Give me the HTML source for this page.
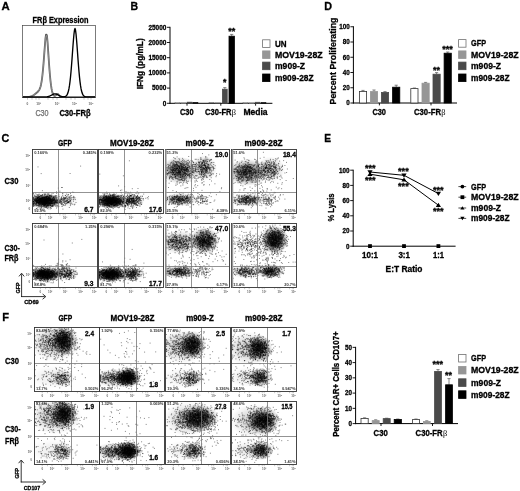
<!DOCTYPE html>
<html><head><meta charset="utf-8"><title>Figure</title>
<style>
html,body{margin:0;padding:0;background:#fff;}
svg{display:block;font-family:'Liberation Sans', sans-serif;}
</style></head>
<body>
<svg width="520" height="491" viewBox="0 0 520 491">
<defs><filter id="bl" x="-5%" y="-5%" width="110%" height="110%"><feGaussianBlur stdDeviation="0.35"/></filter><radialGradient id="bg"><stop offset="0" stop-color="#000" stop-opacity="1"/><stop offset="0.45" stop-color="#000" stop-opacity="0.8"/><stop offset="0.75" stop-color="#000" stop-opacity="0.3"/><stop offset="1" stop-color="#000" stop-opacity="0"/></radialGradient><clipPath id="c0"><rect x="32.6" y="149.4" width="65.0" height="64.2"/></clipPath><clipPath id="c1"><rect x="98.6" y="149.4" width="64.8" height="64.2"/></clipPath><clipPath id="c2"><rect x="165.0" y="149.4" width="64.0" height="64.2"/></clipPath><clipPath id="c3"><rect x="231.6" y="149.4" width="65.2" height="64.2"/></clipPath><clipPath id="c4"><rect x="32.6" y="223.2" width="65.0" height="64.2"/></clipPath><clipPath id="c5"><rect x="98.6" y="223.2" width="64.8" height="64.2"/></clipPath><clipPath id="c6"><rect x="165.0" y="223.2" width="64.0" height="64.2"/></clipPath><clipPath id="c7"><rect x="231.6" y="223.2" width="65.2" height="64.2"/></clipPath><clipPath id="c8"><rect x="34.4" y="327.6" width="65.2" height="63.8"/></clipPath><clipPath id="c9"><rect x="99.6" y="327.6" width="65.0" height="63.8"/></clipPath><clipPath id="c10"><rect x="165.6" y="327.6" width="65.0" height="63.8"/></clipPath><clipPath id="c11"><rect x="231.6" y="327.6" width="65.2" height="63.8"/></clipPath><clipPath id="c12"><rect x="34.4" y="401.0" width="65.2" height="63.4"/></clipPath><clipPath id="c13"><rect x="99.6" y="401.0" width="65.0" height="63.4"/></clipPath><clipPath id="c14"><rect x="165.6" y="401.0" width="65.0" height="63.4"/></clipPath><clipPath id="c15"><rect x="231.6" y="401.0" width="65.2" height="63.4"/></clipPath></defs>
<rect width="520" height="491" fill="#fff"/>
<text x="1.40" y="9.70" font-size="11.44" font-weight="bold" fill="#000" textLength="8.20" lengthAdjust="spacingAndGlyphs" stroke="#000" stroke-width="0.3">A</text>
<text x="130.40" y="9.70" font-size="11.44" font-weight="bold" fill="#000" textLength="7.60" lengthAdjust="spacingAndGlyphs" stroke="#000" stroke-width="0.3">B</text>
<text x="324.20" y="9.70" font-size="11.44" font-weight="bold" fill="#000" textLength="7.80" lengthAdjust="spacingAndGlyphs" stroke="#000" stroke-width="0.3">D</text>
<text x="1.40" y="142.20" font-size="11.44" font-weight="bold" fill="#000" textLength="7.80" lengthAdjust="spacingAndGlyphs" stroke="#000" stroke-width="0.3">C</text>
<text x="324.20" y="142.20" font-size="11.44" font-weight="bold" fill="#000" textLength="6.80" lengthAdjust="spacingAndGlyphs" stroke="#000" stroke-width="0.3">E</text>
<text x="2.20" y="320.70" font-size="11.44" font-weight="bold" fill="#000" textLength="6.80" lengthAdjust="spacingAndGlyphs" stroke="#000" stroke-width="0.3">F</text>
<text x="32.60" y="22.70" font-size="8.14" font-weight="bold" fill="#000" textLength="56.00" lengthAdjust="spacingAndGlyphs" stroke="#000" stroke-width="0.3">FRβ Expression</text>
<rect x="22.50" y="25.50" width="73.00" height="72.00" fill="none" stroke="#444" stroke-width="0.7"/>
<path d="M23.0 97.2 L23.5 97.2 L24.0 97.2 L24.5 97.2 L25.0 97.2 L25.5 97.2 L26.0 97.2 L26.5 97.1 L27.0 97.1 L27.5 97.1 L28.0 97.0 L28.5 97.0 L29.0 96.9 L29.5 96.8 L30.0 96.7 L30.5 96.6 L31.0 96.4 L31.5 96.3 L32.0 96.0 L32.5 95.8 L33.0 95.5 L33.5 95.2 L34.0 94.9 L34.5 94.5 L35.0 94.1 L35.5 93.7 L36.0 93.3 L36.5 92.9 L37.0 92.5 L37.5 92.0 L38.0 91.5 L38.5 90.9 L39.0 90.2 L39.5 89.4 L40.0 88.2 L40.5 86.7 L41.0 84.7 L41.5 82.1 L42.0 78.8 L42.5 74.7 L43.0 69.7 L43.5 63.9 L44.0 57.4 L44.5 50.6 L45.0 44.0 L45.5 38.1 L46.0 34.6 L46.5 34.6 L47.0 36.1 L47.5 41.7 L48.0 48.6 L48.5 56.0 L49.0 63.2 L49.5 70.0 L50.0 75.9 L50.5 81.0 L51.0 85.2 L51.5 88.4 L52.0 91.0 L52.5 92.9 L53.0 94.2 L53.5 95.2 L54.0 95.7 L54.5 96.0 L55.0 95.9 L55.5 95.6 L56.0 95.1 L56.5 94.6 L57.0 94.2 L57.5 94.0 L58.0 94.2 L58.5 94.7 L59.0 95.3 L59.5 95.9 L60.0 96.4 L60.5 96.8 L61.0 97.0 L61.5 97.1 L62.0 97.2 L62.5 97.2 L63.0 97.2 L63.5 97.2 L64.0 97.2 L64.5 97.2 L65.0 97.2 L65.5 97.2 L66.0 97.2 L66.5 97.2 L67.0 97.2 L67.5 97.2 L68.0 97.2 L68.5 97.2 L69.0 97.2 L69.5 97.2 L70.0 97.2 L70.5 97.2 L71.0 97.2 L71.5 97.2 L72.0 97.2 L72.5 97.2 L73.0 97.2 L73.5 97.2 L74.0 97.2 L74.5 97.2 L75.0 97.2 L75.5 97.2 L76.0 97.2 L76.5 97.2 L77.0 97.2 L77.5 97.2 L78.0 97.2 L78.5 97.2 L79.0 97.2 L79.5 97.2 L80.0 97.2 L80.5 97.2 L81.0 97.2 L81.5 97.2 L82.0 97.2 L82.5 97.2 L83.0 97.2 L83.5 97.2 L84.0 97.2 L84.5 97.2 L85.0 97.2 L85.5 97.2 L86.0 97.2 L86.5 97.2 L87.0 97.2 L87.5 97.2 L88.0 97.2 L88.5 97.2 L89.0 97.2 L89.5 97.2 L90.0 97.2 L90.5 97.2 L91.0 97.2 L91.5 97.2 L92.0 97.2 L92.5 97.2 L93.0 97.2 L93.5 97.2 L94.0 97.2 L94.5 97.2 L95.0 97.2" fill="none" stroke="#555" stroke-width="1.8" stroke-linejoin="round"/>
<path d="M23.0 97.2 L23.5 97.2 L24.0 97.2 L24.5 97.2 L25.0 97.2 L25.5 97.2 L26.0 97.2 L26.5 97.1 L27.0 97.1 L27.5 97.1 L28.0 97.0 L28.5 97.0 L29.0 96.9 L29.5 96.8 L30.0 96.7 L30.5 96.6 L31.0 96.4 L31.5 96.3 L32.0 96.1 L32.5 95.8 L33.0 95.5 L33.5 95.2 L34.0 94.9 L34.5 94.6 L35.0 94.2 L35.5 93.8 L36.0 93.4 L36.5 93.0 L37.0 92.5 L37.5 92.1 L38.0 91.6 L38.5 91.0 L39.0 90.3 L39.5 89.5 L40.0 88.4 L40.5 86.9 L41.0 84.9 L41.5 82.4 L42.0 79.1 L42.5 75.0 L43.0 70.1 L43.5 64.4 L44.0 58.0 L44.5 51.4 L45.0 44.8 L45.5 39.1 L46.0 35.6 L46.5 35.6 L47.0 37.1 L47.5 42.6 L48.0 49.4 L48.5 56.6 L49.0 63.8 L49.5 70.4 L50.0 76.3 L50.5 81.3 L51.0 85.3 L51.5 88.6 L52.0 91.1 L52.5 92.9 L53.0 94.3 L53.5 95.2 L54.0 95.7 L54.5 96.0 L55.0 95.9 L55.5 95.6 L56.0 95.1 L56.5 94.6 L57.0 94.2 L57.5 94.1 L58.0 94.3 L58.5 94.7 L59.0 95.3 L59.5 95.9 L60.0 96.4 L60.5 96.8 L61.0 97.0 L61.5 97.1 L62.0 97.2 L62.5 97.2 L63.0 97.2 L63.5 97.2 L64.0 97.2 L64.5 97.2 L65.0 97.2 L65.5 97.2 L66.0 97.2 L66.5 97.2 L67.0 97.2 L67.5 97.2 L68.0 97.2 L68.5 97.2 L69.0 97.2 L69.5 97.2 L70.0 97.2 L70.5 97.2 L71.0 97.2 L71.5 97.2 L72.0 97.2 L72.5 97.2 L73.0 97.2 L73.5 97.2 L74.0 97.2 L74.5 97.2 L75.0 97.2 L75.5 97.2 L76.0 97.2 L76.5 97.2 L77.0 97.2 L77.5 97.2 L78.0 97.2 L78.5 97.2 L79.0 97.2 L79.5 97.2 L80.0 97.2 L80.5 97.2 L81.0 97.2 L81.5 97.2 L82.0 97.2 L82.5 97.2 L83.0 97.2 L83.5 97.2 L84.0 97.2 L84.5 97.2 L85.0 97.2 L85.5 97.2 L86.0 97.2 L86.5 97.2 L87.0 97.2 L87.5 97.2 L88.0 97.2 L88.5 97.2 L89.0 97.2 L89.5 97.2 L90.0 97.2 L90.5 97.2 L91.0 97.2 L91.5 97.2 L92.0 97.2 L92.5 97.2 L93.0 97.2 L93.5 97.2 L94.0 97.2 L94.5 97.2 L95.0 97.2" fill="none" stroke="#d0d0d0" stroke-width="0.45"/>
<path d="M23.0 97.0 L23.5 97.0 L24.0 97.0 L24.5 97.0 L25.0 97.0 L25.5 97.0 L26.0 97.0 L26.5 97.0 L27.0 97.0 L27.5 97.0 L28.0 97.0 L28.5 97.0 L29.0 97.0 L29.5 97.0 L30.0 97.0 L30.5 97.0 L31.0 97.0 L31.5 97.0 L32.0 97.0 L32.5 97.0 L33.0 97.0 L33.5 97.0 L34.0 97.0 L34.5 97.0 L35.0 97.0 L35.5 97.0 L36.0 97.0 L36.5 97.0 L37.0 97.0 L37.5 97.0 L38.0 97.0 L38.5 97.0 L39.0 97.0 L39.5 97.0 L40.0 97.0 L40.5 97.0 L41.0 97.0 L41.5 97.0 L42.0 97.0 L42.5 97.0 L43.0 97.0 L43.5 97.0 L44.0 97.0 L44.5 97.0 L45.0 96.9 L45.5 96.9 L46.0 96.9 L46.5 96.8 L47.0 96.8 L47.5 96.7 L48.0 96.6 L48.5 96.4 L49.0 96.3 L49.5 96.1 L50.0 95.9 L50.5 95.6 L51.0 95.4 L51.5 95.1 L52.0 94.9 L52.5 94.6 L53.0 94.4 L53.5 94.2 L54.0 94.0 L54.5 93.9 L55.0 93.9 L55.5 93.9 L56.0 94.0 L56.5 94.2 L57.0 94.4 L57.5 94.6 L58.0 94.9 L58.5 95.1 L59.0 95.4 L59.5 95.6 L60.0 95.9 L60.5 96.1 L61.0 96.3 L61.5 96.4 L62.0 96.6 L62.5 96.7 L63.0 96.7 L63.5 96.8 L64.0 96.7 L64.5 96.7 L65.0 96.6 L65.5 96.4 L66.0 96.1 L66.5 95.6 L67.0 94.9 L67.5 93.9 L68.0 92.6 L68.5 90.8 L69.0 88.4 L69.5 85.4 L70.0 81.6 L70.5 77.1 L71.0 71.8 L71.5 65.8 L72.0 59.2 L72.5 52.3 L73.0 45.5 L73.5 39.2 L74.0 33.8 L74.5 30.0 L75.0 28.4 L75.5 30.0 L76.0 33.8 L76.5 39.2 L77.0 45.5 L77.5 52.3 L78.0 59.2 L78.5 65.8 L79.0 71.8 L79.5 77.1 L80.0 81.6 L80.5 85.4 L81.0 88.4 L81.5 90.8 L82.0 92.6 L82.5 93.9 L83.0 94.9 L83.5 95.6 L84.0 96.1 L84.5 96.4 L85.0 96.6 L85.5 96.8 L86.0 96.9 L86.5 96.9 L87.0 97.0 L87.5 97.0 L88.0 97.0 L88.5 97.0 L89.0 97.0 L89.5 97.0 L90.0 97.0 L90.5 97.0 L91.0 97.0 L91.5 97.0 L92.0 97.0 L92.5 97.0 L93.0 97.0 L93.5 97.0 L94.0 97.0 L94.5 97.0 L95.0 97.0" fill="none" stroke="#000" stroke-width="1.35" stroke-linejoin="round"/>
<line x1="22.50" y1="97.50" x2="95.50" y2="97.50" stroke="#222" stroke-width="1.0"/>
<text x="27.50" y="105.20" font-size="3.2" font-weight="bold" fill="#666" text-anchor="middle">0</text>
<text x="38.50" y="105.20" font-size="3.2" font-weight="bold" fill="#666" text-anchor="middle">10²</text>
<text x="57.00" y="105.20" font-size="3.2" font-weight="bold" fill="#666" text-anchor="middle">10³</text>
<text x="74.50" y="105.20" font-size="3.2" font-weight="bold" fill="#666" text-anchor="middle">10⁴</text>
<text x="91.00" y="105.20" font-size="3.2" font-weight="bold" fill="#666" text-anchor="middle">10⁵</text>
<line x1="27.50" y1="98.20" x2="27.50" y2="99.60" stroke="#555" stroke-width="0.4"/>
<line x1="32.00" y1="98.20" x2="32.00" y2="99.60" stroke="#555" stroke-width="0.4"/>
<line x1="36.00" y1="98.20" x2="36.00" y2="99.60" stroke="#555" stroke-width="0.4"/>
<line x1="39.00" y1="98.20" x2="39.00" y2="99.60" stroke="#555" stroke-width="0.4"/>
<line x1="48.00" y1="98.20" x2="48.00" y2="99.60" stroke="#555" stroke-width="0.4"/>
<line x1="53.00" y1="98.20" x2="53.00" y2="99.60" stroke="#555" stroke-width="0.4"/>
<line x1="57.00" y1="98.20" x2="57.00" y2="99.60" stroke="#555" stroke-width="0.4"/>
<line x1="66.00" y1="98.20" x2="66.00" y2="99.60" stroke="#555" stroke-width="0.4"/>
<line x1="71.00" y1="98.20" x2="71.00" y2="99.60" stroke="#555" stroke-width="0.4"/>
<line x1="75.00" y1="98.20" x2="75.00" y2="99.60" stroke="#555" stroke-width="0.4"/>
<line x1="84.00" y1="98.20" x2="84.00" y2="99.60" stroke="#555" stroke-width="0.4"/>
<line x1="88.00" y1="98.20" x2="88.00" y2="99.60" stroke="#555" stroke-width="0.4"/>
<line x1="91.00" y1="98.20" x2="91.00" y2="99.60" stroke="#555" stroke-width="0.4"/>
<text x="35.40" y="115.50" font-size="8.36" font-weight="normal" fill="#707070" textLength="13.20" lengthAdjust="spacingAndGlyphs" stroke="#707070" stroke-width="0.25">C30</text>
<text x="59.40" y="115.50" font-size="8.36" font-weight="bold" fill="#000" textLength="31.20" lengthAdjust="spacingAndGlyphs" stroke="#000" stroke-width="0.3">C30-FRβ</text>
<line x1="170.00" y1="26.80" x2="170.00" y2="103.80" stroke="#000" stroke-width="1.0"/>
<line x1="167.00" y1="103.30" x2="170.00" y2="103.30" stroke="#000" stroke-width="0.9"/>
<text x="166.40" y="105.60" font-size="7.04" font-weight="bold" fill="#000" text-anchor="end" textLength="3.60" lengthAdjust="spacingAndGlyphs" stroke="#000" stroke-width="0.3">0</text>
<line x1="167.00" y1="88.10" x2="170.00" y2="88.10" stroke="#000" stroke-width="0.9"/>
<text x="166.40" y="90.40" font-size="7.04" font-weight="bold" fill="#000" text-anchor="end" textLength="14.40" lengthAdjust="spacingAndGlyphs" stroke="#000" stroke-width="0.3">5000</text>
<line x1="167.00" y1="72.90" x2="170.00" y2="72.90" stroke="#000" stroke-width="0.9"/>
<text x="166.40" y="75.20" font-size="7.04" font-weight="bold" fill="#000" text-anchor="end" textLength="18.00" lengthAdjust="spacingAndGlyphs" stroke="#000" stroke-width="0.3">10000</text>
<line x1="167.00" y1="57.70" x2="170.00" y2="57.70" stroke="#000" stroke-width="0.9"/>
<text x="166.40" y="60.00" font-size="7.04" font-weight="bold" fill="#000" text-anchor="end" textLength="18.00" lengthAdjust="spacingAndGlyphs" stroke="#000" stroke-width="0.3">15000</text>
<line x1="167.00" y1="42.50" x2="170.00" y2="42.50" stroke="#000" stroke-width="0.9"/>
<text x="166.40" y="44.80" font-size="7.04" font-weight="bold" fill="#000" text-anchor="end" textLength="18.00" lengthAdjust="spacingAndGlyphs" stroke="#000" stroke-width="0.3">20000</text>
<line x1="167.00" y1="27.30" x2="170.00" y2="27.30" stroke="#000" stroke-width="0.9"/>
<text x="166.40" y="29.60" font-size="7.04" font-weight="bold" fill="#000" text-anchor="end" textLength="18.00" lengthAdjust="spacingAndGlyphs" stroke="#000" stroke-width="0.3">25000</text>
<line x1="169.50" y1="103.30" x2="272.40" y2="103.30" stroke="#000" stroke-width="1.0"/>
<line x1="187.00" y1="103.30" x2="187.00" y2="105.70" stroke="#000" stroke-width="0.9"/>
<line x1="220.80" y1="103.30" x2="220.80" y2="105.70" stroke="#000" stroke-width="0.9"/>
<line x1="255.60" y1="103.30" x2="255.60" y2="105.70" stroke="#000" stroke-width="0.9"/>
<text x="143.40" y="89.30" font-size="8.36" font-weight="bold" fill="#000" textLength="51.00" lengthAdjust="spacingAndGlyphs" stroke="#000" stroke-width="0.3" transform="rotate(-90 143.40 89.30)">IFNg (pg/mL)</text>
<rect x="175.00" y="102.60" width="5.00" height="0.70" fill="#fff" stroke="#555" stroke-width="0.4"/>
<rect x="181.00" y="102.50" width="5.00" height="0.80" fill="#969696" stroke="#969696" stroke-width="0.4"/>
<rect x="187.00" y="102.00" width="5.50" height="1.30" fill="#4a4a4a" stroke="#4a4a4a" stroke-width="0.4"/>
<rect x="193.00" y="102.30" width="5.00" height="1.00" fill="#000" stroke="#000" stroke-width="0.4"/>
<rect x="243.00" y="102.70" width="5.00" height="0.60" fill="#fff" stroke="#555" stroke-width="0.4"/>
<rect x="249.00" y="102.60" width="5.00" height="0.70" fill="#969696" stroke="#969696" stroke-width="0.4"/>
<rect x="255.00" y="102.10" width="5.00" height="1.20" fill="#4a4a4a" stroke="#4a4a4a" stroke-width="0.4"/>
<rect x="261.00" y="102.40" width="5.00" height="0.90" fill="#000" stroke="#000" stroke-width="0.4"/>
<rect x="209.00" y="102.70" width="5.00" height="0.30" fill="#fff" stroke="#555" stroke-width="0.4"/>
<rect x="215.50" y="102.60" width="5.00" height="0.40" fill="#969696" stroke="#969696" stroke-width="0.4"/>
<line x1="224.80" y1="87.60" x2="224.80" y2="89.20" stroke="#555" stroke-width="0.7"/>
<line x1="223.20" y1="87.60" x2="226.40" y2="87.60" stroke="#555" stroke-width="0.7"/>
<rect x="222.40" y="89.20" width="4.80" height="14.10" fill="#4a4a4a" stroke="#4a4a4a" stroke-width="0.8"/>
<line x1="231.70" y1="34.40" x2="231.70" y2="36.20" stroke="#555" stroke-width="0.7"/>
<line x1="230.10" y1="34.40" x2="233.30" y2="34.40" stroke="#555" stroke-width="0.7"/>
<rect x="229.00" y="36.20" width="5.40" height="67.10" fill="#000" stroke="#000" stroke-width="0.8"/>
<text x="224.80" y="85.20" font-size="8.8" font-weight="bold" fill="#000" text-anchor="middle" stroke="#000" stroke-width="0.3">*</text>
<text x="231.70" y="33.80" font-size="8.8" font-weight="bold" fill="#000" text-anchor="middle" textLength="7.00" lengthAdjust="spacingAndGlyphs" stroke="#000" stroke-width="0.3">**</text>
<text x="180.00" y="115.20" font-size="8.36" font-weight="bold" fill="#000" textLength="13.60" lengthAdjust="spacingAndGlyphs" stroke="#000" stroke-width="0.3">C30</text>
<text x="205.00" y="115.20" font-size="8.36" font-weight="bold" fill="#000" textLength="26.50" lengthAdjust="spacingAndGlyphs" stroke="#000" stroke-width="0.3">C30-FR</text>
<text x="231.70" y="115.20" font-size="8.36" font-weight="normal" fill="#000" font-family="Liberation Serif, serif">β</text>
<text x="243.40" y="115.20" font-size="8.36" font-weight="bold" fill="#000" textLength="24.20" lengthAdjust="spacingAndGlyphs" stroke="#000" stroke-width="0.3">Media</text>
<rect x="262.60" y="39.80" width="7.40" height="7.60" fill="#fff" stroke="#707070" stroke-width="0.8"/>
<text x="275.00" y="46.50" font-size="8.69" font-weight="bold" fill="#000" textLength="11.60" lengthAdjust="spacingAndGlyphs" stroke="#000" stroke-width="0.3">UN</text>
<rect x="262.60" y="50.90" width="7.40" height="7.60" fill="#969696" stroke="#969696" stroke-width="0.8"/>
<text x="275.00" y="57.60" font-size="8.69" font-weight="bold" fill="#000" textLength="47.60" lengthAdjust="spacingAndGlyphs" stroke="#000" stroke-width="0.3">MOV19-28Z</text>
<rect x="262.60" y="62.10" width="7.40" height="7.60" fill="#4a4a4a" stroke="#4a4a4a" stroke-width="0.8"/>
<text x="275.00" y="68.80" font-size="8.69" font-weight="bold" fill="#000" textLength="30.00" lengthAdjust="spacingAndGlyphs" stroke="#000" stroke-width="0.3">m909-Z</text>
<rect x="262.60" y="74.00" width="7.40" height="7.60" fill="#000" stroke="#000" stroke-width="0.8"/>
<text x="275.00" y="80.70" font-size="8.69" font-weight="bold" fill="#000" textLength="38.60" lengthAdjust="spacingAndGlyphs" stroke="#000" stroke-width="0.3">m909-28Z</text>
<line x1="353.40" y1="26.25" x2="353.40" y2="103.50" stroke="#000" stroke-width="1.0"/>
<line x1="350.40" y1="103.00" x2="353.40" y2="103.00" stroke="#000" stroke-width="0.9"/>
<text x="349.80" y="105.30" font-size="7.04" font-weight="bold" fill="#000" text-anchor="end" textLength="3.50" lengthAdjust="spacingAndGlyphs" stroke="#000" stroke-width="0.3">0</text>
<line x1="350.40" y1="87.75" x2="353.40" y2="87.75" stroke="#000" stroke-width="0.9"/>
<text x="349.80" y="90.05" font-size="7.04" font-weight="bold" fill="#000" text-anchor="end" textLength="7.00" lengthAdjust="spacingAndGlyphs" stroke="#000" stroke-width="0.3">20</text>
<line x1="350.40" y1="72.50" x2="353.40" y2="72.50" stroke="#000" stroke-width="0.9"/>
<text x="349.80" y="74.80" font-size="7.04" font-weight="bold" fill="#000" text-anchor="end" textLength="7.00" lengthAdjust="spacingAndGlyphs" stroke="#000" stroke-width="0.3">40</text>
<line x1="350.40" y1="57.25" x2="353.40" y2="57.25" stroke="#000" stroke-width="0.9"/>
<text x="349.80" y="59.55" font-size="7.04" font-weight="bold" fill="#000" text-anchor="end" textLength="7.00" lengthAdjust="spacingAndGlyphs" stroke="#000" stroke-width="0.3">60</text>
<line x1="350.40" y1="42.00" x2="353.40" y2="42.00" stroke="#000" stroke-width="0.9"/>
<text x="349.80" y="44.30" font-size="7.04" font-weight="bold" fill="#000" text-anchor="end" textLength="7.00" lengthAdjust="spacingAndGlyphs" stroke="#000" stroke-width="0.3">80</text>
<line x1="350.40" y1="26.75" x2="353.40" y2="26.75" stroke="#000" stroke-width="0.9"/>
<text x="349.80" y="29.05" font-size="7.04" font-weight="bold" fill="#000" text-anchor="end" textLength="10.50" lengthAdjust="spacingAndGlyphs" stroke="#000" stroke-width="0.3">100</text>
<line x1="352.90" y1="103.00" x2="457.00" y2="103.00" stroke="#000" stroke-width="1.0"/>
<line x1="379.40" y1="103.00" x2="379.40" y2="105.40" stroke="#000" stroke-width="0.9"/>
<line x1="431.00" y1="103.00" x2="431.00" y2="105.40" stroke="#000" stroke-width="0.9"/>
<text x="336.00" y="104.50" font-size="8.69" font-weight="bold" fill="#000" textLength="87.00" lengthAdjust="spacingAndGlyphs" stroke="#000" stroke-width="0.3" transform="rotate(-90 336.00 104.50)">Percent Proliferating</text>
<line x1="363.00" y1="90.40" x2="363.00" y2="91.40" stroke="#555" stroke-width="0.7"/>
<line x1="361.40" y1="90.40" x2="364.60" y2="90.40" stroke="#555" stroke-width="0.7"/>
<rect x="359.40" y="91.40" width="7.20" height="11.60" fill="#fff" stroke="#333" stroke-width="0.8"/>
<line x1="374.00" y1="90.00" x2="374.00" y2="91.60" stroke="#555" stroke-width="0.7"/>
<line x1="372.40" y1="90.00" x2="375.60" y2="90.00" stroke="#555" stroke-width="0.7"/>
<rect x="370.40" y="91.60" width="7.20" height="11.40" fill="#969696" stroke="#969696" stroke-width="0.8"/>
<line x1="385.00" y1="91.60" x2="385.00" y2="92.40" stroke="#555" stroke-width="0.7"/>
<line x1="383.40" y1="91.60" x2="386.60" y2="91.60" stroke="#555" stroke-width="0.7"/>
<rect x="381.40" y="92.40" width="7.20" height="10.60" fill="#4a4a4a" stroke="#4a4a4a" stroke-width="0.8"/>
<line x1="396.20" y1="85.20" x2="396.20" y2="87.20" stroke="#555" stroke-width="0.7"/>
<line x1="394.60" y1="85.20" x2="397.80" y2="85.20" stroke="#555" stroke-width="0.7"/>
<rect x="392.60" y="87.20" width="7.20" height="15.80" fill="#000" stroke="#000" stroke-width="0.8"/>
<line x1="414.40" y1="88.00" x2="414.40" y2="88.60" stroke="#555" stroke-width="0.7"/>
<line x1="412.80" y1="88.00" x2="416.00" y2="88.00" stroke="#555" stroke-width="0.7"/>
<rect x="410.80" y="88.60" width="7.20" height="14.40" fill="#fff" stroke="#333" stroke-width="0.8"/>
<line x1="425.60" y1="82.40" x2="425.60" y2="83.20" stroke="#555" stroke-width="0.7"/>
<line x1="424.00" y1="82.40" x2="427.20" y2="82.40" stroke="#555" stroke-width="0.7"/>
<rect x="422.00" y="83.20" width="7.20" height="19.80" fill="#969696" stroke="#969696" stroke-width="0.8"/>
<line x1="436.60" y1="72.60" x2="436.60" y2="74.20" stroke="#555" stroke-width="0.7"/>
<line x1="435.00" y1="72.60" x2="438.20" y2="72.60" stroke="#555" stroke-width="0.7"/>
<rect x="433.00" y="74.20" width="7.20" height="28.80" fill="#4a4a4a" stroke="#4a4a4a" stroke-width="0.8"/>
<line x1="447.70" y1="52.00" x2="447.70" y2="53.20" stroke="#555" stroke-width="0.7"/>
<line x1="446.10" y1="52.00" x2="449.30" y2="52.00" stroke="#555" stroke-width="0.7"/>
<rect x="444.10" y="53.20" width="7.20" height="49.80" fill="#000" stroke="#000" stroke-width="0.8"/>
<text x="436.60" y="72.60" font-size="8.8" font-weight="bold" fill="#000" text-anchor="middle" textLength="7.00" lengthAdjust="spacingAndGlyphs" stroke="#000" stroke-width="0.3">**</text>
<text x="447.50" y="51.80" font-size="8.8" font-weight="bold" fill="#000" text-anchor="middle" textLength="10.60" lengthAdjust="spacingAndGlyphs" stroke="#000" stroke-width="0.3">***</text>
<text x="372.40" y="115.20" font-size="8.36" font-weight="bold" fill="#000" textLength="13.60" lengthAdjust="spacingAndGlyphs" stroke="#000" stroke-width="0.3">C30</text>
<text x="414.00" y="115.20" font-size="8.36" font-weight="bold" fill="#000" textLength="27.00" lengthAdjust="spacingAndGlyphs" stroke="#000" stroke-width="0.3">C30-FR</text>
<text x="441.20" y="115.20" font-size="8.36" font-weight="normal" fill="#000" font-family="Liberation Serif, serif">β</text>
<rect x="458.60" y="39.60" width="7.40" height="7.60" fill="#fff" stroke="#707070" stroke-width="0.8"/>
<text x="471.00" y="46.30" font-size="8.69" font-weight="bold" fill="#000" textLength="15.00" lengthAdjust="spacingAndGlyphs" stroke="#000" stroke-width="0.3">GFP</text>
<rect x="458.60" y="50.90" width="7.40" height="7.60" fill="#969696" stroke="#969696" stroke-width="0.8"/>
<text x="471.00" y="57.60" font-size="8.69" font-weight="bold" fill="#000" textLength="47.60" lengthAdjust="spacingAndGlyphs" stroke="#000" stroke-width="0.3">MOV19-28Z</text>
<rect x="458.60" y="62.10" width="7.40" height="7.60" fill="#4a4a4a" stroke="#4a4a4a" stroke-width="0.8"/>
<text x="471.00" y="68.80" font-size="8.69" font-weight="bold" fill="#000" textLength="30.00" lengthAdjust="spacingAndGlyphs" stroke="#000" stroke-width="0.3">m909-Z</text>
<rect x="458.60" y="74.00" width="7.40" height="7.60" fill="#000" stroke="#000" stroke-width="0.8"/>
<text x="471.00" y="80.70" font-size="8.69" font-weight="bold" fill="#000" textLength="38.60" lengthAdjust="spacingAndGlyphs" stroke="#000" stroke-width="0.3">m909-28Z</text>
<line x1="353.20" y1="169.70" x2="353.20" y2="246.70" stroke="#000" stroke-width="1.0"/>
<line x1="350.20" y1="246.20" x2="353.20" y2="246.20" stroke="#000" stroke-width="0.9"/>
<text x="349.60" y="248.50" font-size="7.04" font-weight="bold" fill="#000" text-anchor="end" textLength="3.50" lengthAdjust="spacingAndGlyphs" stroke="#000" stroke-width="0.3">0</text>
<line x1="350.20" y1="231.00" x2="353.20" y2="231.00" stroke="#000" stroke-width="0.9"/>
<text x="349.60" y="233.30" font-size="7.04" font-weight="bold" fill="#000" text-anchor="end" textLength="7.00" lengthAdjust="spacingAndGlyphs" stroke="#000" stroke-width="0.3">20</text>
<line x1="350.20" y1="215.80" x2="353.20" y2="215.80" stroke="#000" stroke-width="0.9"/>
<text x="349.60" y="218.10" font-size="7.04" font-weight="bold" fill="#000" text-anchor="end" textLength="7.00" lengthAdjust="spacingAndGlyphs" stroke="#000" stroke-width="0.3">40</text>
<line x1="350.20" y1="200.60" x2="353.20" y2="200.60" stroke="#000" stroke-width="0.9"/>
<text x="349.60" y="202.90" font-size="7.04" font-weight="bold" fill="#000" text-anchor="end" textLength="7.00" lengthAdjust="spacingAndGlyphs" stroke="#000" stroke-width="0.3">60</text>
<line x1="350.20" y1="185.40" x2="353.20" y2="185.40" stroke="#000" stroke-width="0.9"/>
<text x="349.60" y="187.70" font-size="7.04" font-weight="bold" fill="#000" text-anchor="end" textLength="7.00" lengthAdjust="spacingAndGlyphs" stroke="#000" stroke-width="0.3">80</text>
<line x1="350.20" y1="170.20" x2="353.20" y2="170.20" stroke="#000" stroke-width="0.9"/>
<text x="349.60" y="172.50" font-size="7.04" font-weight="bold" fill="#000" text-anchor="end" textLength="10.50" lengthAdjust="spacingAndGlyphs" stroke="#000" stroke-width="0.3">100</text>
<line x1="352.70" y1="246.20" x2="455.60" y2="246.20" stroke="#000" stroke-width="1.0"/>
<text x="333.60" y="221.50" font-size="9.02" font-weight="bold" fill="#000" textLength="28.00" lengthAdjust="spacingAndGlyphs" stroke="#000" stroke-width="0.3" transform="rotate(-90 333.60 221.50)">% Lysis</text>
<polyline points="370,172.0 404,175.3 438.4,193.6" fill="none" stroke="#000" stroke-width="1.0"/>
<polyline points="370,174.2 404,179.8 438.4,205.2" fill="none" stroke="#000" stroke-width="1.0"/>
<path d="M367.4 170.2h5.2l-2.6 4.2z" fill="#000"/>
<path d="M401.4 173.5h5.2l-2.6 4.2z" fill="#000"/>
<path d="M435.8 191.8h5.2l-2.6 4.2z" fill="#000"/>
<path d="M367.4 176.0h5.2l-2.6 -4.2z" fill="#000"/>
<path d="M401.4 181.6h5.2l-2.6 -4.2z" fill="#000"/>
<path d="M435.8 207.0h5.2l-2.6 -4.2z" fill="#000"/>
<rect x="368.10" y="244.20" width="3.80" height="3.80" fill="#000" stroke="none" stroke-width="0"/>
<rect x="402.10" y="244.20" width="3.80" height="3.80" fill="#000" stroke="none" stroke-width="0"/>
<rect x="436.50" y="244.20" width="3.80" height="3.80" fill="#000" stroke="none" stroke-width="0"/>
<text x="370.30" y="170.60" font-size="8.8" font-weight="bold" fill="#000" text-anchor="middle" textLength="10.60" lengthAdjust="spacingAndGlyphs" stroke="#000" stroke-width="0.3">***</text>
<text x="370.30" y="183.00" font-size="8.8" font-weight="bold" fill="#000" text-anchor="middle" textLength="10.60" lengthAdjust="spacingAndGlyphs" stroke="#000" stroke-width="0.3">***</text>
<text x="403.40" y="174.00" font-size="8.8" font-weight="bold" fill="#000" text-anchor="middle" textLength="10.60" lengthAdjust="spacingAndGlyphs" stroke="#000" stroke-width="0.3">***</text>
<text x="403.40" y="188.60" font-size="8.8" font-weight="bold" fill="#000" text-anchor="middle" textLength="10.60" lengthAdjust="spacingAndGlyphs" stroke="#000" stroke-width="0.3">***</text>
<text x="438.30" y="192.60" font-size="8.8" font-weight="bold" fill="#000" text-anchor="middle" textLength="10.60" lengthAdjust="spacingAndGlyphs" stroke="#000" stroke-width="0.3">***</text>
<text x="438.30" y="213.60" font-size="8.8" font-weight="bold" fill="#000" text-anchor="middle" textLength="10.60" lengthAdjust="spacingAndGlyphs" stroke="#000" stroke-width="0.3">***</text>
<text x="362.00" y="258.40" font-size="8.36" font-weight="bold" fill="#000" textLength="16.00" lengthAdjust="spacingAndGlyphs" stroke="#000" stroke-width="0.3">10:1</text>
<text x="398.40" y="258.40" font-size="8.36" font-weight="bold" fill="#000" textLength="11.60" lengthAdjust="spacingAndGlyphs" stroke="#000" stroke-width="0.3">3:1</text>
<text x="433.00" y="258.40" font-size="8.36" font-weight="bold" fill="#000" textLength="11.00" lengthAdjust="spacingAndGlyphs" stroke="#000" stroke-width="0.3">1:1</text>
<text x="385.60" y="272.00" font-size="8.36" font-weight="bold" fill="#000" textLength="36.80" lengthAdjust="spacingAndGlyphs" stroke="#000" stroke-width="0.3">E:T  Ratio</text>
<line x1="458.40" y1="186.60" x2="466.20" y2="186.60" stroke="#000" stroke-width="0.7"/>
<line x1="458.40" y1="197.20" x2="466.20" y2="197.20" stroke="#000" stroke-width="0.7"/>
<line x1="458.40" y1="208.00" x2="466.20" y2="208.00" stroke="#000" stroke-width="0.7"/>
<line x1="458.40" y1="218.40" x2="466.20" y2="218.40" stroke="#000" stroke-width="0.7"/>
<circle cx="462.4" cy="186.6" r="1.9" fill="#000"/>
<rect x="460.50" y="195.30" width="3.80" height="3.80" fill="#000" stroke="none" stroke-width="0"/>
<path d="M460.3 209.6h4.2l-2.1 -3.4z" fill="#000"/>
<path d="M460.3 216.8h4.2l-2.1 3.4z" fill="#000"/>
<text x="471.00" y="189.50" font-size="8.69" font-weight="bold" fill="#000" textLength="15.00" lengthAdjust="spacingAndGlyphs" stroke="#000" stroke-width="0.3">GFP</text>
<text x="471.00" y="200.10" font-size="8.69" font-weight="bold" fill="#000" textLength="47.60" lengthAdjust="spacingAndGlyphs" stroke="#000" stroke-width="0.3">MOV19-28Z</text>
<text x="471.00" y="210.90" font-size="8.69" font-weight="bold" fill="#000" textLength="30.00" lengthAdjust="spacingAndGlyphs" stroke="#000" stroke-width="0.3">m909-Z</text>
<text x="471.00" y="221.30" font-size="8.69" font-weight="bold" fill="#000" textLength="38.60" lengthAdjust="spacingAndGlyphs" stroke="#000" stroke-width="0.3">m909-28Z</text>
<line x1="355.60" y1="346.85" x2="355.60" y2="424.10" stroke="#000" stroke-width="1.0"/>
<line x1="352.60" y1="423.60" x2="355.60" y2="423.60" stroke="#000" stroke-width="0.9"/>
<text x="352.00" y="425.90" font-size="7.04" font-weight="bold" fill="#000" text-anchor="end" textLength="3.50" lengthAdjust="spacingAndGlyphs" stroke="#000" stroke-width="0.3">0</text>
<line x1="352.60" y1="408.35" x2="355.60" y2="408.35" stroke="#000" stroke-width="0.9"/>
<text x="352.00" y="410.65" font-size="7.04" font-weight="bold" fill="#000" text-anchor="end" textLength="7.00" lengthAdjust="spacingAndGlyphs" stroke="#000" stroke-width="0.3">10</text>
<line x1="352.60" y1="393.10" x2="355.60" y2="393.10" stroke="#000" stroke-width="0.9"/>
<text x="352.00" y="395.40" font-size="7.04" font-weight="bold" fill="#000" text-anchor="end" textLength="7.00" lengthAdjust="spacingAndGlyphs" stroke="#000" stroke-width="0.3">20</text>
<line x1="352.60" y1="377.85" x2="355.60" y2="377.85" stroke="#000" stroke-width="0.9"/>
<text x="352.00" y="380.15" font-size="7.04" font-weight="bold" fill="#000" text-anchor="end" textLength="7.00" lengthAdjust="spacingAndGlyphs" stroke="#000" stroke-width="0.3">30</text>
<line x1="352.60" y1="362.60" x2="355.60" y2="362.60" stroke="#000" stroke-width="0.9"/>
<text x="352.00" y="364.90" font-size="7.04" font-weight="bold" fill="#000" text-anchor="end" textLength="7.00" lengthAdjust="spacingAndGlyphs" stroke="#000" stroke-width="0.3">40</text>
<line x1="352.60" y1="347.35" x2="355.60" y2="347.35" stroke="#000" stroke-width="0.9"/>
<text x="352.00" y="349.65" font-size="7.04" font-weight="bold" fill="#000" text-anchor="end" textLength="7.00" lengthAdjust="spacingAndGlyphs" stroke="#000" stroke-width="0.3">50</text>
<line x1="355.10" y1="423.60" x2="458.00" y2="423.60" stroke="#000" stroke-width="1.0"/>
<line x1="381.00" y1="423.60" x2="381.00" y2="426.00" stroke="#000" stroke-width="0.9"/>
<line x1="432.50" y1="423.60" x2="432.50" y2="426.00" stroke="#000" stroke-width="0.9"/>
<text x="338.60" y="436.80" font-size="8.69" font-weight="bold" fill="#000" textLength="105.50" lengthAdjust="spacingAndGlyphs" stroke="#000" stroke-width="0.3" transform="rotate(-90 338.60 436.80)">Percent CAR+ Cells CD107+</text>
<line x1="364.60" y1="417.80" x2="364.60" y2="418.40" stroke="#555" stroke-width="0.7"/>
<line x1="363.00" y1="417.80" x2="366.20" y2="417.80" stroke="#555" stroke-width="0.7"/>
<rect x="361.00" y="418.40" width="7.20" height="5.20" fill="#fff" stroke="#333" stroke-width="0.8"/>
<line x1="375.70" y1="419.80" x2="375.70" y2="420.60" stroke="#555" stroke-width="0.7"/>
<line x1="374.10" y1="419.80" x2="377.30" y2="419.80" stroke="#555" stroke-width="0.7"/>
<rect x="372.20" y="420.60" width="7.00" height="3.00" fill="#969696" stroke="#969696" stroke-width="0.8"/>
<line x1="386.70" y1="418.20" x2="386.70" y2="418.60" stroke="#555" stroke-width="0.7"/>
<line x1="385.10" y1="418.20" x2="388.30" y2="418.20" stroke="#555" stroke-width="0.7"/>
<rect x="383.20" y="418.60" width="7.00" height="5.00" fill="#4a4a4a" stroke="#4a4a4a" stroke-width="0.8"/>
<line x1="397.80" y1="419.00" x2="397.80" y2="419.40" stroke="#555" stroke-width="0.7"/>
<line x1="396.20" y1="419.00" x2="399.40" y2="419.00" stroke="#555" stroke-width="0.7"/>
<rect x="394.20" y="419.40" width="7.20" height="4.20" fill="#000" stroke="#000" stroke-width="0.8"/>
<line x1="416.00" y1="419.00" x2="416.00" y2="419.60" stroke="#555" stroke-width="0.7"/>
<line x1="414.40" y1="419.00" x2="417.60" y2="419.00" stroke="#555" stroke-width="0.7"/>
<rect x="412.40" y="419.60" width="7.20" height="4.00" fill="#fff" stroke="#333" stroke-width="0.8"/>
<line x1="426.80" y1="420.80" x2="426.80" y2="421.40" stroke="#555" stroke-width="0.7"/>
<line x1="425.20" y1="420.80" x2="428.40" y2="420.80" stroke="#555" stroke-width="0.7"/>
<rect x="423.40" y="421.40" width="6.80" height="2.20" fill="#969696" stroke="#969696" stroke-width="0.8"/>
<line x1="438.00" y1="369.60" x2="438.00" y2="371.40" stroke="#555" stroke-width="0.7"/>
<line x1="436.40" y1="369.60" x2="439.60" y2="369.60" stroke="#555" stroke-width="0.7"/>
<rect x="434.60" y="371.40" width="6.80" height="52.20" fill="#4a4a4a" stroke="#4a4a4a" stroke-width="0.8"/>
<line x1="449.00" y1="378.60" x2="449.00" y2="384.80" stroke="#555" stroke-width="0.7"/>
<line x1="447.40" y1="378.60" x2="450.60" y2="378.60" stroke="#555" stroke-width="0.7"/>
<rect x="445.60" y="384.80" width="6.80" height="38.80" fill="#000" stroke="#000" stroke-width="0.8"/>
<text x="437.80" y="367.20" font-size="8.8" font-weight="bold" fill="#000" text-anchor="middle" textLength="10.60" lengthAdjust="spacingAndGlyphs" stroke="#000" stroke-width="0.3">***</text>
<text x="448.40" y="378.20" font-size="8.8" font-weight="bold" fill="#000" text-anchor="middle" textLength="7.00" lengthAdjust="spacingAndGlyphs" stroke="#000" stroke-width="0.3">**</text>
<text x="373.60" y="435.60" font-size="8.36" font-weight="bold" fill="#000" textLength="14.20" lengthAdjust="spacingAndGlyphs" stroke="#000" stroke-width="0.3">C30</text>
<text x="415.60" y="435.60" font-size="8.36" font-weight="bold" fill="#000" textLength="27.00" lengthAdjust="spacingAndGlyphs" stroke="#000" stroke-width="0.3">C30-FR</text>
<text x="443.00" y="435.60" font-size="8.36" font-weight="normal" fill="#000" font-family="Liberation Serif, serif">β</text>
<rect x="458.60" y="354.40" width="7.40" height="7.60" fill="#fff" stroke="#707070" stroke-width="0.8"/>
<text x="471.00" y="361.10" font-size="8.69" font-weight="bold" fill="#000" textLength="15.00" lengthAdjust="spacingAndGlyphs" stroke="#000" stroke-width="0.3">GFP</text>
<rect x="458.60" y="366.40" width="7.40" height="7.60" fill="#969696" stroke="#969696" stroke-width="0.8"/>
<text x="471.00" y="373.10" font-size="8.69" font-weight="bold" fill="#000" textLength="47.60" lengthAdjust="spacingAndGlyphs" stroke="#000" stroke-width="0.3">MOV19-28Z</text>
<rect x="458.60" y="378.80" width="7.40" height="7.60" fill="#4a4a4a" stroke="#4a4a4a" stroke-width="0.8"/>
<text x="471.00" y="385.50" font-size="8.69" font-weight="bold" fill="#000" textLength="30.00" lengthAdjust="spacingAndGlyphs" stroke="#000" stroke-width="0.3">m909-Z</text>
<rect x="458.60" y="390.80" width="7.40" height="7.60" fill="#000" stroke="#000" stroke-width="0.8"/>
<text x="471.00" y="397.50" font-size="8.69" font-weight="bold" fill="#000" textLength="38.60" lengthAdjust="spacingAndGlyphs" stroke="#000" stroke-width="0.3">m909-28Z</text>
<text x="58.00" y="146.00" font-size="8.36" font-weight="bold" fill="#000" textLength="14.00" lengthAdjust="spacingAndGlyphs" stroke="#000" stroke-width="0.3">GFP</text>
<text x="110.00" y="146.00" font-size="8.36" font-weight="bold" fill="#000" textLength="44.00" lengthAdjust="spacingAndGlyphs" stroke="#000" stroke-width="0.3">MOV19-28Z</text>
<text x="185.50" y="146.00" font-size="8.36" font-weight="bold" fill="#000" textLength="28.20" lengthAdjust="spacingAndGlyphs" stroke="#000" stroke-width="0.3">m909-Z</text>
<text x="244.50" y="146.00" font-size="8.36" font-weight="bold" fill="#000" textLength="38.00" lengthAdjust="spacingAndGlyphs" stroke="#000" stroke-width="0.3">m909-28Z</text>
<text x="4.40" y="184.00" font-size="9.02" font-weight="bold" fill="#000" textLength="14.00" lengthAdjust="spacingAndGlyphs" stroke="#000" stroke-width="0.3">C30</text>
<text x="4.40" y="251.00" font-size="9.02" font-weight="bold" fill="#000" textLength="15.60" lengthAdjust="spacingAndGlyphs" stroke="#000" stroke-width="0.3">C30-</text>
<text x="4.40" y="261.00" font-size="9.02" font-weight="bold" fill="#000" textLength="14.00" lengthAdjust="spacingAndGlyphs" stroke="#000" stroke-width="0.3">FRβ</text>
<text x="30.20" y="157.02" font-size="3.0" font-weight="bold" fill="#666" text-anchor="end">10⁵</text>
<text x="30.20" y="171.14" font-size="3.0" font-weight="bold" fill="#666" text-anchor="end">10⁴</text>
<text x="30.20" y="186.55" font-size="3.0" font-weight="bold" fill="#666" text-anchor="end">10³</text>
<text x="30.20" y="201.96" font-size="3.0" font-weight="bold" fill="#666" text-anchor="end">10²</text>
<text x="30.20" y="209.66" font-size="3.0" font-weight="bold" fill="#666" text-anchor="end">0</text>
<ellipse cx="44.8" cy="201.0" rx="16.6" ry="7.8" fill="url(#bg)" opacity="0.95" clip-path="url(#c0)"/>
<ellipse cx="66.1" cy="200.4" rx="13.0" ry="7.8" fill="url(#bg)" opacity="0.08" clip-path="url(#c0)"/>
<path d="M80.6 166.1zm-42.6 .8zm32.1 6.6zm-28.9 .1zm21.2 13.9zm-.9 0zm-3.1 .6zm1.5 3.1zm-3.4 .6zm-14.1-1.1zm-8.8 2.7zm12.6-.7zm2.7 .5zm7.7 .1zm6 0zm10-1.1zm1.1 .2zm-3.2 1.2zm-2.2 1.1zm-.1-.3zm-1.8-.3zm-3.6-.3zm-9.7-.3zm-1.4 .5zm-3.4 0zm-.1 .6zm-.7-.7zm-1.8 .5zm-.4-.5zm-.7 .7zm-.4-.8zm-1.7 1.1zm0-.1zm-3.4-.8zm0 .9zm-1-.1zm-1.2-.1zm-1.1-.9zm-2.3 .3zm.5 1.7zm.6-.6zm.6 .9zm1.2 .3zm1.2-1.3zm.6 .4zm1.2 .9zm1-.1zm.2-.8zm.5 .5zm.1-.5zm.5 .2zm.5-.1zm2.4-.4zm1.5 1.1zm.2 .1zm0-.1zm.5 .1zm.1-.1zm.2 .1zm.6-1zm.2 .9zm.3 .1zm.7-.6zm.7-.6zm.1 1.2zm0-.5zm0 .1zm0-.6zm.3 .4zm.2-.5zm.4 .5zm.1 .5zm.9 .1zm.1-.8zm.1 .3zm2 .4zm.6-.2zm1.3-.1zm.2-.3zm.1 .1zm.8 .2zm2.1-1zm3.8 .4zm2.6 .3zm.2-.2zm1.3 .9zm1-.6zm2.7 .1zm.9-.3zm2.1 .8zm1.5 1.5zm-.7-.8zm-.6 .8zm-.3-.3zm-1.3 0zm-1.8-.5zm-.6 0zm-.1 0zm-.9 0zm-2 .7zm-.3-.8zm-1 .9zm-.3-.2zm-1 0zm-.7-.6zm-1.5-.4zm-.5 1.1zm0-.4zm-2.2-.5zm-.4-.4zm-1.9 1.1zm-.7-.3zm-.8 0zm-.3-.7zm-1.1 .5zm-.2 .8zm-.2-.6zm-.1 .1zm-.4-.4zm-.2 .2zm-1.2-.6zm-.5 .6zm-.6 .2zm-.8-.5zm-.1 .6zm-.2 0zm-.5 .2zm-.1-.5zm-.2 .3zm0 .3zm-.2 0zm-.3-.7zm-.1-.1zm-.1 .9zm-.5-1.4zm-.8 1zm0-.3zm-.1 0zm0 .6zm-.5-.1zm0-.2zm-.1-.4zm-.1 .2zm-.5 .5zm-.4-1.1zm0 0zm-.2 .9zm-.1-.1zm-.1 .1zm-.2 .1zm-.3 .1zm-.1-.1zm-.5-.5zm-.4 .6zm-.1 0zm0-.5zm-.2-.6zm-.3 1zm-.2 .2zm-.1-.2zm-.5 .1zm-.3-1zm-2-.2zm-.1 .2zm0 .9zm-.1-.7zm-.9-.1zm0 .6zm-.1-.9zm0 .9zm-.1 .1zm-.2 .1zm0-1.2zm-.1 1.4zm-.3-.4zm-.3-.4zm-1.1 .1zm0 .5zm-.1-1zm-1-.2zm-1.1 .7zm-.2 .3zm-.5 .4zm.3 1.2zm.1-.8zm.2 .6zm.2 .3zm.8-.1zm.5-.3zm0 0zm.5-.5zm.3 1zm.3-.2zm.4-.7zm.2 .4zm.3-.3zm0-.4zm0 .1zm.1 .8zm.1-.8zm.3 .6zm.2-.7zm0 .2zm0 .4zm.6-.7zm.3 1.4zm.4-.9zm0 .3zm.1-.2zm.1 .7zm.3-1.3zm.2 .5zm.1 .4zm.1-.9zm.1 1.3zm.1-.3zm0-.6zm.1 .3zm.1 .3zm.1 .1zm0-.2zm.1-.1zm.2-.5zm.5 .4zm0 .3zm0 .3zm0-.7zm.1-.1zm0 .7zm.1-.8zm.1 .5zm.1-.8zm0 .7zm.2 .3zm.2-.2zm.1-.2zm.2-.6zm0 1.1zm0-.4zm.4-.5zm.1 .5zm0 .4zm.1-.2zm.1-.9zm.2 .1zm.1 .5zm.3 .4zm.4 .1zm.2-.3zm0-.2zm0 .3zm.2-.7zm.3 1zm.2 .1zm.2-.4zm0-.2zm.4-.4zm.1-.3zm.1 1.1zm.1 .2zm0-1.4zm.2 1.3zm0-.9zm.2 .8zm0 .1zm.1 .1zm0-1.1zm0 .4zm.2 .3zm.7-.4zm.1-.4zm.1 .7zm.1-.8zm0 .5zm0 .5zm0-.6zm.1 .2zm0 .6zm.1-.9zm.1 .7zm0-.6zm.1 .7zm.3-.2zm.2-.9zm0 .1zm0 .6zm.3 .4zm.1-.7zm.2-.1zm.1 .1zm0 .4zm.1-.6zm.2 .1zm.4 .4zm.1-.1zm.1 .5zm0 0zm.2-.3zm0 .4zm.4-.4zm.5 .4zm.7-.2zm.3-.9zm.3 .7zm.1-.2zm.4 .7zm0 0zm.5-.2zm.2-.3zm.2 .4zm0-1.2zm0-.1zm.1 .2zm.2 1.1zm.4-1.2zm.3 1zm1-.7zm.2 .6zm.8 .4zm1.4-.2zm1.6-.2zm.6 0zm.7 0zm.1 .1zm0-.1zm.6 0zm.1 .3zm.1-.7zm1.1 .5zm.3-1.1zm.1 0zm.1 1zm.2 0zm.1 0zm.3-.3zm.4-.5zm.2 0zm.2 0zm.1 .1zm.8 .7zm.9-.3zm.3 .3zm.4-.9zm.1 1.2zm.9-1.2zm1 0zm.2 1zm.1-.7zm1.4-.4zm2.5 1.2zm1.4 .4zm-2 0zm-1.7 0zm-1 .7zm-.3 .2zm-.2-.5zm-.8-.1zm-1.1-.3zm-.6 .9zm-.2 .1zm-.7 0zm-.4-.4zm-.4 .3zm-.9-.8zm-.9 .1zm-.4 0zm-.1 .5zm-.1 .6zm-1.1-.6zm-.6-.3zm-.6-.2zm-.6 .6zm-.5-.3zm-.1-.1zm-.2 .1zm-.1 .4zm-2.2 .1zm-.3-.2zm0 .5zm-.4-1.3zm-.6 .8zm-.2 .1zm-.4-.5zm-.5 .9zm-.2-.7zm-.3-.3zm-.1 .3zm-.1-.3zm-.5 .4zm-.1 .3zm-.1 .2zm-.1-.9zm-.3 0zm-.1 .7zm0-.1zm-.9 .1zm-.1-1zm-.1 .9zm0 .1zm-.1-.1zm0-.9zm-.1 .1zm-.3 .6zm-.6 .2zm-.1-.8zm0 .4zm-.1 .8zm-.2-.7zm0-.3zm-.1 .8zm-.4-.3zm0 .1zm-.1-.3zm0-.4zm-.1 .1zm0 0zm-.2-.4zm-.1 1.2zm-.1-.1zm-.3-.7zm0 .2zm-.1 .5zm0-.5zm0 .4zm-.1-.9zm0 .9zm0-.6zm-.1 .7zm0-.5zm-.1 .2zm-.3-.3zm-.1 .2zm-.2-.7zm-.2 .9zm-.1 .2zm-.1-.7zm-.1 .1zm0 .3zm0-.2zm-.1 .4zm-.2-.1zm0-.4zm0 .7zm-.1-.3zm-.3-.1zm0-.5zm0-.1zm-.1 .4zm-.1 .4zm0-.3zm-.1 .7zm0-.3zm0-.2zm-.2-.3zm0 .2zm0-.3zm-.1-.3zm-.1 .9zm-.1-.5zm0 .4zm-.2-1zm0 1.1zm0 .2zm0-.3zm-.1-.3zm-.1 .6zm0-.2zm-.1-.4zm-.1-.4zm0 .7zm-.1 .1zm-.1-1zm-.1 0zm0 .7zm-.1-.5zm0 .9zm-.1-.5zm-.2-.1zm-.2 .1zm0-.3zm-.2 .5zm0-.5zm-.2 .2zm0 .5zm0-.5zm-.1 .7zm-.2-.4zm0 .3zm0-.1zm-.1-.8zm-.2 .3zm0 .4zm-.2-.2zm-.1-.7zm-.1 .5zm0 .7zm-.2-1.3zm-.1 .2zm0 1zm-.1-.5zm-.1-.4zm-.1 .9zm-.2 0zm0 0zm-.2 .1zm-.1-1zm-.2 .1zm-.4 .3zm-.1 .3zm0 0zm0 .4zm-.1-1.3zm-.2 1.1zm0-.7zm0 .6zm-.1 .2zm-.1-.8zm-.1 .8zm-.1-.4zm-.1 .3zm-.1 .2zm-.1-1.1zm-.1 1.1zm0-.4zm-.1-1zm-.1 .7zm-.1 .1zm0-.3zm-.4-.3zm-.1-.2zm-.2 .6zm0-.4zm-.2 .2zm-.1-.1zm-.1-.2zm-.1 1.1zm-.2-.3zm0 .3zm0-.8zm0-.1zm-.1-.3zm-.1 1.1zm-.1-.1zm-.2-.6zm0 0zm-.4 .7zm-.1-.8zm-.1 .5zm-.1 .2zm-.3 0zm-.1-.2zm-.1 .6zm-.1-.6zm-.1-.6zm-.2 .9zm-.1 .2zm-.2-.4zm-.1-.7zm-.2 0zm0-.1zm-.1 1zm-.1-.4zm-.2 .5zm-.1-.7zm0 .8zm-.4-.4zm-.2 .4zm0-1zm-.1 .5zm-.4-.2zm-.2 0zm0-.1zm-.6-.1zm-.4 2.5zm0-1.1zm0 .6zm.1-.6zm.1 .2zm.1 .1zm.1 .5zm.6 .2zm.4-.5zm.5-.8zm.3 .7zm.8-.3zm.2 1zm0-1.1zm.1 .7zm.1-.3zm.1-.7zm.2 1zm0-.1zm.1 .3zm0-.6zm0-.5zm.5 .6zm.1 .6zm.1-.6zm.2 .7zm.3-.9zm.3 .7zm.4-.7zm.2 .3zm.2 .6zm.2-.7zm0 .7zm0-.6zm0-.3zm0-.2zm0-.3zm.1 .1zm.2 1.1zm.2-.4zm0-.1zm.2-.7zm.2 0zm0 1.1zm0-.7zm.2-.3zm0 .9zm.2 .2zm0-1zm.1 .2zm.1 .5zm.1-.5zm0-.4zm0 .6zm.1 .8zm.1-1.1zm0 1zm.1-.8zm.3 .3zm.4 .5zm.1-.7zm.1 .6zm0-.2zm.1-.6zm.1 .8zm0-.7zm.1 .9zm0-.4zm.2 .1zm0 0zm0 .3zm.1-1.3zm.3 .4zm0 .6zm0-.1zm.1-.9zm.1 .1zm0 .3zm0 .3zm.1 0zm0 .1zm0-.6zm.1 .5zm.4-.1zm0 .6zm.1-1.3zm0 1zm.1-.1zm0-.3zm.2 .3zm0 .4zm.1-1.2zm0 1.2zm0-1zm.1-.3zm0 .5zm.1-.2zm0 .9zm0-.1zm0-.3zm.1 .4zm.1-1zm0 1.2zm0-.6zm0-.6zm0 .1zm0 .5zm.1-.4zm0 .4zm.1 .2zm0-.5zm.1-.5zm0 1.4zm.1-1zm0-.4zm.2 .9zm.1 .5zm0-.2zm.1 0zm0-.6zm.1 .2zm0-.8zm.2 .8zm.1 .3zm.1-1zm.1 1.3zm.1-.7zm0 .1zm0-.8zm0 1.1zm0-1zm.1 .4zm.1 .2zm.1 .5zm.1 0zm0 .2zm.1-1zm0-.2zm.1-.1zm.1 1zm.1-.5zm0 .1zm.1 .3zm0 .4zm.3-.3zm0-.1zm.1-.8zm.2 .6zm0 .2zm.1 .1zm.1-.8zm0 1zm0-.7zm.1-.4zm.2-.2zm.2 1.4zm.1-.7zm0 .7zm.3-1.4zm.5 .3zm0 .9zm.2-1.2zm.4 .4zm.3-.1zm0 .8zm.2 0zm.1-.9zm.5 .4zm.1 .1zm0-.4zm.1 .9zm.1-.8zm.1 .6zm.2 .3zm0-.1zm.3-1.1zm0 0zm.2 .9zm.3-.2zm.2-.5zm.4-.3zm.3 1.1zm.7 .1zm.4-.3zm.2-.4zm.1-.4zm.2 .4zm.3-.4zm0 0zm0 1.1zm.1 .1zm0 0zm.6-1.2zm.2 .4zm.3 .9zm.2-.2zm0-1.1zm.2 .1zm.1 1.2zm.5-.4zm.8 .2zm.3-.6zm.3 .6zm.5-.3zm0 0zm.8 .2zm.1-.6zm.3-.1zm.6 .6zm0-.7zm.4 .4zm1 .5zm.8-.1zm.3 .1zm.2-.3zm.4-.7zm.1-.2zm.2 1.4zm.8-.9zm.2-.2zm.3 0zm.1 1zm0-1.1zm.9 .1zm.2 .9zm.5-.1zm.4-.5zm.4-.1zm.2 .7zm.1-.4zm.5-.1zm.3-.6zm.3 1zm.3-1.1zm.4 .5zm2.8-.3zm2.5 1.3zm-4.3 1.3zm-.6-1zm-1 .7zm-1.4-.9zm-.3-.1zm-.2 .2zm-.2-.2zm-.2 .2zm-.2 0zm-.6 .9zm-.7-.2zm-.4 .4zm-.8-.4zm-.6-.2zm-2.2-.1zm-.4 .4zm-.7-.7zm-.3-.2zm-.3 .7zm-.8-.6zm-.7-.2zm-.5 .8zm0-.1zm-1-.3zm-.1 .3zm-1-.7zm-.2 .8zm-.2-.6zm-.1 .3zm-.2-.1zm-.6 0zm-.5 .9zm-.1-.2zm-.2-.6zm0-.3zm-.1 .3zm-.3-.3zm-.1-.1zm-.1 .8zm-.2 .5zm-.6-.3zm-.1-.4zm-.3-.1zm-.3 0zm-.1 .5zm-.2 0zm-.2 .1zm-.1-.7zm-.1 .5zm-.1-.2zm-.3 .4zm-.2-.7zm-.4 0zm-.3-.2zm-.1 .9zm-.1-.2zm0-.1zm-.1-.6zm-.1 0zm-.1 .6zm-.1-.3zm0-.4zm-.1 1zm-.1 .1zm0-.7zm-.1 .6zm-.1-1.1zm0 .9zm-.6-.1zm-.2-.3zm-.1 .6zm-.2-1.1zm-.1 1.2zm-.1-1.3zm0 1zm-.4-.5zm-.2 .5zm-.3-1zm-.1 .9zm-.1 .3zm-.2-.2zm0-1zm0 .9zm-.1-.5zm-.1 .6zm-.1-.9zm0 .9zm-.2-.6zm0 .3zm0 .1zm0-.5zm-.2 .4zm0-.4zm-.1 .5zm-.1-.6zm-.1 0zm-.1 .4zm-.1-.2zm-.2 .3zm0 0zm-.2 .3zm0-.2zm0-.6zm-.2 .6zm0 .4zm-.1-.3zm-.1 .4zm0-1.3zm-.1 .2zm0 .7zm0 .4zm0-.8zm-.1 .2zm0 .3zm-.1-.9zm0 .6zm-.1-.2zm-.4 .3zm0-.8zm0 .5zm0 .2zm-.2 .5zm0-.2zm0-.3zm-.2-.1zm-.1 .8zm-.2-1.4zm0 .4zm-.2 .2zm-.2 .3zm0-.7zm-.1 .5zm-.1 .1zm-.1 .6zm-.2-1zm-.1 .7zm-.1-.6zm-.1 0zm0-.3zm-.2 .2zm-.3 .3zm-.2 .5zm0-1.1zm0 1.2zm-.2-1.3zm-.3 .4zm-.3 .5zm-.1-.2zm-.6-.3zm-.2-.2zm-.1 .6zm-.1 0zm-.1-.8zm-.1 .1zm-.6 .5zm0-.1zm-.1-.5zm0 1.2zm-.2-.1zm-.3-1.1zm-.1 0zm-.1 0zm-.5 .4zm-.7 0zm-.1-.1zm-.3 .8zm-.1 .2zm0-.6zm-1.2 .7zm-.3-.9zm-.5 .6zm0 .2zm-.5-.1zm-.1-.1zm-.1 1.7zm0-1.3zm.2 .9zm0-.2zm.1-.7zm.5 1.2zm1 .1zm.5-1.2zm.1 .2zm.5-.1zm.4 .9zm.7 .3zm1-.3zm.7-.3zm.2 .5zm0-.9zm.1 .1zm.9 .5zm.1-1zm.1 .2zm.8 .7zm.2-.2zm.5 0zm.5-.5zm0 0zm.3 .3zm.1-.1zm.1-.4zm.2 .6zm.5 .8zm.1-1.4zm0 .5zm.1 .8zm.1-1zm.1-.2zm.1 .5zm.1 .2zm.1 .1zm.2 .4zm.2-1.2zm0 .5zm.1-.6zm0 0zm.2 .9zm.4-.5zm0-.3zm0 .2zm.2 .7zm.2-.9zm0-.1zm.2 1.3zm.1-.8zm.8 .8zm.2-.3zm.1 0zm.2-.1zm.3-.7zm0 .8zm.1-.9zm.1 1.3zm.4-.8zm.1-.6zm.1 1zm.9 .4zm.1-1zm.4-.1zm.3-.1zm.1-.2zm.3 1.4zm.2-.5zm1.5-.1zm.1 .6zm.9-.7zm1.1-.3zm.3 .9zm.3-.7zm1.8 .3zm4.4-.7zm.3-.2zm.3 .4zm1 0zm.5 .3zm.3 .7zm1.7-.7zm5.1-.4zm2.3 0zm1.6 .5zm.5-.6zm-4.5 1.4zm-5.4-.1zm-2.6 .6zm-.5 .2zm-3 0zm-.7 .2zm-.2-.9zm-.9 .1zm-.5 .5zm-1.1-.1zm-2.4-.2zm0-.4zm-.2 .8zm-.1-.5zm-.4 .3zm-.2 .3zm-.5-.6zm-.3 .7zm-.5-.7zm-.1-.3zm-.3 .1zm-.8 .2zm-1.4-.1zm-.1-.1zm-.1 .5zm0-.3zm-.3-.3zm-.1 .2zm-.7 .6zm-.2 .1zm-.1-.4zm-.2-.1zm-.3 .5zm-.3-.2zm-.1-.1zm-.5-.2zm-.3-.1zm-.5 .1zm0 .1zm-.5-.2zm0 .4zm-.2-.4zm-.8 .6zm-.1-.3zm-1.2-.4zm-.1 .7zm-.5-.6zm-.5 .4zm-.7 .1zm-.8-.6zm0 1.2zm-.6-.9zm-.6-.4zm-1.4 .1zm-1.7 .1zm-1.2 .6zm-.1-.3zm4.2 1.9zm2.7 .1zm1.1-.2zm0-.7zm2.3 1zm1.1-.7zm.8 0zm.7-.1zm0 .3zm1.1 .2zm.9-.6zm1.7 0zm.6 .2zm5.8 .5zm1.6-1zm11.2 .5zm-6.4 1.6zm-11.7-.6zm-.9 .4zm-1.5 0zm-1.5-.3zm-5.4 .1zm-1.3 .5zm-.6-.2zm-3.4-.5zm-.3 .2zm6.7 1.4z" stroke="#000" stroke-opacity="0.6" stroke-width="0.8" stroke-linecap="square" fill="none" filter="url(#bl)"/>
<line x1="58.50" y1="149.40" x2="58.50" y2="213.60" stroke="#777" stroke-width="0.8"/>
<line x1="32.60" y1="192.50" x2="97.60" y2="192.50" stroke="#777" stroke-width="0.8"/>
<rect x="32.50" y="149.50" width="65.00" height="64.00" fill="none" stroke="#333" stroke-width="0.9"/>
<text x="34.20" y="153.80" font-size="4.0" font-weight="bold" fill="#333">0.160%</text>
<text x="96.40" y="153.80" font-size="4.0" font-weight="bold" fill="#333" text-anchor="end">0.245%</text>
<text x="34.20" y="212.00" font-size="4.0" font-weight="bold" fill="#333">92.9%</text>
<text x="93.40" y="211.80" font-size="7.37" font-weight="bold" fill="#000" text-anchor="end" textLength="9.20" lengthAdjust="spacingAndGlyphs" stroke="#000" stroke-width="0.3">6.7</text>
<text x="40.40" y="219.20" font-size="3.0" font-weight="bold" fill="#666" text-anchor="middle">0</text>
<text x="50.15" y="219.20" font-size="3.0" font-weight="bold" fill="#666" text-anchor="middle">10²</text>
<text x="65.10" y="219.20" font-size="3.0" font-weight="bold" fill="#666" text-anchor="middle">10³</text>
<text x="80.70" y="219.20" font-size="3.0" font-weight="bold" fill="#666" text-anchor="middle">10⁴</text>
<text x="94.35" y="219.20" font-size="3.0" font-weight="bold" fill="#666" text-anchor="middle">10⁵</text>
<line x1="40.40" y1="214.10" x2="40.40" y2="215.40" stroke="#666" stroke-width="0.35"/>
<line x1="45.60" y1="214.10" x2="45.60" y2="215.40" stroke="#666" stroke-width="0.35"/>
<line x1="50.15" y1="214.10" x2="50.15" y2="215.40" stroke="#666" stroke-width="0.35"/>
<line x1="59.90" y1="214.10" x2="59.90" y2="215.40" stroke="#666" stroke-width="0.35"/>
<line x1="63.15" y1="214.10" x2="63.15" y2="215.40" stroke="#666" stroke-width="0.35"/>
<line x1="65.10" y1="214.10" x2="65.10" y2="215.40" stroke="#666" stroke-width="0.35"/>
<line x1="75.50" y1="214.10" x2="75.50" y2="215.40" stroke="#666" stroke-width="0.35"/>
<line x1="78.75" y1="214.10" x2="78.75" y2="215.40" stroke="#666" stroke-width="0.35"/>
<line x1="80.70" y1="214.10" x2="80.70" y2="215.40" stroke="#666" stroke-width="0.35"/>
<line x1="90.45" y1="214.10" x2="90.45" y2="215.40" stroke="#666" stroke-width="0.35"/>
<line x1="93.05" y1="214.10" x2="93.05" y2="215.40" stroke="#666" stroke-width="0.35"/>
<line x1="94.35" y1="214.10" x2="94.35" y2="215.40" stroke="#666" stroke-width="0.35"/>
<ellipse cx="110.8" cy="201.0" rx="16.6" ry="7.8" fill="url(#bg)" opacity="0.95" clip-path="url(#c1)"/>
<ellipse cx="132.1" cy="200.4" rx="13.0" ry="7.8" fill="url(#bg)" opacity="0.16" clip-path="url(#c1)"/>
<path d="M129.4 160.8zm-29.6 13.3zm23.6 1.7zm-4.8 10.1zm6 .8zm13.4 1.8zm-5.7 .2zm-11.8 1.7zm1.3-.4zm15.4 1.8zm-11.2-.2zm-19.3 .5zm6.6 .7zm3 .2zm4.6-.6zm.6 .4zm4.4 .6zm2.1-1.1zm.2 .6zm2.3-.6zm.5 .8zm5.1 .3zm2.8-.4zm4.8 1.1zm-5.6-.3zm-4 .7zm-1.4-.1zm-.7 .1zm-2.8-.8zm-1.7 .4zm-5.2 .8zm-7.2 0zm-.2-.2zm-.7-.9zm-.3 1.1zm-.1-.3zm-.9 .2zm-3.2-.5zm-.1-.6zm-2.2-.1zm-1.3-.1zm-1.5 1zm0-.8zm-.8 1.2zm-.8-1.2zm-3.4 2.3zm.8 0zm1.2-.1zm1.4 .1zm1.1-.6zm0 .5zm.4 .2zm.3 .1zm.6 .1zm.3-.4zm.8 0zm.1 0zm.3 .3zm1.3-.1zm0-.1zm.2 .1zm.6 .2zm.9-.3zm.4-.6zm.1-.1zm.1-.2zm0 .9zm1.2 .1zm.3-.7zm.1-.1zm.3 .1zm.1-.4zm.4 1.4zm.3-1.3zm0 .7zm.4-.7zm.4 1.1zm.2-.4zm.4 .2zm1.4 .3zm.6-.1zm1-.2zm.3-.1zm.2 .4zm.4-.3zm.6-.7zm.1 1.1zm1.7-.7zm0-.4zm.4 .6zm.7-.5zm1.7 1zm.3-1.1zm2 1.1zm1.3-.6zm.2-.4zm.7 1zm.9-.3zm.6 .3zm0-1.4zm.5 .8zm.1 .5zm.1-.8zm.1 .1zm.1-.1zm.3-.1zm.3 .7zm.1-.5zm.4 0zm1.4 .2zm1.2 .3zm0-1.1zm.4 1.1zm.4-.4zm2.3 .4zm.1-.2zm0-.3zm3 .7zm1.7-.3zm6.3 .7zm-1.1 .9zm-5.1-1.1zm-2.8 1zm-.1-.1zm-.1-.2zm-.6 .3zm0 .4zm-.2-.8zm-.6-.3zm-.8 .8zm-.2-.6zm-.1-.5zm0 .7zm-.3 .2zm-.1 0zm-.1-.5zm-.3-.3zm-.6 1.2zm-1.3 .1zm-.7-1zm-.1-.1zm-.1 .9zm-2-1.1zm-.9 1zm-.8 0zm-.2-.3zm-.4-.8zm-1 1.2zm0-.1zm-.2 0zm-1.1-1zm-2.1 1zm-.3 .3zm0-.5zm-.1 .1zm-.5-.6zm-.1-.4zm-1.2 1zm-.6-.9zm-.8 .7zm-.4 .1zm-.5-.9zm-1.2 1.4zm-.3-.9zm-.6-.3zm-.3-.1zm-.5 0zm-.2 1.1zm-.8-.8zm-.2-.2zm-.1 .8zm-.1 .4zm-.5-.3zm-.2-.8zm-.1 .4zm-.1-.3zm-.2 .4zm-.5-.5zm0 1zm-.4-.3zm-.1-.3zm0 0zm-.1 .7zm-.1-1.3zm-.2 1.1zm0 .2zm-.2-.1zm0-.4zm-.1-.2zm-.1-.1zm0 .6zm-.1 0zm-.3 0zm-.1 .2zm-.1-1.1zm-.4 1.1zm-.1-.1zm-.9-.3zm-.3-.4zm-.2 .2zm-.1 .2zm-.3 .3zm-.1-1.3zm-.4 .9zm-.2-.6zm-.1 .6zm-.1 .4zm0 .1zm-.7-1.2zm0 .3zm-.8 .5zm-.2-.2zm-.3-.5zm-.1 .5zm-.3-.6zm-.1 1zm-.1-.7zm0-.2zm-.2 1.1zm0-.3zm0 .1zm-.2 .1zm-.1-1.2zm-.2 0zm0 0zm-.6 1.1zm-.1-.4zm-.5 .2zm-.7-.9zm0 .9zm0 .2zm-.2-.3zm-.4-.7zm-.1 1.1zm-1-.9zm-.8 .7zm-.6 .2zm-.3-1.1zm-.6 1.1zm-.2-.4zm.1 1.9zm.1 .1zm0-.6zm.1 .4zm.6 .1zm.1-.3zm.9 .2zm.1 .1zm1 0zm.1-1zm.2 .3zm.1 .2zm.5-.7zm0 .2zm.2-.1zm.8 0zm0 .7zm.3 .4zm.2-.2zm.7-.5zm.3 .5zm.2 .3zm0-.4zm0-.6zm.2-.4zm0 0zm.2 .9zm.2 0zm0 .1zm0 .3zm.1-.8zm0 .4zm.5 .1zm.1 .1zm.1-.1zm0 .3zm.2-1.2zm.1 .6zm0-.5zm.1 .9zm0 .3zm.2-1.4zm0 1zm.1-.5zm0 .4zm.1-.8zm.1 .6zm.1 .2zm0-.7zm0 .9zm.1 .3zm.2-.7zm.2 .3zm0-.2zm0 .6zm.1-1.3zm.1 1.2zm0-1.1zm0 1.2zm.1 0zm.1-1.4zm0 .8zm.1-.5zm.1 .5zm.1 .3zm0-.2zm.2-.3zm0-.3zm.2 .3zm.2-.6zm.1 .7zm.1 .4zm.2 .2zm.1-.7zm.3-.1zm0 .4zm0 .5zm0 0zm.4-.6zm.1-.3zm0-.3zm.1 .2zm.1 .4zm.2-.3zm0 .8zm.1-.2zm.1-.6zm.3 .8zm0 .1zm.1-1.1zm.1 .1zm.2 .7zm0 .2zm.1-.5zm.2 .3zm.1-.4zm0-.6zm.1 1.3zm.2-.5zm0 .5zm.1-1.1zm0 .4zm0 0zm.1-.3zm0-.4zm0 1.2zm.4-.8zm.3 .4zm.2-.4zm.1 .7zm.4 0zm.3-.5zm.2 .5zm0-.8zm.2-.3zm0 .4zm.3 .3zm.1-.3zm.1-.2zm.4 1zm.1-.6zm.1 .5zm.4-.6zm.1-.1zm0 .8zm.3-.1zm.2 .1zm0-.4zm.1 .5zm0-1.1zm0 1.1zm.7-.4zm.1-.4zm.3-.1zm.4 .3zm0-.4zm.1 .3zm.9 .3zm0 .4zm.7-1zm.6-.3zm.7 .4zm.9 .1zm.1 .7zm.4-.5zm.3 .1zm.4-.5zm.4 .6zm0-.9zm.6 0zm.6 .7zm.4 .7zm.4-.5zm.1 .5zm.3-.6zm.1-.6zm1.1 .7zm0-.2zm.1-.5zm.1 .5zm.1 .6zm.3-1.3zm.2 1.4zm.2-1zm.2 .1zm.4 .1zm0 .3zm0-.4zm.1 .3zm.4 .5zm.4-.7zm.2-.5zm0 .2zm0 1zm.1-.4zm.2-.1zm.1-.4zm0 .4zm.1-.6zm.1 .5zm.2-.5zm.1 .1zm.1 .7zm.1 .4zm.3-1.2zm0 .8zm.1-.4zm0-.5zm.1 .2zm0 .7zm.1-.6zm.3 .6zm.1-.2zm0-.5zm0-.2zm.2 .3zm.3 .9zm.7-1zm.3 1zm.6-.8zm.1-.4zm.7 .2zm0 .6zm.7 .4zm0-.3zm.2-.6zm.2 0zm.2-.3zm.3 .4zm.1 .7zm.3-.6zm.8 .3zm.3 .3zm.1-.7zm0-.2zm.8-.1zm.9 .1zm1.7 .5zm.1-.3zm2.6-.2zm2.3 .6zm-4.8 1.1zm-2.2 .6zm-.1 0zm-.4 .1zm-.1-1.2zm-.8 .6zm-.1 .1zm-.4-.6zm-.1 .6zm-.6 .2zm-.2-.3zm-1.2-.3zm-.2 0zm-.2 .7zm-.2 .3zm0-.5zm-.1-.4zm-.1-.3zm-.8 1zm-.1 .2zm-.1-.1zm-.4-.4zm-.3-.2zm0 .7zm-.5-.9zm-.2-.1zm-.1 1.1zm0-.4zm-.1 .1zm-.1-.6zm0 .4zm-.5-.5zm-.3 .9zm-.1-.2zm-.3-.3zm-.4-.1zm-.3 .3zm-.1-.2zm-.1-.6zm0 .5zm-.1-.7zm-1.4 .3zm-.1 .9zm-.1-1.2zm-.2 1.2zm0-.4zm-.1-.5zm0 .8zm-.1 .1zm-.3-.4zm-.1-.1zm-.1-.5zm-.1 1.1zm0-.3zm-.6-.7zm0 .1zm-.1 .7zm-.1-1zm-.3 .1zm0 1.1zm0-.7zm-.1 .6zm-.2-1.1zm-.1-.1zm0 .7zm-.4 .1zm-.5-.3zm-.1 .8zm-1.6-.6zm0 .2zm-.1-.6zm-.6 1.1zm-.2-1.2zm-.1 .6zm-.2-.6zm-.6-.1zm-.5 1.3zm-.7-.6zm0-.7zm-.2 1.2zm-.1-.5zm-.1-.1zm-.6 .7zm-.2-1zm-.1 .2zm0-.2zm-.3 .3zm-.1 .2zm-.2-.4zm-.1 .1zm-.1-.6zm-.2 .5zm-.2 .1zm-.2 .4zm-.7 .1zm0-1.1zm-.2 1.3zm0-1.2zm0 .1zm0 1zm-.3-.7zm-.1-.2zm-.4 .1zm-.2 .8zm0-1.2zm-.1 1zm-.1-.6zm-.1 .9zm-.2-.4zm-.1-.5zm-.1 .9zm0-.4zm-.1-.5zm0 1zm-.1 0zm0-.9zm-.1-.1zm-.4 .6zm0-.1zm-.1-.8zm-.1 1.3zm0-.8zm-.1 .8zm0-.1zm-.1 .1zm-.1-.9zm-.2 .5zm-.1 .4zm0-.8zm0 .4zm-.1-.2zm-.1-.3zm-.1 0zm-.1 .6zm-.1 .1zm-.3-1.1zm0 .3zm-.1 .1zm-.1 .1zm0-.1zm-.2-.1zm0-.2zm-.3 .7zm-.1-.6zm0 1.1zm-.2-1zm-.1 1zm0-.6zm-.2-.7zm-.1 1.3zm0-1.3zm0-.1zm0 .1zm0 .3zm-.2 .4zm-.1-.1zm0-.1zm-.1-.4zm0-.1zm-.1 .7zm-.2-.6zm-.1-.1zm0 0zm-.1 1.2zm-.1 .1zm0-.2zm-.1-.7zm0-.1zm0 .4zm-.2-.6zm0 .5zm-.1-.6zm-.1-.1zm0 1.4zm-.1-1.2zm-.1 1zm-.1-1zm-.1 .5zm-.1 .6zm0-.6zm-.2-.1zm0-.5zm0 .2zm-.1-.1zm-.1-.1zm-.3 1.3zm0-.7zm0-.3zm-.5 .4zm-.1-.6zm-.4 .9zm-.2-.4zm0 .4zm0 0zm-.1-.9zm-.1 .7zm0-.4zm-.1 .4zm0-.2zm0 .2zm-.1 .4zm0-1.3zm-.3 1.2zm0-.4zm-.1-.8zm0 .7zm-.1 .7zm-.1 0zm-.1-.2zm0 .1zm-.1-1.3zm0 .1zm-.1 .3zm-.1 .4zm0 .1zm-.2-.5zm-.1-.1zm0 .4zm0 .7zm-.1-.5zm0-.9zm-.2 .2zm-.4 .7zm0 .5zm-.2-1zm-.2 .7zm-.1-.9zm-.2 0zm-.1 .2zm-.1 .3zm0-.6zm0 .1zm-.1-.2zm-.1 .4zm0 0zm-.1-.3zm0-.1zm-.1 .5zm0-.4zm0 .6zm-.2-.4zm-.1 .5zm0 .3zm-.4-.2zm0-.3zm-.1 .7zm-.2-.1zm0 .1zm-.1-.1zm-.1 0zm-.1-.1zm-.1-1.1zm-.3 .7zm-.2 .1zm-.1 0zm-.6-.3zm-.1 .4zm-.1 .3zm-.1 0zm-.2-1.2zm-.3 1.3zm0-.6zm-.2-.6zm-.2 .8zm0-.1zm-.6-.3zm-.1-.5zm-.1 0zm-.7 .1zm0 .9zm-.2-.1zm-.4-.4zm0 .1zm.1 1.1zm.1 .4zm.1 .4zm.2-.9zm1.3 1.1zm.5 .1zm.1-.6zm.4 .5zm.7-.9zm0 .8zm.1-.4zm.2 .6zm.3-1.2zm.3 .7zm.3 .3zm0-.3zm.6 0zm.7-.1zm.2 .1zm.4-.8zm.1 .7zm0-.4zm0-.1zm.3 .5zm.1-.4zm.2 1.1zm.1-.5zm.1-.8zm0 .4zm.2 .2zm0-.5zm.1 .6zm0-.4zm.1 .3zm.1 .1zm0-.6zm0 1zm.1-.9zm.1-.2zm0 .1zm.1 .4zm.3-.1zm.1 .1zm.3 .5zm.1 .3zm.2-.1zm0-.7zm.1 .3zm.1-.3zm0-.5zm0 .4zm0 .7zm.1 .2zm0-.1zm.1-.7zm.3-.4zm.2 1zm.1-.7zm0 .7zm.1-1.2zm0 .1zm.2 0zm.2 .3zm0 .6zm.1 .2zm.3-.9zm0 .8zm.1-.3zm.1-.8zm0 .8zm.1 .5zm0-.6zm.1 .7zm0-.8zm.1 .3zm0 .2zm0-.4zm.2-.7zm0 1.3zm.1-.2zm0-.7zm0 .4zm.1-.5zm0 .9zm0 .1zm.1-.4zm0-.8zm.2 .1zm0 .4zm.1 .6zm.1-.8zm0 0zm0-.2zm0 .1zm.3 .9zm0-1.2zm.2 1.1zm.2-.7zm0 .1zm.1 .6zm0-.3zm.2 .6zm.1-.1zm.2-.5zm.1 .1zm.1-.8zm0 .3zm.1 .8zm.1-.4zm.3 .4zm.1-1zm.3 .1zm.1 1.1zm0-.9zm.2 .6zm.1-.6zm0-.2zm0 .2zm.2-.1zm0 .4zm.1-.5zm0 .9zm0-1.1zm0 .8zm.2-.7zm.1 .6zm0 .1zm0-.7zm0 .7zm0 .3zm.1-.5zm.1-.2zm0-.2zm0-.2zm.2 .8zm.2 .1zm0-.8zm0 .6zm.1 0zm.1 0zm.1 0zm.2 0zm.2 .5zm.3-.5zm0 .4zm.1-.8zm.1 .7zm.2 0zm.1 .1zm.2-.3zm.1 .2zm.2-.7zm0 .9zm.1-.8zm0-.5zm.2 .2zm.1 .6zm.1-.2zm.1 .7zm.1 .1zm.2-1.1zm.1 .5zm.2 .6zm.3-.8zm0 .2zm.1 .4zm.2-1.1zm0-.1zm.2 .1zm0 .6zm.3 .4zm0-1.1zm.1 1.4zm.1-.5zm.2-.6zm0 .5zm.4 .1zm.5-.7zm.1 .4zm.2 .3zm0 .1zm.7 .4zm0 0zm.1-.4zm.2-.1zm.1-.6zm.2 .4zm.3-.2zm.2 0zm.4 .9zm.5-1zm.5 1zm1.2-.1zm.2-.7zm0 .5zm.1-1.1zm0 .4zm.2-.3zm.2 1zm0 .3zm.4-1.3zm.3 .5zm.1 0zm.3 .1zm.1-.1zm.3 .4zm0-.6zm0 .2zm.4 .6zm.1 .2zm.1-1zm.2-.2zm.2 .9zm.1-.9zm0 1.2zm.1-1.3zm.4 .2zm.1 .7zm.1 .3zm0-1.3zm0 1.4zm.2-.4zm.1-.6zm0-.1zm.2 .6zm.3-.3zm.5-.3zm.2-.3zm.1 .9zm0 .2zm.3 0zm.1-.3zm.1 .6zm0-.3zm.2-1.1zm.4 .6zm.1-.2zm.1 0zm.1 .4zm.1 .1zm.1 .1zm.1-.2zm.2-.7zm.1-.1zm0 .8zm.2 .4zm.1-.3zm.3 .2zm.1-.5zm.4 .4zm.1-.6zm.1 .7zm.8-.9zm.2 .5zm.9 .7zm0-.1zm.2-.9zm.6-.3zm0 .6zm.1 0zm0 .3zm.8-.7zm1.1 .4zm.8 .7zm1.2-.2zm-1.3 1.2zm-1.1 .4zm-.4-.8zm-.4 .6zm-.3-.9zm-1.3-.2zm-.6 1zm-.3 .4zm-.4-.9zm-.3 .6zm0-.2zm-.3-.7zm-.2 .3zm-.3 .9zm-.1-.4zm0 .2zm-.3 .1zm-.7-1zm0 .8zm-.3-.5zm-.1 .3zm-.6-.7zm-.4-.1zm-.1 1.2zm0-1zm-.3 .4zm0 .1zm-.5 .6zm-.3-.6zm-.2-.4zm-.9 .8zm-.2-.7zm-.5-.4zm-.3 0zm-.2 .8zm-.6-.4zm-.1 .8zm-.1-.3zm-.4 .2zm-.4-.6zm-.1 .8zm-.2-.4zm-.2 0zm-.3-.8zm-.2 .4zm-.2-.4zm-1.4 .4zm-.3 0zm-.3-.4zm-.5 .8zm-.3 .4zm-.1-.2zm-.2-1.2zm-.4 .5zm-1.2 .6zm-.5-.4zm0-.1zm-.3-.1zm0 .2zm-.1-.6zm-.2 1zm-.3-.2zm0 0zm-.2 .3zm-.2-1zm-.3 .5zm-.1-.3zm-.1 .4zm-.3 0zm-.2-.7zm-.1 .4zm-.2 .2zm-.4-.1zm-.2 .2zm-.1 .1zm-.4-.5zm-.2 .4zm-.1-.1zm0 .1zm-.1 .1zm0 0zm-.1-.8zm0-.1zm-.6 0zm0 .2zm0 .7zm-.4-.6zm-.1 .2zm-.1 .3zm-.3-.7zm-.1-.1zm0 .5zm-.3-.5zm-.2 .7zm-.1-.4zm0-.2zm0 .2zm-.2 1.1zm0-1.2zm-.1 .4zm-.3-.6zm0 0zm0 0zm-.1 .8zm-.1-.5zm-.1-.3zm-.2 .6zm-.1 .3zm-.1-.8zm-.3 .6zm-.1-.2zm0 .5zm-.2 .2zm-.1-.5zm-.2 .4zm-.1-.2zm-.2-.3zm-.2 .7zm-.1 .1zm0 0zm-.1-.7zm0-.4zm-.1 0zm0 0zm-.1 .2zm-.1-.4zm-.1 1.2zm0-.5zm-.1 0zm0 .6zm-.2-1.2zm-.2 1.1zm-.1-.7zm-.1 .3zm-.1-.1zm-.1 .3zm-.1 .2zm-.2-.8zm-.1-.5zm0 .2zm0 .4zm0 .3zm-.1 .5zm-.1-.2zm0-.5zm-.1-.7zm0 1.4zm-.2 0zm0-.3zm-.1-.9zm0 .4zm-.2-.3zm-.1 1.1zm-.1-1.3zm-.5 0zm0 1.2zm0-1.3zm0 1.3zm-.1-.5zm0 .5zm-.1-1.2zm0 1.3zm-.2-1.2zm-.2 .8zm-.1 0zm-.1 .2zm-.2-.3zm-.8 .2zm0-.7zm0 .7zm-.2-.2zm-.1-.4zm-.1-.2zm-.2 .9zm-.1 .1zm-.2 0zm-.1-1.2zm-.1 .5zm0 .4zm-.2 .3zm-.2-.5zm0 0zm-.6 .6zm-.1-1.1zm-.1 0zm-.7 .2zm-.1 .6zm-.4-.4zm-.7-.6zm-.8 .3zm-.4 .6zm-.1-.9zm-.9 0zm0 .6zm-.1-.2zm-.1-.5zm0 1.1zm-.4 .2zm.3 .6zm.9 .1zm.2 .3zm1.4-.5zm.1 .3zm.4-.5zm.1 1zm.9-.8zm.1 .9zm.4-.7zm.1-.4zm0 .5zm.5 .1zm.2-.3zm.1 .9zm.6-.6zm.4 .7zm.1-1.3zm.6 .8zm.1 .5zm.1-1zm0 .4zm0-.7zm.1 .7zm0-.7zm.1-.1zm.2 0zm.1 .9zm.3-.9zm0 0zm0 1zm.2-.9zm.6 .6zm0 .7zm.2-.3zm.2 .2zm0-1.2zm1.6 0zm.1 .2zm.3-.2zm.6 .4zm.1-.3zm.1 0zm0 0zm0 .3zm0-.1zm.1 .6zm.3-.1zm.1-.9zm0 .7zm0 .3zm.5-.9zm.4 0zm.1 0zm.1 0zm.2 1.2zm.1-.4zm.5 .5zm0-.9zm0 .9zm.4-.5zm0 .5zm.1-.8zm.7 .7zm0-1zm.2 .6zm0 .2zm.1-.1zm0-.4zm.5-.6zm0 1.3zm0-1.2zm0 .2zm.5 .4zm.1-.2zm.4 .6zm.1 .2zm.4-1.3zm.1 .4zm.3 .9zm.1-.4zm.1 .1zm.1-1zm.6 1.2zm.1-1.1zm.7 .3zm.2 .1zm.2 .3zm.3-.4zm.2 .5zm.9-.4zm.3-.1zm.4 .3zm2.3 .6zm.1 0zm.4 .1zm.3-.2zm.1 .2zm.6-.1zm1.4-1zm.1 .5zm.1 .4zm.1-1zm.1 .6zm.5-.1zm.4 .3zm.9-.7zm2.1 1zm0-.8zm1.9 .8zm.6-1.1zm.9-.1zm1 .8zm0-.1zm.1-.5zm.1 0zm.9 .2zm.4 .9zm.3 0zm.1-.1zm2-.2zm1.2-.9zm.3 .3zm.3-.5zm-1.8 2.3zm-3.7-.8zm-2.5 1.4zm-1.5-1zm-1.2 .6zm-.2-.4zm-2.5 0zm-2.6 .1zm-.1 .3zm-.3-.9zm-.5 0zm-.3 .3zm-.2 .4zm-.1-.3zm-1 .8zm-.6-.6zm-.5-.6zm-.1 1zm-.1-1.1zm-1.9 .9zm-2.5-.5zm-.4-.1zm-.8-.2zm-.2 .9zm-.2 .1zm-1.3-.9zm-.2-.1zm0 .2zm-.2-.2zm-.3 .2zm0 .7zm-.8-.3zm-1.2-.3zm-.5 .8zm-.5-.4zm-.8-.2zm-.2 .2zm-.1-.6zm-.1 0zm-.1 .3zm-.1-.4zm-.3 .5zm-.1 .2zm-.5-.1zm-.4-.6zm-.5-.1zm-.4 .3zm-.2-.3zm-.4 1.4zm-1.1-1.4zm-.7 .3zm-.3 1zm-.2-1.2zm-1 .6zm-1-.1zm-2.1-.3zm-.7 .8zm-.3 .6zm6.6 1.1zm1.4-1.2zm.3 .3zm2.5 .1zm1.3 0zm1.3-.5zm.2 .8zm1.9-.5zm3 .1zm.7 .3zm1-.1zm6-.6zm2.5 .9zm4.2-.7zm.3-.1zm4 .4zm-3.9 1zm-2.8 .1zm-4.7 .8zm-11.9-.8zm-4.6-.1z" stroke="#000" stroke-opacity="0.6" stroke-width="0.8" stroke-linecap="square" fill="none" filter="url(#bl)"/>
<line x1="124.50" y1="149.40" x2="124.50" y2="213.60" stroke="#777" stroke-width="0.8"/>
<line x1="98.60" y1="192.50" x2="163.40" y2="192.50" stroke="#777" stroke-width="0.8"/>
<rect x="98.50" y="149.50" width="65.00" height="64.00" fill="none" stroke="#333" stroke-width="0.9"/>
<text x="100.20" y="153.80" font-size="4.0" font-weight="bold" fill="#333">0.198%</text>
<text x="162.20" y="153.80" font-size="4.0" font-weight="bold" fill="#333" text-anchor="end">0.232%</text>
<text x="100.20" y="212.00" font-size="4.0" font-weight="bold" fill="#333">82.0%</text>
<text x="161.80" y="211.80" font-size="7.37" font-weight="bold" fill="#000" text-anchor="end" textLength="12.80" lengthAdjust="spacingAndGlyphs" stroke="#000" stroke-width="0.3">17.6</text>
<text x="106.38" y="219.20" font-size="3.0" font-weight="bold" fill="#666" text-anchor="middle">0</text>
<text x="116.10" y="219.20" font-size="3.0" font-weight="bold" fill="#666" text-anchor="middle">10²</text>
<text x="131.00" y="219.20" font-size="3.0" font-weight="bold" fill="#666" text-anchor="middle">10³</text>
<text x="146.55" y="219.20" font-size="3.0" font-weight="bold" fill="#666" text-anchor="middle">10⁴</text>
<text x="160.16" y="219.20" font-size="3.0" font-weight="bold" fill="#666" text-anchor="middle">10⁵</text>
<line x1="106.38" y1="214.10" x2="106.38" y2="215.40" stroke="#666" stroke-width="0.35"/>
<line x1="111.56" y1="214.10" x2="111.56" y2="215.40" stroke="#666" stroke-width="0.35"/>
<line x1="116.10" y1="214.10" x2="116.10" y2="215.40" stroke="#666" stroke-width="0.35"/>
<line x1="125.82" y1="214.10" x2="125.82" y2="215.40" stroke="#666" stroke-width="0.35"/>
<line x1="129.06" y1="214.10" x2="129.06" y2="215.40" stroke="#666" stroke-width="0.35"/>
<line x1="131.00" y1="214.10" x2="131.00" y2="215.40" stroke="#666" stroke-width="0.35"/>
<line x1="141.37" y1="214.10" x2="141.37" y2="215.40" stroke="#666" stroke-width="0.35"/>
<line x1="144.61" y1="214.10" x2="144.61" y2="215.40" stroke="#666" stroke-width="0.35"/>
<line x1="146.55" y1="214.10" x2="146.55" y2="215.40" stroke="#666" stroke-width="0.35"/>
<line x1="156.27" y1="214.10" x2="156.27" y2="215.40" stroke="#666" stroke-width="0.35"/>
<line x1="158.86" y1="214.10" x2="158.86" y2="215.40" stroke="#666" stroke-width="0.35"/>
<line x1="160.16" y1="214.10" x2="160.16" y2="215.40" stroke="#666" stroke-width="0.35"/>
<ellipse cx="180.0" cy="170.4" rx="19.5" ry="13.5" fill="url(#bg)" opacity="0.5" clip-path="url(#c2)"/>
<ellipse cx="204.0" cy="167.9" rx="13.0" ry="13.0" fill="url(#bg)" opacity="0.25" clip-path="url(#c2)"/>
<ellipse cx="180.0" cy="199.5" rx="18.2" ry="6.8" fill="url(#bg)" opacity="0.3" clip-path="url(#c2)"/>
<path d="M202.5 153.6zm6.3 1.3zm-31.7 2zm11.6-.4zm16.9 .7zm.2-.6zm1.1 1.4zm-6-.1zm-.2 .2zm-18.1 .3zm-3.6 .2zm-3.7 .2zm-.4-.5zm-1.2-.7zm-.1 2.8zm5.9-.6zm3.7-.1zm5.3 .6zm6.7-1zm1 0zm2 .4zm2.3 0zm1.1-.4zm1.7 1zm0-.1zm1.3 0zm.6-1.2zm1 .4zm1 .3zm.8-.4zm1.2 .7zm1.4 0zm.1 0zm.5-.2zm.2-.4zm-1.8 1.2zm-.2 .8zm-1.8 0zm-.4 .3zm-.3 .2zm-.2-1.2zm-1.2 .9zm0-1.1zm-.9 1.2zm-.4-.6zm-.4-.3zm-.3 .6zm-.3-.4zm-.1-.5zm-2.4 1.1zm-2.3 .3zm-6-.3zm-.4-1.1zm-.9 .2zm-1.7 .9zm-2.1-1zm-1.3 1.1zm-1.6-.8zm-.5 .4zm-1.4-.7zm-1.2 .9zm-2.9 .2zm-.4 .2zm-.9-.4zm-1.4 .3zm0-.2zm-1.5-.5zm-.2 .7zm-1.9-.5zm-1.6 1.8zm.9-.5zm.6 .3zm.2 .2zm1.4-.3zm2.3-.5zm.4 .7zm.3-.6zm.6-.2zm1.6 .5zm.3 .4zm.4-.9zm.5 1.2zm.7-.2zm1.7-.9zm1.8 .6zm1.9-.9zm.5 1.3zm.9-.2zm.5-.6zm1.7 .1zm3.5-.4zm.3 .6zm.2-.4zm2.4 .5zm.4 .5zm2-.6zm.5-.2zm.2 .3zm.1-.9zm.2 .4zm1.5-.2zm.8 .7zm.4 .2zm0-1zm.5 .6zm0-.5zm0 .2zm.9-.3zm.7 .7zm0-.5zm.2 1.1zm.4-.4zm1.4-.8zm4.4 .9zm.8-.5zm.5 .1zm1.8-.2zm-.1 2zm-3 .2zm-1.8-.3zm-.4 .3zm-.1-.3zm-.9 .4zm-.3-1zm-.4-.2zm-.7 0zm-.8 .2zm-.4 1zm0 0zm-.8 .1zm0-.4zm-.1-.2zm-1.4-.6zm-.1-.2zm-.2 1.2zm-.6-1zm-.1 .5zm-.3-.2zm-.3 .7zm-1.1-.1zm-.5-1zm-1 1.2zm-.7-.2zm-2-.2zm-.1 .2zm-.7-.2zm-1 .1zm0 .1zm-1.3-.1zm-1.5-.3zm-2.5-.7zm-.2 1.4zm-1.3-.6zm-.1 .5zm-.7-.8zm-1.1 .5zm-.9 .3zm-.8-.6zm-.3-.5zm-.4 1.2zm-.8-.2zm0-.7zm-.1 .8zm0-1.2zm-.8 .1zm0 .9zm-.4-1zm-.4 .8zm-2.9 .5zm-.1-.5zm-.3-.5zm-.2 .2zm-.3 .4zm0-.6zm-.6 .6zm-.2 .2zm-.8 .1zm-.5-.2zm-.2-.8zm-.3 .3zm-.6 .2zm-.1-.3zm-2.9 .3zm-2.5 .1zm-2.1 1.4zm.3-.5zm2.3 1.1zm.3-1.4zm.7 .3zm.8 .3zm.9 .5zm1.6-1zm.2 .9zm.2-.7zm.8 .3zm.1 .7zm.4-.4zm.3-.4zm.1 .6zm.8 0zm.2-.8zm.1 .7zm.2-1zm.9 .5zm.4 .2zm.1-.2zm.8 .7zm.6-.6zm.1 .7zm0-.6zm0 .2zm.3 .4zm1.2-.4zm.3 .1zm.3-.6zm.1 .7zm.1-.1zm.4 .1zm.1 .3zm.7-.1zm1-.8zm.7-.3zm.6 .3zm3 .2zm.3-.6zm.9 .7zm1.1 .5zm1.5-.7zm.1 .3zm.2-.7zm.3 .7zm0-.2zm.2 .5zm2 .2zm.5-.2zm.8 0zm.8-1zm1.7 .6zm.8 .1zm.3 .4zm.3 0zm.1-.2zm0-1.1zm.9 .5zm1.1 .3zm.1-.4zm.9 .5zm.1 .2zm.4-.4zm.1 0zm.2-.4zm1.1 0zm0-.2zm.2 .8zm0-.5zm.2 .7zm0-.4zm.5 .2zm.2 0zm.1 .3zm0-.6zm.3 .7zm1.2-1.1zm1.5 .2zm.3 .5zm2.7-.2zm3.5 0zm-1.8 1.4zm-.4 .7zm-.2-1zm-.5 .1zm-1.1 .7zm-.8 .1zm-.5 .1zm-.8-.5zm-.1 .6zm-.4-1.2zm-.2 .8zm-.6 0zm-.1-.9zm-.1 0zm-.2 .4zm-1 .7zm-.2-.7zm0 .9zm-.2-.5zm-.1 .5zm-.1-.2zm0 .1zm-.1-.8zm-.2 .2zm-.1 .4zm-1.7 .2zm-.3 .1zm-.4-.2zm-.4 .2zm-.3-.1zm-.5-.4zm-.3-.8zm-.1 .2zm-.2 0zm-.2 .4zm-.1 .5zm-.1-.6zm-.4 .4zm-.3-.4zm-.3-.6zm0 .7zm-1-.1zm-.5 .3zm-.7 .5zm-1.1-1.2zm-.7 .5zm-2.6-.5zm-.7 1.1zm-.5-.9zm-2 1zm-.5-1.1zm-.1 .1zm-.7 .6zm-.4-.6zm-.6 .9zm-.1-.3zm-.2 0zm-.2 .3zm-1.2-.8zm-.3 .2zm-.1-.6zm-.1 1zm-.1-1.1zm-.7 1.3zm-.4-.2zm0 .3zm-.6-.5zm-.2 .5zm-.2-.2zm0-1.1zm-.3 .5zm-.2-.1zm-.1 .7zm-.6-1zm-.1 .2zm-.2 .7zm-.4-.5zm-.1 .7zm-1.3-.3zm-.4-.7zm0 1zm-.1 0zm-.1-1.1zm0 1.2zm-.2-1.2zm-.8 .9zm-.1-.9zm-.3-.1zm-.5 .9zm-.5-.9zm-.4 0zm-1 .2zm-.4 .8zm-.7-1.1zm-.5 1.2zm-.7-.2zm-.4 .1zm-.1-.9zm-.5 .7zm-.2-.5zm-.3 .9zm-.2-.9zm-1.3 .2zm-.6 .8zm-1.2-1zm-.1 .9zm-1.5-.1zm0-.2zm-.8 .7zm1.1 .7zm1.4-.1zm1.3 .3zm.3-1zm.2 0zm1.7 .1zm.1 .9zm.7-.2zm.1 .2zm.9-.6zm.1-.1zm.5 .3zm.1-.5zm.6 0zm0 .6zm.1 .1zm.6 0zm.2-.8zm.2 0zm.2 .2zm0 .9zm.1-1.2zm0 1zm.3-1zm.2 .8zm.2-.3zm0 0zm.1 .3zm.1-.6zm.3 .4zm.2-.2zm0 .7zm1.3-.5zm.2 .3zm.1-.7zm.2-.2zm.2 .9zm.1-.1zm.4 .3zm.6-1zm.1 .9zm.4-.7zm.1 .9zm.2-.1zm.1-.3zm.5-.5zm.2-.1zm.5 1.1zm0-1zm1.4 .1zm0 1zm.7-.9zm.1 .7zm1-.2zm.1-.8zm.1 .9zm.2 0zm0-.8zm.1 .7zm0 0zm.3 .4zm0-.8zm0 .5zm2.7-.7zm1.1 .1zm1.7-.1zm.4 .8zm.6-.6zm1.4 0zm.3-.5zm.3 1zm.8 .1zm1.6 .2zm.9-.7zm1 .1zm.7 .6zm.2-1.3zm.7 .8zm.3 .5zm.2-.8zm.5 .6zm.6 0zm.2-.6zm.5-.4zm0-.2zm.1 1zm.1-.8zm.1 .8zm0-.6zm.5 .2zm.1 .3zm1.2 0zm.2-.8zm.3 .3zm0 .2zm.4 .1zm.7-.7zm.1 .1zm.1-.1zm.5 .4zm.4-.3zm.5 .4zm0 .6zm0-1.1zm.2 1.3zm.6-.4zm.1 0zm3.4 .1zm0-.1zm.1-.9zm1.1 .4zm-1.6 2zm-1.5-.1zm-1-.5zm-.8 1.1zm0-.6zm-2.3-.8zm-.3 1.3zm-.4-.3zm0-.9zm-.1 .3zm-.1 1zm-.3-.4zm-.1-1zm-.2 .6zm-.3 .6zm0-1.1zm0 1.1zm-.5-1.2zm-.4 1.4zm-.3-1.1zm-.5 1.1zm-.3-1.3zm-.7 .7zm-.2 .2zm-.5-1zm-.2 1zm-.5-1zm-.5 1.1zm-.2-.3zm-.3-.8zm-2.7 .1zm-2.3 .1zm-.2 .5zm-.3 .3zm0-.4zm-1.7 .4zm-1.1-.4zm-.5-.5zm-1 .7zm-2.2-.3zm-.2 .1zm-.3-.1zm-.4-.2zm-.6-.3zm-.4 .5zm0 .9zm-.1-.1zm-.1-1.3zm-.6 1.4zm-.1-.5zm-.5-.5zm-.1-.4zm0 .6zm-.1 .2zm-.1 0zm-.2-.3zm-.2-.2zm-.1 .2zm-.2 .7zm-.3-.9zm-.3 .2zm-.2-.5zm-.3 .5zm-.2-.2zm-.5-.2zm-.7 .7zm-.1 0zm-.2-.8zm-.2 .2zm-.1 .6zm0-.1zm-.5-.5zm-.6 1zm-.3-.2zm-.6 .4zm-.1 0zm-.1-.9zm-.1-.2zm-.4-.3zm-.1 .6zm-.4 .4zm-.2-.4zm-.8 .4zm-.8-1zm-.2 .6zm-.2 .2zm-.1-.4zm0 .3zm-.5 .3zm-.3-1zm-.3 1zm-.3 .2zm-.2-.7zm-.3 .2zm0-.2zm-.1-.2zm-.2-.3zm0 .6zm-.3 .5zm-.6-.7zm-.1 .8zm-.1 0zm-.2-1zm-.3 .3zm-.6 0zm0 .7zm-.1-.7zm-.2 0zm-.6-.3zm-2.4 .5zm-.6 .5zm-.2-.4zm-.4-.3zm-.7 .9zm-.4-.7zm.1 2.2zm2.7-.1zm1 0zm.2-1.1zm.8 .8zm.3 0zm1.3 .3zm0 0zm.3-.8zm.3-.5zm0 .4zm.1 .8zm.2 .1zm.3 .1zm.7-.5zm.4 .1zm.5 .2zm.1-.3zm.1-.9zm.5 .9zm.3-.8zm.5 1.1zm.3-.4zm.1 .5zm.8 0zm.5 0zm.2-1.2zm0 0zm.2 .3zm.3 .6zm.3-.3zm0 .5zm.3-1.1zm.3 .6zm.3-.1zm.1-.3zm.1-.2zm.2 .8zm.3-.1zm0 .3zm1.4-.7zm.1 .1zm.5 .2zm0-.5zm.1 1.2zm1.1-1.3zm.3 1.1zm.5-.9zm.2 1.1zm.3-1.3zm1.5 .1zm0 .1zm.5-.3zm.2 .1zm.5 .8zm.1-.7zm.5-.1zm.8 .5zm1.8-.2zm.6 .1zm.2 .2zm0-.4zm.4 1.1zm.1-.6zm.1 .6zm.8-1.2zm.1 1.2zm.5-.4zm1-.8zm.8 .3zm.3-.2zm.9 .9zm.3-.5zm1.4-.4zm0 .1zm.2 0zm.4 .7zm.2-.8zm1.4-.1zm.4 .1zm.3 1zm0-.5zm.1-.2zm.3 .4zm.1-.4zm.3-.2zm0-.4zm.8 1.4zm.1-.6zm.6-.2zm.2 .4zm1.3 .3zm.4-1.1zm.1 .2zm.4-.3zm0 .9zm.5 .2zm.6-1.1zm.4 .5zm1.9 .5zm2-.3zm5 1.8zm-3.1 .3zm-1.2-.1zm-1.8-.8zm-.4 .1zm-1.3-.2zm-.6 .3zm-.8-.2zm-1.2 0zm-.2-.4zm-.2 .3zm-.9 .3zm-.4 .3zm-.8-.7zm-1.7 .4zm0 .6zm-.2-1.3zm-.1 .6zm0-.6zm-1.6 .9zm-.5-.6zm-.5 1.1zm-5.2-.9zm-2.6 .5zm-.1-1zm-1 1zm-.3-.1zm0 .3zm-1.7-.7zm-.9 0zm-.9 .9zm-.2-.3zm-.7-.2zm-.1-.2zm-.1 .5zm-.3-1zm0 .1zm-.3-.1zm-.4 1zm0-.1zm0 .1zm-.6-.8zm-.2-.3zm-1.4 .5zm-1 .1zm-.2-.4zm-.4-.3zm0 1.2zm-.5-1.1zm-.1 0zm-.1 .2zm-.4 .1zm0 .1zm-.1-.5zm0 .9zm-.8-.5zm-.2-.3zm-.1-.1zm-.1 .3zm-.1-.1zm0 1zm-.1-.6zm-.6 .5zm-.5-.4zm0-.4zm-.3 0zm-.8 .3zm-.3 .3zm-1.9-.7zm0-.1zm0 1.3zm-.4-.4zm-.1-.7zm-1.7-.1zm-.1 .5zm-.4-.7zm-1.1 .9zm-1.1-.6zm-.4 1zm0-.2zm-.7-.1zm-.3 .4zm-.4 0zm-.5-.9zm-.5-.4zm0 1.4zm0 .4zm.2 0zm.9-.4zm.5 1zm3.7-.7zm1.4 0zm0 .3zm.4 .6zm.1-1zm1.1 .5zm.4-.5zm.1 .3zm0 .2zm0-.5zm.2 1.1zm.4-.9zm.2 .4zm.4-.7zm.1 .9zm.9-.6zm.3 1zm.1-.4zm0-.8zm.9 .1zm.2-.3zm.1 .5zm.9-.5zm.1 .2zm.5 .1zm.2 .4zm.2-.3zm.2 .4zm.4-.8zm0 1.1zm1-.7zm.2 .2zm.5-.6zm.7 1.2zm.1-1.2zm0 .6zm.3-.2zm.7 .6zm.8-.9zm.3 1.2zm.4-.7zm.8-.1zm.1-.5zm.8 1.1zm0-.1zm.4 0zm.3 .4zm.3-.9zm.5 .2zm.3-.1zm.2 .6zm.1 .2zm1.5-1.1zm.4 .9zm.8-.8zm.7 1zm6.8-.8zm.2-.2zm1.5 0zm0-.2zm.3 .2zm1.7 0zm.1-.4zm.1 .5zm1.1-.2zm.4 .8zm5 0zm1-1zm.1 .3zm5 1zm3.2-1.2zm-3.6 2.5zm-5.1-1zm-.9 .2zm-.6-.2zm-2.8 1.1zm-.4 .1zm0-1.3zm-1.5 .1zm-.2 1.1zm-.4-1.2zm-.8 1zm-.4-.6zm-.3 .5zm-1.3-1zm-.8 1.4zm-3.3-1.2zm-.8 .3zm-.4-.5zm-.6 .3zm-1.1 1zm-2.8-.5zm-1-.4zm-.8 1zm-.3-.2zm-.3-.7zm-1.5-.4zm-1.4 1.2zm-.7-1.3zm-.2 .2zm-.9 .6zm-.4 .3zm-.9-.7zm-.2 .7zm-.3 .2zm-.1-.2zm0-1zm-.8 .6zm-.1-.3zm-1.1-.4zm-.6 1.4zm-.7-1.3zm-.7 .4zm-.4 .1zm-.7-.2zm-.9 .1zm-1 .8zm-.1-.2zm0-.5zm0 .4zm-4-.1zm-.2 .3zm-1-.5zm-.1-.4zm-4.2 .6zm0 .5zm-.1-.2zm.1 1zm.2-.5zm3.3-.1zm.1 1.2zm.2-.4zm.4-.6zm.8-.3zm.8 1zm.5 .1zm.1 0zm.7-.8zm0 0zm1.4-.1zm.7-.1zm.5 .6zm.5 .7zm.1-.2zm2.1-.4zm1.7-.6zm.2 0zm.1-.2zm.1 .3zm.3-.2zm.8 .5zm.2 .8zm1.2-.5zm.1-.3zm.9 .7zm.3-.3zm.8-1zm0 .9zm1.7-.7zm3.1 .9zm.5-.6zm1.6 .6zm2-.8zm.8 1zm.6-.2zm3-.9zm.1 .9zm1.2-.9zm1.7 .1zm1.2 .9zm1.1-1zm.1-.2zm3.3 .3zm.1 0zm4.1 .4zm-1.4 1.8zm-6.3-.4zm-.7 0zm-1.3 .2zm-4.4-.7zm-.9 .5zm-10.1-.5zm-.3 .5zm-.9 0zm-.5 .1zm-1.6-.3zm-.2 .2zm-1.2 .4zm0 .2zm-.3-.3zm-.4 .2zm-1.3 .3zm-.2-.8zm-.8 .2zm-.8-.5zm-.2 .1zm-1.5-.2zm-2.8 .5zm-.1 .1zm-3.6-.4zm-3.3-.4zm0 2.4zm5.1 .4zm7-.6zm1.5-.5zm1.2 .4zm1.5-.2zm.3 .3zm1.2 0zm0-.3zm.1 .8zm.5-1.1zm1.8 .4zm2.1 .7zm2.8-.2zm3.8-.1zm1.4-.3zm.8 .8zm4.6-1zm9.7 .6zm-7.6 .7zm-1.7 .9zm-7.1-.5zm-8.1 0zm0-.6zm-.8 1.2zm-2.5-.2zm-2.6 0zm-1.1-.2zm-2.8-.4zm-.2 0zm-7.9 1.3zm7 .8zm1.4 .1zm1.9-1zm3.5 .7zm4.5-.3zm14.6-.3zm12.9 .6zm-5.4 1zm-5.4-.2zm-.4 .5zm-6 .5zm-2.3-1zm-.6 1.2zm-11.9-.7zm-2.1 .8zm-4.9-.5zm-10.2 1.3zm30.3 .6zm25.6 .4zm-.2 1zm-27.9-.3zm-5.7-.8zm-1.6 .2zm-1.2 .6zm-16.5-.9zm33.5 2.9zm17.9 1.3zm-26.3-1zm-17.2 .8zm-3.5-.9zm8.2 2.1zm2 .5zm8-.2zm19.4-.1zm5.9 1.8zm-14.7 0zm-2.3-.1zm-1.5-1.1zm-5.5 1.1zm-1.2 0zm-.1 0zm-2.8-.4zm-7.3 .5zm-.4-.2zm-1.2-.6zm-9.2 2zm2-.1zm2-.8zm.2 1.4zm1.7 0zm.1 0zm.8-.9zm.1-.5zm0 1.2zm.1-.2zm.7-.1zm1.6 .5zm1.3-.4zm.3 .3zm0 .1zm1.4 0zm.6-1.2zm.3 .9zm2.3-.7zm.8 1zm.8-.6zm.4-.5zm0 .7zm2.3-1zm1.8 .1zm1.7 .9zm4.4 0zm2.9-.2zm1-.2zm.4-.3zm.2 .7zm.3-.1zm6.6-.2zm1.9 .9zm-3.4 .8zm-1.3 .4zm0-.9zm-1.1-.1zm-1.4-.3zm-1.8 1.3zm-1-1.3zm-.2 .6zm-.3-.2zm-.4-.1zm-1.4-.1zm-.2 1.2zm-.7-.1zm-.2-.9zm-3.9 .5zm-1.4-.3zm-2 .2zm-.2-.8zm-.4 1zm0-.5zm-1.4 .4zm-.8-.4zm-.1-.3zm-.3 1zm-.1-.2zm-.4-.6zm0 .3zm-.1 .6zm-.3-.7zm-1.5-.6zm-.5 .2zm0 .9zm-.3-.6zm-.4 .4zm-1.2-.6zm-.1 .5zm-.7 .3zm-.7 .3zm-.7-.2zm0-1zm-.5 .3zm-.1 .5zm-.8 .2zm-.8-1zm-.1-.1zm-.1 0zm-.8 .5zm-.2 .3zm-.2-.4zm-.1 .6zm-.2 .2zm-.4-1zm-.2 .6zm-.1-.2zm-.4-.2zm-.2-.2zm-.6 .8zm0-1zm-.1 0zm-.2 .3zm-.2 .4zm-.1-.8zm-1 1zm-.1 .3zm-.4-.5zm-.4-.2zm-.2-.4zm-2.3 0zm-.4 .1zm-1.7 .7zm-.2-.4zm-1.4-.1zm-.2 .9zm.5 .7zm1.1 .2zm.3-.7zm0 1.2zm2.1-1.3zm.7 .7zm.1 .6zm.4-.1zm.5-1.1zm.1 1.2zm.6-.5zm.1 .2zm.3-.8zm.8 .1zm0 .7zm0-.5zm.1-.4zm.4 1zm.2 .3zm.2-.4zm.1-.3zm.1 .6zm.1-.1zm.2-.3zm.9-.3zm.1 .7zm.5-.6zm.6 .7zm.2-.2zm.8-.2zm0-.7zm.2-.2zm.2 .9zm.2-.9zm.1 .5zm.2 .1zm.1-.4zm.1-.3zm0 .2zm0 1.1zm.1-.2zm0 .3zm.5-.1zm.2-1.3zm.1 1zm0-1zm.1 1.2zm.6-.5zm.4-.2zm0 .5zm.5-.1zm.3 .1zm.3-.2zm.2 .3zm.3-.6zm0 .1zm.2-.2zm.3 0zm.6 .5zm.9 .1zm.5-.9zm.5 1.1zm0-1.2zm0 .9zm.1 .2zm.1-.3zm.2-.5zm.5 .4zm.2-.1zm.1 0zm.3-.5zm.2 .4zm.3 .4zm.4-.2zm.1-.7zm.4 .7zm.4 .5zm.6-.7zm1 .8zm.2-1.1zm3.9 .2zm.3 .3zm1.1 .6zm.6-1.2zm.4 .2zm1.1 .5zm.2-.6zm1.4-.2zm1 1.4zm.2-.9zm.4-.3zm.9 1zm0-.2zm0-.6zm.9 .6zm.1-.6zm.7-.3zm.3 0zm1.3 .9zm.5-.1zm9 1.1zm-7.2-.2zm-.8 .8zm-1.7-.4zm-2.7 0zm-1.8 .3zm-3.6-.3zm-.6-.2zm-4.3-.3zm-1.9 .8zm-.6-.7zm-.5 0zm-.8 1zm-.1-.6zm0 .6zm-.7-.7zm-.4 .8zm-.6-1.1zm-.2 .8zm-.5 0zm-1.5 .2zm-.1-.3zm0 .2zm0-1zm-.2 .3zm-.1 .6zm-.2-1.1zm0 1.2zm-.1 0zm-.1-.8zm-.4-.2zm-.2 .5zm-.1-.5zm-.1 1.1zm-.2-.8zm0 .6zm-.1-.6zm-.1-.2zm-.5 .2zm-.2 .8zm-.1-1zm-.5-.3zm-.1 .4zm-.3 .2zm-.3 .2zm-.1 .6zm-.2-.4zm-.1-.3zm-.2 .1zm-.7-.3zm0 .1zm0 .4zm-.2 .1zm-.1-.2zm-.4-.1zm-.1 0zm-.2 .5zm-.1-1.1zm0-.2zm-.1 .4zm-.5-.3zm-.1 1.3zm-.1-1zm-.2 0zm-.4 .3zm-1.6-.1zm-1.1 .7zm-.4-1.3zm-.6 1.1zm-.2-.9zm-.2 .5zm-.2-.3zm-.3 .5zm-.4-.3zm-.3-.4zm-.9 .5zm-.6-.3zm-2.2-.2zm-1.3 .7zm-.2 .3zm-.1-.7zm-.1 .5zm-.1-.4zm-.1 .8zm.3 1.3zm3.6-.4zm.6 .5zm.6-.6zm.8-.6zm.8-.1zm.7 1.1zm.4-.4zm.8 0zm.2-.7zm.5 .5zm.3 .5zm.9-.1zm.2-.8zm.1 1.3zm.2-.2zm.1-.7zm0-.3zm1 .9zm.3 .2zm.7-.9zm.1 .8zm.7 0zm.2-.9zm.1 .9zm.1-.9zm.3-.3zm.3 .4zm.5 .1zm.3-.4zm.2 1zm.3-.2zm1.8 .1zm.8 0zm.4 0zm.6-.1zm.5 0zm.1-.5zm.6 .7zm.1-1.1zm.7 1.4zm.2-.7zm.6-.6zm.7 .1zm.7 .7zm.7 0zm.2-.2zm2.1 .2zm3 .3zm.7-.7zm1.6-.2zm.1 .4zm.6 .4zm.3 .3zm3.5-.8zm0-.6zm.2 .3zm.7-.2zm.7 .5zm.1 .1zm.2-.1zm.4-.3zm.6 0zm1.3 .4zm.3-.6zm.3 .3zm6.9-.3zm-3.3 1.4zm-.9 .1zm-4.5 1.2zm-2.5-1.1zm-.2 .6zm-1.5-.5zm-.4-.2zm0 .7zm-.3-.4zm-3.1 .4zm-6.5-.1zm-.7-.1zm-.7-.6zm-.8 1.1zm-1.2 .2zm-.4-1.1zm-1.5 .3zm-.7 0zm-.7 0zm-.3-.4zm-1.3 .5zm-.5 .4zm-.1 0zm0 .4zm-.9-.7zm-.5-.2zm-1.4 .2zm-.5 .7zm-.7-.6zm-.5-.5zm-1.8 1.1zm-.5-1zm-.1 .5zm-1.3 .4zm-.5-1.2zm0 .2zm-.1 0zm0 .8zm-1.2-.4zm-.1-.3zm-2.4-.1zm-3.8 1.2zm3.1 .7zm.1-.5zm.6-.2zm2.2 .3zm3.3-.1zm2.4-.1zm.2 .8zm.2-.6zm.9 .4zm.2 .5zm.8-.8zm.2-.2zm1.5-.2zm1 .8zm3.9 .3zm1.8 .1zm5-.5zm.6-.1zm5.1 .2zm7.9-.6zm.9-.2zm-30.1 2.4zm-1.2 .5zm-2 .6zm15.8-.5zm22.6 2.3z" stroke="#000" stroke-opacity="0.6" stroke-width="0.8" stroke-linecap="square" fill="none" filter="url(#bl)"/>
<line x1="191.50" y1="149.40" x2="191.50" y2="213.60" stroke="#777" stroke-width="0.8"/>
<line x1="165.00" y1="192.50" x2="229.00" y2="192.50" stroke="#777" stroke-width="0.8"/>
<rect x="165.50" y="149.50" width="64.00" height="64.00" fill="none" stroke="#333" stroke-width="0.9"/>
<line x1="165.90" y1="149.40" x2="165.90" y2="213.60" stroke="#999" stroke-width="1.4"/>
<text x="166.60" y="153.80" font-size="4.0" font-weight="bold" fill="#333">51.2%</text>
<text x="166.60" y="212.00" font-size="4.0" font-weight="bold" fill="#333">25.5%</text>
<text x="227.80" y="212.00" font-size="4.0" font-weight="bold" fill="#333" text-anchor="end">4.38%</text>
<text x="228.10" y="157.20" font-size="7.37" font-weight="bold" fill="#000" text-anchor="end" textLength="13.00" lengthAdjust="spacingAndGlyphs" stroke="#000" stroke-width="0.3">19.0</text>
<text x="172.68" y="219.20" font-size="3.0" font-weight="bold" fill="#666" text-anchor="middle">0</text>
<text x="182.28" y="219.20" font-size="3.0" font-weight="bold" fill="#666" text-anchor="middle">10²</text>
<text x="197.00" y="219.20" font-size="3.0" font-weight="bold" fill="#666" text-anchor="middle">10³</text>
<text x="212.36" y="219.20" font-size="3.0" font-weight="bold" fill="#666" text-anchor="middle">10⁴</text>
<text x="225.80" y="219.20" font-size="3.0" font-weight="bold" fill="#666" text-anchor="middle">10⁵</text>
<line x1="172.68" y1="214.10" x2="172.68" y2="215.40" stroke="#666" stroke-width="0.35"/>
<line x1="177.80" y1="214.10" x2="177.80" y2="215.40" stroke="#666" stroke-width="0.35"/>
<line x1="182.28" y1="214.10" x2="182.28" y2="215.40" stroke="#666" stroke-width="0.35"/>
<line x1="191.88" y1="214.10" x2="191.88" y2="215.40" stroke="#666" stroke-width="0.35"/>
<line x1="195.08" y1="214.10" x2="195.08" y2="215.40" stroke="#666" stroke-width="0.35"/>
<line x1="197.00" y1="214.10" x2="197.00" y2="215.40" stroke="#666" stroke-width="0.35"/>
<line x1="207.24" y1="214.10" x2="207.24" y2="215.40" stroke="#666" stroke-width="0.35"/>
<line x1="210.44" y1="214.10" x2="210.44" y2="215.40" stroke="#666" stroke-width="0.35"/>
<line x1="212.36" y1="214.10" x2="212.36" y2="215.40" stroke="#666" stroke-width="0.35"/>
<line x1="221.96" y1="214.10" x2="221.96" y2="215.40" stroke="#666" stroke-width="0.35"/>
<line x1="224.52" y1="214.10" x2="224.52" y2="215.40" stroke="#666" stroke-width="0.35"/>
<line x1="225.80" y1="214.10" x2="225.80" y2="215.40" stroke="#666" stroke-width="0.35"/>
<ellipse cx="247.6" cy="172.4" rx="20.8" ry="13.5" fill="url(#bg)" opacity="0.5" clip-path="url(#c3)"/>
<ellipse cx="270.6" cy="169.4" rx="14.6" ry="13.0" fill="url(#bg)" opacity="0.2" clip-path="url(#c3)"/>
<ellipse cx="247.6" cy="200.0" rx="18.2" ry="6.8" fill="url(#bg)" opacity="0.3" clip-path="url(#c3)"/>
<path d="M263.4 152.3zm.6 5zm14.5 .7zm-1.2 .3zm-1.6 .4zm-15.5-.4zm-16.2-.5zm-8.9 2.3zm9.5-1.1zm2.5 .7zm1.6 .5zm5.8-.9zm1.1 .4zm14.7 .5zm.2-.9zm2.6 .2zm2.2 .8zm1.6-.6zm6.7 .9zm-4 .5zm-4.3 .1zm-1.8 .2zm-2.4 .5zm-2-.6zm-.8-.6zm-1.3 0zm-.5 .8zm-.5-.7zm-9.2-.1zm-.7 .7zm-7.1-.7zm-2.9 1.1zm-.8-.3zm-3.3-.3zm-4.7 .4zm-.3 1.2zm2.7 .5zm1.7-.8zm5.9 .4zm.6 0zm.6-.3zm7.3 .2zm.2-.7zm.6 .9zm1.2-1zm3.5 .8zm.7-.7zm2 1.1zm1.3-.4zm.2 .5zm1.5-.7zm.2 .7zm.8-1.2zm.2 .2zm1.3 .6zm.2-.4zm1.7 .8zm.1-1zm1.4-.2zm1.1 .7zm.2-.2zm.5 .5zm4 .3zm7.8-1zm-7.9 1.5zm-2.2 1zm-1.5-.7zm-.6 .1zm-.2-.5zm-.4 .3zm-.2 .7zm-.2-1zm-2.2 .3zm-.3-.2zm-1 .8zm-1 .1zm0-.3zm0 .2zm0 .2zm-1-.2zm-1.3-.4zm-1 .1zm-.1-.6zm-1 1zm-2-.1zm-.5-.9zm-.1 .5zm-.6 0zm-1.8 .1zm-.6 .4zm-.3-.8zm-.9 0zm-1.7 .6zm-4.3-.1zm-1.5 .3zm0-.2zm-.4-.2zm-.9-.2zm-.8 .1zm-2 .6zm-.2-.1zm-.3-.5zm-.5-.4zm-1.8 .2zm-4.3 .8zm-3-.2zm-1.1 .8zm4.1 .8zm.4-1.1zm.4 .1zm1.7 .3zm.6 .5zm.5 .2zm1.1 .1zm.2-.3zm.7-.1zm.2-.4zm.6 .1zm.6 .7zm.7-.8zm.3-.4zm.7 .7zm.2 .3zm.2-.5zm.7 .7zm.2-1.4zm.2 1.1zm1.5 .1zm1.3-.5zm.9-.7zm.5 1.2zm.5-.1zm.1-.3zm.2-.6zm.6-.2zm.1 .1zm1.6 1.3zm.6-.7zm.6 .1zm.4 .1zm0-.6zm.2 .7zm.1 0zm0-.2zm.2 .3zm3.3 .2zm1.1-1.2zm1.2 .4zm1.3 .8zm.7-1.3zm.1 1.1zm.2-.4zm.2-.1zm1 .2zm1.1 .6zm.8-.7zm.4-.3zm.1 .8zm.6-1.2zm.6 1.2zm0-.3zm.2 .5zm.8-.8zm.4 .6zm.4-.5zm.3 .6zm1.1-.2zm.7-1.1zm.8 .7zm1.1-.7zm1.4 .9zm3.8 .5zm.1 0zm.2-1.1zm2.4 .2zm-3.5 1.9zm-1.8-.6zm-3.3 .9zm-.1-.4zm-.5 .5zm-.1-1.3zm-.1 1zm-.4-.4zm0-.1zm-.8 .4zm-.2 .2zm-.1-1.1zm0 1.2zm-.1 .1zm-.2-1.2zm-2.7 .3zm-.1-.1zm-1.5 .1zm-.2 .7zm-.9-.5zm-.4 .8zm-.7-.3zm-.1-.2zm-.6-.9zm-.1 1.1zm0 .1zm0-.9zm-.1 .8zm-.4-.1zm0 .1zm-.3 0zm-.3 .2zm-.4-.1zm-.8-.9zm-.6-.2zm-.7 .5zm-.9-.5zm-.6 .6zm-2.4 .5zm-.8-1.2zm0 0zm-.5 .7zm-.2-.7zm-.7 1zm-4.1 .4zm-.7-.3zm-.8-.3zm-.2-.1zm-.4 .1zm0-.5zm-.1 .5zm-.2-.7zm-.3 0zm-.2 .6zm-.6 .2zm0 .1zm-.1-.1zm-.1 0zm-.1 .4zm-.6-1.3zm-.4 0zm-.2 .9zm-.1-.8zm-.1 .3zm-.5 .4zm0 .4zm-.1-.3zm-.2-.3zm-.5 .6zm-.3-.6zm-.3-.2zm-.6 .6zm-.5-.5zm-.3-.4zm0 .4zm-.1 .7zm0 .2zm-.7-.8zm-.8 .3zm-.6-.1zm-.1-.3zm-1.1 .2zm-.1 .7zm-.8-1zm-.6-.3zm-.4 .2zm-.2 .8zm-.8-1zm-.5 .4zm0 .1zm-.6 .2zm-4-.6zm-.3 2.6zm.3-.3zm1.5-.2zm.4 .6zm.7 0zm.1-1.2zm.1 .9zm.8-.7zm.1 .9zm2.1-.3zm1.1-.1zm.5 .5zm1.7-.6zm.3-.8zm.8 0zm.1 .6zm0 .2zm.3 .2zm1.8 .1zm.2-.8zm.2 .9zm.2 .2zm.6-.4zm0-.1zm.3-.1zm.2 0zm.6-.5zm.2 .8zm.3-.1zm.1 0zm.9 .1zm.7-1.1zm.2 .6zm.4 .2zm.5-.5zm.3 .6zm.1-.3zm.2-.5zm.1 .7zm.1-.1zm.9 .7zm0-1.4zm.7 .8zm1.1-.2zm.9 .6zm1-1.1zm2.4 .7zm.9-.8zm.6 0zm0 0zm1.4 .7zm.3-.5zm.4 .9zm1.5-.7zm.1-.3zm1.2 .1zm.1-.2zm.4 1zm.1-.5zm0-.1zm.2 .3zm0-.3zm.7-.4zm.4 .5zm.8 .2zm.3 .7zm.2-1.1zm.1 .3zm.7 .8zm.1-.4zm.1-.1zm.2 .1zm.1 0zm.2-.7zm.7-.3zm.2 .4zm.3-.3zm0 .1zm.2 .2zm0-.1zm.4 1.1zm.8-.7zm.1 .7zm.1-.5zm1 .5zm1.6-.9zm.4 .2zm.5-.1zm1.9 .3zm1.3-.1zm.3-.8zm.5 .9zm.3 .1zm2.3 .4zm4.9-.4zm-5.7 1.4zm-.5-.2zm-1.9 0zm-2.8-.2zm-.2-.3zm-.1 1zm-.9 0zm-.3-1.2zm-1.6 .8zm-.1 .2zm-.1-.7zm-1.9 .6zm-.4 .2zm-.2-.1zm-.1-.1zm-.3-.6zm-.1 .4zm-1.9 .5zm0-.4zm-.3 .4zm-.1 .1zm-.3-.3zm-.5 .1zm-.3-.7zm-1.9 .8zm-.2-.2zm-.4-1zm-.2 .2zm-.1 .9zm0-.1zm-.2-.6zm-.4 .6zm0 .3zm-.2-1.2zm-.2 1.1zm-1.1-.3zm-.9-.2zm-.3 .4zm-1.5-.1zm-.3-1zm-.1 .3zm-.7 .3zm-.3 .6zm0-.2zm-.8-.7zm0 .9zm0-.1zm-1.3 .2zm-.2-.1zm-.6-1.2zm-.2 .1zm-.8 0zm0 1.2zm-.3 0zm-.3-1zm-.7-.3zm-.5 .7zm-.2 .6zm-.3 0zm-.7-.3zm-.2-.2zm-.7-.3zm0 .8zm-.1-.6zm-.2-.2zm-.3 0zm-.2 .9zm-.5-1zm-.2 .9zm0-.8zm-.3 .6zm-.5-1zm-1.2 .7zm-.2-.8zm-.1 1.2zm0-.3zm-.3-.4zm-.2-.5zm-.4 .8zm-.1 .6zm-.2-.7zm-.1-.3zm-.2-.1zm-.4 0zm-.4-.2zm-.5 .9zm-.2-.9zm-.1 .5zm-.1 .8zm-.1-.6zm-.7-.3zm-.2 .4zm-.2 .5zm-1-.9zm-.3 .6zm-.3-.5zm-.5 .8zm-1.3-.6zm-.8-.1zm-.1 .6zm0-.8zm-.4 .2zm-.2-.5zm-3.1 .2zm-1.3 .7zm-.1-.4zm-.1 .7zm0 1.5zm.1-.7zm1.3-.2zm.3 .5zm.4-.4zm0-.2zm1.5 .5zm.3-.7zm.6 .2zm.2 .3zm.6 .5zm.1-.1zm.3-.7zm0-.1zm0 1.1zm.5-1zm1.4 .2zm.3 0zm.2 .1zm.3-.5zm.6 .3zm.4 .8zm.3 .1zm.1-.4zm.6-.9zm.1 .9zm.4 0zm.4-.4zm.4 .1zm.4-.2zm.1 .2zm0-.3zm.4 .9zm.1-.3zm.1-.9zm.3 .7zm0-.4zm.2-.3zm.1 .1zm.2 .4zm.5 .3zm.1-.1zm.7-.1zm.1-.7zm.2 1.3zm.3-.7zm.7 0zm0 .4zm.3 0zm.5-.7zm.1 1.1zm.1-1.2zm.1 .3zm.2 .9zm.1-1.3zm0 .4zm.1 .4zm.2-.4zm.3-.3zm.4 .5zm0 .2zm.1-.8zm0 .1zm.1 .2zm.9 .9zm1.9-.6zm.2 .6zm.7-1zm.1 .9zm.2-1.1zm.7 1.2zm.1-.7zm.1 .7zm1-.7zm.8 .1zm.3 .5zm.1-.7zm.3-.5zm.2 1.3zm1-1.2zm.6 1zm.3 .1zm1.1-.4zm.2-.8zm0 .3zm.1 1.1zm1.7-1.2zm1.2 .3zm.1 .1zm.3 .8zm0-.3zm.2-.7zm.1 .8zm.2-.9zm.5 .6zm.9-.3zm.7 .4zm.3 .3zm.2-1zm.2 .8zm.1-.8zm1.3 .4zm.1-.6zm.2 1.3zm1.2-1.3zm0 .9zm.9-.6zm.4 1zm.1 0zm.2-.1zm.6-.3zm.3-.7zm0-.1zm.2 .5zm.1 .2zm.2-.2zm0-.1zm1.2-.2zm1.6-.2zm.4 .1zm0 .5zm8.9 .7zm-1.7 .5zm-6.6 .3zm-1.9-.2zm-.2-.3zm-.5 .9zm-.5-.9zm-.2 0zm-.1 .1zm-.6 .6zm-.5-.3zm-.7 .7zm-.3-1zm0 .1zm-.4 0zm-.3-.4zm-.4 .8zm-.1-.2zm-.8 .5zm-1.3-1.2zm-.4 .1zm-1.6-.1zm-.2 .9zm-.8 .5zm-1.6-.8zm-.3-.4zm-.8 1.1zm-1.3-1.1zm-.7 .2zm-.5 .7zm-.2 0zm-.5-1zm-.1 1zm-.8-.8zm0 .8zm-.9-.8zm-.3-.3zm-1 1.2zm-.1-.8zm-.1-.3zm-.4 .3zm-.9-.1zm-.2 .8zm-.1 .2zm-.3-.5zm-.3-.4zm0-.4zm-.1 .2zm-.8 0zm-.4 1.1zm-.3-.9zm-.3 .2zm-.2 .3zm-.1-.8zm0 .5zm-1-.2zm0 .5zm-.5-.5zm0-.1zm-.6 .4zm-.7 .3zm0-.5zm-.8 .6zm-.3 .1zm-.3-.6zm-1 .8zm-.1-.1zm-.5-1.2zm-.2 .2zm-.1 .6zm0 0zm0-.1zm-.4 .4zm-.3-.8zm-.4-.2zm-.6 .2zm-.1 .2zm0-.6zm-.2 .4zm-.2-.3zm-.5 1zm0-.2zm-.1-.6zm-.3 .4zm-.1-.3zm-.2-.1zm0 .4zm-.2-.6zm-.2 1.2zm-.1-.7zm-.9-.3zm-.4 .4zm-.3-.4zm-.1 .8zm-.1-.6zm-1.2-.5zm-.4 0zm-.2 .3zm-.3 0zm-.5-.2zm-.1 1.3zm-.2-1zm-.1 .4zm-2-.6zm-1.5 .5zm-.4-.4zm-1.6 .8zm-.1-.5zm0 1.3zm3.3 .9zm1.5-1.1zm.9 .3zm.8-.5zm.3 .3zm.2-.2zm.4 .3zm.3 .2zm.5-.1zm.2 .3zm.2-.8zm0 1.2zm.2-1.1zm.1 .7zm.8 .5zm.7-.8zm.2 .2zm.3-.2zm.3-.3zm.2 1zm.5-.5zm.1-.4zm.1 1.1zm.3-.3zm.3 0zm.2-.6zm.1-.5zm.1 .5zm.1 .5zm.3 0zm.2-.8zm.1 .1zm.1-.2zm.4 .1zm.7 .5zm1.9 .7zm.1 0zm.1-1.3zm.4 .7zm.3-.8zm.7 1.3zm.5-.2zm.1-.9zm.3 .9zm.2-.4zm.5 .2zm.1 .4zm.7-1zm1.6 .5zm1.1 .5zm.5 .1zm.9-1zm.2 1zm.9-1zm0 0zm.5 .6zm1.8-.2zm.3-.4zm1.5 0zm.1-.1zm.3 .8zm0-.3zm.8-.1zm.4 .1zm.1-.1zm.2 .5zm.3-.2zm.6-.1zm1 .4zm.5 .1zm.4-1.2zm.8 1zm.8-1.2zm1.2 .5zm.6 .7zm.7-.4zm1.9 .3zm.3-.1zm.3-.8zm.4 1.1zm.2-.6zm.2-.3zm.3-.4zm0 .8zm2.5-.6zm3.2 1.1zm-1 1.2zm-2.5 .2zm-3.1 0zm-.4-.4zm-.6-.8zm-1.2 1zm0-.4zm-.5 .3zm-.2 .4zm-2.2-.8zm-.4 .9zm-.4-.9zm-.3-.2zm-2.5 .3zm-1.5-.4zm-.4 1.2zm-.5 0zm-1.1-.8zm-.1-.1zm-.5-.3zm-.5 .5zm-.7 .4zm-1-.1zm-1-.9zm-.1 1.2zm-.6-.6zm-1 .2zm-.5-.3zm-.8-.5zm0 1zm-.7-.2zm-1.6-.8zm-.8-.1zm-.1 1.4zm-.9 0zm-.3-.7zm-.8 0zm-.4 .2zm-.4-.2zm-.8 .6zm-1.2 .1zm-.8-1.4zm-.2 1.1zm-.5-.5zm-.8 .8zm-1.7-1.3zm-.1 1.3zm-.3-1zm-.3 1zm-.2 0zm-.8 0zm-.5-.6zm-.4-.3zm-.5 .4zm-.3-.6zm-1.1 .2zm-.9-.4zm-.2 1.2zm-.9-.4zm0 .1zm-1.1-.4zm-2.9-.4zm1.5 2.4zm2.9-1.1zm1.1 .5zm.5 .2zm.2 .3zm0 .2zm.1-.4zm.6-.1zm.1-.5zm1.5 1zm.2-1zm.1 .7zm.4-.7zm.4-.1zm.9-.1zm.1 1.2zm.3-.1zm2.2-.6zm.2-.3zm.1 .1zm.3 .1zm0-.4zm.8 1zm.1 .4zm0-.7zm.5-.6zm.1 0zm.6 .4zm1-.4zm.5 1.3zm.3-.5zm.5 0zm.4-.1zm.2-.2zm.3-.2zm0 .6zm.5 .2zm2.5-.5zm.8 .5zm.8-.7zm.5 .6zm.4-1zm.8 .2zm.2 .4zm.9 0zm1.2 0zm.4-.5zm1.6 .3zm2-.3zm3 .3zm.1-.1zm1.1 .3zm.6 .2zm.6-.2zm.6-.4zm.5 .1zm.3 .6zm3 .4zm.2-.2zm2.8-.5zm.4 .4zm3.8-1.1zm.8 1.1zm11.2 .4zm-13.1 1.1zm-7.6-.5zm-.7-.6zm-1.1 .2zm-1.1 .8zm-1.7 .4zm-1.6-1zm0 .3zm-1.6-.7zm-.8 .8zm-.5-.5zm-2.1-.2zm-.1 .2zm-1.6-.2zm-2.3 .8zm-1.9 .2zm-1.8-1zm-1.7 .7zm-.3-.1zm-.6 .1zm-1.2 .3zm-.8 .3zm-.1-1.2zm-.2 .3zm-.8 .1zm-.5 .3zm-3.7 .4zm-.9-.3zm-1.9 .2zm-.2-.7zm-.4-.4zm-.6 .6zm-.6-.2zm-.3 .4zm-.2-.8zm-.3 1.3zm-.3-.9zm-1.1-.2zm-.7-.1zm-3.3-.1zm-.4 .6zm-.1 .5zm4.5 .8zm.8 .4zm.5-.4zm.7 .5zm2.8-.7zm.1 1.1zm.2-1zm.5 0zm.8 .4zm1.7-.8zm1.4 .4zm.1 .5zm.5-.2zm.7-.4zm.2 0zm0-.1zm1.1 .1zm1.9 .6zm1-.3zm.7 .7zm1-.9zm2.3 .5zm.1 .1zm3.2-.5zm3.4-.5zm2.8 1.1zm3.6-.7zm17 .1zm-3.8 2.2zm-8.8-.6zm-1.6-.6zm-1.3 1.2zm-5.2-.4zm-6.1-.6zm-3 .4zm-.8 .2zm-1.2-.2zm-1.6 .4zm-1.4-.3zm-3.8 .4zm-1.4-1zm-4.2 .2zm-1.8 .6zm-.1-.5zm-.4 .2zm-1.5 .6zm-3-.1zm-2.5-.1zm1.2 1zm7.2 .2zm4.2 .6zm1.1-1.3zm.6 .5zm10.7 .4zm2.6-.7zm1.4-.2zm16.2 .3zm4 .9zm-20.3 1.5zm-2.5-1.2zm-1.9 1.1zm-1.2-1.1zm-1 .5zm-12 .9zm-2.1-.4zm-8.5 1.6zm17.7 0zm5.2-.8zm7.3 .8zm13.8 .1zm5.3 1.5zm-2.6-.9zm-1 1zm-10.8-.3zm-7.3-.1zm-7.6 0zm-7 .2zm-1.1 .2zm-4.3 1.1zm3.9 .3zm18.8-.3zm4.7-.7zm3.9 .8zm-4.4 1.1zm-3.2 .2zm-.2-.5zm-2.9 .7zm-2.7-.4zm-3-.2zm-4.1-.4zm-18.3 .1zm2.6 2.1zm4-.5zm8.9 1.2zm10.5-.3zm2.7-1.1zm13 .9zm.2-.5zm1.2 .2zm7.7 2.1zm-2.8-.2zm-7.4-.1zm-1.9 .4zm-1.3-.9zm-3.8 .9zm-.4-.6zm-1.1 .7zm-2-1.3zm-1.1 1.1zm-2.2-1.2zm-1.5 .3zm-2.6 .1zm-2.2-.4zm-2.1 .6zm-18.1 .1zm-.4 1.5zm4.3-.5zm1.1-.2zm1 .7zm.7-.5zm2 .9zm.4-.3zm1.2-.2zm1.4 .1zm.4-.6zm.1-.1zm1.8 1.1zm.4 .1zm.2-.2zm.1 .3zm.8-.1zm.4 .2zm.6-1.2zm.4 .6zm.5-.7zm.3 .8zm1.2 .5zm3-.6zm3.7 .1zm3.9-.2zm1 .1zm.1-.8zm.6 1zm3.1 0zm1-.9zm2.7 .5zm2.2-.2zm2.6 .9zm4.7-.7zm-1.5 1.6zm-3.3 .7zm-.3-1.2zm-.4 .9zm-1.4-.2zm-2.2-.6zm-2.3 .2zm-.4 .6zm-2.7-.9zm-.7 .9zm-1.6-.2zm-1.6 .3zm-.2-.1zm-1.8 .3zm-.2-.6zm-.9 .2zm-.7-.1zm-.7 .5zm-.1-1zm-.2 .5zm-.8 .1zm-1.3-.2zm-.2 .5zm-.1-1.1zm-.1 .4zm-1.1-.2zm-.1 .8zm-1.1 .2zm-1.1-.7zm-.4-.6zm-1.7 .7zm-.3 0zm0-.5zm-.2 .9zm-.3-.3zm0-.1zm-.7 .1zm0 .3zm-.5 0zm-.2-1.2zm-.2 0zm-.4 .7zm0-.1zm-.2-.1zm-.4-.4zm-.3 1zm-.5-.1zm-.4-.3zm-.1 .4zm-.2 0zm-.7-.7zm-.7 .1zm-.5 .9zm-.2-.9zm-.4-.4zm-2.1-.1zm-.6 .5zm-.5-.3zm-3 .8zm-.9 .4zm-1.6-.5zm-.2-.6zm-.3 2.1zm4.4 .5zm.7-.3zm1.1-.9zm.1-.2zm.8 .1zm.5 .6zm.5 .2zm.8-.2zm.1 .6zm.5-.8zm.1 .8zm.4-.2zm0-.5zm.6 .5zm.1-.8zm0 .5zm.1 .1zm.7-.6zm.2 .3zm.4 .7zm.3-.9zm.4 .4zm0 .5zm.3-.2zm.1 .1zm.1-.6zm.1 .8zm0 0zm.2-.6zm.5-.7zm0 .9zm0-.4zm.1 .5zm.1-.9zm.1 .7zm.4-.4zm.1-.2zm.1-.3zm.3 .6zm.7-.3zm.1 .7zm.5-.3zm.3-.7zm0 .2zm.7 1.2zm.3-.4zm0-.3zm.4 .5zm0-.1zm.6-.7zm.8 .4zm0 0zm.2-.4zm.6 .9zm.2-1zm.2 .4zm.8 .5zm.3-.8zm0-.2zm.4 .8zm.4-.5zm0-.2zm.2 .3zm.2-.6zm.2 1.4zm1.1-.5zm1.7-.1zm.1 0zm4.7 .1zm.7 0zm1.1 .3zm.2-.1zm.5-1zm.3 .1zm.4 1zm.2 .2zm.2 0zm.7-.4zm.9-.4zm.3-.5zm0 1.1zm.6-1.2zm.2 .4zm2.2 .9zm2.3-.8zm5.4 .5zm5.3 .1zm-7.5 1.7zm-2.1-1.3zm-3.4 .1zm-.1 .4zm-.1 .6zm-.7-.3zm-.2-.6zm-.7 .1zm-.2 .6zm-1.1-.8zm-.1 .4zm-.9-.4zm-.1 1.3zm-.6-.9zm-.6 .9zm-.7-1.2zm-1.1 0zm-.3-.1zm-.7 .4zm-.3 0zm-1.2 .3zm-1.6-.5zm-.5 .3zm-1.8-.5zm-.7 .6zm-.9 0zm-1.4 .5zm-.1-1.2zm-.4 .9zm-.3-.6zm-.9 .2zm0 .3zm-.2-.3zm-.1 .8zm-.5-.7zm-.4-.3zm-.2 .8zm-.3-.9zm-.1 1.2zm-.1-.7zm-.4-.4zm-.5 .2zm-.4 .4zm0 0zm-.3-.2zm-.2-.3zm-.1 .3zm-.2-.4zm-.5 .3zm-.2 .5zm-.7-.3zm-.8 .4zm-.2 .1zm-.7-1.3zm-.1 .9zm0-.4zm-.2 .5zm-.2-.4zm-.2 .4zm-.4 .1zm-.3-.2zm-.4-.9zm0 .5zm-1 .7zm-.4-.5zm0-.5zm-.1 .1zm0 .4zm-.7 .5zm-1.1-.8zm-.2-.3zm-1.7 .7zm0-.8zm-1 1.3zm-.2-.4zm-.9 0zm-1.4-.6zm-.2 .5zm-1.1-.4zm-.3 .5zm-.2-.4zm-1.6 .2zm2.3 1.6zm.2-.7zm0 .7zm.2-.7zm2.8 .6zm.7-.6zm.2 0zm.1 .3zm.2-.1zm0 1zm.1-.5zm.3-.7zm.9 .6zm.3-.5zm.2 1.1zm.4-1.2zm.2 .8zm.1-.9zm0 .9zm.1-.5zm.5 0zm1.2-.3zm.3 .9zm0-.5zm.1 .6zm0-.9zm0 0zm.4 1zm1.3-.5zm.1 .3zm.5-.9zm.1 .4zm.6-.2zm.2 .2zm.9-.5zm.1 1zm.3-.1zm.3-.7zm.2 .5zm.4 .2zm.7-.6zm.3 .4zm.3 .7zm0-1zm.5 0zm.9 1zm.3-1.3zm.3-.1zm0 .5zm.3 .8zm.5-.3zm.4-1zm0 1zm.6-.1zm.1-.3zm.2 .4zm0-1zm.4 1zm0 .3zm2-.1zm.3 0zm1.6-1.1zm1.3 1zm3-.7zm1 .4zm.7-.5zm1.1 .1zm1.6-.2zm.4-.2zm0 .9zm.1-.9zm.8 1.4zm.5-1.1zm1.3-.2zm.5 .7zm.1 .2zm3.8-.3zm.9-.6zm1.9 0zm-4.6 1.8zm-.8 .3zm-2.7 .3zm-.3-.3zm-.8-.3zm-.3 .5zm-1.6-.2zm-.5-.3zm-.1 .5zm-.5 .1zm-.6 .4zm-1.3-.5zm-.5-.4zm-1.8 .7zm-4.3-.7zm-1.1 .8zm-.1 .1zm-.3-1.4zm-.6 .6zm-.9-.3zm-1.9 .8zm0-.2zm-2-.8zm-.3 1.3zm-.1-1.4zm-.2 .7zm-.5 .2zm-.1-.5zm-1.2-.3zm-.7-.1zm-.1 .5zm-.6 .7zm-.2-1.1zm-.4 1zm-.1-1.1zm0 0zm-.3 .3zm0 .3zm-.1-.1zm-.4-.2zm-.4-.2zm-1.8 .4zm-.2-.5zm-2 .6zm-.1-.4zm-.9 .1zm0-.3zm-.8 0zm-3.2 .7zm-.6 .4zm-1.8-1.1zm-1.2 1.5zm.2 0zm4.9 1.2zm.2-1.1zm.8 .4zm.9 .2zm1.9-.5zm.2 .1zm2 .1zm1 .1zm1.3-.3zm.2 .5zm.8-.6zm1.5 .5zm.5 .1zm.1 .6zm.6-1.3zm2.4 1.2zm1.2-.3zm.2 .1zm3.7-.9zm.4 1.3zm2.7 0zm6.1-.5zm1 .1zm.3-.5zm.9 .9zm1.4-.8zm1.5-.3zm.4-.2zm.3 1.3zm-1.2 1.3zm-8.8-1zm-9.4 .7zm-1.1 1.3zm14.7 .4z" stroke="#000" stroke-opacity="0.6" stroke-width="0.8" stroke-linecap="square" fill="none" filter="url(#bl)"/>
<line x1="257.50" y1="149.40" x2="257.50" y2="213.60" stroke="#777" stroke-width="0.8"/>
<line x1="231.60" y1="192.50" x2="296.80" y2="192.50" stroke="#777" stroke-width="0.8"/>
<rect x="231.50" y="149.50" width="65.00" height="64.00" fill="none" stroke="#333" stroke-width="0.9"/>
<line x1="232.50" y1="149.40" x2="232.50" y2="213.60" stroke="#999" stroke-width="1.4"/>
<text x="233.20" y="153.80" font-size="4.0" font-weight="bold" fill="#333">51.6%</text>
<text x="233.20" y="212.00" font-size="4.0" font-weight="bold" fill="#333">23.9%</text>
<text x="295.60" y="212.00" font-size="4.0" font-weight="bold" fill="#333" text-anchor="end">6.11%</text>
<text x="295.90" y="157.20" font-size="7.37" font-weight="bold" fill="#000" text-anchor="end" textLength="13.00" lengthAdjust="spacingAndGlyphs" stroke="#000" stroke-width="0.3">18.4</text>
<text x="239.42" y="219.20" font-size="3.0" font-weight="bold" fill="#666" text-anchor="middle">0</text>
<text x="249.20" y="219.20" font-size="3.0" font-weight="bold" fill="#666" text-anchor="middle">10²</text>
<text x="264.20" y="219.20" font-size="3.0" font-weight="bold" fill="#666" text-anchor="middle">10³</text>
<text x="279.85" y="219.20" font-size="3.0" font-weight="bold" fill="#666" text-anchor="middle">10⁴</text>
<text x="293.54" y="219.20" font-size="3.0" font-weight="bold" fill="#666" text-anchor="middle">10⁵</text>
<line x1="239.42" y1="214.10" x2="239.42" y2="215.40" stroke="#666" stroke-width="0.35"/>
<line x1="244.64" y1="214.10" x2="244.64" y2="215.40" stroke="#666" stroke-width="0.35"/>
<line x1="249.20" y1="214.10" x2="249.20" y2="215.40" stroke="#666" stroke-width="0.35"/>
<line x1="258.98" y1="214.10" x2="258.98" y2="215.40" stroke="#666" stroke-width="0.35"/>
<line x1="262.24" y1="214.10" x2="262.24" y2="215.40" stroke="#666" stroke-width="0.35"/>
<line x1="264.20" y1="214.10" x2="264.20" y2="215.40" stroke="#666" stroke-width="0.35"/>
<line x1="274.63" y1="214.10" x2="274.63" y2="215.40" stroke="#666" stroke-width="0.35"/>
<line x1="277.89" y1="214.10" x2="277.89" y2="215.40" stroke="#666" stroke-width="0.35"/>
<line x1="279.85" y1="214.10" x2="279.85" y2="215.40" stroke="#666" stroke-width="0.35"/>
<line x1="289.63" y1="214.10" x2="289.63" y2="215.40" stroke="#666" stroke-width="0.35"/>
<line x1="292.24" y1="214.10" x2="292.24" y2="215.40" stroke="#666" stroke-width="0.35"/>
<line x1="293.54" y1="214.10" x2="293.54" y2="215.40" stroke="#666" stroke-width="0.35"/>
<text x="30.20" y="230.82" font-size="3.0" font-weight="bold" fill="#666" text-anchor="end">10⁵</text>
<text x="30.20" y="244.94" font-size="3.0" font-weight="bold" fill="#666" text-anchor="end">10⁴</text>
<text x="30.20" y="260.35" font-size="3.0" font-weight="bold" fill="#666" text-anchor="end">10³</text>
<text x="30.20" y="275.76" font-size="3.0" font-weight="bold" fill="#666" text-anchor="end">10²</text>
<text x="30.20" y="283.46" font-size="3.0" font-weight="bold" fill="#666" text-anchor="end">0</text>
<ellipse cx="44.8" cy="274.2" rx="16.6" ry="7.8" fill="url(#bg)" opacity="0.95" clip-path="url(#c4)"/>
<ellipse cx="66.1" cy="273.6" rx="13.0" ry="7.8" fill="url(#bg)" opacity="0.13" clip-path="url(#c4)"/>
<path d="M81.8 239.4zm-37.8 .6zm28.3 3zm-9.4 11zm-4.3 5.1zm11.5 .6zm-7.3 1zm-.1 1.2zm3.2-.8zm1.5 2.4zm-9.1-.6zm-.2 .8zm-.9 0zm-23.6 1.7zm11.9-1zm10.5 1zm2.1-.9zm2.2 .2zm1.4 .1zm.2 .2zm.5 0zm3.8 0zm.2-.6zm.4 .8zm.2-.2zm2.6 1zm-.8-.1zm-5 1zm-.2 0zm-.3-1.1zm-.4 .9zm-.2-.6zm-.9-.5zm-.3 .8zm-.8-.1zm-3.5-.7zm-.2 .3zm-6-.1zm-1.7 .1zm-1.7 .6zm-3.5-.6zm-2.3 .9zm-.1-.9zm-1.4 .6zm-4.6 1.5zm.3-.1zm.5 .4zm1-1.1zm3.7 .1zm.5-.2zm.3 .6zm.1 .2zm.3-.8zm.7 .6zm.6 .6zm1.8-.4zm2.3 .2zm1.7-.9zm.5 .7zm2.8 .4zm1-.1zm1.6-.1zm1.9-.7zm1.3 .8zm3.2-.9zm.7-.2zm.1 .6zm.5 .7zm.6-.4zm.6 .1zm.1 .1zm.5-.6zm.1 .7zm1.5-.6zm.5 .1zm1.1 .3zm1-.6zm6.9 .5zm-4.1 1.6zm-.9 .3zm-1.1-1.1zm-.5-.1zm-.3 .4zm-1.5 .1zm-.3 .2zm-.6-.4zm-.1-.3zm-.2 .3zm-1-.4zm-.7 1.2zm-.9-.6zm-.3-.4zm-.2 1zm-.4 0zm-.2-.8zm-.4-.4zm-.3 .3zm-.1 .9zm-.3-.9zm-.1 1zm-.3-.6zm-1.3-.4zm-.2 .7zm-.3 .3zm-.4-.5zm-.2 .5zm-.3-1.2zm0 .2zm-.6-.1zm-.1-.3zm-.7 .8zm-1.1 .4zm-.6 .1zm-.6 0zm0-.9zm-.5 .5zm-2.3 .1zm-1.9 .3zm-.5-.7zm-.6 .5zm0-.2zm0 0zm-.7 .4zm-.3-.8zm0 .2zm-.3 .6zm0-.2zm-.7-.5zm0-.5zm-1.1 1zm-.1-.3zm-.4 .3zm-.1 .3zm-.5-1.1zm-.1 .6zm-.1 .5zm-.4-.4zm-.1 .1zm-.4-1.1zm-.5 0zm-1.4 1.3zm-.2-.1zm-.1-.6zm-.4 .4zm-.2-.7zm-.6 .1zm-.8 .5zm-.8-.5zm-1.6 .4zm-1.1 .1zm-1.2-.2zm-1 .3zm-.3 .6zm.2 .3zm.9 .4zm.6 .5zm.3 .1zm0-1.3zm1.4 1.2zm.1-.6zm.7-.2zm.4 .4zm.4 .5zm.1-.6zm.3 .4zm.3-.7zm.1 .3zm.2 .1zm.2 0zm0-.4zm0-.1zm.3 0zm.1 .6zm.1 .2zm.3-.6zm.4 .3zm0 .2zm0-1zm.4 1.3zm.1-.8zm.1 .6zm.1 .1zm.1-1.1zm.1 .9zm0-1zm.2 .6zm.3 .5zm0-.6zm.3-.2zm.3 .8zm.1-.7zm.1 .9zm0-.5zm.2 .4zm0-.2zm0-.7zm.2 .8zm.2-.6zm0-.1zm.4 .8zm.1 .1zm.1-1.1zm.4 1zm.1-.4zm0-.2zm1.3 .3zm.1-.6zm.3 1zm0-.2zm.2 0zm.5-.9zm.1 .4zm.1-.3zm1 1zm0-.6zm.2-.3zm.2 .9zm.1-1.3zm.2 .2zm.4-.3zm.4 1.1zm.2 0zm.1-.3zm.1 .6zm.1-.1zm1-.1zm.2-.3zm0 .1zm.5-.3zm.3-.6zm.4 .4zm.3-.3zm.1 .7zm.8 .3zm0-.6zm.1 .8zm1.5-1zm.4-.4zm1 1.3zm.7-.9zm.1 1zm1.5-.7zm1 .6zm.1-1.3zm0 .6zm1.9-.4zm0 1.2zm.6-.1zm.5-1.1zm.8 .4zm.2 .4zm0-.2zm.5-.3zm.1-.4zm1.1 1.3zm.7-.1zm.2-1zm.4 .6zm.1-.3zm.3 .8zm0-1.2zm0 .1zm.5 .1zm.6-.3zm.4 .2zm.3 .1zm.4-.1zm.1 .8zm.3-.2zm0 .4zm.6-.9zm.8-.4zm1.6 1.2zm0-1.2zm.6 .2zm1.9 .7zm.2 1.4zm-.6-.8zm-1 .1zm-.9 .1zm-.9 1.1zm-.5-.4zm-.6 .2zm-.2 0zm-.4-.4zm-.1-.5zm-.2 .5zm-.4-.3zm-.1 .8zm0-.4zm-.1 .4zm-.3-1.2zm-.3 1.4zm-.4-1.1zm-.8 .2zm-.8 0zm-1 .9zm-.1 0zm0-.9zm-.2 .9zm-.2-.3zm-.5-.7zm-.5-.2zm-.2 0zm-.2-.2zm-.3 .1zm-1.3 .7zm-.1-.4zm-1.1 .3zm-.2-.6zm-.4 0zm-.3-.1zm-.1 1.3zm-.1 0zm-.2-1.3zm-1.2 0zm0 .7zm-.2 .2zm-.8 .4zm-.1-.8zm-.5 0zm-.1 .7zm-.5-.1zm-.6 .2zm-.3-.7zm-.3 0zm-.7 .1zm-.4-.3zm-.2 .7zm-.2-1.1zm-.3 1zm-.3-.4zm-.1-.2zm-.4-.4zm-.3 .6zm-.1 .4zm0-.2zm0 .4zm-.3-.6zm-.1 .5zm0 .3zm-.1-.7zm0 .4zm-.4-1.1zm-.4 0zm0 .9zm-.1-.8zm-.1 0zm-.1 .6zm-.2-.1zm-.1 .4zm0 0zm-.3-1zm-.1 1.3zm-.1-.8zm-.3-.1zm-.3-.2zm-.2 .8zm-.6-.1zm-.2-.8zm-.2 .7zm-.2-.4zm0 .3zm-.1 .6zm-.3 0zm0-.1zm-.2-.8zm0 .2zm-.1 .7zm-.1 0zm0-.6zm0 .6zm-.1-1.2zm-.1 1.2zm0-.3zm-.2-.8zm-.1-.2zm-.1 1.2zm-.5-.3zm0-.3zm0 .3zm-.1-.6zm-.3 .3zm-.1 .5zm0-.4zm0 .1zm-.1 .6zm-.1-.4zm-.3 .2zm0 .2zm-.2-1.4zm0 0zm0 .6zm-.2 .4zm-.1-.4zm-.1 .4zm0-.8zm-.1 .7zm-.3-.8zm0 .8zm-.1-.7zm0-.1zm-.3 1.3zm0-1.4zm-.1 0zm-.2 1.2zm0-.3zm-.1 .3zm-.1-.2zm-.3 .2zm-.1 .2zm0-.6zm-.1 .6zm-.2-.2zm0-.7zm-.1 .9zm-.1-.5zm-.1 .3zm0-.9zm0 0zm-.1-.3zm-.1 .7zm-.1 .2zm0 .2zm0-.4zm-.2-.2zm0 .7zm0-.7zm-.2 .8zm0-.1zm-.1-.1zm-.1-1.1zm-.1 .1zm-.1 1.3zm0-1.3zm0 1.3zm-.1-.5zm-.1-.5zm-.3 .7zm0 .2zm0-.3zm0-.5zm-.1-.4zm-.1-.1zm-.3 .2zm-.1 1.1zm-.1 .1zm0-1.2zm-.1 .6zm-.1-.6zm0 .1zm0 .2zm-.2 .9zm-.1 0zm-.1-1.2zm-.2 .8zm0 0zm-.6-.7zm-.1 1zm-.4-.2zm-.1-.8zm0 0zm-.2 .6zm-.5 .5zm-.4-.8zm-.1 0zm0 0zm-.2 .8zm-1-.3zm-.5-.1zm0-.8zm-.5 .8zm-1.5-.1zm-.1 .3zm-.1 .2zm-.1 .6zm.1 .9zm.1-1.4zm.1 .9zm.3-.3zm.3-.6zm.2 1.3zm.6-1zm.1 .6zm.6 0zm.1-.9zm.6 .8zm.1-.5zm.1 .3zm.5-.1zm.2 .7zm.1-.9zm0-.2zm.2 .6zm.1-.4zm.2 1.1zm.1-.6zm.1 0zm.3-.3zm0 .8zm.1 0zm0-1zm.1 .4zm.1-.3zm.6 .3zm.1 0zm.1-.3zm.1 .9zm.1-.1zm.1-.5zm.1-.7zm0 .5zm.1 .1zm0 .3zm.1-.9zm.3 .8zm0 0zm.2-.7zm.1 .1zm.1-.2zm0 1.2zm.2 0zm0-.6zm0 .3zm0-.9zm.2 0zm0 .2zm0-.2zm0 .7zm.1 .4zm.1-.3zm.1 .2zm.1-.1zm.1-.1zm.2-.5zm.1 .7zm.1 .2zm.1-.7zm0 .9zm0-1.1zm.3-.2zm0-.1zm.1 1.2zm.2 .1zm0 0zm0 .1zm.1-.1zm.1-.9zm0-.4zm0 .5zm.3-.1zm.1 1zm0-.7zm.1 .6zm0-.2zm.1-.6zm0-.1zm.1 .6zm0-.1zm.1 .4zm0-.1zm0-.8zm0 .5zm.1-.7zm.1 .7zm.1 .5zm.1-.7zm.1-.4zm0-.3zm.1 1.4zm.1-1.1zm0 0zm.1 0zm.1 .6zm0-.5zm0-.3zm.1 0zm.1 .3zm.1 .3zm0 .1zm.2 .1zm.3-.7zm.1 .6zm0 .2zm.1 .4zm0-.4zm.3 .1zm.1-.1zm0 0zm.1 .3zm.2-.1zm0-.8zm.3 .8zm0-.9zm.3 .8zm.1-.8zm.1 .9zm.2-.9zm.1 .3zm0-.6zm.1 1zm0-.9zm.3 .2zm.1 .5zm0 .3zm.1-.8zm0-.1zm0 1zm0-1.1zm.1-.1zm.3 1.3zm.1-.5zm.1 .2zm.1 0zm.2-.8zm0 1.2zm.1-.6zm0 0zm.1-.5zm.3 1zm0-.3zm.1-.4zm.2-.3zm.1 .1zm0-.1zm0-.1zm0 .2zm.1 .3zm0-.1zm.2-.2zm.1 .2zm.1-.4zm0 .4zm.5-.3zm.1 .4zm.2-.5zm.5-.1zm.1 1.3zm0-.5zm.1-.7zm.1 .2zm0 .3zm.1-.6zm.1 .9zm.4 .2zm.2 0zm.1 .2zm0-.1zm.1-1zm.2 .7zm.1 .4zm0-.9zm.1 .6zm.1-.8zm.3 .7zm.2-.6zm0 .7zm.1-.5zm.4 .7zm.1-.9zm.5 .7zm.3-.4zm.2-.1zm0 .7zm.5-.8zm.4 .2zm.1 .2zm.1-.5zm.3 .6zm.1-.8zm0 .8zm.6-.2zm.5 0zm.5 0zm.2-.8zm0 .1zm.3-.1zm.1 .3zm.1 .8zm.5-.4zm.1 .3zm0-.6zm.4 .5zm.7-.4zm.1-.4zm.1 1.1zm0-1zm.2 1.1zm.1-.1zm0-.5zm.4 0zm.5-.6zm0 1.1zm.1-1zm.3 .7zm.1 .3zm.8-.7zm.5 .7zm.3 .1zm.2-1.1zm.6 .5zm.5 .6zm.4-1.2zm.2 .6zm.2 .6zm.2-.1zm.1-.8zm.2-.4zm.2 .4zm0 0zm.1 .2zm.3-.4zm.1-.2zm.3 .2zm.3 .1zm.2 .3zm.2 .5zm.7-1zm.2 .5zm0 .6zm.4-.7zm.2-.2zm.1 .4zm.1-.1zm.4 0zm0-.4zm.1 .8zm.1-.4zm0 .3zm.1-.5zm2.9-.1zm1 .9zm1.9-.1zm.3-1zm-.3 1.4zm-1.2 .1zm-1.5 .3zm-.6 .9zm-.4 0zm-1.3-.9zm-.3-.3zm-.7 1.1zm-.3-.5zm-.2 .2zm-.3 .4zm-.2-.7zm-.3-.1zm-.1-.2zm-.2 0zm-.1-.1zm-.2-.1zm-.1 1zm0 .1zm-.1-1zm-.3 .8zm-.1-1zm-.2 .2zm-.1 .7zm-.5 .2zm-.6-.8zm-.1 .7zm-.2 .4zm-.1-.6zm-.4-.6zm-.3 .7zm-.6 .4zm-.1-.7zm0 .5zm0-1.1zm-.1 1.2zm-.1 .2zm-.3-.8zm-.1-.3zm-.1 0zm-.1 .9zm-.4 0zm-.6-1.2zm-.2 0zm-.6 .3zm-.1 .4zm-.2-.6zm-.2 .7zm-.8 .2zm0-.3zm-.1-.5zm-.9 1.2zm-.1-.4zm-.8-.3zm-.3-.1zm-.5-.2zm-.2 .6zm-.1-.8zm0-.2zm-.4 .9zm-.2-.2zm-.1-.4zm-.2-.3zm-.3 .9zm-.8-.7zm-.3-.1zm0 1.1zm-.3-.4zm-.4 .2zm-.7-.7zm-.1-.2zm0 .5zm-.1-.2zm-.1 .8zm-.4-.6zm-.1 .6zm-.2-.1zm-.1-1zm-.6 .4zm-.1 .9zm-.2-.1zm-.3-.8zm-.1-.5zm-.1 .8zm0 .4zm-.1 .2zm-.2-1.4zm0 .1zm0 1zm-.1-.4zm-.7 .5zm0-.6zm0 .7zm-.2-.5zm-.1-.3zm-.5 .8zm-.2-.6zm0-.1zm0 .7zm-.5-.4zm0-.8zm-.1 1.3zm-.1-1.3zm0 .4zm-.1 0zm-.1 .7zm0-1.1zm0 .2zm-.2-.2zm-.2 .7zm-.1 .1zm0-.6zm-.1 1zm-.1-.8zm0 .8zm0-1.2zm-.1 .1zm-.1 .1zm-.1-.2zm-.1 .9zm0-.1zm-.1-.3zm0 .8zm0-.8zm-.1 .4zm-.2 .3zm-.2 0zm0-.6zm0-.4zm0 .5zm-.1-.7zm0 .7zm0 .6zm-.1-.1zm0-1zm-.1 .1zm-.1 .7zm-.1-.3zm0 .1zm-.3 .5zm0-1.2zm-.1 0zm0 .7zm-.1 .3zm-.1 .1zm-.2-.6zm0-.2zm-.1 .1zm-.2 .2zm-.2 .4zm-.2-.3zm-.1-.8zm0 0zm-.1 .4zm-.1 .1zm0 .4zm-.1-.4zm0 .5zm0 .2zm-.2-.8zm-.2-.5zm-.1 1.1zm-.3-.6zm-.1-.4zm0 .6zm0-.1zm0 0zm0 .1zm0 .2zm-.1 0zm0-.2zm-.1-.7zm0 .8zm0-.8zm-.1 .8zm0-.2zm-.2-.1zm0 .4zm0-.6zm-.3 .4zm0 .3zm-.1-.1zm-.2-.1zm-.1 .1zm0-.5zm-.1 .1zm-.1 .8zm0 .1zm-.1 0zm-.4-.5zm0-.7zm-.1-.2zm-.1 1.2zm-.1-.3zm0 0zm-.1 .1zm-.5-.6zm0-.2zm0 0zm-.2 .4zm-.1 .8zm-.1-.8zm0 .8zm-.1-.8zm0 0zm-.1-.1zm-.1 .2zm0 .3zm-.1-.8zm-.1 0zm-.1-.1zm-.2 .6zm0-.2zm-.3-.3zm-.2 .7zm0 0zm-.2 .4zm-.1-1.2zm0 0zm-.1 0zm-.1 1.2zm-.1-1.3zm-.1 .8zm0-.8zm0 .3zm0 .1zm-.1 .9zm-.2-.5zm-.2 .2zm-.4-.8zm-.1 .2zm-.1 .8zm-.7 .2zm0-.9zm-.4 .2zm-.3-.2zm-.4-.1zm-.2 .1zm-.3 .8zm-.3-1.1zm-.1 .9zm-.7-1.1zm-.2 1.3zm-.6-1zm-.2 .4zm-.1-.5zm0 1.2zm0-.7zm-.2 0zm0 1.7zm.2-.8zm.1 .1zm1 .8zm1-.8zm.2 0zm.5 .2zm.2 .9zm.3-.3zm.4 0zm.1-1zm.2 0zm.1 .3zm.1 .3zm.2-.5zm0 .3zm.5-.1zm.1-.1zm.2 0zm.2 .5zm.1 .7zm.7-1.4zm.1 1zm.1 .1zm.4 0zm.1-.6zm.1-.4zm.1 .5zm.2-.2zm.5 .7zm.3 .2zm.1-1.3zm.4 .5zm0-.1zm.1-.4zm0 .5zm.3 0zm.1 .2zm0-.5zm.1 .9zm0-.9zm.1 .2zm0 .4zm0 0zm.1 .5zm.1-.2zm.1-1.1zm.1 1.4zm0-.7zm0-.1zm.1 .4zm.1-.5zm0-.3zm.7 0zm.2-.1zm.2 .2zm.5 0zm.1 .1zm.2 .3zm0 .4zm0-1.1zm.3 .6zm0-.3zm0 .2zm.1 .4zm0-.8zm.1 .9zm0-1zm.1 .8zm.2-.5zm.1 1zm0-1.3zm0 1.4zm.5-1.1zm.1 .4zm.1 .7zm0 0zm.4-.4zm.3 .1zm0-1.1zm0 .2zm.2 .3zm.1 .1zm0-.6zm.2 .4zm0 .5zm.1-.5zm.2 .7zm.3-1zm.4 .2zm0 0zm.1-.3zm.1 1.1zm0-.4zm.3 .3zm.1-.2zm.2-.8zm0 1.2zm0-.6zm.7-.1zm.1 .6zm.1-.1zm.3-.9zm0 .7zm.1 .4zm.1-.6zm0 .2zm.5-.8zm.2 1.4zm0-.2zm.1 .2zm.1-.1zm.1-.6zm0 .5zm.2-1.1zm0 1zm.4-.5zm.4-.4zm.1 0zm.5 .9zm.7-.8zm.4 1.1zm.1-.5zm.2-.3zm.1-.3zm0 1.1zm.4-.7zm.3-.2zm.3 .1zm.5 .3zm0-.2zm.1 .2zm2.2-.1zm.1-.2zm1.1 .2zm.2-.3zm.5 .7zm.1-.8zm2-.1zm.2 .5zm.1 .5zm.6-.3zm.2 .4zm0-.5zm.1-.7zm.1 .8zm.7-.5zm.4 0zm.1 .6zm.1-.5zm.4-.4zm.8 .1zm.3 1.1zm.5-1zm0 0zm.2-.3zm0 .6zm.1-.5zm.1 .5zm1-.6zm1 0zm.1 0zm.4 1.3zm.9-1.1zm2 .5zm.2 0zm1.3 .1zm-1.2 1.6zm0-.5zm-.9-.3zm-1.5 .8zm-.1-.8zm-1.1 .1zm-.7 .6zm-.3-.9zm-.4 .2zm-2.1 1zm-1.3-1.1zm-2.1 .2zm-1.7 .4zm-.7-.4zm-.4 .5zm-.2 .3zm-4-.9zm-.2 0zm-1.2 .3zm-.9 .7zm-.1 0zm-1.8-.1zm-.2 .3zm-.8-.3zm-.4-1zm-.5 .5zm0-.6zm-.1 1zm-.3-.7zm-.2 .3zm-.5-.4zm0 .6zm-.2-.8zm-.2 1.4zm-.1-.6zm0-.3zm-.8-.4zm0 .2zm0 .5zm-.1 .2zm-.1-.1zm0-.6zm0-.2zm-.2 .5zm-.1-.6zm0 .8zm-.2 .5zm-.2-1.2zm0 .1zm0 .4zm-.1-.5zm-.1 1zm-.4 .1zm-.2-1zm-.1-.2zm-.1 1.4zm-.2-1.1zm-.2 .8zm-.3-.8zm-.2 .4zm-.4-.1zm0-.4zm-.2-.1zm-.1 1.3zm-.1-.9zm-.1-.5zm-.4 .1zm-.3 .3zm-.1 .2zm-.3-.2zm-.5 .7zm0-.9zm0 .6zm-.3-.2zm-.7 .4zm-.3 .1zm0-.8zm-.3 .6zm0-.2zm-.1 .1zm-.5 .1zm-.3-.7zm-.9 .7zm-.5-.3zm-.3-.6zm-.2 1zm-.1-.3zm-.2 .3zm-.1-.7zm-.1 .9zm-.3-1.2zm-.1 .5zm-.6-.2zm0 .3zm-.3-.1zm-.4-.1zm-.3 .3zm-.6 0zm-.2 .4zm-1.3 .9zm1.1-.1zm1-.1zm.2 .9zm.7-.5zm2.8-.7zm.1 1zm0-.9zm1.6 .1zm.1 .7zm0-.2zm.2 .2zm.5-.9zm.2 1zm1.7-1zm.2 1.4zm.2-.6zm.1-.8zm.2 .6zm0-.6zm.4 .5zm.1 .6zm.6 0zm1.4-.9zm.1 .6zm.4-.5zm.2-.3zm.3 .9zm.4-.3zm.1 .1zm2.1 .2zm.2-.8zm.3 .2zm.2 .3zm1.5 .2zm.2 .2zm.7-.3zm.5-.4zm.2 .2zm1.3-.5zm.8 1.4zm.8-.6zm1.1-.4zm2.7 .2zm5.1-.5zm2.3 .4zm.9 .1zm.1-.3zm-7.1 1.4zm-13.3 1.1zm-1.4-.3zm-.1-.4zm-.3-.6zm-2 .9zm-1.5 .1zm-1.1-1zm-1.7 1.4zm-.4-1.4zm0 0zm-1 .1zm-4.8 2zm3.7 .8zm7.8-1.3zm1.5-.1zm3.4 .7zm1.8 .2zm.6-.9zm11.1 .5zm-22.7 1.5z" stroke="#000" stroke-opacity="0.6" stroke-width="0.8" stroke-linecap="square" fill="none" filter="url(#bl)"/>
<line x1="58.50" y1="223.20" x2="58.50" y2="287.40" stroke="#777" stroke-width="0.8"/>
<line x1="32.60" y1="266.50" x2="97.60" y2="266.50" stroke="#777" stroke-width="0.8"/>
<rect x="32.50" y="223.50" width="65.00" height="64.00" fill="none" stroke="#333" stroke-width="0.9"/>
<text x="34.20" y="227.60" font-size="4.0" font-weight="bold" fill="#333">0.684%</text>
<text x="96.40" y="227.60" font-size="4.0" font-weight="bold" fill="#333" text-anchor="end">1.25%</text>
<text x="34.20" y="285.80" font-size="4.0" font-weight="bold" fill="#333">88.8%</text>
<text x="93.40" y="285.60" font-size="7.37" font-weight="bold" fill="#000" text-anchor="end" textLength="9.20" lengthAdjust="spacingAndGlyphs" stroke="#000" stroke-width="0.3">9.3</text>
<text x="40.40" y="293.00" font-size="3.0" font-weight="bold" fill="#666" text-anchor="middle">0</text>
<text x="50.15" y="293.00" font-size="3.0" font-weight="bold" fill="#666" text-anchor="middle">10²</text>
<text x="65.10" y="293.00" font-size="3.0" font-weight="bold" fill="#666" text-anchor="middle">10³</text>
<text x="80.70" y="293.00" font-size="3.0" font-weight="bold" fill="#666" text-anchor="middle">10⁴</text>
<text x="94.35" y="293.00" font-size="3.0" font-weight="bold" fill="#666" text-anchor="middle">10⁵</text>
<line x1="40.40" y1="287.90" x2="40.40" y2="289.20" stroke="#666" stroke-width="0.35"/>
<line x1="45.60" y1="287.90" x2="45.60" y2="289.20" stroke="#666" stroke-width="0.35"/>
<line x1="50.15" y1="287.90" x2="50.15" y2="289.20" stroke="#666" stroke-width="0.35"/>
<line x1="59.90" y1="287.90" x2="59.90" y2="289.20" stroke="#666" stroke-width="0.35"/>
<line x1="63.15" y1="287.90" x2="63.15" y2="289.20" stroke="#666" stroke-width="0.35"/>
<line x1="65.10" y1="287.90" x2="65.10" y2="289.20" stroke="#666" stroke-width="0.35"/>
<line x1="75.50" y1="287.90" x2="75.50" y2="289.20" stroke="#666" stroke-width="0.35"/>
<line x1="78.75" y1="287.90" x2="78.75" y2="289.20" stroke="#666" stroke-width="0.35"/>
<line x1="80.70" y1="287.90" x2="80.70" y2="289.20" stroke="#666" stroke-width="0.35"/>
<line x1="90.45" y1="287.90" x2="90.45" y2="289.20" stroke="#666" stroke-width="0.35"/>
<line x1="93.05" y1="287.90" x2="93.05" y2="289.20" stroke="#666" stroke-width="0.35"/>
<line x1="94.35" y1="287.90" x2="94.35" y2="289.20" stroke="#666" stroke-width="0.35"/>
<ellipse cx="110.8" cy="274.2" rx="16.6" ry="7.8" fill="url(#bg)" opacity="0.95" clip-path="url(#c5)"/>
<ellipse cx="132.1" cy="273.6" rx="13.0" ry="7.8" fill="url(#bg)" opacity="0.16" clip-path="url(#c5)"/>
<path d="M132.2 249.4zm-7.5 8.8zm5.4 1.1zm-27.6 2.6zm21.9 .2zm19.5 1zm-33.6 2.1zm25.1-.4zm.8 .2zm-.6 .8zm-.7 .9zm-.9-.8zm-.2 0zm-1.2 .2zm-4.2-.4zm-2.5 .2zm-3.2 .3zm-3.8-.1zm-.4 0zm-5.8 .4zm-1.8-.3zm-2.9 .6zm-2.1 0zm-4.3-.3zm2.4 1.1zm2.2-.3zm2.6 .1zm.2-.2zm1.9 .6zm.2-.3zm.4 .7zm.7-.7zm1.7 0zm.5-.1zm.6-.1zm2 .6zm1.1-.4zm.5 .9zm.1-.7zm.1-.3zm1.2 .6zm0 .4zm3.5-.7zm.4 .4zm2.6-1.1zm1.6 1.4zm.9-.1zm1.3-.8zm.9 .6zm1.2-.2zm.2 .5zm1.9-.8zm.7 .7zm0 .1zm3.7-1.2zm4.3 1zm-1.3 1.6zm-2.4-1.1zm-1.3 1.1zm-.6-.6zm-1.7 .1zm0 .6zm-.1-.6zm-.4-.3zm-1.2 .2zm-.3-.3zm-.3 1zm-.8 0zm-.1-.3zm-.2-.2zm-1-.9zm-.5 .2zm-.4 1zm-1.4-.3zm-.8-.2zm-.3-.4zm-.2 .7zm-1.7-.6zm-.1 1zm-.2-.2zm0-.2zm-.6-.5zm-3 .6zm-.5-.1zm-1.1 .4zm-.3 0zm0-.6zm-1.6 .1zm-.5-.5zm-.2 .8zm-.1-.9zm-.5 .9zm-.4 .1zm-.1-1.1zm-.2 1zm-.4-.8zm0-.4zm-.3 1zm-.4 .3zm-.3-.8zm-.4 .4zm-.1-.3zm-.6-.6zm-.3 .9zm0-.3zm-.2 0zm-.1 .5zm-.2 .1zm-.1-.2zm0 .2zm-.8 0zm-.2-.5zm-.9-.7zm-.7 .7zm0 .5zm-.2-.8zm-.2 .1zm-.3 .4zm-.1 .1zm-.1-1zm-.2 .3zm-.3 .8zm-.2-.9zm-.2 0zm0 1zm-1.6-.7zm-.1-.2zm-.9 .7zm-.3 .4zm-1.4-.4zm-.2 0zm-1-.2zm-.4 .6zm-.5-.1zm-.8-1.3zm-2.2 1.1zm-.3 1.8zm.1-.1zm.6-1.2zm1.1 .5zm0 .7zm.7-.4zm.1 .5zm.4-.2zm0-.8zm.1-.3zm.3 0zm.4 .4zm.1-.2zm.1 .4zm.3 .3zm.1-.6zm.1 .3zm.9-.2zm.3 0zm1 0zm0-.1zm.1 1zm.1-1.2zm0 1.2zm.2-1.3zm.1 .8zm.1-.2zm.2-.4zm.9 0zm.1 1.1zm.1-.8zm.2-.5zm0 1zm.5-.1zm.3 .2zm.7-1zm.4 .5zm0-.1zm.2-.4zm.2 .8zm1.1-.5zm0-.5zm.1 .2zm.1 .8zm.2 .2zm.2-.5zm.2-.6zm.1 1.2zm0-1.2zm0 1zm.1 .3zm.1-.2zm0 .1zm.1-1zm.1 .5zm.2-.2zm.2 .5zm0 .1zm.1-.2zm.1-.8zm.3 .2zm.1 .5zm.1 0zm.3 .2zm.1-.7zm0 .3zm.2 .5zm.6-.3zm.4 .4zm.4-.1zm.3-.4zm.1 .2zm.4-1zm.1 1zm.5-.6zm0 .4zm.1 .3zm.5-.3zm.2-.7zm.5 0zm.4 1.3zm.1-.3zm0-1.1zm.3 .9zm.5 .3zm.1 .1zm.1 .1zm1.3-1zm.4 .3zm.2 .6zm.4-.3zm1.7-.6zm1.1 .8zm.1-1.2zm.1 1zm.5-.3zm.2-.2zm1.1-.1zm.2 .6zm.6-.3zm.2 .6zm.2-1.3zm.5 1.3zm.7-.6zm.2-.4zm.8-.2zm.4 1zm.2-.1zm.1 0zm1.1 .2zm.1-.1zm.1-.1zm.1-.9zm.2 1zm.1-.1zm.5 0zm.1-.8zm.3 1.2zm.2-.6zm.1 .6zm0-1zm.1 .5zm.5-.7zm0-.1zm.8 1.3zm.3-.2zm0-.5zm.1-.6zm.1 .4zm.7 .9zm.1 0zm0-1.2zm.2 1zm.2-1zm.5-.2zm1.4 0zm.9 1.2zm.1-.4zm.1 .4zm1 .1zm1.7 .6zm-1-.1zm-2.3 .2zm-.1 .3zm-.2-.7zm-.2 0zm-.9 .5zm-.3-.6zm-1.5 1.4zm-.5-.6zm-.1-.3zm-.1 .3zm-.1-.1zm-.5 .3zm-.6-.1zm-.1 .3zm-.3-1.2zm-.1 .3zm-.1 1zm0-.3zm0 .4zm-.1-.2zm0-.5zm-.2-.6zm0 1.3zm-.1-.6zm-.2-.5zm0-.2zm-.4 .8zm-.2-.1zm0-.7zm-.1 .9zm-.2-.4zm-.1-.1zm-.3 .6zm-.2 .3zm-.2-.2zm-.3-.2zm-.2-.9zm0 1.2zm-.1 .1zm-.5-1.3zm-.1 .5zm-.1-.4zm0 .9zm-.1-.9zm-.1 0zm-.5-.2zm-.1 .1zm-.4 .8zm0 .3zm-.1-.5zm-.5 0zm-.1 .3zm-.1-.8zm-.5 .3zm-.4 .9zm-.1-.2zm-.9 .2zm-.2-.6zm-.2-.8zm-.1 .7zm-.1 .4zm0-.9zm-.1 .6zm-.2-.1zm-.1 .4zm0 0zm-.2-1zm-.1-.1zm-.7 1.2zm-.3-.9zm-.3 1zm-.5-.3zm-.2-.7zm-.1 .2zm-.4-.3zm-2 .4zm0 .1zm-.4 .4zm0-.6zm-.2 .2zm-.1 .6zm-.8-.6zm0-.6zm-.1 1.1zm-.2 .2zm-.2-.8zm-.5 .8zm-.3 0zm-.3-1.1zm0 .7zm0-.1zm-.3 .3zm-.4-.4zm-.1 .6zm-.1-1.2zm-.1 1zm-.1 .1zm0-.1zm-.1 .1zm-.2-.9zm-.4 .3zm0 .7zm0-1.3zm-.3 .8zm-.3-.7zm-.2 1zm-.1-.3zm0-.8zm-.2 .6zm-.3-.4zm0 .8zm0-.6zm-.3 .8zm0-.4zm0 0zm0-.1zm-.1-.7zm-.2 .9zm-.1 .1zm-.2-.2zm-.2 .3zm0-.3zm-.1-.2zm0-.3zm-.1 .8zm0 .1zm-.1-.6zm-.3 .2zm-.3-.8zm-.1 .8zm0-.3zm-.1 .8zm-.1-.7zm-.3 .3zm-.1-1zm0 .9zm-.1 .4zm0-.1zm-.1-.9zm-.2-.2zm0-.1zm-.1 1.1zm-.1-.7zm-.1 .5zm0 .5zm-.2-1.4zm-.1 .1zm0 1zm0-.1zm0 0zm-.1-.2zm0 .1zm-.1-.6zm0 .2zm0 .8zm-.5-.5zm0 .4zm0 .2zm-.4-.6zm-.3 .1zm-.1 .4zm0-1.2zm-.1 .6zm-.1 .1zm0 .6zm-.2-.7zm-.3-.1zm0-.5zm-.1 1.3zm0-.6zm-.3 .4zm-.1 .2zm0-.3zm-.2-.8zm0 .4zm-.1-.1zm-.3 .7zm-.2-1zm-.1 .2zm-.2 .9zm0-.5zm-.1 .2zm-.1 .1zm-.1-1.1zm0 .2zm-.1 .7zm-.3-.4zm-.1-.6zm0 .1zm0 1.2zm-.1-.6zm0-.7zm-.1 0zm-.1 .4zm-.1 .8zm-.1-.3zm0-.9zm0 .4zm-.2 .8zm0-.7zm-.1 .5zm-.2 .1zm-.1 .1zm-.1 .2zm-.2-.3zm0-.9zm0 1zm-.7-.3zm-.1 .4zm0 0zm-.1 0zm-.8-.4zm-.1 .3zm-.1-1zm-.2 .8zm-.6 .3zm-.2 0zm-.2-1.1zm-.1-.1zm-.2 .5zm0 .6zm-.5-.9zm-.3 1zm0 .1zm0-.8zm-.2 .6zm-.1-1.2zm-.5 .6zm-.1 0zm-.1 .6zm-.1 .1zm-.2-.8zm0 .5zm.2 1.4zm.3 .1zm.1-.4zm.8 .7zm.5 0zm.2-.4zm.3-.4zm.2 .8zm.3-.8zm0-.4zm.3 1.1zm0-.2zm.1-.1zm0 .1zm.7 .2zm.2 0zm0-1zm.1 .4zm.1 0zm0 .7zm.1-1.3zm.1 .6zm.6-.6zm.1 .7zm0-.3zm0 .6zm.1-.1zm.2 .5zm0-.5zm0 .5zm.1-.5zm0-.7zm0 1zm.3-1zm.1 .6zm.2-.6zm0 .1zm.1 .3zm0-.4zm0 .3zm.1-.4zm0 .8zm.2-.3zm.4-.6zm.1 .4zm.1-.4zm0 1zm.1-.2zm.4 .6zm0 0zm.1-1zm0 .6zm.4-.5zm0 .5zm.1-.9zm0 .3zm0 0zm.1-.4zm.1 .9zm0 .5zm.1-.7zm0 .3zm.1 .2zm.1-.3zm.1-.8zm.1 0zm0 .2zm0 .5zm.3-.7zm.1 .7zm0 .2zm.2-1zm0 .6zm0-.5zm0 0zm0 .6zm.1 .2zm0 .3zm.1-.3zm0-.2zm.1 .1zm0-.3zm.2 .5zm0-.3zm.2 .2zm.1 .5zm0-.5zm.1-.4zm0 .2zm.1 .7zm.2-.2zm.3-.2zm0-.5zm.1 .5zm.1-.1zm0-.5zm.1 .7zm.1-1.1zm0 1.3zm.2-.7zm.4 0zm.2 .5zm0-.5zm.1 .5zm.1-.9zm0 .1zm.2 .8zm.2 .2zm0-.9zm0 .2zm.1-.3zm0 .5zm0-.3zm0 .6zm.1-1.1zm0 1.3zm.1-.2zm.1-.8zm.1 .5zm0 .1zm.1-.8zm0 .5zm.1 .1zm.2-.6zm.2 .5zm0 .5zm0-.7zm.3 1zm.3-.7zm0-.7zm.1 .3zm.2-.2zm0 .5zm.1-.2zm0 .2zm.1 .1zm0 .4zm.1-.1zm0-.3zm.1 0zm.2-.4zm0 .1zm.3 .5zm0 .4zm.3 .1zm0-.9zm0 .6zm.1-.1zm.1-.7zm.5-.1zm0 .5zm.1 .6zm.1-1zm0 .1zm0 .8zm0 0zm0-.9zm.1-.1zm.1 1.1zm0-.6zm.2 .6zm0 0zm0-1.1zm.2 1.2zm.2-1.1zm0 .6zm.5 .5zm0-.7zm.1 .5zm.2-.7zm.2 .7zm.4 0zm.2-.3zm0 .4zm.4 .1zm0-.6zm.9 0zm0-.7zm.6 0zm.1 .6zm.3 .7zm0 0zm.3-.4zm0 .3zm.2-.3zm.4-.5zm.3 0zm1.3-.4zm.5 0zm.4 .7zm.1 .2zm.2 .2zm.1-.4zm.1 0zm.2 .2zm1 0zm1 .2zm.1-.6zm.1 .8zm0-.9zm.4 .7zm.3 .2zm.3-.5zm0-.6zm.3 .9zm.3 .2zm.1-.3zm.7 .2zm.1 .1zm.2-.2zm.2 0zm.2 .2zm.2-.5zm.1-.5zm.1 0zm.1-.4zm.1 .4zm0 .8zm.1-.2zm.7 .2zm0-1zm0 .8zm.1 0zm0-.9zm.1 .8zm0-.7zm.3 .8zm.1-.9zm.7 .7zm.3-.3zm.1 .5zm0-.2zm.1 .3zm.2 .1zm.2-1zm.5 .7zm.4-.5zm.2-.1zm.2 0zm.1 1.1zm0-.6zm.3-.5zm.1-.2zm.3 0zm.5-.1zm.5 .3zm.1-.2zm.2 1.2zm0-1.3zm.9 1.3zm.4-.1zm.1-.6zm.9 .7zm1.7 .1zm1.6-.4zm.7 .1zm2.5-.9zm-2.7 2.6zm-2.3 0zm-1.2 0zm-.2-1.2zm-.1 0zm-1.1-.1zm-.5 .1zm-.2 .6zm-.1 0zm-.5 .1zm-.2 0zm-.7-.8zm-.7 .2zm-.2-.2zm-.2 .7zm-.1-.6zm-.4-.1zm0 .5zm-.1-.3zm-.1 .4zm-.3 .5zm-.1 .3zm-.1-1.3zm-.1 .7zm0-.2zm-.3-.5zm0 .7zm-.5 .3zm0-.1zm0-.1zm-.2 .2zm-.1 0zm0-.7zm-.6-.1zm-.2-.2zm-.2 1.1zm-.1-.8zm-.5 .1zm0 .8zm0-1zm-.2 .6zm-.1-.3zm-.1-.6zm-.2 1.2zm-.2 0zm-.1-.8zm0-.1zm-.5 .9zm-.1 .1zm-.1-.1zm0-.3zm-.1-.2zm-.4-.7zm-.2 .7zm-.4-.1zm-.4 0zm-.3-.3zm-.3 .4zm-.1 .6zm-.3-.4zm-.2-.9zm-.2 .5zm-.3 .5zm0-.9zm-2.2 .9zm-.3-.1zm-.1-.5zm-.3 1zm-.4-.1zm-.2-.9zm-.8 .6zm-.5-.8zm-.2 .3zm-.2 .6zm-.5-.7zm-.1-.4zm-.7 1.2zm0-.3zm-.1-.5zm0 .8zm-.2 .2zm-.3-.1zm-.8-.6zm-.2 0zm0-.7zm-.3 1zm0-.1zm-.1 0zm-.1-.3zm0-.5zm0 1.1zm-.1-.3zm-.2-.9zm0 1zm-.2 0zm0-.2zm-.1-.1zm-.1-.1zm-.1 .2zm-.2 .6zm0 0zm-.4-1.1zm-.2 .9zm0-1.1zm-.1 .3zm-.4 .3zm0-.5zm0 1.2zm-.1-.8zm-.2-.5zm-.2 1.2zm-.1-1.1zm-.1 .4zm-.1-.5zm-.3 .7zm-.2 .3zm0 .2zm-.2-1.2zm-.1 .2zm0 .8zm-.1 .3zm-.3-.3zm-.1-.6zm-.1-.4zm-.1 .4zm-.2 .9zm-.2 0zm-.3-1zm0 .3zm-.1-.2zm-.2-.5zm-.1 0zm-.1 .2zm0 0zm-.1 1.2zm-.1 0zm0-.8zm0-.2zm-.1 0zm-.1 .4zm-.2 .4zm-.2-1.2zm-.3 .8zm-.1-.5zm-.1 0zm-.1 0zm0 .7zm-.1-.4zm-.3 .3zm-.1 .1zm0 .3zm-.1-.8zm-.1-.5zm0 1.3zm0 0zm0-1.3zm-.1 .6zm0 .3zm-.1 .3zm-.1-.7zm0-.3zm0 .6zm-.2-.1zm-.1 .7zm-.1-.1zm-.1-.7zm0 .6zm0-.2zm-.1 .3zm-.1 .1zm-.1-1.2zm0 1.2zm-.2-.4zm-.1-.3zm-.2 .6zm-.1-.6zm-.2 .4zm-.1-.5zm0 .4zm-.2-.7zm-.1-.2zm0 .5zm0 .1zm-.1-.3zm0 .5zm0-.4zm-.1-.1zm0 .8zm0-.3zm-.1-.8zm-.1 .3zm-.2 .6zm0-.1zm-.1-.1zm0 0zm0-.3zm0 .3zm-.2 .2zm0-.1zm-.1-.5zm-.2 .1zm-.1 .2zm0 .5zm0-1.1zm0 .9zm-.1-.2zm-.1-.6zm-.1 .5zm0-.4zm0-.3zm0 .3zm-.1 .7zm0-.7zm-.1-.1zm-.2 .5zm-.5-.3zm-.3 .1zm-.1 .3zm0-.6zm-.4 .9zm-.4 .1zm0 .1zm-.3-.7zm-.3-.6zm-.1 .2zm-.1 .9zm0-1.1zm-.2 1zm-.1-.2zm-.1-.1zm0-.3zm-.1 .9zm-.1-.4zm-.2 .5zm0-.3zm-.1-.1zm-.2-.5zm-.7-.4zm-.6 0zm-1.1 .2zm0 .7zm-.1 0zm-.1-.4zm-.1-.1zm0-.5zm-.1 1.1zm-.1 .2zm-.1 .1zm0-1zm-.1 2.5zm.3-.8zm.2-.5zm.2 .3zm1.1 .8zm.1-1.1zm.1 .7zm0 .4zm.2-.5zm.5 .5zm.5 .2zm.8-.2zm.4-1.1zm0 0zm.1 1zm.1-.8zm.2-.3zm.4 1.4zm.5-.8zm.2-.1zm.4 .4zm0-.1zm.2 0zm.1-.4zm.2 .1zm.1 0zm.1-.4zm.1 0zm0 0zm0 1.2zm0-.7zm.1 .6zm.2-.7zm.2 .7zm.1-1.1zm0 .2zm0 1zm.1 0zm.1 .1zm.3-1zm.2-.4zm0 0zm.1 .3zm0 .2zm0 .9zm0-.7zm.1-.3zm.2-.2zm0 .3zm.1-.3zm0 0zm0 1.1zm.2-.3zm.1-.4zm0 .8zm0-.2zm.3 0zm0-.2zm.1 .3zm0-.6zm.2 .1zm.2 0zm.1 .5zm0-1.1zm.1 .3zm0 .7zm0-.9zm.3 .7zm0-.2zm0 .4zm.2-1.1zm.1 .8zm.1 .3zm.6-1zm.2-.1zm.4 0zm.4 .2zm.1 .1zm.4-.2zm0 0zm.1 .5zm0 .6zm.1 0zm.1-1.2zm0 1.1zm.2-.5zm0 .2zm.1-.7zm.2 0zm.1 .9zm.1-.6zm.1-.1zm.1 .1zm.2-.3zm.2 1.2zm.1-.9zm.1 .7zm.1 0zm0-.6zm0 .5zm.3-1zm.2 0zm.2 .4zm.1 .5zm.2 0zm.1 .2zm0-1zm1.2 0zm.1 .7zm.2-.4zm.1 .3zm.1 .2zm0-.9zm.3 .9zm.1-.7zm.1 1zm.4 0zm0-.3zm.1 .4zm0-.3zm.4-.6zm.3-.2zm.1 .4zm.4 .3zm1.1 0zm.1-.7zm.3 .1zm.3 .2zm.1 .2zm.1-.6zm.2 .5zm.6 .1zm.1-.7zm0 1zm.6-.4zm.3-.3zm0 .2zm.1 .1zm0-.5zm.3-.2zm1.4 1.1zm0-.5zm.6-.2zm.4 1zm.6-.9zm.1 .1zm.3 .2zm.3-.8zm.9 .3zm.2-.2zm.2 .4zm.2-.4zm.4 .2zm.1-.3zm0 .3zm.7 .4zm.3-.2zm.2 .4zm.8-.2zm.2-.2zm.1-.1zm0 0zm0 .7zm.1 .1zm.1-.3zm.9-.3zm.1-.6zm.1 .4zm0 .5zm.1-.9zm.4 .8zm.4 .2zm.3 0zm.4-.8zm.1-.2zm.1 0zm.1 .3zm.8 .7zm0-.9zm.3 .5zm.2 .6zm.3-.9zm1-.2zm1.1 .5zm.4-.5zm1.1 .3zm5.3 1zm-1.4 .3zm-6.4 1.2zm-.2 0zm-.8-1.2zm-.6 0zm-.4 .2zm-1 1zm-.3-1.3zm-.3 .7zm-.1 .4zm0-.9zm-.3-.1zm-.7 .2zm-.1-.2zm-.4 .3zm-.1 .6zm-.5-.4zm-.2-.1zm-.5-.1zm-.3 .2zm-.1 .1zm-.3-.5zm-.1 .4zm-.4 .6zm-.1-.2zm-.4-.8zm-.1-.3zm-1.3 .2zm-.5-.1zm-2 .6zm-.3 .7zm-1.6-1.3zm-.2 1.1zm-.1-1zm-1.2 .4zm-.9 .3zm-.8-.3zm-.8 .1zm-.9-.2zm-.2 .1zm-.2 .4zm-.3-.2zm-.2-.8zm-.4 0zm-.5 1.3zm-.5-.3zm-.7-.5zm-.8 .5zm-.3 0zm-.1 0zm-.2-.3zm-.1 .1zm-.3-.4zm-.4-.4zm0 1zm-.3-.2zm-.1 .3zm-.1-1.1zm-.2 1.3zm-.3-1.2zm0 .2zm-.1 .8zm0-.4zm-.1-.2zm0 .5zm-.3-.9zm-.1 .6zm-.1 .3zm-.5-.6zm-.4 .9zm-.1-.9zm-.1 .7zm-.1-.7zm-.1-.4zm0 .1zm-.2 1.3zm-.1-1.2zm-.4 .8zm-.1-.8zm-.2 .2zm-.1-.3zm-.2 .2zm-.3 .2zm-.1 .6zm-.1-.5zm0 .6zm-.3-.3zm-.4 .3zm-.2-.9zm-.1 1.1zm-.1-1.3zm-.4 .5zm-.2 0zm0-.6zm0 .9zm0-.1zm-.4 .6zm-.3-1.1zm-.2 .8zm-.1-.2zm-.2-.2zm-.2-.3zm-.3 .8zm0-1.2zm-.6 1.2zm-.1-.6zm-.2 .6zm-.3-.5zm-.7-.4zm-.3 .5zm0-.1zm-.2-.7zm-.9 1.2zm-.1-1zm-1.1 1.2zm-.3 0zm-.3-.9zm-.1 .6zm-.2-1.1zm-.1 .3zm.8 2.1zm.6-.1zm1-.8zm2 0zm.3 0zm.3 1.4zm2.3-.7zm.1-.3zm1.8 .1zm.3-.4zm.4 .2zm.1 .8zm.4-.2zm.4 0zm0-.9zm.5 .9zm.4-.7zm.1 .2zm.5-.3zm.1 .4zm.2-.4zm.5 1.3zm0-1.2zm.3 .2zm.8-.3zm.1 .7zm1 .2zm.1-1zm0 .2zm.1 .4zm1.1 .1zm.4 .2zm.2 .3zm2-1zm5.3 1.1zm.1 .1zm.6-.2zm1-1.2zm.1 .4zm2.6 .2zm1.8 .2zm1 .3zm.3-1zm0-.1zm.4 .2zm3.5-.2zm.2 1.2zm.2-1zm0-.2zm.5 .3zm.3-.3zm3.8 2.6zm-4.1-.8zm-1.9-.3zm-1.4 0zm-.1 .3zm-.1 .3zm-1.7-.6zm-7.7 1.4zm-3-1.1zm-.3 0zm-.1-.2zm-6.1 .6zm-.4-.4zm-1 .2zm-1.3-.2zm-1.3 .3zm-.7 .2zm-.4-.5zm-.6 .5zm-1 .2zm0-.2zm-3-.4zm-1-.1zm-1 1.6zm10.3 .4zm2.8-.7zm12.9 1.1z" stroke="#000" stroke-opacity="0.6" stroke-width="0.8" stroke-linecap="square" fill="none" filter="url(#bl)"/>
<line x1="124.50" y1="223.20" x2="124.50" y2="287.40" stroke="#777" stroke-width="0.8"/>
<line x1="98.60" y1="266.50" x2="163.40" y2="266.50" stroke="#777" stroke-width="0.8"/>
<rect x="98.50" y="223.50" width="65.00" height="64.00" fill="none" stroke="#333" stroke-width="0.9"/>
<text x="100.20" y="227.60" font-size="4.0" font-weight="bold" fill="#333">0.296%</text>
<text x="162.20" y="227.60" font-size="4.0" font-weight="bold" fill="#333" text-anchor="end">0.315%</text>
<text x="100.20" y="285.80" font-size="4.0" font-weight="bold" fill="#333">81.7%</text>
<text x="161.80" y="285.60" font-size="7.37" font-weight="bold" fill="#000" text-anchor="end" textLength="12.80" lengthAdjust="spacingAndGlyphs" stroke="#000" stroke-width="0.3">17.7</text>
<text x="106.38" y="293.00" font-size="3.0" font-weight="bold" fill="#666" text-anchor="middle">0</text>
<text x="116.10" y="293.00" font-size="3.0" font-weight="bold" fill="#666" text-anchor="middle">10²</text>
<text x="131.00" y="293.00" font-size="3.0" font-weight="bold" fill="#666" text-anchor="middle">10³</text>
<text x="146.55" y="293.00" font-size="3.0" font-weight="bold" fill="#666" text-anchor="middle">10⁴</text>
<text x="160.16" y="293.00" font-size="3.0" font-weight="bold" fill="#666" text-anchor="middle">10⁵</text>
<line x1="106.38" y1="287.90" x2="106.38" y2="289.20" stroke="#666" stroke-width="0.35"/>
<line x1="111.56" y1="287.90" x2="111.56" y2="289.20" stroke="#666" stroke-width="0.35"/>
<line x1="116.10" y1="287.90" x2="116.10" y2="289.20" stroke="#666" stroke-width="0.35"/>
<line x1="125.82" y1="287.90" x2="125.82" y2="289.20" stroke="#666" stroke-width="0.35"/>
<line x1="129.06" y1="287.90" x2="129.06" y2="289.20" stroke="#666" stroke-width="0.35"/>
<line x1="131.00" y1="287.90" x2="131.00" y2="289.20" stroke="#666" stroke-width="0.35"/>
<line x1="141.37" y1="287.90" x2="141.37" y2="289.20" stroke="#666" stroke-width="0.35"/>
<line x1="144.61" y1="287.90" x2="144.61" y2="289.20" stroke="#666" stroke-width="0.35"/>
<line x1="146.55" y1="287.90" x2="146.55" y2="289.20" stroke="#666" stroke-width="0.35"/>
<line x1="156.27" y1="287.90" x2="156.27" y2="289.20" stroke="#666" stroke-width="0.35"/>
<line x1="158.86" y1="287.90" x2="158.86" y2="289.20" stroke="#666" stroke-width="0.35"/>
<line x1="160.16" y1="287.90" x2="160.16" y2="289.20" stroke="#666" stroke-width="0.35"/>
<ellipse cx="179.0" cy="242.2" rx="20.8" ry="12.0" fill="url(#bg)" opacity="0.25" clip-path="url(#c6)"/>
<ellipse cx="204.5" cy="240.7" rx="14.6" ry="13.5" fill="url(#bg)" opacity="0.6" clip-path="url(#c6)"/>
<ellipse cx="179.0" cy="271.7" rx="18.2" ry="6.8" fill="url(#bg)" opacity="0.3" clip-path="url(#c6)"/>
<path d="M212.2 227.5zm-.5 .4zm-1.6-1zm-.1 .1zm0 .9zm-6.3-.7zm-3.1-.2zm-2.4 .6zm-21.8 .2zm13.1 1.1zm1.5 .4zm3.2-.5zm2.1 .3zm8.8 .3zm2.4-.8zm1 .7zm-.5 1.3zm-.9 .2zm-.9 .1zm-.2-.1zm-2.9-1zm-1.5 .5zm-1 .1zm-1.6 .3zm-4.5-1zm-10.2 .1zm-2.6-.2zm-2.6 .5zm-11.2 0zm3.7 2zm4.1-.5zm.2-.3zm.1 .3zm.6 .3zm4 .1zm5.2 0zm1.2-.3zm4.8 .3zm1.1-.5zm7.5 .5zm.1 .4zm.4-.2zm.8-.2zm.8 .2zm.7-.4zm.2 .1zm2-.6zm1 .8zm.1 0zm.5-.2zm.9-.7zm.5-.2zm.8 1.2zm1-.5zm10.5 .1zm-2.7 .8zm-1.2 .7zm-2 .4zm-.1 .2zm-.1-.6zm-3.9 .1zm-.2 .4zm-1.2-.1zm0-.9zm-.7-.1zm-1.1 0zm-1 .4zm-.4 .3zm-.9-.6zm-1.2 .2zm-.4 .5zm-.3-1zm-1 .4zm-.1 .4zm-.3-.2zm-.2-.2zm-1.1-.4zm-.2 1.4zm-.3-.9zm-2.4-.2zm-1.1-.2zm-21.2 .8zm-.5-.9zm-2.9 1.3zm-3-.4zm-3-.1zm5.8 1.8zm1.3-.4zm.7 .1zm1.3 .3zm1-.6zm3.9-.1zm0 1zm.7-.2zm5.2-.1zm4-1.1zm1.1 .6zm1 .7zm2.7-.3zm2 .2zm2.6-.6zm1.1-.6zm1.1 .4zm0 .9zm.8-1.3zm1.3 .8zm.3-.3zm.3 .8zm0-.8zm1.5-.2zm.2 .1zm.3 .1zm.1-.5zm.5 .3zm.3 0zm.1-.2zm.1 1.2zm.3-1.1zm.7 .1zm.6 .8zm.4 .1zm0 .1zm.3 .1zm1-1.1zm2.6 0zm0 .9zm.4-.6zm2.1 .8zm.4 .9zm-.1-.6zm-.5 .3zm-.6 .3zm-.8-.1zm-1.9 .3zm-.3 .4zm-.3-.7zm0-.3zm-1.8-.4zm-.2 .3zm-.1 .1zm-.1 .2zm-.1 .6zm-.4 0zm0-.7zm-.2 .9zm0-.6zm-.2-.5zm-.6 .8zm0-1.1zm-.1 1.4zm-.3-1.3zm-1.2 0zm-.6 1.1zm0-.2zm-.1 0zm-.3-.1zm-1.1 .4zm-.4 .1zm0-1.3zm-.6 .3zm-.1 .3zm-.4 .7zm0-1.4zm0 .8zm-.3 .4zm-.4-1zm0-.1zm-.7 .1zm-.4 .1zm-.7 .3zm-.5 .5zm-.5-.5zm-.9 .8zm-.1 0zm-.6-.6zm-1.3 .1zm-1.8-.3zm-.1 .2zm-.2-.2zm-2 .1zm-.6 .6zm-.2-.4zm-1.4-.7zm-2 .8zm-1.2-.4zm-.3 .7zm-.3-.7zm-.9 .6zm-1.3-.5zm-.1-.3zm-.4 .3zm-2.6 .5zm-1.8-1zm-1.4 .3zm-.9 .7zm-.3 .1zm-.3-.4zm-.4-.2zm-.5-.7zm-.3 .9zm-.5 .3zm-.1 .2zm-.1-1.2zm-1.4 .6zm-2.1-.3zm-1.1 .9zm-.8 0zm-.2 0zm-1.5-.7zm-1.1 0zm-.5 1.5zm.5 0zm2.8-.4zm2.7 1.1zm.6-.5zm.6-.1zm.2-.3zm.8-.4zm.6 0zm.6 .2zm.2 .3zm.3-.2zm.2 .3zm.4 0zm.3-.2zm.3 .9zm0-.1zm.4-.7zm.2 .8zm1.8-.9zm0-.5zm.2 .3zm.5 .5zm1.3-.5zm.4 .9zm.4-.3zm.9-.8zm.8 1.2zm1.5-1.2zm.4 .9zm1.1 .3zm1.8-.3zm.3-.3zm.2-.1zm.5 0zm.1 .5zm.3-.1zm1.2 .1zm2-.2zm.3 .5zm1.5 0zm1.3-.5zm.1-.5zm.3 .6zm0-.6zm.2-.4zm.4 .6zm.5-.3zm.1 1.1zm.6-1zm.2-.1zm.1 1zm0-1.1zm.3 1.1zm.9-.2zm.6-.5zm0-.6zm.1 .6zm.1 .1zm.4 .2zm.4 .4zm.4-.2zm0-.5zm.9 .7zm.1-.3zm0-.8zm.3 .5zm.7-.7zm.5 1.1zm.4-.1zm.4-.7zm.2-.1zm.1 .1zm.4-.2zm.1 .6zm0 .1zm1.2-.5zm.1 .9zm.1 .2zm.3-.9zm.4-.2zm.1 1.1zm0-1zm.2-.3zm.3 .9zm.1 0zm.4-.7zm.2 .6zm.2-.1zm0 .1zm.2-.1zm0-.2zm.7 .7zm0-1.2zm0 0zm.2 .4zm.3 .8zm.1-.8zm.1 .7zm0-.2zm.4-.8zm.3 .9zm.3-.1zm0 .4zm0-.8zm0 .5zm.6-.9zm.2 .8zm.2 .3zm4.5-.5zm1.4 .3zm.5 .1zm-.6 .8zm-.2 .4zm-3.5-.9zm-.3 1.3zm-.2-1.2zm-.9 1zm0-1zm-1.1 .4zm0-.4zm-.1 1.1zm0-.9zm-.1-.1zm-.2 .8zm-.4-.3zm-.4-.2zm-.1-.5zm-.1 1zm-.3 .3zm-.8 0zm0 .1zm0-1.3zm-.1 0zm-.4 .7zm-.1 0zm-.6-.4zm-.2 .9zm-.3 0zm0-1.1zm-.1 .3zm-.3 .1zm-.4 .1zm-.1 .3zm-.6-.4zm-.1 .4zm-.4 .2zm-.1 0zm-.1-.7zm-.5 .7zm-1.1-.2zm-.1-.1zm0 .5zm0-.2zm0-1.2zm-.1 .9zm-.1-.6zm-.1-.1zm-.2 .8zm-.3-.2zm-.3-.6zm-.2 .1zm0 0zm-.1 .4zm0 .7zm-.2-.5zm-.2 0zm-.6 0zm-.5-.2zm-.1 .7zm0-1zm-.1 .2zm-.3 0zm-.2-.4zm-.1 .9zm-.1-.8zm-1.5-.3zm-.1 .4zm-.1 .4zm0-.6zm-.5 1zm-.6-.6zm0 .6zm-.2-.7zm-.3 .6zm-.2-.4zm0-.3zm-.1 .7zm-.2-.8zm-.6-.1zm-.8 .7zm-.4-.2zm-.5 .5zm-1.2-.6zm-.9 .6zm-1-.9zm-.4 .5zm-.3-.4zm-.8 0zm-.2-.1zm-.7 .3zm-.3 .5zm-2 .2zm-.4-.7zm-.5 .5zm-.4-.2zm-.3-.1zm-.2 .3zm-1.6-.6zm-.7-.3zm-.5 .1zm-.4-.3zm-.1 1.3zm-.3-.6zm-1.3 .4zm-.1 0zm-.2-1zm0 1.2zm-2.8-.2zm-.4-.3zm-1-.3zm-.3 .4zm-.3 .3zm-.5-.6zm-.5 .8zm-.6-.7zm0 .3zm0 .4zm-.1-1zm-.5 .9zm-.4-.1zm-.8-.1zm-.3 .1zm-.6 .2zm-.1-.1zm-.2 0zm-.4-.9zm-.5 .5zm-.5-.2zm-1.1 .7zm-1.7-.8zm-.3 .3zm-.1-.1zm-.2 .9zm.2 .9zm.3-1zm.4 .5zm.5 .5zm.9 .3zm.1-.3zm.2 .2zm.5-.8zm1.6 .9zm.1-1.1zm.2 .1zm.3 0zm.6 1zm.5-.9zm.1-.3zm.2 1.1zm0 .1zm.2-.9zm0 .8zm1.4-1zm.7 .7zm.4-.2zm.7-.1zm.3-.1zm.1-.1zm0 .3zm.2-.6zm.1 .3zm0-.3zm.2 1.2zm.3-.1zm.1-.4zm.3-.6zm.2 .2zm.2-.5zm.2 1.3zm.2-1.1zm0 .3zm1.1-.2zm.1-.1zm.5 1zm0-.9zm.5 .3zm.4-.5zm1.6 .2zm.2-.2zm.7-.1zm.7 .5zm.6 .9zm.3-.5zm.2-.7zm1.4 .3zm0 .6zm.4 0zm.4-.8zm.7 .2zm.2 .9zm.6-1.3zm.8 .2zm.2 .3zm.1-.6zm.1 1.2zm.7-.1zm.4-.7zm2-.3zm1.6 1.1zm0-1zm.4 .9zm.4-.4zm.7 .5zm.6-.6zm.7-.4zm0 .1zm.5-.1zm.4-.2zm.4 1.4zm.7-.2zm.1-.3zm0-.8zm0 .5zm.2 .3zm.1-.8zm.2 .5zm.4 0zm.1 .8zm.1-.3zm.1-.1zm0-1zm.2 .1zm.1 .3zm.5 .7zm0 0zm.7-.1zm0-.1zm.1-.9zm0 1zm0-.6zm.2 0zm.3-.4zm.1 .3zm0 .2zm.1-.2zm.1 0zm.2 .1zm.1 .4zm.1 .6zm.3-.3zm.3-.5zm0-.3zm0 1zm.2-.5zm.1-.1zm0-.1zm0-.3zm.4 .4zm.2 .7zm.2-.1zm.5-1zm.1 .1zm.2 .2zm.5-.2zm.1 .9zm.1-1zm.1 .9zm0-.4zm.7-.2zm.1 .6zm.1-.1zm0-.2zm.3-.4zm0 .6zm.3-.1zm.3 .1zm.1-.7zm.2-.2zm.2 .3zm.1 .4zm0 .5zm1.1-.6zm.1 .3zm.5-.4zm1.7 .1zm.9 .4zm.4-.9zm.3-.1zm.2 1.1zm.2-1.2zm.5 0zm.1 .9zm.5-1zm.2 1.3zm2.4-.1zm3-.2zm-3.5 1.7zm-1.8-.4zm0 .5zm-2-.7zm-1.4 .6zm0-.1zm-.7-.1zm0-.1zm-.2-.5zm-.1 .7zm-.7-.4zm-.1 .3zm-.1-.6zm-.1 .8zm-1-.3zm0 .3zm0-.2zm-.2 .2zm-.1-.5zm-.5-.6zm-.3 .8zm0-.9zm-.2 .5zm-.1-.5zm-.1 0zm-.3 1.1zm-.9 .3zm-.2-.4zm0 .2zm-.1 0zm-.1-.9zm-.4 .6zm0 .1zm-.2 .3zm-.1-.6zm-.1-.4zm-.2-.2zm0 1.3zm-.1-1.1zm-.1 1zm-.1-.9zm0 .3zm-.1-.1zm0 .6zm-.2-.7zm-.5-.3zm0 .3zm-.1-.4zm0 .4zm-.1-.1zm-.2 .2zm-.2-.1zm-.2 .6zm0-.3zm-.1-.4zm-.1-.3zm-.2 .8zm0 0zm-.5 .2zm0 .1zm0-.5zm-.2 0zm-.1 .5zm-.1-.5zm-.1-.6zm0 1.3zm-.1-.4zm-.1-.5zm-.5-.3zm-.4-.2zm0 1.3zm-.3-1.3zm-.1 1.1zm-.4-.3zm0-.4zm-.4 .8zm-.1-.4zm0-.8zm-.1 .5zm-.1 .3zm0-.8zm-.1 1.3zm-.7-.6zm-.4 .3zm-.2-.6zm-.6 .1zm-.8-.4zm-.9 .7zm-1.5-.4zm-.3 0zm-.2 0zm-.4 1zm-.2-.1zm-.1 .1zm-1.4-.5zm-3.9-.3zm-1.2-.5zm-1.1 .5zm-.9-.3zm-.5-.2zm-.7 .5zm-.1 .4zm-.1-.6zm-.1 .2zm-.1-.2zm0-.2zm-.2 .2zm-1.4 0zm-.4 .9zm-.2-.1zm-.1-.5zm-.2-.6zm-.5 0zm0 .6zm-.1 .4zm-.1 .2zm-.1 0zm-.2-.3zm-.3-.7zm0 0zm-.2 .6zm-.2 .1zm-.4-.5zm-1 .7zm-.8 .2zm-.4 0zm-.1-1zm-.4 .8zm-.1-.9zm-.5 1.1zm-.4-.6zm0-.1zm-.1-.6zm-.7 0zm-.4 .1zm-.1-.2zm0 .3zm-.6 1.1zm-.1-.7zm-.7 0zm0-.7zm-.1 .2zm-.5 0zm-.5 .2zm0 .9zm0-.6zm-.9 .3zm-.4 0zm-.2-.6zm-.7 .5zm0 .5zm-.4-1zm-.3 .5zm-.3-.2zm-1.4-.5zm.6 2.3zm1.1-.7zm.2 .6zm.4 .4zm.2 .1zm.9-.3zm3 .3zm.6-.3zm0 .2zm.7-1.2zm.2-.1zm.8 .8zm.2 .5zm1.2-.2zm.1-.3zm.2-.8zm.8 .6zm.7 .1zm.5-.7zm.9 .2zm.1 0zm1 .3zm.3-.2zm.1 0zm.3-.3zm.1 1.3zm.3-1.1zm.2 1.1zm1-.3zm0 .3zm0-.1zm1.2-.1zm.1 .2zm.1-.2zm.1 0zm.5-.1zm.2-.6zm0 .9zm.3-.8zm.5 .9zm.2-.3zm.4-1zm1.7 .7zm.1 0zm.6-.7zm1.7 .1zm.4 .8zm.7-.2zm1.7-.2zm1.5 .3zm.4 0zm.4-.3zm1.2 .1zm.8 0zm.2-.4zm0 .8zm.8 0zm.6-.5zm.1-.5zm.3 1.3zm.2-1.1zm0-.3zm.3 .4zm.3 .4zm.3-.1zm.4 0zm.2-.5zm.4 1zm.3-.1zm.3 .2zm.1-.4zm0-.3zm.1 .1zm.4 .6zm.4-.7zm.1-.6zm.1 .1zm.3 .3zm.1 1zm.6-.5zm0-.8zm.2 1.3zm.1-1.2zm.3 0zm.8 .5zm.1 .2zm.1 .4zm.1-1zm.2 .1zm.4 .9zm.3 .1zm0-.2zm0-.9zm.1 .7zm.5-.4zm.2 0zm.1-.4zm0 .5zm.1 .3zm.1-.8zm.4 .4zm.1 .2zm0-.8zm.4 1zm.1 .2zm.3 0zm0-1.1zm.2 .7zm0 .4zm.4-.6zm.1 .5zm1.1-.9zm0 1.1zm1 0zm.3 .1zm.1-1.1zm.6 1zm1.7-1.1zm.1 1.9zm-4.9-.4zm-.2 .9zm0-1.1zm-.2 .7zm-.1 .6zm-.1-.6zm-.5-.5zm-.3 .2zm-.4 .3zm-.1-.1zm-.1 .7zm-.2-1.3zm-.2 .2zm-.5 .2zm-.2 .8zm-.2-.9zm-.3 .7zm-.1 .4zm-.7-.7zm-.6-.1zm-1.1 .3zm-.5 .1zm-.1 .1zm-.1-.7zm-.4 .6zm-.6-.5zm0-.1zm-.1-.1zm0-.3zm-.1 .9zm-.1-.9zm0 .4zm-.2 0zm-.1 .4zm0 .3zm-.1-.6zm-.1 .5zm-.4-.9zm-.6 1.3zm0-.4zm-.3-.2zm0 .4zm-.4-1zm0 1.2zm-.4-1.4zm-.4 .3zm-.3-.3zm-.1 .7zm-.8-.3zm-.3 .9zm-.7-.7zm0 .4zm-.3-.8zm-1.9-.2zm-1 .5zm-1.3 0zm-.1 .8zm-1-1.2zm-3 .2zm-.4-.1zm-.4 0zm-.6 .6zm-.6-.5zm-.5-.1zm0 .7zm-.4 .5zm-1.8-1zm-.8 .6zm-.2-.4zm-1.1 .7zm-.2-.9zm-.3 .1zm-.3 .1zm-.6 0zm-.8 .8zm-1-.9zm-.5-.3zm-.2-.1zm-.7 .9zm-1.1-.5zm-.5-.5zm-.6 .4zm0 1zm-2.1-1zm-.2-.3zm-.2 .7zm0 .4zm-.3-.4zm-.3 0zm-.6-.3zm-.8 .4zm-2-.5zm-.4-.2zm-2.3 2.2zm3.2-.6zm.1 .8zm.3 .2zm1.1-.2zm1.1-.7zm.3 1zm.2-.1zm.2-1.3zm.7 1.1zm.4-.8zm.6 1zm.1-.2zm.1-.6zm1.2 .2zm.2 .7zm.4-.9zm.3-.2zm0 0zm.1-.1zm.5 .5zm.2-.3zm.2 .3zm2 .6zm.2-1zm.3 1zm.3-1.3zm.3 .7zm1.6-.5zm.3 .8zm.5 .4zm.1-.4zm.8-.1zm.1-.9zm.9 .8zm.1-.4zm.3 .2zm.5 0zm.6 .3zm.6-.8zm.5 .1zm0 .1zm.4 1.1zm.4-.7zm.4 0zm.5 0zm1 .7zm.5-1zm.5 .6zm1.2-.8zm.2 .9zm1.6-.6zm.2-.5zm1.2 1.1zm2.1-.2zm1.2 .2zm.8-.7zm.1 .1zm.4 .5zm.3-.2zm0-.3zm.5 .7zm1.4 0zm.3-.9zm.3 .4zm.1-.3zm0-.3zm.2 .3zm.1 .6zm1.9-.4zm0-.4zm1.1 .3zm.1 .3zm.1 .4zm.3-.8zm.4 .5zm.4-.2zm.5 .3zm.1-.2zm.2-.1zm1 0zm.3-.7zm.5 .8zm.3 .2zm.8-.3zm.1-.7zm.1 .2zm.2 1.1zm.1 .1zm.7 0zm1.2-.4zm.2 0zm.2-1zm1.3 0zm.4 .6zm1.6 .8zm-2.7 .5zm-.5 0zm-1.2 .8zm-1.5-.6zm-1.9-.1zm-.9-.2zm-.7 .9zm-.2-.8zm-.4-.1zm-.4 .6zm-2.1 .4zm-.2 0zm-.4-1zm-.1 .9zm-1.3-.8zm0 0zm-.1 .5zm-.8-.5zm-1.2-.3zm-1.4 1zm-1.4-1.1zm-.8 .8zm-1.3-.7zm-3.2 .3zm-4.6 .4zm0-.1zm-.3-.7zm-.1 1.4zm-.2-1.2zm-.1 .7zm-.8 0zm-.2 .3zm-1.7 .2zm-.2-1zm-1.2-.3zm-.6 .8zm-1-.4zm-.6 .4zm-.3-.8zm-.7-.1zm0 .2zm-.1 0zm-.6 1.2zm-.7-.5zm-.2 0zm-.2 .1zm0-.9zm0 1.3zm-.3-.9zm-.4-.2zm-.6 .1zm-.7 .3zm-1.4 .7zm-.7-.4zm-1.7-.2zm-1.2 .3zm-3.1-.6zm-1.4-.2zm-.8 .2zm-.1-.3zm-.2 2.2zm3.3-.1zm1.1-.3zm0-.3zm4.6 .9zm.5-.4zm.2 .2zm.5-.2zm.4 .4zm1-.9zm1.4 1.2zm.4-.8zm1 .5zm1.9-.9zm1.8 .7zm1.7-.8zm1.5 0zm.6 1zm2-.2zm2.6-.4zm7.1-.5zm.4 1zm.1-.9zm.7 .3zm.3 .7zm.5-1zm.9-.1zm.2 1.1zm1.1 0zm.9-.4zm.4 0zm.3-.6zm.7 .2zm2 .1zm.3 1zm.1-.8zm.8 .2zm3.6-.7zm.1 .8zm1.9-.9zm2.5 1.1zm5 .9zm-9.7 .1zm-.2 .8zm-2.1-1.2zm-3.6 .8zm-.5-.6zm-.1-.2zm-1.8 1.1zm-.7-1.2zm-.8 .7zm-.6 .3zm-.8 .3zm-2.9-.4zm-1.2-.6zm-3.2 .7zm-1.8-.2zm-.2-.4zm-.2 .3zm-4.7-.4zm-.7 .8zm-.7-.4zm-2.4-.7zm-.5 .4zm-3.2 .7zm-.5-1zm-1.7 .4zm-11.5 .8zm.1 1.4zm.2-1.1zm4.1 1.2zm4.9-.7zm3.6 .5zm1.1-.6zm2.1 0zm.8-.1zm7.8 .4zm5.8 .2zm.5-.2zm.3-.5zm1.9-.3zm1.7 .8zm.2 .1zm.3-.3zm8.6 .3zm1.2 .3zm7.5-.7zm7.7 1.7zm-10.2-.6zm-.4 .4zm-3 .2zm-1.3-.2zm-6-.4zm-.2 .1zm-2.6-.3zm-2.7 0zm-3.8 .1zm-2.4 1.2zm-2.1-1.2zm-12.1 .4zm-11.1 .9zm-2.1-1.3zm16.4 1.5zm.4 1zm13.7-.4zm1.2-.1zm7.6-.4zm.5-.2zm.3 .3zm3.2 .9zm7.1 .1zm3.5-.7zm4 1.1zm-2.3 .3zm-20.6-.3zm-11.9 .9zm-6.1-.6zm-12.2 1zm10.3 .3zm10.3-.1zm6.4 .1zm10.7 .3zm6.5 .5zm8.1 1.4zm-1.1-.9zm-4.6 1.1zm-23.6-1.1zm-2.4 .5zm-1 .1zm-15.8 .4zm1.7 .4zm2.5 .8zm1.1 .2zm2.1-.8zm.8 .8zm19.6-.5zm.4 .5zm10-.3zm10.2-.4zm-16.7 2.6zm-7.9-1zm-3.8 1zm-4.3-.2zm-3-.6zm-2.7-.4zm-2.2 1zm-4.9-.8zm-11.6 2.2zm2.9 0zm10.5-.7zm4.5 .9zm2.1 0zm9.6-.8zm3.9 0zm8-.5zm1.4 1.2zm16.6-.9zm-21.6 1.4zm-3.6 .6zm-.1 .2zm-1 .3zm-2.8-.5zm-.8-.2zm-.2 .3zm-3.4 .4zm-2.3 0zm-2 .1zm-1.2-.7zm-1-.6zm0 .8zm-1.6 .2zm-.7-.4zm-4.2-.1zm-3.9-.1zm-5.6 .8zm-3.4-.2zm1.3 1.8zm1-.2zm1.4-.4zm4.7 .6zm.7-.5zm1.7 .5zm1.2-.3zm.7-.1zm1.1 .1zm.6-1zm.6 .5zm2.4 0zm.1 .5zm.3-.7zm0 .2zm.5 .6zm.8-.9zm.5 .8zm.4-.1zm.1-.1zm1.2 .3zm2.7-.2zm9.6 .2zm.3-.4zm.4 .3zm.8-.9zm1 .4zm.4 .6zm2.3-.1zm.3-.2zm.7 .5zm1-.1zm5.2-.2zm.7 1.3zm-1 .5zm-2.5-1.4zm-1.2 1.2zm-1.3-.8zm-1 .7zm-.2-.2zm-.9-.5zm-1.8 .8zm-.2-.7zm-1.2-.1zm-1.7 .8zm-.6-1.2zm-.9 1zm-.8-.6zm-.9 1zm-1-.5zm-.3 .4zm-1.4-.2zm-.6-.6zm-2.1 .4zm-.9-.4zm-1.5 .3zm-.4-.5zm-1 0zm-.4 .6zm-.7-.3zm-.8 .4zm-.4-.2zm-.4 .4zm-.5-1zm-.7-.1zm-.3 .7zm0 .1zm-.8 .4zm-.2-.2zm-.3-.3zm-.2-.2zm-.2-.2zm-.1 1zm-.2-.5zm-.5 .4zm-.5-.3zm-.2 .4zm-.1-1.2zm-.1-.2zm0 1.4zm-.1-.2zm-.2-.8zm-.2 1zm0-.4zm-.2-.3zm-.2-.1zm-.2 .5zm-.1-.3zm-.4 .3zm-.1-.5zm-.7 .7zm-.1-1.3zm-.3 .8zm-.7-.8zm-.1 1.3zm-.3 .1zm-.1-.7zm-.2 .3zm-.2-.6zm-.2 1zm-.4-1.3zm-1.8 1.1zm-.2-1.1zm-1.3 .6zm-.9-.2zm-1.9-.4zm-2.5 .2zm-.7 2.5zm.2-.4zm.1 .5zm1.2-.6zm.3-.8zm.6 1zm0 .4zm.6 0zm.4-.8zm.1-.5zm.6 .8zm.5-.1zm.5-.8zm.4 .4zm1.8-.4zm.1 1.3zm.7-1.1zm0 .8zm.3-.1zm.1-.4zm.1 0zm.1 .8zm.2-.5zm.1-.3zm.1-.2zm.4 .9zm.1-.9zm.3 0zm.7 .8zm.1-.5zm.1-.5zm.5-.1zm0 .5zm.1 .8zm.2-.2zm0 0zm.1 .1zm0-.3zm.1 0zm0 .1zm.1 .1zm0-.2zm.1-.9zm.1 1.1zm0 0zm.1 .2zm.1 0zm.3-.1zm0-.6zm.7-.2zm.2-.4zm.1 1.2zm0-.7zm.3 0zm.5 .1zm.1 .7zm.4-.9zm0 .9zm.2-.1zm.2 .1zm0-1.1zm.3 .8zm.1 .3zm.2-.3zm.4-.1zm.2 .4zm0-.7zm1.6-.1zm.4-.1zm.6 1zm.2-1.1zm.2 1.1zm.4-1.3zm0 1.3zm.4-1zm.3 .1zm.9 .1zm.7 .5zm.2-.2zm.2 .4zm.2-.4zm.1 .3zm.4-1zm.2-.1zm.1 .6zm.7-.1zm1.4 .6zm.2-.8zm3.8-.2zm1 .4zm.6-.5zm.2 .1zm1.6 .2zm.6 .2zm.1 .8zm.6-.3zm.5-.8zm1.5-.3zm1.4 1zm2.6-1zm3 1.1zm1.2 .3zm-1.5 1.2zm-1.4-.7zm-.3 .6zm-.1 .1zm-.3 .1zm-.2-.9zm-.7 .7zm-1.6-.6zm-.2 .4zm-.2-.4zm-1.3 .1zm-.2 .9zm-.6-.7zm-2.4 .5zm-.8-1.2zm-.7 .4zm-.4 .5zm0 .4zm-.2-1.2zm-.8-.1zm-.3 .5zm-.8 .3zm-.3-.6zm-2.8 .7zm-.2-.8zm-.2 .9zm0 .3zm-1.3-.1zm-.1 .1zm-1-.7zm-.1 .2zm-1.4 .3zm-.3-.6zm-.4 .5zm-1.1 .2zm-.4-.7zm-.5 .7zm-.1 .1zm0-.3zm-.1-.8zm0 .4zm-.4 .4zm-.2-.9zm-.2 0zm-.7 1.2zm0-1zm-.4 .7zm-.1-1zm-.2 .5zm0 .8zm-.4-.4zm0 0zm-.1 .4zm-.2-.5zm-.1 .4zm0-.3zm-.1-.4zm-1-.5zm-.3 .6zm-.4 .4zm-.1-.5zm-.3-.1zm-.1 .1zm0 .9zm-.1-.6zm-.2-.7zm-.1 .2zm-.4-.1zm-.3 .1zm-.1-.3zm-.4 .6zm-.1-.1zm-.2 0zm0-.5zm0 .1zm-.1 .8zm0-.2zm0-.6zm-.3 .8zm-.1 0zm-.2 .5zm-.1-.1zm0-.3zm-.2-.9zm-.1-.1zm-.1 1.3zm-.1-.4zm-.1-.4zm-.8-.2zm-.1-.3zm-.4 .3zm-1.2 0zm-.5 .4zm0-.4zm-.4 1zm-.1-.9zm-.1-.1zm-.1 1.1zm-.4-.8zm-.4-.3zm-1.2 .5zm-.7-.8zm-.3 1.1zm-.6-.9zm0 .1zm-1.6 0zm0-.2zm-1.7 .7zm-.1-.8zm.2 2.7zm.1-.9zm.1-.2zm.2 .6zm1.4-.5zm.8 0zm0 .7zm1.1 .1zm0-.6zm0-.4zm.2 .7zm.4 .7zm.2-.4zm0-.9zm.1 .2zm.4 .3zm.1 .7zm0-1zm1.4 .2zm0 .6zm.2-.5zm1.6 .7zm.1 .1zm1-.8zm.7-.2zm0 .6zm.2-.8zm.3 .9zm.4 0zm.2-.4zm.2 .6zm.1 0zm.1-1.3zm.7 1.3zm.1-.1zm.9-.2zm.1-.5zm.1 .3zm.1-.6zm.3-.2zm.3 .5zm.5-.1zm.2 1zm.4-.1zm0-.6zm.2 .5zm.1-.6zm0 .2zm.2-.8zm.2 1.4zm.5-1.3zm.4 .5zm.4-.1zm.2-.2zm.1 0zm0 .8zm.7 .1zm0-1.2zm0 .8zm.3 0zm0 .2zm1.2-.3zm.1-.4zm.2 .1zm0 .7zm.3-.4zm.3-.1zm1.1 .2zm.2-.4zm.5 0zm.1-.2zm.5-.2zm0 1.1zm.4-.1zm.4-.7zm1.9 .2zm1.1-.3zm1.5 .5zm2.3 0zm.6-.6zm.1 1.1zm1-.1zm1.3 0zm2-.2zm1.9-.6zm.8 .2zm.2 .8zm2 0zm4 .3zm-1.2 1zm-3-.8zm-.4 .7zm-1.8-.9zm-2.1 .2zm-3.5 .6zm-1.6-.8zm-.9 .8zm-2.6 .2zm-.2 0zm-2-.9zm-1.4 .9zm-1.3-.5zm-1.7 .5zm-1-.9zm0 .8zm-.6-.8zm-.1 .2zm-1.3 .7zm-.2-.8zm0 .1zm-.9 .3zm-.4 .5zm-.6-.4zm-.3 .6zm0-.2zm-.3-1.1zm-.1 1.2zm-1.6-1.1zm-1.1 .2zm-.6 .2zm-1.1 .3zm-1.1-.8zm-.2 .9zm-.4-.8zm-.6 .8zm-.1-.7zm-.6-.3zm-.6 .5zm-1.5 .1zm-.2-.6zm-3 .6zm-1.1 0zm2.2 1.2zm2.1 1zm4.9-.9zm.7-.4zm.7 0zm.8 .7zm.4-.1zm.4 .2zm2 .3zm4.6-1.1zm1 .5zm1.9-.2zm.7-.3zm6.4 .3zm.7-.1zm.1-.1zm1.6 .7zm.3 .1zm5.7-.8zm1.8 1.2zm2.1 .7zm-2.4-.4zm-.6 .3zm-18.5 .2zm-4.2-.2zm-6.5-.2z" stroke="#000" stroke-opacity="0.6" stroke-width="0.8" stroke-linecap="square" fill="none" filter="url(#bl)"/>
<line x1="191.50" y1="223.20" x2="191.50" y2="287.40" stroke="#777" stroke-width="0.8"/>
<line x1="165.00" y1="266.50" x2="229.00" y2="266.50" stroke="#777" stroke-width="0.8"/>
<rect x="165.50" y="223.50" width="64.00" height="64.00" fill="none" stroke="#333" stroke-width="0.9"/>
<line x1="165.90" y1="223.20" x2="165.90" y2="287.40" stroke="#999" stroke-width="1.4"/>
<text x="166.60" y="227.60" font-size="4.0" font-weight="bold" fill="#333">19.1%</text>
<text x="166.60" y="285.80" font-size="4.0" font-weight="bold" fill="#333">27.8%</text>
<text x="227.80" y="285.80" font-size="4.0" font-weight="bold" fill="#333" text-anchor="end">6.17%</text>
<text x="228.10" y="231.00" font-size="7.37" font-weight="bold" fill="#000" text-anchor="end" textLength="13.00" lengthAdjust="spacingAndGlyphs" stroke="#000" stroke-width="0.3">47.0</text>
<text x="172.68" y="293.00" font-size="3.0" font-weight="bold" fill="#666" text-anchor="middle">0</text>
<text x="182.28" y="293.00" font-size="3.0" font-weight="bold" fill="#666" text-anchor="middle">10²</text>
<text x="197.00" y="293.00" font-size="3.0" font-weight="bold" fill="#666" text-anchor="middle">10³</text>
<text x="212.36" y="293.00" font-size="3.0" font-weight="bold" fill="#666" text-anchor="middle">10⁴</text>
<text x="225.80" y="293.00" font-size="3.0" font-weight="bold" fill="#666" text-anchor="middle">10⁵</text>
<line x1="172.68" y1="287.90" x2="172.68" y2="289.20" stroke="#666" stroke-width="0.35"/>
<line x1="177.80" y1="287.90" x2="177.80" y2="289.20" stroke="#666" stroke-width="0.35"/>
<line x1="182.28" y1="287.90" x2="182.28" y2="289.20" stroke="#666" stroke-width="0.35"/>
<line x1="191.88" y1="287.90" x2="191.88" y2="289.20" stroke="#666" stroke-width="0.35"/>
<line x1="195.08" y1="287.90" x2="195.08" y2="289.20" stroke="#666" stroke-width="0.35"/>
<line x1="197.00" y1="287.90" x2="197.00" y2="289.20" stroke="#666" stroke-width="0.35"/>
<line x1="207.24" y1="287.90" x2="207.24" y2="289.20" stroke="#666" stroke-width="0.35"/>
<line x1="210.44" y1="287.90" x2="210.44" y2="289.20" stroke="#666" stroke-width="0.35"/>
<line x1="212.36" y1="287.90" x2="212.36" y2="289.20" stroke="#666" stroke-width="0.35"/>
<line x1="221.96" y1="287.90" x2="221.96" y2="289.20" stroke="#666" stroke-width="0.35"/>
<line x1="224.52" y1="287.90" x2="224.52" y2="289.20" stroke="#666" stroke-width="0.35"/>
<line x1="225.80" y1="287.90" x2="225.80" y2="289.20" stroke="#666" stroke-width="0.35"/>
<ellipse cx="274.6" cy="239.7" rx="14.0" ry="14.0" fill="url(#bg)" opacity="0.8" clip-path="url(#c7)"/>
<ellipse cx="246.6" cy="271.7" rx="18.2" ry="7.0" fill="url(#bg)" opacity="0.15" clip-path="url(#c7)"/>
<ellipse cx="270.6" cy="271.2" rx="14.0" ry="7.3" fill="url(#bg)" opacity="0.4" clip-path="url(#c7)"/>
<path d="M265.8 225.8zm4.1-.1zm2.8-.5zm2.4-.1zm5 .1zm4.1 1.9zm-.1-.4zm-7.7 1.1zm-2.6-.6zm-1.1-.6zm-1.3 1.3zm-1.1-.6zm0-.6zm-.5 .5zm-7.2-.2zm-3.7-.1zm-6.8 1.3zm3.4-.1zm9.8 .6zm4.7 .4zm.3-.6zm.4-.5zm.6 .5zm.3 .6zm2.8-.5zm.1 0zm.9 .8zm.5-.8zm1.9 .1zm3.2-.1zm6.2 1.7zm-4.6-.8zm-.7 .9zm-1 .3zm-2.3 0zm-.4-1zm-.7 1.1zm0-.3zm-1.7-.8zm-3 .6zm-.6 .3zm-.2 .3zm-.5-.7zm-1.4 .6zm-2-.7zm-.1-.3zm-.5 .8zm-3.9 .1zm-21.9 .7zm4.4 1zm4.1-1.1zm11.1 .9zm5-.3zm.1-.8zm.7 .4zm3.4-.2zm2.4 .3zm0-.3zm.1 .6zm.1 .4zm.8-.8zm.3 .2zm.2-.6zm0 1.2zm.5-.6zm.4 .2zm0 .1zm1.2-.8zm1.2 .5zm.7 .7zm.4-1.3zm.2-.1zm0 .1zm.3 .8zm.7-.2zm0 .6zm1.1 0zm.7-.3zm.7-.5zm1.9 .3zm-.5 .7zm-1.2 .8zm-1.7-.5zm-.5 1.1zm-.1-.6zm-1 .5zm-.1-1.1zm-.4 .6zm-.1-.7zm0 1.1zm-.1-1.1zm-.3 .9zm0-1zm-.2 .7zm-.7-.4zm0 .1zm-.3 .1zm-.3-.4zm-.5 .1zm-.6 1zm-.3-.9zm-.4 .9zm0-.8zm-.6-.1zm-.1 .1zm-.2 .1zm-.2 .8zm-.3-.3zm-.9-.8zm-.1 .3zm-.2 .9zm0-1zm-.1-.3zm-.5-.1zm-.3 .5zm-.2-.1zm-.5 .9zm-1.1 .1zm-.4-.2zm0-.9zm-.1-.1zm-.1 .5zm-.8 .6zm-1.4-.7zm-.2-.1zm-.5 .5zm-.8-.1zm-3.4 .1zm-11.6-.3zm-.9-.3zm-5.6-.4zm-4.1 2.6zm7.1 0zm.3 .2zm1.1-.8zm1.5 .5zm.2-.3zm2.8 .6zm3-1.3zm5.4 .7zm.3 .2zm.1 .4zm2.3-.8zm.6 .3zm.8-.2zm.7-.5zm1.2 .4zm1.4-.4zm.1 .6zm1.5-.4zm.1 .9zm.3-.9zm0 0zm.1-.3zm.1 .1zm.1 1.3zm0-.4zm.2 .2zm1-.4zm.2 .1zm.1 .3zm.5-.7zm0 .7zm0-.9zm.6 .7zm.2 0zm.3-.3zm.2-.2zm.1-.3zm.1 .1zm0 .5zm0 .1zm.2-.4zm.3 .3zm.2 .4zm.3-.9zm.3 1.1zm.5-.3zm.1-.2zm0 .2zm.3-.2zm.1 0zm1.5 0zm.2-.1zm1-.5zm.5-.3zm.3 .6zm.3 .5zm.1-.4zm0 .2zm.2 .4zm0-1zm0 .3zm.1 .4zm.5-.1zm.3-.5zm.1 .8zm.8-.7zm.5 .9zm.5-.7zm.2 0zm6.6 1.9zm-2.8 0zm-1.1-1zm-2.5-.1zm-.8 1zm-.4-1zm-.8 1zm-1-.1zm-.1 0zm-.4-.5zm-.6-.2zm-.1 .2zm-.1-.2zm-.1 1zm-.2-.6zm-.6 .6zm-.1-1.2zm-.1 .7zm-.2-.3zm-.3-.1zm-.1 .7zm0-.7zm-.2 1zm-.2 .1zm-.8-.6zm-.2 0zm-.3 .6zm-.1-1zm-.1 1zm-.3-1.3zm-.1 .5zm-.1 .3zm-.1 .4zm-.1-.5zm-.3 .5zm0-.3zm-.1 .1zm-.2 .3zm0-1.4zm-.9 .2zm-.1 .9zm0-.2zm-.2 .1zm-.1-.2zm-.8-.1zm-.2 .1zm-.2-.4zm0-.3zm-.1 .3zm-.2-.4zm0 .9zm-.1 0zm-.3-.9zm-.2 0zm0 1.3zm-1.4-1.3zm-.6 .7zm0 .6zm-.2 .1zm-.3-1.4zm-.6 .5zm-.2-.1zm-.1 .7zm-.3-.7zm-.7-.1zm-.3 .9zm-1.4-.8zm-1.4 .3zm-.3 0zm-.5 .2zm-.1 .2zm-2.7-.7zm-.3 .7zm-1.8-.6zm-3.6 .1zm-.5-.6zm-.6 1.3zm-2.5-.2zm-.6-1zm-2.6 1zm-1.3-.6zm-1.8-.1zm-2.3 .1zm-7.5 .6zm-1.6 .7zm.7 .9zm2-.6zm.8 .2zm2.1 0zm3.8 0zm3.9 0zm.9 .4zm3.1-.8zm2.1 .7zm4.6-1.1zm2.7 .4zm.5 .1zm3.6 0zm1.6-.4zm.1 0zm0-.1zm1.2 .3zm.5 .3zm.2 0zm.6-.1zm.5 .5zm.3-1zm0 1.4zm.1-1.3zm0 1zm.2-.4zm.2 .1zm0-.2zm.3-.4zm0 .9zm.1-1zm0 .5zm.1 .7zm.2-.8zm.1-.3zm.4 .2zm.2 .2zm0 0zm.4-.6zm.1 .3zm.4 .4zm0 .7zm.4-1.1zm.1 .8zm.1-.5zm0-.3zm0 .9zm.2-.4zm0-.4zm.1-.3zm.1 .9zm0-.6zm.1 0zm.2 .5zm.2 .4zm.4-.3zm0 .1zm.6-.5zm.5 .3zm.4 .2zm.1-.7zm0-.4zm.3 1zm.1-.8zm0 .4zm0 .4zm.1 .1zm.5-.3zm.3 .3zm.3-.9zm.1 1zm.4-1.2zm.2 .3zm.1 .7zm.1 .2zm.1-.8zm.1 .7zm.1 .2zm.3-.3zm0-.5zm.2-.5zm.3 1.4zm.3-.1zm.1-1.2zm.2 1zm.3-.1zm.1 .1zm.2-.2zm.1 .2zm.3-.6zm.2 .5zm.2 .2zm.1-.1zm.6-.6zm.1 .5zm0-.7zm.3-.2zm.1 1.3zm.1-.2zm.2-1zm.9 0zm1.5 1.1zm1.6-.8zm2 1.8zm-3.3 .1zm-1.2-.3zm-1.9 0zm-.4-.2zm0 .8zm-.1-1.1zm0 .8zm-.6 .2zm-.1-1.1zm-.6 1.2zm-.2-.3zm0-.8zm-.1 1.3zm-.2-.2zm-.1-.1zm-.6-.9zm0-.1zm-.3 .7zm-.1-.1zm0 .7zm-.2 0zm-.6-.4zm-.5-.4zm-.6-.5zm-.2 .4zm-.2 .8zm-.2 .1zm-.2-1.2zm-.1 1.2zm-.1-1.3zm-.1 1.1zm-.1-.8zm-.1 .2zm-.2 .6zm-.1-.9zm-.4 .9zm0-.6zm0-.6zm-.3 .6zm-.1 .6zm-.2-.1zm-.1-.6zm-.2 .4zm-.1 .3zm-.1 .2zm-.4-1.4zm0 .9zm-.3-.3zm0-.4zm0 .4zm-.4-.2zm0 .6zm-.2-.7zm-.2 .7zm-.1-.8zm-.4 .1zm-.1-.1zm-.1 .5zm-.1 .5zm-.5-.7zm-.2 .4zm-.1-.1zm-.6-.8zm0 1.2zm-.4-.4zm-.1 .6zm-.3-.4zm-.2-.1zm-.3-.2zm0-.5zm-.2-.2zm-.9 .6zm0 .5zm-1-1.1zm-1.7 .5zm-.5 .3zm-.2 .3zm-.2-.3zm-.4-.4zm-.5-.3zm-1-.1zm-2.5 .7zm-.3 .2zm-.4-.9zm-1.6 .1zm-1.5 .7zm-.2-.5zm-1 .9zm-2.8-.9zm-.6 .7zm-1.5 .1zm-2.1-.4zm-.5 .5zm-.4-.1zm-.3-1zm-.7 .4zm-1.7 .9zm-3.5-.7zm-1.6-.5zm-5.4 2.3zm5.5-.5zm.4-.2zm3.4 0zm.7 .8zm.8-1zm.7 .5zm.4-.1zm.1-.3zm1.4-.2zm.9 .2zm.7 .4zm1.2 .8zm.6-1.2zm.5-.2zm1.4 .7zm.5-.2zm2.4 .9zm.1-.2zm2-.9zm.6 .9zm.8-.9zm1.2-.2zm2.5 .7zm1.4-.1zm.3 .5zm.5 0zm.9-.5zm0 .5zm.3 .1zm.5-.5zm1.7 0zm.1-.1zm0 .1zm.4-.8zm.8 .4zm.1 .3zm0 .5zm.4-.2zm.1 .3zm.5-1.1zm.2 1.1zm.2-.8zm.4-.1zm.1 .7zm.4-.2zm.1-.8zm1.3 .9zm.2-.9zm.3 .3zm.2 .6zm.2-.2zm.1-.3zm0 .4zm.2-.2zm.4 .6zm.1-.7zm.4 .1zm.2-.6zm.1 .3zm.1 .4zm.1-.7zm.3 .7zm.1-.2zm.1-.5zm.1 .2zm.2 .2zm.1 .7zm.4-.2zm.2-.7zm.1 1zm.5-1.1zm.1 1.1zm.2-.6zm0 .5zm.6-.9zm.2 .9zm.2-1.1zm.1 .6zm1 .7zm1-.6zm.5 .4zm.4-1.1zm.3 1.1zm1.2-1.1zm.2 .3zm.8 .3zm1.7-.5zm0 .2zm1.2 1zm-.5 .4zm-1.6 .7zm-.7-.9zm-2.6 1zm-.9-.8zm-.3 .2zm-.5 .1zm0 .4zm-.1 .1zm-.6 .2zm-.4-1.2zm-.2 .2zm-.3-.1zm-.2 0zm-.5 .2zm-.5 .2zm0-.1zm-.2-.3zm-.3 .5zm-.2-.4zm-.1 .1zm-.1 .3zm-.2-.5zm0 .2zm-.1 .4zm-.2-.2zm-.2 .8zm0-.2zm-.2-.8zm-.4 .7zm-.1 .3zm-.2-.4zm-.2-.2zm-.2 .3zm-.3 .3zm-.1 0zm-.2 0zm-.3-.1zm-.2-.9zm-.1-.1zm-.1-.2zm-.1 1.3zm-.1-.9zm0-.5zm-.2 .7zm-.2 .5zm-.1-.4zm0-.8zm-.1 .9zm0 .3zm-.3-.1zm-.2-.3zm-.1 .3zm-.4-.9zm-.2 .1zm-.1 0zm-.1 0zm-.1 .3zm-.1-.1zm-.1-.1zm-.1 .1zm-.3 .9zm0-.2zm-.2 .1zm-.7-.6zm-.1-.3zm-.4 .1zm-.8 .8zm-.3-1.1zm-.1-.1zm0 .8zm-.3-.4zm-.1-.2zm-.9 1zm-.3-.8zm-.5 .8zm-.6-.7zm0 .5zm-.9-1.1zm-1.1 .2zm-.5-.1zm-1.3 1.2zm-.6-.4zm-.4-.9zm-.2 1zm-3-.5zm-.2-.2zm-.8 .2zm-.7-.2zm-1 1.1zm0-1.3zm-.2 .4zm-1 .7zm-.3-.7zm-.4 .9zm0-.9zm-1-.5zm-.2 .5zm-1 .3zm-.9-.1zm-.3-.7zm-.8 1.4zm-.2-.8zm-.4-.1zm-.2 .4zm-.5 .4zm-.2-.6zm-1.2 0zm-.8 .5zm-2.2-.6zm-.9 .8zm-.1 0zm-1.1-.8zm-.2 .5zm-1-.6zm-.7-.1zm-1.6-.4zm-2.3 .6zm-1.4 1.8zm1 .1zm1 .1zm2-.9zm1.3 .9zm0 0zm.6 0zm1.5 .3zm.6-.2zm.8-.7zm1.1-.2zm1.9 .6zm.1-.6zm.1 .4zm2-.1zm0 .1zm.6-.3zm.3-.4zm1.7 0zm.2 .8zm0 .5zm.3-.3zm.3-.9zm2 1.2zm.9 0zm.1-.1zm.6-.9zm.6 .2zm0 .3zm.1-.7zm1.4 0zm.4 .4zm.7 .2zm1.5-.6zm.8 .2zm1.7 .4zm2.3-.2zm1.3 .8zm.6-1.1zm.2 0zm.6 1zm.5 .2zm.1-.6zm.5-.8zm.4 0zm0 .1zm.5 .4zm0 .3zm.3-.1zm.9 .4zm.8-.3zm.2-.5zm.1 .2zm0-.3zm.4 .7zm.2-.7zm0 .6zm0-.2zm.4 0zm.1 .5zm0-.8zm.4 0zm.1 .6zm.1 .4zm.1-1.2zm.1 .7zm.2-.1zm0-.7zm.1 1.3zm.1-.6zm.3-.4zm.1-.1zm0 .5zm.2 .3zm.1-.7zm.3 .9zm.2 .2zm0-1.4zm.2 .4zm.1 .8zm.3-.7zm0 .8zm.4-1.1zm0 .3zm.4-.1zm.3-.3zm.1 .8zm0-.7zm0 .5zm.2-.3zm0 .7zm.1-1zm.8 .9zm0 .4zm.1-.7zm.6-.1zm.1 .8zm.2-.5zm.2-.7zm.2 1.2zm0-.9zm.3 0zm.1-.2zm.1-.1zm.2 .6zm.3 .3zm.3-.5zm.7 0zm.1-.3zm.6 .1zm.1 .7zm.2-.4zm.4-.3zm.3-.2zm.5 1.1zm.7-.7zm0 .8zm.9-1.1zm.7 .5zm0 .4zm1-1.1zm1.2 .6zm.2 2zm-1.4-.6zm-2.4 .2zm-1.7 .3zm-.5 .1zm-.8-.9zm-.6 .7zm-.5-.7zm-1 .2zm0-.1zm-.1 .4zm-.2 .3zm-.1-.3zm-.3-.1zm-.6-.4zm-.1 1.1zm-.9-.1zm-.5 .1zm-.1-.8zm-.1 .2zm0-.8zm-.1 1.4zm0-.8zm-.1 .5zm-.5-1zm-.1 .5zm-.3 .8zm-.1-1.1zm-.2 .2zm-.4 .5zm-.2-.5zm-.2 .4zm-.1 0zm0-.6zm-.2-.2zm-.3 1.2zm-.2-.4zm-.2-.8zm0 .6zm-.1-.7zm-.3 .1zm-.1 .8zm-.2 .2zm0 0zm-.1-.2zm-.1 .1zm0-.6zm-.1-.2zm-.5 .3zm-.2 .5zm-.4-.9zm0 .4zm-.6 .7zm-.3-.7zm-.2 0zm-.6-.4zm0 .7zm-1.7 .5zm-.7-.4zm-.1-.1zm-.5 .1zm-.9 .1zm-2.6-.9zm-1.1 0zm-.7 .4zm-2.2 .9zm-.6-.9zm-.3 .8zm-1.5-.1zm-.3 .1zm-.4-.1zm-1.7-.4zm-1.2-.6zm-.2 .4zm-.7 .3zm-.6-.5zm-.4-.3zm-1.9 .5zm-.3 .8zm-.7-.3zm-.1-.2zm-1.5-.6zm-3.1-.3zm-.3 .7zm-.1 0zm-.1 .4zm-1-.4zm-3.2-.7zm0 .2zm-.7 .6zm-4.7 1.2zm5.8 .1zm.7 .5zm.1-.2zm.9-.3zm1.2-.1zm.2 0zm.1 .6zm1.5-1.1zm.9 .8zm0-.6zm2.1 .6zm.7-.6zm.6 1.2zm1.8-1zm2.1-.3zm.1 .6zm0 0zm.2-.4zm1.5-.2zm1.3 .5zm1.2-.5zm.7 .8zm.6-.8zm.6 .1zm1.8 1.1zm.2-.9zm.1 .5zm3.2-.6zm.8 .1zm2 0zm1.3 .2zm.4 0zm.3-.2zm.5 .2zm1.2 .8zm1.7-1zm.1 0zm.5 .7zm.8-.7zm.5-.3zm.5 .7zm.5-.8zm0 0zm.7 0zm.4 .1zm0 .9zm.2-.4zm.5 .6zm.3-1zm.2 .2zm.9 .8zm.2-1zm.3 1zm0 .1zm.2-.4zm.3 0zm.1-.2zm.4-.1zm1 .3zm.9 .3zm.5-.7zm.3 .1zm.9-.6zm.5 .4zm4-.1zm-3.1 1.7zm-1.4 .3zm-.4 .6zm-1.6-1.2zm-.5 .3zm-.2-.2zm0 .8zm-.4-.9zm-1 .3zm-1.2 .6zm-1.3-1zm-.8 .1zm-1.5 .6zm-.1-.4zm-.1 0zm-.1 1zm-.1-1.1zm-1.1 .7zm-1 .3zm-.5-.8zm-1.1 .2zm-3.6-.5zm-.9 .5zm-.6 .7zm-1.7-.6zm-2.7-.1zm-.3-.7zm-1.5 1.4zm0-.5zm-2.5-.6zm-.6-.2zm-1.7 .9zm-1.4 0zm-4.1-.7zm-1.1 .7zm-2.3-.3zm-.3-.2zm0-.5zm-.9 1.4zm-1.7-.5zm-1-.7zm-.5 1.2zm-4.4-.6zm-.3 .4zm-.4 0zm6.8 1.3zm1-.2zm3.9-.6zm0 .1zm.1-.2zm.4 0zm.5 1.3zm.3-.6zm1.8 .4zm.6 0zm.9-.5zm.1-.5zm0 .1zm.6 .5zm2.9 .1zm3.8-.7zm1.4 0zm.4-.1zm.6 .7zm3.4-.6zm1.1 .5zm.1 0zm.9-.4zm.5 .8zm.1-.5zm.6-.5zm.3 1.1zm2.3-1.2zm.2 .6zm.3 .1zm1.2-.1zm1 .5zm.1-.9zm1 .2zm.9 .7zm.3-.3zm1.6-.6zm2.3 .7zm.7-.5zm.1 .2zm5.4 2zm-2.4-.2zm-1.3-.3zm-.3 .1zm-3.3-.6zm-.4 .6zm-.5-.2zm-1 .6zm-.1-1.1zm-1.2 1.2zm-.2-.1zm-.1-.6zm-1.7 .4zm-1.2-.6zm-7.2-.3zm-.5 1.3zm-2.5-.6zm-.4 .1zm-3.3 0zm-1-.8zm-3.9 .2zm-1.3 .8zm-.5 .2zm-3-.7zm-2.2-.2zm-6.7 .3zm-3.7 .2zm-.5 1.9zm7.5-.9zm6.1 1.1zm1.5-.7zm2.6 .6zm6.1-.9zm.6-.2zm1.4 .2zm2.5 .8zm.6-.7zm1.8 .4zm.4-.8zm6-.1zm.6 0zm2 1.2zm.1 .1zm.1-.2zm.6 0zm1.7-.3zm.5 .3zm.3-.1zm2.2-.9zm1.2 1.3zm12.8 1.1zm-13.4-.3zm-2-.4zm-.7 .6zm-1.3 .2zm-3.2 0zm-.2-.2zm-1.1-.5zm-.5 .1zm-5.2-.2zm-.4 .5zm-5.3-.8zm-2.9 .1zm-.4 1zm-.6-1.1zm-.7 1.3zm-4.5-.8zm-1.2 .3zm-.9-.5zm-.2 .7zm-1.9-.5zm-3.1 .8zm-1.3-.1zm-1.5 .1zm4 1zm2.2-.8zm2.5 1zm3.3 0zm.4-.1zm1 0zm2.1-.4zm2.2-.2zm2.9 .8zm1.8-.7zm5.8-.4zm3.2 .4zm5.2 .6zm5.8-.6zm5.9 .2zm-3.5 1.6zm-.7 .6zm-1.5-1.3zm-1.1 1zm-6.1-.9zm-4.4 1.1zm-.6-.3zm-3.9-.1zm-13.6 0zm-2.4-.1zm-16.4 0zm16.1 .8zm2.2 0zm5.6 .5zm6.4 .9zm.3-1.4zm.2 .3zm1.5-.1zm.2 .1zm.2 .9zm4.2-.7zm2.5 .4zm5.5-.3zm-.7 1.9zm-.4 .2zm-2.5 0zm-8.7-.5zm-1.3 .3zm0-.6zm-1.3-.2zm-1.8 .5zm-1.3-.1zm-5.5-.3zm0 0zm-13.2-.3zm-9.5 2zm16.2 .1zm.8-.3zm2.7 .1zm13.2 .3zm.3 .3zm4.3 .4zm1.8-.1zm19.5-.2zm2.1 0zm-6.5 .4zm-6.4 .9zm-.9-.9zm-5.8 .4zm-1.1-.3zm-7.1 1.3zm-2.2-.1zm-4.8-1zm-.6 .6zm-24.4 .1zm5.1 1.6zm1.6-.2zm4.8 .5zm4.8-.9zm2.5 .3zm2 0zm3.7 .6zm2.4 0zm6.1-.6zm0 .6zm.4-.9zm4.7 .5zm.9 0zm5.7 1.2zm-3.5 .7zm-1.6-1.2zm-.6 .9zm-.7-.6zm-.9 .6zm-.3 .1zm-1.4-.4zm-.6 .6zm-1.5-1.2zm-.9 .9zm-.3-.1zm-.1 .3zm-1.3-.9zm-.8 .4zm-.2-.7zm-1.7 .9zm-.9 .2zm-.9-.1zm-.3-.2zm-2.4-.9zm-.4 1.3zm-.8-.9zm-2.4 .1zm-5.3 .5zm-1-.4zm-1.1 .6zm-3 .2zm-.7-.6zm-2-.4zm-2 .3zm-6.1 2.2zm2.8-.1zm.4 .1zm3.6-1.3zm.3 .5zm.7 .6zm.1-.5zm.1 .7zm2-.3zm.4-.2zm.2 .3zm.7-.7zm.2 .8zm.3-1zm2 .8zm0-.3zm1.2 .3zm2.8 .1zm.5-.3zm.4-.3zm.2-.4zm.5 .5zm2.4 .3zm2.2 .2zm2-.2zm.2-.6zm.4 0zm.1 .5zm1.1-.5zm1.4 .6zm.1 .2zm1.5 0zm.9 .1zm.1 .1zm.3-1zm1.7 .9zm.2-.7zm0 .3zm.1 .4zm.1-.3zm0 .2zm.2-.3zm.1 .3zm.2 0zm.2-.1zm1.1-1.1zm0 0zm.1 1.2zm.1 .2zm.2-1.3zm.4 1.1zm.2-.2zm1.1-.4zm.2 .3zm.3 0zm1-.2zm.1 .7zm1-.4zm.3 .1zm0 .2zm.4-1.2zm.3 .7zm.3-.6zm.2 .7zm.6-.4zm1.4 .9zm.3-.5zm1.2 .3zm.3-1zm.5 .6zm1.5-.6zm1.2 .8zm.6-.6zm0 1.3zm-2.4 .2zm-.1 .4zm-2.4 .5zm-.3-1.1zm-.1 .4zm0 .6zm-.3-.5zm-.6 .6zm-.4-1.1zm-.5 0zm-.1 1.1zm-.1-.4zm-.4-.1zm-.6-.3zm0-.3zm-1-.1zm0 .8zm0 .4zm-.5-1.2zm-.2 1zm-1-.1zm-.3 .2zm-.2 0zm-.1-1zm-.1 .5zm-.4 .2zm-.1-.1zm-.2-.6zm-.1 .4zm0 .6zm-.1-.7zm-.1 .6zm-.2-.1zm-.4-.2zm-.5 .1zm0 .1zm-.2-.2zm-.5 0zm-.4-.7zm-.5 0zm-.2 .4zm-.3 .5zm-.1 0zm-.1 .2zm-.7-1zm-.2 .7zm-.3-.1zm-.2-.8zm-.1 .4zm-.2 .9zm-.3-1.3zm-.4 1.2zm-.5-.5zm-.2 .2zm-.1 .4zm-.1-.4zm-.1-.5zm-.2-.3zm0 1.1zm0-1.1zm-.7 .3zm-.5 0zm-.7 .6zm-2.4-.7zm-.8 1zm-.8-.5zm-1.8-.5zm-1 .7zm-.3-.6zm-2.8 .9zm-.2-.6zm-.9 .4zm-.2 0zm-.4-1.1zm-.1 1.2zm-2-.8zm-.5-.3zm-1.1 .6zm-.1-.1zm-.2 .6zm-.1-.2zm-.2-.8zm-.4 1.2zm-.1-.8zm-.8 .8zm0-1.1zm-.8 .6zm-.2 .2zm0-.4zm-.4 .4zm-.2 .3zm-.3-1.3zm-.9 1.2zm-.7-.5zm-.2 .3zm-.1-.9zm-.1 .2zm-.2-.1zm-.2 .6zm-.6 .4zm-.1 0zm-.1-.7zm-1.1 .1zm-1.2 0zm-.6 .1zm-1.6-.5zm-1.2 .3zm-1.2 .3zm1.4 2zm.1-1.4zm1.1 .2zm.2 .7zm1.3-.3zm0-.2zm1.6 .9zm.2-.4zm.3-.8zm.2 0zm.2 .2zm0 .2zm0 .5zm.1-.8zm.7 .2zm.1 0zm0 .4zm.9-.2zm.8 .6zm.1-1zm0 .3zm.2 .8zm.5-1.3zm.2 1.2zm.7-1.1zm.2 .8zm.2 0zm1 .3zm.2-.6zm0 .2zm.1 .3zm.2 .3zm.2 0zm.5-1.4zm.1 1.3zm.3-.2zm.4 .2zm.5 0zm0-.1zm.1-.3zm.7 .2zm.3-.9zm.1 0zm.3-.2zm.3 1.1zm.2-.7zm.7 .6zm.1 0zm.5 .4zm.1-1.2zm.2 .6zm.3 .2zm.7-.5zm.7 .1zm.5-.4zm2.5 .8zm0-.6zm.1-.4zm.8 .1zm.6-.1zm1.1 .5zm.3 .9zm.8-.2zm0-.4zm.1-.6zm.3 .1zm.2 .8zm.4-.6zm.5 .8zm.3-.4zm.6-.9zm.9 .6zm.3 .5zm.2-.6zm.1 .8zm.1-.2zm.2 .1zm.4-1.2zm.4 .7zm.2-.1zm.1 0zm.2-.1zm.3 .7zm.3 .2zm.4-.5zm.3-.8zm.1 .3zm.6 .1zm0 .7zm.1-.3zm0-.8zm.2 1.2zm0 .1zm.1-.6zm.1 .6zm0-.3zm.2 .2zm0-.7zm0 .8zm.2-.6zm.4 0zm.3 .1zm.3-.8zm0 .1zm.2 .8zm.1-.8zm.1 .3zm0 .4zm.1 .5zm.3-.3zm0-.8zm0 1zm.1-.2zm.1-.7zm.2 .1zm.1-.2zm0 .9zm.1-1zm.3 1.2zm.1-1zm.3 .5zm.3-.5zm.1 .9zm0-.8zm.4 .3zm.2 .5zm0-.8zm.2-.1zm.2 .8zm.3 .2zm0-.1zm.1-.4zm.4-.4zm.5-.4zm.1 .6zm.1-.7zm.2 1.1zm.3-.9zm.8 .9zm.1-.5zm1.2-.6zm1.1 .8zm.4-.8zm.1 .9zm.5-.7zm.1 .6zm.2-.7zm.1 .6zm.1 .5zm4.6-.9zm-1.8 1.6zm-.5 .8zm-1.1-.3zm-.2-.8zm-1.2-.1zm-.6 1.4zm-.6-.7zm-.4-.4zm-.3 0zm-.1-.2zm-.2 .9zm-.2-.7zm-.7 1.1zm-.1-.1zm-.8 .1zm-.4-.7zm-.1 .2zm-.2-.5zm-.3-.3zm-.6 1.2zm-.5-.4zm-.1-.8zm-.1 1.3zm-.3-.8zm-.5-.6zm-.1 .8zm-.1-.4zm-.2 .5zm-.1-.8zm-.1 .2zm-.4-.2zm-.1 .1zm-.1 .5zm0 .4zm-.1-.3zm-.1-.8zm0 0zm-.1 .7zm-.1 .1zm0-.3zm-.5-.5zm-.2 .1zm-.2 .5zm-.1 .2zm-.2 .6zm-.4-1.4zm0 .3zm-.2 .6zm0-.4zm-.2 .1zm-.1 .2zm0-.5zm-.3 0zm-.2 1.1zm0-1.3zm-.4 .7zm-.6 .1zm0-.1zm0-.7zm-.1 .4zm-.1-.2zm0 0zm0 .7zm-.1-.9zm-.1 .4zm-.1 .9zm-.2-.8zm-.1-.4zm-.1 .8zm-.2 .1zm0 0zm-.6-1.1zm-.1 0zm-.1 1.4zm-.1-.5zm-.9-.3zm-.3 0zm-.2 .1zm-.1 .2zm-.5 .4zm0-.6zm-.9-.3zm-.2 .5zm-.4-.4zm-.7 0zm-.7-.3zm-.1 .8zm-.6-.2zm-.8 .3zm0-1.1zm-.8 .9zm-.5-.1zm-.9-.5zm-.3 .6zm-1.4-.2zm-.3 .7zm-.3-1.4zm-.3 1.2zm-1.9-.4zm-.4-.5zm-.1 .8zm-.3-.5zm-.3-.1zm-.9 .7zm-.6-.5zm-.1-.2zm-.3-.1zm-.1 .1zm-.2 .8zm-.7-.3zm-.6 .3zm-.1-1.3zm-.3 .5zm0-.3zm-.1 .8zm-.3-.8zm-.8 .1zm-.2 .6zm-.3 .1zm-.1-1zm-.3 0zm0 .2zm-.4 .2zm-.1 .9zm0 0zm-.1-1.2zm-.5 .3zm-.2-.1zm-.2-.1zm-.3 .2zm-.1 .5zm-.2 .2zm-.3-.3zm-.1-.2zm0-.2zm-1.3 .2zm-.7 .8zm-.5 0zm-.1-1.2zm-.4 1zm-.4-1.2zm-.3 .6zm0 .1zm-.2 .1zm-.7-.1zm-.7-.2zm-.4 .8zm-.7-.5zm-2.7 .5zm-.4-.7zm-.3 1.3zm2 .7zm2.1 .1zm1.2-.8zm.5-.4zm.1 .4zm.5 .5zm.6-.2zm0-.7zm.1 .3zm.8 1zm.1-.6zm.3-.4zm.1 .6zm.4-.5zm.2 1zm.4-1.1zm.2-.1zm1 .2zm.3 0zm.9-.4zm1 1.3zm.6-.6zm.1 .4zm1.4-.4zm.1-.7zm.8 .3zm.1 1.1zm.1-.3zm.1-1.1zm.3 1.4zm.2-1.1zm.1 .6zm.3-.4zm0-.2zm.3 .8zm.2-.2zm.1-.1zm.2 .3zm.3-1.1zm1 .7zm.4 .5zm.6 .1zm.1-.1zm0-.4zm.1 .4zm.1-.2zm.5-.5zm.6 .1zm.1 .4zm.8 .2zm.3-.6zm1 .5zm.3-.8zm.5-.3zm.5 0zm.6 .1zm3.4-.1zm.7 .7zm1.3-.5zm.1-.1zm.5 .2zm.6 .7zm.1-.5zm.5 .2zm.1-.3zm.3 .6zm.4-.4zm.2 .3zm0-.5zm.1 .2zm0 .8zm.3-.9zm0 0zm.2 0zm.1-.4zm.2 .2zm.4 .2zm.2 .3zm.6-.7zm.3 .1zm0 .5zm.7-.7zm.2 .2zm0 1.2zm.6-.3zm.1-.1zm.8 .4zm.1-1zm.1-.3zm0 .8zm.1-.3zm.9 .4zm0-.4zm0-.1zm1 .3zm.4-.3zm.3 .7zm.1-.1zm.6-.8zm.1 .9zm.1-.2zm.3-.4zm0 .1zm1.3 .7zm1.8-.5zm.1-.9zm.6 1.2zm3-.7zm1.2 .3zm.2-.7zm-4.4 2.8zm-1.4-1.4zm-.2 .7zm-.8-.7zm-.5 0zm-.2 .7zm-.4-.6zm-.1 .7zm-.4 .3zm-.4-.2zm-.4 .3zm-.3-.8zm-.1 0zm-.5-.4zm-.7 .9zm-.1-.8zm-.4 .5zm-.5-.1zm-.4-.3zm0 .3zm-.4 .7zm-.4-.8zm-.2 .7zm-.2 0zm-.2-1zm-1.1-.1zm-.1 .2zm-.3 .4zm-.2-.6zm-.2 .1zm-.2 .5zm-.1 .4zm-.2-.7zm-.7 .9zm-.1-1zm-1.5-.2zm-.2 .5zm-.8 .7zm-.4-1.1zm-.7 1.2zm-.4-.1zm-.8 .1zm-4.2-.3zm-2.2-.8zm-.2 .1zm-2.3-.2zm-2.3 1.1zm-4.3 .1zm-.1-.5zm-.6 .3zm-.4-.5zm-.3-.6zm-.1 1.2zm-.8-.6zm-.2 .4zm-.2-.1zm-.4-.7zm-.7 1.1zm-.8-1.3zm-.2 .4zm-.7 .1zm-.5-.4zm-.7 .3zm-4.4 .2zm-.9-.6zm6.2 1.7zm2.8-.2zm.4 .4zm1.2 .8zm.1 0zm.3-.9zm.2 .2zm2.5 .1zm.5-.1zm1-.1zm1.5 0zm.2 .3zm2 0zm.3-.4zm2 .2zm7.3-.3zm3.1-.2zm1.5 .2zm.3 .1zm1.7 .5zm.1 .5zm.4-1.1zm.1 .9zm.4-1zm1.2 .9zm1.2-.6zm.3-.3zm.5 .3zm3.1-.3zm.5 0zm.9 1.3zm1.5-.2zm-8.5 .6zm-2-.3zm-.8 .1zm-1.3 .2zm-10.9 .8zm-5.1-.7zm-5.3-.2zm-12.8 .6zm24.3 2.1zm7.3-1.4z" stroke="#000" stroke-opacity="0.6" stroke-width="0.8" stroke-linecap="square" fill="none" filter="url(#bl)"/>
<line x1="257.50" y1="223.20" x2="257.50" y2="287.40" stroke="#777" stroke-width="0.8"/>
<line x1="231.60" y1="266.50" x2="296.80" y2="266.50" stroke="#777" stroke-width="0.8"/>
<rect x="231.50" y="223.50" width="65.00" height="64.00" fill="none" stroke="#333" stroke-width="0.9"/>
<line x1="232.50" y1="223.20" x2="232.50" y2="287.40" stroke="#999" stroke-width="1.4"/>
<text x="233.20" y="227.60" font-size="4.0" font-weight="bold" fill="#333">10.6%</text>
<text x="233.20" y="285.80" font-size="4.0" font-weight="bold" fill="#333">13.4%</text>
<text x="295.60" y="285.80" font-size="4.0" font-weight="bold" fill="#333" text-anchor="end">20.7%</text>
<text x="295.90" y="231.00" font-size="7.37" font-weight="bold" fill="#000" text-anchor="end" textLength="13.00" lengthAdjust="spacingAndGlyphs" stroke="#000" stroke-width="0.3">55.3</text>
<text x="239.42" y="293.00" font-size="3.0" font-weight="bold" fill="#666" text-anchor="middle">0</text>
<text x="249.20" y="293.00" font-size="3.0" font-weight="bold" fill="#666" text-anchor="middle">10²</text>
<text x="264.20" y="293.00" font-size="3.0" font-weight="bold" fill="#666" text-anchor="middle">10³</text>
<text x="279.85" y="293.00" font-size="3.0" font-weight="bold" fill="#666" text-anchor="middle">10⁴</text>
<text x="293.54" y="293.00" font-size="3.0" font-weight="bold" fill="#666" text-anchor="middle">10⁵</text>
<line x1="239.42" y1="287.90" x2="239.42" y2="289.20" stroke="#666" stroke-width="0.35"/>
<line x1="244.64" y1="287.90" x2="244.64" y2="289.20" stroke="#666" stroke-width="0.35"/>
<line x1="249.20" y1="287.90" x2="249.20" y2="289.20" stroke="#666" stroke-width="0.35"/>
<line x1="258.98" y1="287.90" x2="258.98" y2="289.20" stroke="#666" stroke-width="0.35"/>
<line x1="262.24" y1="287.90" x2="262.24" y2="289.20" stroke="#666" stroke-width="0.35"/>
<line x1="264.20" y1="287.90" x2="264.20" y2="289.20" stroke="#666" stroke-width="0.35"/>
<line x1="274.63" y1="287.90" x2="274.63" y2="289.20" stroke="#666" stroke-width="0.35"/>
<line x1="277.89" y1="287.90" x2="277.89" y2="289.20" stroke="#666" stroke-width="0.35"/>
<line x1="279.85" y1="287.90" x2="279.85" y2="289.20" stroke="#666" stroke-width="0.35"/>
<line x1="289.63" y1="287.90" x2="289.63" y2="289.20" stroke="#666" stroke-width="0.35"/>
<line x1="292.24" y1="287.90" x2="292.24" y2="289.20" stroke="#666" stroke-width="0.35"/>
<line x1="293.54" y1="287.90" x2="293.54" y2="289.20" stroke="#666" stroke-width="0.35"/>
<line x1="21.60" y1="297.00" x2="21.60" y2="274.20" stroke="#000" stroke-width="0.8"/>
<line x1="21.20" y1="296.60" x2="44.80" y2="296.60" stroke="#000" stroke-width="0.8"/>
<path d="M19.0 276.4L21.6 273.2L24.2 276.4" fill="none" stroke="#000" stroke-width="0.8"/>
<path d="M42.6 294.0L45.8 296.6L42.6 299.2" fill="none" stroke="#000" stroke-width="0.8"/>
<text x="19.80" y="293.20" font-size="5.94" font-weight="bold" fill="#000" textLength="10.60" lengthAdjust="spacingAndGlyphs" stroke="#000" stroke-width="0.3" transform="rotate(-90 19.80 293.20)">GFP</text>
<text x="24.20" y="304.20" font-size="5.94" font-weight="bold" fill="#000" textLength="14.60" lengthAdjust="spacingAndGlyphs" stroke="#000" stroke-width="0.3">CD69</text>
<text x="58.40" y="321.00" font-size="8.36" font-weight="bold" fill="#000" textLength="13.80" lengthAdjust="spacingAndGlyphs" stroke="#000" stroke-width="0.3">GFP</text>
<text x="110.50" y="321.00" font-size="8.36" font-weight="bold" fill="#000" textLength="44.00" lengthAdjust="spacingAndGlyphs" stroke="#000" stroke-width="0.3">MOV19-28Z</text>
<text x="186.20" y="321.00" font-size="8.36" font-weight="bold" fill="#000" textLength="27.60" lengthAdjust="spacingAndGlyphs" stroke="#000" stroke-width="0.3">m909-Z</text>
<text x="245.00" y="321.00" font-size="8.36" font-weight="bold" fill="#000" textLength="37.60" lengthAdjust="spacingAndGlyphs" stroke="#000" stroke-width="0.3">m909-28Z</text>
<text x="5.00" y="364.00" font-size="9.02" font-weight="bold" fill="#000" textLength="14.00" lengthAdjust="spacingAndGlyphs" stroke="#000" stroke-width="0.3">C30</text>
<text x="5.00" y="432.00" font-size="9.02" font-weight="bold" fill="#000" textLength="15.60" lengthAdjust="spacingAndGlyphs" stroke="#000" stroke-width="0.3">C30-</text>
<text x="5.00" y="443.60" font-size="9.02" font-weight="bold" fill="#000" textLength="14.00" lengthAdjust="spacingAndGlyphs" stroke="#000" stroke-width="0.3">FRβ</text>
<text x="32.00" y="335.18" font-size="3.0" font-weight="bold" fill="#666" text-anchor="end">10⁵</text>
<text x="32.00" y="349.22" font-size="3.0" font-weight="bold" fill="#666" text-anchor="end">10⁴</text>
<text x="32.00" y="364.53" font-size="3.0" font-weight="bold" fill="#666" text-anchor="end">10³</text>
<text x="32.00" y="379.84" font-size="3.0" font-weight="bold" fill="#666" text-anchor="end">10²</text>
<text x="32.00" y="387.50" font-size="3.0" font-weight="bold" fill="#666" text-anchor="end">0</text>
<ellipse cx="64.0" cy="340.4" rx="12.5" ry="14.6" fill="url(#bg)" opacity="0.55" clip-path="url(#c8)"/>
<ellipse cx="55.4" cy="342.6" rx="26.0" ry="18.2" fill="url(#bg)" opacity="0.22" clip-path="url(#c8)"/>
<ellipse cx="62.4" cy="378.1" rx="11.4" ry="9.9" fill="url(#bg)" opacity="0.12" clip-path="url(#c8)"/>
<ellipse cx="52.4" cy="377.1" rx="23.4" ry="11.7" fill="url(#bg)" opacity="0.06" clip-path="url(#c8)"/>
<path d="M68.4 328.9zm-.2 .1zm-1.9 .1zm-.2 .7zm-.6 0zm-1-1.2zm-2.2 .7zm-.5-.3zm-.7 .9zm-.3-.8zm-1.6-.3zm-4.2 1.1zm-.1-.6zm-.8 .3zm-3.2-1zm-2.3 .8zm-.1 .1zm-1.7-.4zm-6.2 2zm4.4-.1zm.9-.9zm.1 0zm.3 .9zm2.1 .1zm.8-.2zm0-.9zm.5 1.4zm.7-1.2zm.9 .8zm1.5-.5zm2.3 .4zm.3 .3zm.5-.6zm.1-.1zm.5 .5zm.4-1zm.2 .4zm2.5 0zm0 .5zm.3 .1zm.5-.4zm.9 .3zm.1 .3zm.7-.4zm.7 0zm.5-.1zm.6-.3zm.3 .6zm.8-.9zm3.2 1.2zm.7 .1zm1.6-.7zm1.6-.4zm.1-.2zm0 1.3zm1.3-1.2zm2.3 2.5zm-1.4-.5zm-1.3 .1zm-2.9-.2zm-1.1-.6zm-.2 1.1zm-.6 .3zm-.7-.6zm-.1 .2zm0 .1zm-.5-.1zm0-.2zm-.3 .1zm-.2 .3zm-1.3-.8zm-.1 .4zm-.3 .5zm-.2-.5zm-.5-.4zm-.3-.1zm-.2 .6zm0-.6zm-.2 .8zm-.1 .1zm-.6 0zm-.4 .1zm0-.4zm0 .2zm-.1 .1zm-.1-1.1zm-.1 .4zm-.2 .2zm-.1-.4zm0 0zm-.3-.1zm-.7 .8zm-.6 .1zm-2.3 0zm-.1-.3zm0-.4zm-1.6-.2zm-1.6 1.2zm-.6-1.1zm-1.7 .3zm-2.9-.2zm-3 .2zm-.4 .5zm4.4 1.6zm.4-.6zm0 .6zm.5 .1zm4.4-.7zm.4 .2zm.1-.3zm.2 0zm.1 .7zm.1-1zm.1-.2zm1.8 .3zm0 .7zm.5-1zm.5 .2zm.2 .2zm0 .5zm.1-.5zm.2 .3zm.1 .2zm.2 0zm0 0zm.1 0zm0 .4zm.2-.7zm.1-.2zm0-.2zm.3 .3zm.9-.5zm0 .4zm.1 .1zm.8 .2zm.5-.7zm0 1.3zm.2-.5zm.2-.7zm.1 1zm.5-.7zm.6 .8zm0 .2zm0-.7zm.7 .4zm.1-1zm0 1.2zm.6 0zm.3-1zm.3 .3zm1.8 .3zm.2-.8zm.6 1.3zm0-.4zm.3-.5zm.7-.4zm.1 .1zm.5 .4zm.6-.2zm.3 .5zm2.6-.4zm.6-.5zm.5 2.6zm-2.7 .1zm-1.1 .2zm-.2-.7zm-1-.5zm-.7 .4zm0-.5zm-.1 .8zm-.1-.4zm-.4 .2zm-.5 .7zm-.3 0zm-1-1.2zm0 .4zm-.3-.4zm-.1 .2zm-.2-.3zm-.2 1.1zm-.1 0zm-.1-.1zm-.1 .3zm-.1-1.4zm-.2 1.1zm-.1-.8zm-.4 0zm-.2-.1zm-.4 1zm-.1-.9zm-.1 .5zm-.1-.7zm0 .8zm-.2-.6zm-.1 0zm-.3 0zm-.3 1zm-.3 .1zm-.1-1.1zm-.2 0zm-.2 .7zm-.2-.3zm-.3-.1zm0 .3zm-.1 .4zm0-.8zm-.5 .8zm-.1-.8zm-.3 .6zm-.8 0zm-.1-.8zm-.2 0zm-.1 .1zm-.2 1zm-.8-.4zm0 0zm-.5 .3zm-.3-.8zm-.2-.2zm-.4 .3zm-.6 .1zm0 .3zm0-.3zm-.2-.1zm-.7-.5zm-1 1.3zm-1-1.3zm0 1.1zm-.2-.3zm-.4 0zm0 .1zm-.3 .2zm-.2-.8zm-.9 .5zm-3.2 .4zm-2.7-.3zm-1.1-.2zm-1.1 .4zm-.2-.6zm-1.2 .8zm-.1-1.4zm-3.2 .3zm-.6-.2zm-1.8 .1zm-2.1 1.1zm6.2 .5zm1.8-.2zm.1 .2zm2.6 .2zm.9 .5zm.2 .2zm.3-.4zm.2-.3zm1.9-.2zm.8 .1zm3.1-.2zm.6 0zm.8 .8zm0-.4zm.1-.5zm1.1 .2zm.4 .9zm0-.9zm.2-.2zm.7 .9zm.3-.9zm.1 .2zm.2-.2zm.1 .8zm.1-.7zm.1 .5zm.2 .3zm.3-.2zm.7 .5zm.2-.4zm.1-.4zm.9 .2zm.2-.5zm.3 1.2zm.3-1.1zm.1 .8zm.6-.6zm.7 .5zm.1 .2zm.1-1.2zm.1 .3zm.3 .8zm0-.7zm.5 .6zm.1-.4zm0 0zm.4 .4zm0 .3zm.1 .1zm.1-.6zm0 .6zm0-.1zm.1-.1zm.2-1zm.3 .3zm0-.2zm.1 .9zm0-1zm.2 .9zm.1-.4zm.2 .4zm.2-1zm.1 1.3zm0-1.1zm.1 .2zm.1 .3zm.1 .4zm0-1.2zm0 0zm.3 1.1zm0-.4zm.4-.4zm.1 1zm.3 .1zm.1-.8zm.2 .2zm.1-.7zm.2 1.2zm.2 .1zm.4-.1zm.1 .1zm.8-1zm0 .7zm1.9 .3zm.2-.7zm0-.3zm.2 .5zm.4-.5zm7.7 2.3zm-3.6-.7zm-1 .9zm-2.4-.8zm-.1 0zm-.1 .8zm-.8-.1zm0-.2zm-.2-.9zm-.1 .1zm-.3 0zm-.1 .7zm-.2-.1zm-.1 .3zm-.6 .1zm-.9-.5zm0-.6zm0 .8zm-.1 0zm-.2-.4zm-.2-.3zm-1.1 .9zm-.2-1.2zm-.3 1.1zm0-.5zm-.2-.1zm-.3 .6zm-.1-.6zm-.2-.5zm-.4 .8zm-.1-.5zm-.1 .1zm-.1 .2zm-.2-.4zm0 .9zm-.2 .3zm-.1-1zm-.2-.3zm0 .9zm-.1 .1zm-.5-.4zm-.1-.4zm-.2 .7zm-.2-.1zm-.1-.2zm-.1 .3zm-.2-.9zm0 .5zm-.1 .5zm0-.8zm-.1 .2zm-.1-.5zm0 .2zm-.1 .7zm0-.8zm0-.1zm-.1 0zm-.3 1.3zm0-1.1zm-.1 1.2zm-.1 0zm-.2-1.1zm-.6 .1zm-.2-.3zm-.1-.1zm-.1 1.4zm-.1-.3zm-.2-.1zm-.3-.9zm0 1.1zm0-1zm-.3 1zm-.1-1zm-.2 1zm0-.6zm-.3 .4zm-.2-.4zm0-.6zm-.1 1.3zm-.1-.1zm-.1-1zm-.1-.2zm-.3 .1zm-.2 .1zm0 .2zm-.2-.2zm0 .7zm-.1-.3zm-.1-.5zm-.3 .3zm-.1 .9zm-.2-1.2zm-.2 1zm-.2-.6zm0 .5zm-.1 0zm-.8-.5zm-.3-.3zm0 1.2zm-.3-.3zm0 .1zm-.5-.5zm0 .4zm-.9 .3zm-1.1-1zm-.9 .5zm-.1-.3zm-.6 0zm-.1 .2zm-.1-.1zm-1.4 .1zm-.8-.2zm-.8 .8zm-.4-.6zm-1.3-.7zm-.7 .4zm-.6-.5zm-2.1 .8zm-.5-.3zm-.2 .7zm-1.3-.7zm-6 2.1zm3.2-1.1zm2 1.4zm.2-.6zm.1 .3zm.2-.3zm2 .2zm0-.3zm3.7-.1zm.1-.6zm1 1.3zm1.5-.6zm.1 .2zm.1 .5zm.1-.5zm.1 .1zm.3-.9zm.4 .2zm.1 .8zm0 .1zm.3-.8zm.9 .9zm1.2 .1zm.2-.7zm.2-.1zm.1-.1zm.8 .7zm.1 .1zm.2-1.1zm.1 .4zm0 .5zm.5-.9zm.2 .4zm.3 .7zm.1-1.2zm.5 .6zm0 .7zm.1-.2zm.4-.6zm0-.4zm.3 .1zm.1 .4zm.4 .2zm.3-.7zm0 1zm.1 0zm0-.5zm.2-.1zm.2-.2zm.1 .1zm.2 .4zm0 0zm.1 .4zm0-1.2zm.1 .9zm.1 0zm.1-.6zm.2-.1zm.1-.3zm.6 .9zm0 .1zm.1 .2zm.1-.3zm.1 .1zm.1 .1zm0-.3zm.1-.1zm.1-.3zm.1 .8zm.2-.6zm.1 .6zm.4-.9zm0 .3zm.3-.1zm0-.5zm0 1.2zm.1 .1zm.1-.4zm0-.1zm.2-.8zm.1 .8zm.1-.7zm.1 .2zm.1 1zm.1-1.3zm0 1zm0-.3zm.1-.4zm0 0zm.1 .4zm.2-.3zm.1 .9zm0-1.1zm.1 0zm.2 .6zm.4 .4zm0 .1zm0-.9zm.1-.3zm.1 .8zm.2-.7zm.2 .7zm.2-.2zm.1 .3zm.2-.3zm.1-.5zm.1 .2zm.2 .6zm0-.9zm.2 .1zm.1 .3zm.2 .6zm0-.9zm.1 .7zm0 0zm.1-.4zm0-.1zm.1-.2zm.1 .6zm.6-.8zm0 1.4zm.1-.4zm0-1zm.5 1.2zm.1-.5zm.2 .2zm0-.8zm.1 .7zm0-.7zm.7 1.2zm.3 0zm.5-.3zm.2 .1zm.4 0zm.1 .2zm.4 0zm.2-.7zm.7-.6zm.2 .8zm.1 .6zm.3-.4zm.5 0zm.5-.9zm.3 .5zm3.7 .1zm4.3 .2zm.9-.6zm-6.2 1.3zm-.9 .7zm-.5 .6zm-2.6-.1zm-.6 .1zm-.3-1zm-.2 .1zm-.7 .6zm-.1 0zm-.2 .1zm-.1-.2zm-.4-.2zm-.1-.6zm0 .7zm-.1 .5zm-.1-.6zm-.5-.7zm-.4 1.1zm-.1-.3zm-.3 .5zm-.1-.4zm-.3-.2zm-.2 0zm-.1 .2zm-.1 .2zm-.2-.6zm-.1 .3zm-.1-.7zm-.3 .6zm0 .3zm0 .3zm-.3-1.2zm-.2 .5zm0 .4zm-.1-.9zm-.3 .5zm-.2-.4zm-.2 .9zm-.1-.2zm-.1-.2zm0 .1zm-.1 0zm0-.2zm-.1 0zm-.1 .4zm-.6-.7zm-.3 .6zm0 .2zm-.2 0zm-.4-.9zm-.1 .1zm0 .9zm-.1 0zm-.2-.9zm0-.4zm-.2 .5zm-.1 .6zm-.5-.1zm0-.4zm-.1 .8zm0-.3zm0-.3zm-.4 0zm-.3 .2zm-.2-.7zm-.4 .4zm-.1 .6zm-.3-1.1zm-.1-.1zm-.3 .8zm-.1-.5zm-.1 .8zm0-1.2zm0 1zm0-.1zm-.1 .3zm-.1-.6zm0 0zm-.1 .4zm0 0zm-.3-.2zm-.1-.7zm-.2-.1zm0 .9zm-.1-.4zm0-.5zm0 1.3zm-.1-.8zm-.3 .7zm0-.6zm-.2-.2zm-.2 .9zm-.1-.5zm-.2 .5zm-.1-.4zm-.3-.5zm-.1-.1zm-.2 1zm-.2-.5zm-.3 .6zm-.3-1.4zm0 1.2zm-1-.2zm-2.1-.8zm0 0zm-.7 .1zm-.2 .7zm-1-.9zm-1.2 .5zm-.2 .5zm-.5 .3zm-.2-.9zm-.2 0zm-.1 .3zm-1.5 0zm-.9 .1zm-.3-.6zm0-.1zm-.3-.2zm-1.5 1zm-.3-.8zm-3.7 .2zm-1.1 .2zm-2.5 .2zm-.8-.5zm7 1.3zm.2 .7zm1.4-.3zm.6 .1zm.6-.5zm.6 .5zm.6 .5zm1.3-.9zm.3 .1zm.3-.1zm.1 1.2zm.1-.6zm.1-.6zm1-.2zm.4 .3zm.4 .9zm.2 .1zm.1 .1zm.1-.3zm.3 .2zm.8-.6zm.6-.5zm.2 .5zm.4-.6zm.1 .2zm.7 .7zm.7-.9zm.3 1.1zm.3-.7zm.2 .3zm.1-.1zm0-.4zm0 .9zm.1-.6zm0 .8zm0-1.2zm.7 .2zm.1 .6zm.1-.2zm.8 .1zm.4 .5zm.4-1.4zm.5 .6zm0 .6zm.3-.5zm.2 .5zm.4 .2zm.1-1.2zm0 .5zm.5 .2zm.1-.5zm.4-.2zm.1 .9zm0-1.1zm.2 .4zm.3 .7zm.2-.8zm.2 .4zm.1 .4zm.1-.5zm.2 .5zm0-1.1zm0 1.1zm.1 .3zm.1-.3zm.2-.3zm.1-.2zm0-.5zm.1 .1zm0-.2zm0 1.4zm.1 0zm.1-1.3zm0 .9zm.3-.3zm0-.1zm.1-.4zm.4 .4zm.1 .7zm.1-.4zm.1-.6zm.3 1.1zm0-.9zm0 .3zm0 .3zm.1-.4zm.1-.3zm.1 .2zm0 .5zm.1-.7zm0-.2zm.1 1.1zm.1-.6zm.4 .4zm0-.3zm.3 .2zm.2-1zm0 .7zm.3-.3zm.1 .5zm.2 .1zm.3-.8zm.4 .4zm.2-.6zm0 1.2zm0-.9zm0 .8zm.1 0zm1.1-1.1zm.7 1.1zm.1-.5zm.1 .4zm.6-.1zm.1-.7zm.7 .8zm.3 0zm.4-.7zm.4 0zm0 .2zm.1 .6zm.1 .3zm.8-.9zm2.3-.4zm.4 .9zm.2 0zm1.4-.4zm.3 .4zm2.9 .7zm-5.4-.2zm-.9 .9zm-.6-.6zm-.9 .8zm-.3-.3zm-.3-.8zm-.7 1.4zm-.4-.4zm-.3-.5zm-.1 .5zm-.1 .3zm-.1 .1zm-.5-.4zm-.2-.5zm0-.1zm-.1 1zm-.1-.5zm-.7 .4zm0-.4zm-.4-.7zm-.3 1.1zm-.2-.6zm-.1 .6zm0-1.1zm-.6 1zm-.1-.7zm-.2 .6zm-.1-.9zm-.5 .3zm-.4 0zm-.1 .9zm0 0zm-.4-1.2zm-.4 .3zm-.3 .6zm-.1-.2zm0 .3zm-.3-1.1zm-.1 .9zm-.3 .1zm0 0zm-.1-.7zm0 .6zm-.3-.7zm0-.1zm-.2-.1zm-.1 .1zm-.6 .8zm-.2-.2zm-.4 0zm-.1-.5zm-.2 .6zm-.1-.7zm-.2 0zm0 .7zm-.1-.1zm0-.1zm-.1 .2zm-.2-.9zm-.2 .1zm-.1 .3zm-.2-.3zm-.3 .5zm-.1 .7zm-.1 0zm-.2-1zm-.1 .2zm0 .2zm-.5-.7zm-.2 1zm-.1 0zm-.5 0zm-.6 .1zm-.3-.6zm-1-.5zm-.5 .7zm-.2-.6zm-.4 .8zm-.3 .5zm-.3-.7zm-.7-.2zm-.3-.2zm-.4 .8zm-.3-1.1zm-.1 .9zm0 .4zm-.3-.2zm-.1-1.1zm-1.9 1.2zm-.4-.1zm-1.5-.1zm0-.8zm-.2 .4zm-1.3 .8zm-.4-.1zm-2-.1zm-.1 .1zm-.9-.1zm-1.5-.5zm-.3 0zm-1 .7zm-.8-.9zm-.1 .2zm-.2-.5zm-2.4 .6zm-.4 .3zm-1.4-.5zm1 1.6zm.5-.1zm2.1 .8zm1.3-.9zm.1 .7zm1.2-.1zm2.4 .1zm1.5-.8zm1.2 .2zm.3 .8zm.1 0zm1.8-.6zm.4 .1zm0-.7zm.2 .7zm.5-.3zm1.1-.2zm.5 .3zm.7 .1zm.1 .6zm.3-.9zm.5-.2zm0 .6zm.2-.2zm.4 .1zm.5 .6zm.1-.9zm.1-.2zm.5 .2zm0-.2zm.2 1.1zm1.2-.1zm.3 .1zm.1-.2zm.3-.6zm.4-.5zm0 1.1zm1-.6zm.2 .4zm.2 0zm.1-.2zm.2 .3zm.6-.7zm.2-.4zm.7 .3zm.4 .6zm.1 .2zm.1-.3zm.1-.2zm.1 .8zm0-.8zm.2 .6zm.1-1zm.2 .4zm0 .6zm.4 .2zm.1-.4zm.6-1zm.1 .3zm0 .1zm.1 .1zm.3 .9zm.1-.8zm.2 .1zm.3-.4zm.1 .4zm0 .1zm0-.6zm.6 1.2zm0-.8zm.3-.1zm.1 .2zm.2-.1zm.4 .5zm.1-.6zm.2 .3zm0 .6zm.5-1.1zm0 1zm.6-.5zm.1 .4zm.1 .2zm0-1.2zm.1-.1zm0 .7zm0 0zm.4 .4zm.3-.7zm.8 .3zm.1-.2zm0 .2zm.2-.1zm.1-.6zm.5 1.2zm.2 .1zm.5-.9zm.6-.5zm2 1zm1.5-.7zm.7-.3zm3.9 1.6zm-.4 .5zm-1 .8zm-.9-.7zm-2.5-.1zm-3.4 .2zm-.1 .4zm0-.4zm-1-.3zm-.6 .8zm-.3-.9zm-.2 .5zm-.4-.4zm-.5 0zm0-.1zm-.2-.2zm-.1-.1zm-.1 1.2zm0-.1zm-.2-1zm-.4 .6zm-.4 0zm-.2-.8zm0 .3zm0 1.1zm-.2-.6zm-.3-.8zm-.6 .1zm-.3 .5zm-.8-.5zm-.6-.1zm-.1 1zm-.1 0zm-.6 .2zm-.3-1.2zm-.2 .8zm0 .6zm-.1-.7zm-.2 .4zm-.2-1.1zm-.1 .7zm-.2-.2zm-.2-.3zm0 .7zm-.2-.9zm0 1.3zm-.1-1.1zm0 .6zm-.2-.6zm-.1 1zm-.2-.5zm-.6 .5zm-.4-.9zm-.6 .7zm-.3-.8zm-.1 .4zm-.2-.6zm-1.6 1.3zm-.4 0zm-1.1 .1zm-.1-.7zm-.1-.3zm0 .3zm-.2-.4zm-.9 .6zm-1.7 .2zm-.1-1.1zm-1.6 .1zm-.3 1.2zm-3.6-.9zm-1.2 .7zm-1.9-.7zm-3 .1zm-1.5 .3zm-3.3 .5zm4.6 .4zm1.3 .7zm2-.7zm.9 1.1zm.1-1.1zm.8 .6zm.5 .6zm1.1-1zm.2-.4zm.8 1.1zm.4-.5zm.9-.6zm1.9 .1zm.5 0zm.5 .3zm.8 .6zm1.2 0zm.9-.8zm.7 1zm.9-1.1zm.1 1.1zm.3-.5zm1.4 .6zm.1-.8zm.4-.4zm.3 .4zm.1 .4zm1.4-.9zm.5 .4zm.4-.2zm0 .5zm.8 .5zm.3-.6zm.3-.5zm0 1zm.3-.2zm.1-.3zm.1-.2zm.3 .2zm.1-.6zm.1 .8zm0-.7zm.1-.1zm.6 .5zm.4 .4zm1.4-.7zm.4 .8zm.1-.6zm.2 0zm.8 .8zm.1-.2zm.3 .2zm.5-1.2zm.1 0zm0 .2zm.2 1zm.6 .1zm.7-.1zm.3-1.1zm.5 .3zm.7-.1zm2 .1zm1.6 .6zm1.6-.7zm2.2 1zm-3.2 .5zm-1.2-.1zm-1 .1zm-4.5 1zm0-.5zm-1.1-.2zm-.1-.5zm-.3 .8zm-.9 .2zm-.3-1.1zm-.3 .9zm-.1-.4zm-.3 .3zm-.2 .2zm-.2-.3zm-.2-.2zm-.3 .4zm-.1-.7zm-.1 .6zm-.1-.7zm-.4 .1zm-.7 1.2zm-1-.8zm-.5-.5zm-.2 .9zm-.1-.2zm-.7 .3zm0-.6zm-.5 .7zm-.1-.4zm-.4-.7zm-.1 .9zm-.6 .3zm-1-.3zm-.3-.3zm-.8-.1zm-.6 .7zm-.6-.1zm-.8-.3zm-.8 .1zm-2.1-.6zm-.6 1zm0 0zm-.3-.4zm-.2-.7zm-.2 0zm-.4 .6zm-.4-.2zm-1.3 .3zm-.9-.6zm-1.2 .3zm-4.4-.6zm0 .3zm-.9 .4zm-.4 0zm-3.5 .2zm.2 .7zm3.2 .3zm.8 .4zm.8-.8zm.2 .3zm1.9 .6zm.9 0zm.2-.5zm.5-.4zm1.3 .2zm6 1zm2.8-1.2zm.8 .6zm.9 .2zm.5 .1zm.6-.4zm.1 .2zm1-.3zm.3 .7zm.2-.9zm.2 .5zm.4 .4zm.9-1.2zm.2 .3zm.8 .8zm.1-.1zm0-.1zm.6 .1zm0-.5zm.3 .4zm.7-.9zm.4 .8zm.1 .2zm1.2-.5zm1 0zm.5 .5zm3.3-.1zm10.9-.7zm3.7 .5zm-.8 1.3zm-9.2 .4zm-4 .2zm-2 .1zm-1.6-1.1zm0 1zm-1.1-.3zm-.8-.7zm-.1 .7zm-.4 .4zm-2.6 .1zm-.8-.7zm-1 .2zm-.2-.3zm-.3 .2zm-3-.3zm-1.9 0zm-.4 .8zm-4.9-.9zm-.4 .5zm-3.1 .3zm-1.1-.1zm-.3-.3zm-1.4-.2zm-10.2 2.1zm4.9-.8zm2.8 .2zm1.8 0zm.1 .7zm5.1-.8zm.5-.1zm0 1zm3.7-.8zm.6-.5zm.8 .7zm1.4-.4zm2 .7zm2.7-.6zm.4 .1zm.3 0zm.7 .6zm2.2-1.1zm3.2 .9zm4.2-.2zm5.4 .5zm8.7-1zm3.3 .2zm-27.5 1.6zm-.8 .2zm-.3 .3zm-.4-1zm-2.4 0zm-2.3 .2zm-2 .7zm-3.5 0zm-2.5-.4zm-1.1 .6zm-6.7 1.7zm2.6-.3zm3.8 .1zm8.5-.3zm2 .2zm1-1zm3.9 .8zm4.5-.2zm5.2 .5zm-9.1 1.6zm-.1 .2zm-.6 0zm-1.5-.4zm-5.5-.6zm-1-.3zm-.1 1.1zm-7.4 0zm-1.2-.1zm10.6 .5zm11.1 1zm9.6 0zm-11.4 1.8zm-5.6-1.3zm9.9 2.7zm5.3-.2zm6.7-.1zm-35.8 1.1zm-9.3 .5zm7.6 .8zm4 0zm11.7 1zm8.2 0zm13.5-.8zm-6.9 .9zm-4.7 .9zm-7.5 .3zm-.6-.5zm-5.4 .6zm-.7-.9zm-20.7 1.8zm21.4-.6zm2.6 .8zm5.7 .3zm3.8-.9zm9.8 1.3zm-7.2 1.1zm-3.8 0zm-5.4-.5zm-1.9-.6zm-7.5 .3zm-4 .7zm-2.8 .1zm-.9-.5zm1.9 1.5zm2-.1zm1.9 .3zm1 0zm5.9-.1zm.5 .1zm1-.7zm3.9 .9zm1.4 0zm.6-.6zm.2 .1zm.9 .1zm1.2-.2zm1.3-.2zm13.6 1.8zm-11.9-.1zm-2.5 .2zm-2.4 .6zm0-.1zm-.9 .2zm-1.7-1zm-.6 .8zm-.8 .2zm-.1-.1zm-2.1-.5zm-.5 .4zm0-.1zm-.8 .1zm-.3-.4zm-1.7 0zm-.5 .5zm-1.3-.5zm-.6 0zm-.5 0zm-1.8-.3zm-2.3 .5zm-2.6-.9zm-2.1 .9zm-8.9 1.3zm6.9-.8zm1.6 .1zm2.4 1.2zm.7-.4zm4.7-.1zm1-.3zm1 .9zm0-.4zm.8 .2zm1.2 .1zm1.5-.3zm1.9-1zm.5 1.3zm0-1.2zm.2 1zm.7-.4zm.1 .2zm.1 0zm.6 0zm.3-.4zm.1-.3zm.1 .4zm.5 .5zm.1-.5zm.3 .2zm.3-.5zm.1 1zm.1-.6zm.3-.6zm.7 .6zm.2 0zm.1-.2zm.2-.4zm.1 .6zm0 0zm.3 .3zm0-.7zm.5 .5zm1.1-.5zm1 .3zm0 .2zm.5-.7zm.4 .7zm.5 .3zm1.9-.5zm14.5 2.1zm-10.2-.6zm-4.6-.6zm-1.1 1.2zm-2.7-.4zm-.9 .4zm-.3-1.1zm-.2 .1zm-.1 .1zm-.8 .6zm-.8 .5zm-.4-1.3zm-1.3 1.3zm-.7-.9zm0-.3zm-.1 .6zm-1-.4zm0-.2zm-.3 .3zm0 .1zm-1.3 .3zm-.2-.5zm-.4 .5zm-.5-.5zm-.3 .6zm-.1-.5zm-.5 .2zm-.5 .4zm-.5-.3zm-3.7-.5zm-.5-.2zm-4.7 0zm-.7 .1zm-2.4-.2zm-.4 .7zm-4.6 1.8zm3.4-.8zm7.2 .3zm.8 .6zm3.7-.4zm1.3-.4zm1.1 .5zm.2 .4zm.5-1.1zm.6 .7zm.2-.7zm.3 .2zm.1-.1zm.3 .1zm.9 1zm.3-.5zm.4-.8zm.8 .9zm.5-.7zm1 .6zm.7-.7zm.2 .6zm.2-.2zm.3-.5zm.5 .7zm.2 .4zm.1 .3zm.1 0zm.3-1.4zm0 1.3zm.1-.8zm.2 .9zm.7-.2zm.1 .2zm.4-.4zm.2-.7zm.9 .9zm.8-.8zm5.5 .5zm1.7 .4zm-3.8 1.6zm-.4-.6zm-2.5-.2zm-.3-.3zm-1 .1zm-.7 .7zm-.1 .1zm-.5-1zm0 .3zm-.2 .8zm-.3-1.3zm-.9 1zm-1.3-.2zm-1.2-.3zm0 .9zm-.3 0zm-.2-.5zm-.4 .2zm-.6-.9zm-.3 1.2zm-.5-1.2zm0 .1zm-2.6 1zm-.5-.7zm0-.1zm-.3 .1zm-.4-.6zm-1.3 1zm-1.3-.4zm-2.4 0zm-2.8 .2zm-.7-.5zm-5-.1zm-4.9 .1zm11.6 1.3zm.1 .4zm.4 .3zm.7-.1zm.2-.3zm0 .8zm.2-1.1zm.8 1zm.9-.4zm.1-.4zm.5-.3zm1.1 .9zm1.6 0zm1.3-.4zm1-.4zm.1-.1zm.9 .5zm1.7-.2zm0 0zm.5 1zm0 0zm.8-.9zm.8 .2zm.4 .8zm.3-1.4zm1.2 .2zm2.1 1.1zm.2-.9zm.3 .6zm1.2-.7zm.7 .2zm.1 .2zm-.3 1zm-.3 .2zm-2.8-.3zm-.5-.1zm-.4 1.3zm-.7-1.1zm-.7-.2zm-.6 1.1zm-.7 .3zm-.1-.8zm-.6-.5zm-.7 .7zm-.2 0zm-1.8-.5zm-.1 0zm-.4 .5zm-.2-.2zm-.5 .4zm-.5-.6zm-.5 .7zm-3.9 .2zm-10.2-.7zm.5 1.6zm2.6-.5zm4.7 1zm8.2-.9zm.3-.2zm1.4 .4zm1.6 .6zm.4-.1zm3.2-.2zm.4-.4zm.2-.1zm2.9 .4zm2.2 1.5zm-3.7-.7zm-1.2 .6zm-.8 .2zm-10.7 .1zm-11.5-.8zm-3.5 1.2zm19.7 1.1z" stroke="#000" stroke-opacity="0.6" stroke-width="0.8" stroke-linecap="square" fill="none" filter="url(#bl)"/>
<line x1="71.50" y1="327.60" x2="71.50" y2="391.40" stroke="#777" stroke-width="0.8"/>
<line x1="34.40" y1="363.50" x2="99.60" y2="363.50" stroke="#777" stroke-width="0.8"/>
<rect x="34.50" y="327.50" width="65.00" height="64.00" fill="none" stroke="#333" stroke-width="0.9"/>
<text x="36.00" y="332.00" font-size="4.0" font-weight="bold" fill="#333">83.4%</text>
<text x="36.00" y="389.80" font-size="4.0" font-weight="bold" fill="#333">13.7%</text>
<text x="98.40" y="389.80" font-size="4.0" font-weight="bold" fill="#333" text-anchor="end">0.502%</text>
<text x="94.00" y="335.60" font-size="7.37" font-weight="bold" fill="#000" text-anchor="end" textLength="9.00" lengthAdjust="spacingAndGlyphs" stroke="#000" stroke-width="0.3">2.4</text>
<text x="42.22" y="397.00" font-size="3.0" font-weight="bold" fill="#666" text-anchor="middle">0</text>
<text x="52.00" y="397.00" font-size="3.0" font-weight="bold" fill="#666" text-anchor="middle">10²</text>
<text x="67.00" y="397.00" font-size="3.0" font-weight="bold" fill="#666" text-anchor="middle">10³</text>
<text x="82.65" y="397.00" font-size="3.0" font-weight="bold" fill="#666" text-anchor="middle">10⁴</text>
<text x="96.34" y="397.00" font-size="3.0" font-weight="bold" fill="#666" text-anchor="middle">10⁵</text>
<line x1="42.22" y1="391.90" x2="42.22" y2="393.20" stroke="#666" stroke-width="0.35"/>
<line x1="47.44" y1="391.90" x2="47.44" y2="393.20" stroke="#666" stroke-width="0.35"/>
<line x1="52.00" y1="391.90" x2="52.00" y2="393.20" stroke="#666" stroke-width="0.35"/>
<line x1="61.78" y1="391.90" x2="61.78" y2="393.20" stroke="#666" stroke-width="0.35"/>
<line x1="65.04" y1="391.90" x2="65.04" y2="393.20" stroke="#666" stroke-width="0.35"/>
<line x1="67.00" y1="391.90" x2="67.00" y2="393.20" stroke="#666" stroke-width="0.35"/>
<line x1="77.43" y1="391.90" x2="77.43" y2="393.20" stroke="#666" stroke-width="0.35"/>
<line x1="80.69" y1="391.90" x2="80.69" y2="393.20" stroke="#666" stroke-width="0.35"/>
<line x1="82.65" y1="391.90" x2="82.65" y2="393.20" stroke="#666" stroke-width="0.35"/>
<line x1="92.43" y1="391.90" x2="92.43" y2="393.20" stroke="#666" stroke-width="0.35"/>
<line x1="95.04" y1="391.90" x2="95.04" y2="393.20" stroke="#666" stroke-width="0.35"/>
<line x1="96.34" y1="391.90" x2="96.34" y2="393.20" stroke="#666" stroke-width="0.35"/>
<ellipse cx="128.1" cy="377.6" rx="12.5" ry="9.9" fill="url(#bg)" opacity="0.75" clip-path="url(#c9)"/>
<ellipse cx="115.6" cy="378.1" rx="23.4" ry="9.4" fill="url(#bg)" opacity="0.25" clip-path="url(#c9)"/>
<path d="M128.4 330.9zm6.4 1.6zm-10.4-.1zm-12.9-.2zm8 1.2zm7.8 5.2zm-26.6 .6zm29.2 .3zm-3.2 1.9zm-5.4 1.3zm6.7 0zm3.9 .3zm18.2 .1zm-10.1 .5zm-35.9 1.3zm17.6 .8zm12.3 .7zm2.4-.1zm.7 .3zm-10.5 1.6zm12.8 .2zm-5.3 2.4zm-26.3-.7zm17.7 1.4zm1.1 .5zm18 .1zm11.1-.2zm-23.2 2zm-8.3-.2zm-14.1-.9zm5.3 2.5zm11.5-1.2zm2.1 2.8zm-4.4-.6zm-5.7 1.4zm6.3-.3zm10.2 3.4zm10.2 1.2zm-7.4-.3zm-2 1.7zm15.9 1.2zm-21.2 .3zm-7.2 .5zm-1.8-.7zm-2.5 0zm7.4 2.5zm7.4 .2zm6.9-1.4zm8.3 1.2zm1.1 .9zm-.5-.2zm-7.4 .7zm-4.7-.2zm-1.4 0zm-.9 .2zm-4.7 .2zm-.8 0zm0-.6zm-1.1 .7zm-1.4-.5zm-.9 .4zm-.8 .1zm-.3-.7zm-1.8-.6zm-1.3 .6zm-22.3 1.6zm11.8 .5zm.2-.4zm.9-.9zm1.8 1.2zm4.2-1.1zm.4 1.1zm2.6-.3zm4.1 .4zm.5-.2zm.7 .2zm.2 0zm.1-.1zm.1-.3zm.2-.9zm1.8 .1zm.5 1zm.9-.3zm.2-.3zm.3 .3zm.1-.1zm.5 .3zm.2 0zm.1-.1zm.9-.7zm2.7 .3zm1.1 .4zm3 .5zm6.7 0zm3.9-1.3zm-4.3 2.7zm-9.1 0zm-.1 0zm-3.1-.4zm-1-.7zm-.4 .4zm-.1 0zm0 .6zm-1-.4zm-.1-.7zm-.7 1zm-.4 .3zm-.4-.5zm-.3 .1zm-.1-.5zm-.7-.3zm0 .4zm-.1-.6zm0 1.3zm-.5-1.1zm-.1 .5zm-.5-.7zm0 .8zm-1.2-.2zm-.6 .2zm-.6-.2zm-.5 .5zm-.3-.4zm-.5 .5zm-.3-.3zm-.2 .2zm0 .3zm-.1-1.4zm-.3 .6zm-.3-.3zm-.2-.2zm-2.8 1.1zm-.4 0zm-.8-.3zm-2.8 0zm-1.9 .4zm-.7-.2zm-.5-.7zm-4.5 .1zm-6.3 .5zm0 .9zm1 1zm1.7-1zm.6 .9zm1-.5zm.2-.1zm1.7-.7zm.1 .9zm.2-.2zm1.2 .2zm.7 .1zm2.3 0zm3.9-.2zm.5-.6zm.4 1zm.2-1.2zm.4 1zm.3-.5zm.2-.2zm.5 .9zm.7 .1zm.2-.1zm1.2-.2zm.1 .1zm.1-.1zm1-.8zm.4 .4zm.5-.5zm.1 .9zm.1-.3zm0-.5zm0 .8zm.1-1zm.1 1.1zm.4-.7zm.1-.1zm0 .6zm0-.4zm.1 .2zm.3-.3zm.4 .2zm.1 .5zm.2 0zm.7-.3zm.2 .3zm.3-.1zm.2 .1zm.1-1zm.1 .4zm0-.2zm.5 1.1zm.4-.4zm0-.7zm0 1zm.3-1.1zm.2 1.2zm.2-.9zm.1-.4zm.1 .9zm.1-.7zm.3 .2zm.1 .2zm.2 .4zm.2-.6zm.1 .7zm0-1zm.2 .3zm.2-.2zm0 1zm.3 .1zm.2-1zm.3 .3zm0 .1zm.2-.8zm.5 1.3zm.6-1zm.5 1zm.1-.5zm.1-.6zm.2 0zm.1-.2zm1.1 1zm.4-.1zm0 .3zm.5-1.2zm1.4 .7zm.1-.5zm2-.1zm15.2 .3zm-6.8 1.2zm-5.5-.1zm-2.3 0zm-2 .3zm-.4 .6zm-2-.2zm-.6 0zm0-.5zm-.6 1.1zm-.1-.7zm-.1-.4zm0-.1zm0 .3zm0-.3zm-.3 0zm-.2 .1zm0 .4zm-.7-.4zm0 0zm-.2 1.2zm0-1.2zm-.1 .9zm-.3-.8zm-.2 .8zm-.1-.5zm-.2 .5zm-.5-1.1zm-.1 1.1zm-.2 .3zm0-.6zm0 .5zm-.1 .1zm-.2-.4zm-.1-.3zm0-.5zm-.1 1.2zm0-.7zm-.1 .7zm-.1-1.1zm-.2 0zm0 .5zm-.2 .3zm-.1 .2zm0-1zm-.1 0zm-.2 0zm-.5 .5zm-.4 .1zm-.1-.9zm0 1.2zm0-.8zm-.1 .5zm0 .1zm0-.9zm0 .4zm0 0zm-.1 .4zm-.4 .5zm0-.1zm0-1.2zm-.3 .4zm-.3-.3zm-.3 1.2zm-.1-1.3zm0 1.2zm-.3-1.1zm-.2 .5zm-.1 .7zm0-1.4zm-.1 .1zm-.1 .2zm-.2 1zm-.4 0zm-.1-.1zm0-.6zm-.1-.5zm-.1 .1zm-.3 .9zm-.1-.8zm-.2-.2zm-.1 0zm-.2 .1zm-.2 .1zm-.1 .4zm-.1 .6zm-.2-.9zm0 1zm-.3-.5zm-.1 .5zm-.1-1.2zm-.5 1zm-.2-1zm-.1 1.2zm-.3-.5zm-.1-.5zm-.2-.3zm-.1 .6zm-.2 .4zm0-.5zm-.3 .8zm-.3-.5zm-.4-.2zm-.1 .6zm-.2-.2zm-.2-.2zm-.2 .4zm-.2-.8zm-.2 .2zm-.6 .5zm-1-.6zm-.1 .7zm0-.6zm-.1 .7zm-.7-.7zm-.3 0zm-.4 .7zm-1.1-1.4zm-.7 .4zm-.4 0zm-.3 .9zm-.1-.5zm-.7 .5zm-.1-1.1zm-.4 1.1zm-.6-.2zm-.1-.7zm-.4 .8zm-.3-.8zm-.7 .9zm-.7-.5zm-.8-.3zm-2.9 .1zm-.9-.2zm-.6 .4zm-3.3 .6zm-.3 .3zm.1 .3zm.1 .8zm.9-1.2zm.5 1zm1.6-.2zm.2 .4zm1.7-.4zm.5-.8zm.8 1.2zm.4-.7zm.6-.5zm.5 .5zm.6 .2zm.5-.8zm2.1 .3zm.1 .6zm.7-.3zm1 .4zm.5-.5zm.3 .1zm.2 .5zm.2-.2zm.5-.1zm.9 .6zm.4-.1zm.3-.7zm1.5 .8zm.6-1zm0-.4zm.1 .6zm.5 .5zm.1-.1zm0-.7zm0 .2zm.2-.4zm.6 .2zm0-.3zm.1 1zm.4 .3zm.1-1.3zm.7 .3zm0 .2zm.1 .2zm.3 .4zm0-.8zm.2 .5zm.1 .5zm0-.6zm0 .3zm.1 .1zm.1-.5zm.1 .8zm0 0zm0-1.3zm.1-.1zm0 .6zm.3 .6zm.2-1.1zm0 .3zm.1 0zm0 .7zm.3-.3zm.2-.4zm.1 .4zm.2-.3zm0 .5zm.1 0zm.1-.3zm.1-.5zm.1 .1zm.3 .9zm0-1.2zm.1 1zm.1-.5zm.1 .2zm.2 .4zm.2-.1zm0 0zm0 .1zm0-.8zm.1-.3zm.1 .6zm0 .8zm.1-.8zm.1-.6zm0 1.1zm0-.8zm.1 1zm.1-.4zm.1-.2zm.2 .7zm.1-.9zm0-.3zm.3 .5zm.1 .3zm.1-.3zm.1 .2zm0-.9zm.1 .3zm.1 0zm.1-.3zm.1 .5zm.1-.3zm.1 .4zm0 .7zm.1-.7zm0 .1zm0 .3zm.3-.1zm.1 .4zm0-.5zm0-.5zm.2 .8zm.1-.2zm0 0zm.2 .5zm0-.8zm.1 .6zm.1 .1zm0-.9zm.1 .6zm.2 .3zm0-1.1zm.1 0zm.2 .7zm.1 .5zm0-1.2zm0 1zm.1-.1zm.1 .3zm0-.9zm0 .7zm.1 .1zm.1-1.3zm.1 1.4zm.1-.5zm.2-.8zm.1 .9zm.3-1zm.1 .3zm0 .6zm.2 .1zm0 .2zm0-1.1zm.1 0zm0 1.2zm0-.6zm.2 .2zm0 .2zm.1-.7zm.1 1zm0-.9zm0 .2zm.1 .7zm0-.8zm0-.3zm.6 .8zm.1-1.1zm.1 .5zm0 .1zm.2-.2zm0 .1zm.4 0zm0 .5zm.1-.5zm0 .1zm.1 .1zm0-.1zm.2 .7zm0-.9zm.4 .4zm.4 .5zm.3-.8zm1 .1zm.3-.2zm1.3 0zm.1-.1zm2 .5zm.4 .4zm1.4-.6zm3.5-.2zm-4.2 1.4zm-.8-.1zm-.4 .9zm-1.5-1zm0 .1zm-.1 .3zm-.3 .4zm-.2-.5zm-.6 .9zm-.2-.5zm-.3 .4zm-.1-.7zm-.4 .8zm-.2-.1zm-.2-.6zm-.7-.4zm-.1 .3zm-.2-.4zm-.1 0zm-.5 .1zm-.1-.1zm-.1 1zm0-1.1zm-.1 1.4zm0-.1zm-.1-.7zm0 .8zm0-.1zm-.5-.1zm-.2-1.2zm-.2 1.2zm0-.2zm0-.3zm-.1-.2zm0-.3zm-.1 1zm-.2-.3zm-.1-.1zm-.1 0zm-.2-.5zm-.1 .8zm-.1-.8zm0 1zm-.1-1.3zm-.1 .9zm0 .1zm0-.9zm-.2 .6zm-.1 .6zm-.1-1zm0 .1zm-.1 0zm0-.4zm-.2 1.2zm0-.5zm0-.7zm-.2 .8zm0-.5zm-.1 .8zm-.3-.9zm-.2 1zm-.1-.1zm-.2-.2zm0 .4zm-.1-.9zm0-.3zm-.1 .7zm0 .5zm0-1.2zm-.1 .3zm-.2 .5zm0-.2zm-.2 .2zm-.1-.9zm-.2 .3zm-.2 .6zm0 .1zm0 .4zm-.1-1.3zm0 1zm-.2-.9zm0 .3zm-.1 .6zm-.1-.9zm0 .8zm-.1-.3zm0-.1zm-.1-.1zm-.1-.5zm0 1.2zm-.1-.7zm-.1 .2zm0 .4zm0-.7zm-.1 .2zm-.1 .8zm0-.3zm0 .2zm0-1.3zm-.2 .1zm0 .3zm-.1 .6zm-.1-.9zm0 1.3zm-.1-1zm-.1 .3zm0 .2zm-.2 .3zm-.5-.3zm-.1 .4zm-.1-.3zm0-.9zm-.2 .8zm0-.3zm0 .8zm0-1.4zm-.1 .5zm-.1 .8zm-.2-1.2zm-.1 1.2zm0-1.1zm0 1zm0-.9zm-.2-.2zm-.1 .7zm-.2 .5zm0-1.2zm0 1.1zm-.1-.7zm0-.4zm-.1 .3zm-.1 .1zm-.3 .4zm-.1 .4zm-.1-.6zm-.3 .7zm0-.8zm-.1-.6zm-.2 .6zm-.3 .1zm-.1-.7zm-.1 1.3zm-.2-.1zm-.1-1.2zm-.2 .7zm0 .3zm-.1 .3zm0-.1zm-.1-.8zm0 .5zm-.3 .2zm-.1-.7zm-.9 .8zm-.1 0zm0 .2zm0-.2zm-.1 .2zm-.1-1zm0-.3zm-.2 .7zm0-.7zm-.1 1.2zm-.1-.4zm-.3-.3zm-.2-.6zm0 .8zm-.2-.4zm-.2 0zm-.1-.3zm-.2 .5zm-.3 0zm-.1 .5zm0-1.1zm-.1 1zm-.5-.6zm-.4 .3zm-.5 .7zm-.6-1.3zm-.6 .5zm-.3 .3zm-.2 .2zm0 .3zm-.3-.6zm0-.6zm-.1 .8zm-.2-.2zm-.2 .6zm-.3-.5zm-.2-.9zm-.1 .6zm-.1-.3zm-.4 .5zm-.3-.4zm-.2-.4zm-.1 0zm-.1 .7zm0-.7zm-.4 .3zm-.2 .5zm-.2-.7zm-.4 .7zm-.1-.8zm-.1 .5zm-.2-.5zm-.1 .5zm-.4 .8zm-.1 0zm-.3-.8zm-1.1 .6zm-.1 0zm-.6 .3zm-.2 0zm-.1-.4zm0-.4zm-.8 .1zm0 0zm-.5-.4zm-.6 0zm0 1zm-.2-.1zm-.3-.1zm-1.1 .2zm-.7-1.2zm-.2-.1zm-.8 .8zm-1.5 .1zm-.1-.5zm-.1 .3zm0-.4zm0 1.7zm.2 .4zm.2-.7zm1.5 .2zm.8 .6zm.4-.9zm.2 .4zm.6 .6zm.3-1zm0 1.1zm.7-.1zm.6 .2zm.7-.3zm.2 .2zm.4-.3zm.5 .2zm.8 .1zm.1-.4zm1.3-.3zm.5-.3zm.4 .2zm.5 .6zm.4 .1zm.2 .1zm0-.4zm.7 .6zm.2-.4zm0-.3zm.5-.1zm.7 .2zm.1-.4zm0-.3zm.2 .9zm.1 .4zm.2-.6zm0-.8zm.4 .6zm.4 .8zm0-.3zm.1-.2zm.5-.3zm.1 .8zm.2-1.3zm.1 .7zm.4 .6zm.1-.7zm.1 .1zm0-.6zm.5 .1zm.2 .1zm0-.4zm.1 .3zm.2-.2zm.1 .4zm.2 .4zm.1-.6zm.1 .1zm.5-.3zm.2 .8zm.1 .3zm.2-.4zm.1 .2zm.1 .2zm.2-1.2zm.1 .4zm.1 .2zm.1 .3zm.1-.6zm0 .4zm.1 .2zm.1 .1zm.2-.7zm0 .6zm.1-.4zm.2-.1zm.3 .2zm.1-.4zm.1 1zm0-1zm.1 .4zm.3 .4zm.1-.9zm.8 .7zm0 .4zm.2 0zm.1-.8zm0 .5zm0-.1zm.1 0zm.1-.8zm.2 1.4zm.3-.2zm.1-.8zm0 .1zm.2 .3zm.1 .3zm.1-.6zm.1 .4zm.1-.2zm0-.7zm.1 1.2zm.3 .1zm.1-.8zm.1-.5zm.1 .2zm.1 .3zm.1 .4zm.2-.5zm.1 .6zm.1 0zm.1 0zm.1 .3zm.4-1.2zm.2 1zm0-.8zm0 .2zm.2-.3zm.1-.2zm.1 .7zm.1-.2zm0 .1zm.1 .1zm0-.5zm.1 .3zm0-.3zm.1 .3zm0 .6zm0-.8zm0-.1zm0 .9zm.1-.3zm0 .2zm.1 0zm0-1zm.1 .7zm0-.4zm0 .6zm.1 .4zm0-.7zm.1 .5zm.3-.3zm.4 .6zm0-.8zm0 .4zm.3-.3zm0-.1zm0 .8zm.1-.9zm.4-.4zm.1 .9zm.1-.2zm0-.4zm.1 1zm0-.4zm.1-.3zm.1-.6zm.1 .4zm.1 .7zm0-1.2zm0 .9zm.1-.4zm.1-.5zm.1 1.3zm.1-.4zm0-.9zm.1 1.3zm.1-.6zm.2-.4zm.1 .6zm0-.3zm.1-.5zm0-.1zm.1 .6zm0 0zm.3-.2zm.2 .1zm.2 0zm.1-.2zm0 .2zm.1 .2zm.2 0zm.1 .7zm.1-1zm0 .1zm.1 .8zm.3-.2zm0 .2zm.3-.1zm.2-.6zm.1 .5zm0-.4zm0 .2zm.2-.8zm.1 0zm.2 .3zm.1 .6zm.1-.4zm0-.5zm.4 .4zm0 .8zm0-1.1zm0 1zm.5 .2zm.4-1.1zm.2 .2zm.2-.3zm.6 .9zm.2 .2zm0 0zm.2-.4zm.1-.2zm.4 .2zm.4-.6zm.2 1zm1-.9zm.2 .3zm5.4 .4zm15.9 1.6zm-16.5-1zm-2.7 .3zm-2.2 .9zm-.8-1zm-1.7 .9zm-.5 .1zm-.1-.6zm-.3-.3zm-.6 .1zm-.5 .8zm-.1-1.2zm-.7 1.1zm-.2-1.3zm-.2 .5zm-.3-.3zm-.2 1zm-.6-1.2zm-.5 1.4zm-.2-.1zm-.1-.1zm-.1 .2zm0-1zm-.2 .1zm-.2-.3zm0 .9zm-.1-.7zm-.2 .8zm0-1.2zm-.3 1.2zm-.2-.7zm0-.5zm-.1 0zm0 .4zm-.2 0zm0 .5zm-.2 .5zm-.1-.1zm-.1-1.3zm0 .4zm-.4 .3zm0 .3zm0-.7zm-.2 .8zm-.2 .1zm0-1zm0 .7zm-.1 .2zm-.1-.6zm-.2-.5zm-.1 1zm0-1zm-.3 .1zm-.1 1.2zm0-.8zm0 0zm-.1 .8zm0-.9zm-.1 .7zm-.1-.7zm0 .3zm-.2-.4zm-.1-.1zm0 .8zm-.1-.3zm0 .7zm-.2-1.1zm-.3 .2zm0-.2zm0 0zm-.2 .7zm0-1zm-.3 .2zm-.2 .5zm-.3-.5zm0-.2zm-.1 0zm-.1 .5zm-.3 .3zm-.2-.8zm0 0zm-.3 .6zm0 .4zm-.3-.5zm0 .5zm-.1 0zm-.3-.9zm-.1 .4zm-.1 .6zm0-1zm-.2 .8zm0 .4zm0-1.3zm-.1 1.3zm-.5-1.3zm0 .6zm-.1-.2zm-.3 .4zm-.1-.2zm-.3-.4zm0 .2zm-.1 .5zm-.3 .4zm-.1-1.2zm-.1 .8zm0-.8zm0 1.2zm-.1-1zm-.4 .4zm-.3-.2zm-.1-.1zm-.3 .1zm-.5-.3zm-.2 .3zm-.1 .4zm-.2-.4zm-.1 .3zm-.1 .5zm-.1-.2zm0-1.1zm-.3 .5zm-.1 .3zm-.4-.7zm-.3 1.2zm-.2-.1zm-.5-1.2zm-.1 .2zm0 .3zm-.1-.2zm-.2 .1zm-.2 .4zm-1.2 .4zm-.5-1.1zm-.3 .2zm-.1 .8zm-.1-.7zm-.2 .7zm-.6 0zm-.4-.4zm-1.2 .3zm-.2-.1zm-.3-.7zm-1.1 1zm-.2-.1zm-1.4-1.1zm-.3 1zm-.2-.7zm-.1 1zm-.4-1.1zm-3.2 1zm-.6-.6zm-.4-.1zm-.8 .1zm-.8-.6zm-1.4 1.4zm0-1zm0 .2zm-.1 .8zm-.3-1.1zm.3 1.8zm1.4 .7zm.1-.5zm.1-.1zm.2 .2zm1.2 .2zm1.3 .3zm.4 0zm.9-.1zm2.4-1.1zm.3 .2zm1.1 .4zm.3-.8zm1.2 1.1zm1.1-.6zm1.6-.5zm.1 .9zm1.1 .3zm1-.6zm.4-.4zm.1 .2zm.4-.1zm.3 1zm.6-.3zm.1-.3zm.3 .5zm.6 0zm.3-.6zm0 .3zm.1-.8zm.9 1.2zm.1 .1zm.1-.6zm.2-.4zm.2 1zm.2-1.4zm.3 .1zm.1 1.3zm.1-1.2zm.3 1.2zm.1-1zm.2-.1zm0 0zm.4 .8zm.1 .2zm.1-1.3zm.2 .6zm.4 .6zm.3 0zm.1 .1zm.2-.9zm.1-.4zm0 .9zm0-.6zm.6 .6zm0-.4zm.3 .1zm.3-.4zm.1 1.1zm.6-1zm.2 1zm.2-.7zm0-.6zm.1 .1zm0 .6zm.1-.2zm0 .4zm0-.7zm.1 .7zm0 0zm.3 .3zm.1-1zm.5 1zm0-.9zm.1 .9zm.1-.6zm0-.1zm.2 .1zm.5-.4zm.1 0zm.1-.2zm.2 .6zm.2 .6zm.1 .2zm.1 0zm.1-.6zm.3-.5zm1.1-.1zm0 .7zm.3 0zm.2 .5zm0-.3zm.1-.8zm.7-.2zm.1 0zm1 .7zm.1-.5zm.4-.3zm.4 1.2zm.3-.7zm.3-.3zm.1 .4zm.2 .3zm.5-.1zm.2-.8zm.3 .2zm.1 1zm0-.5zm.2-.3zm1 .6zm.5-.3zm.2-.5zm2.3 .4zm13 0zm-8.6 2.1zm-7.9 0zm-.8-1.2zm-1.1 .4zm-.3 .7zm-1-.3zm-1-.7zm-.3 1.2zm-.4-1.3zm-.4 1.2zm-.1 .2zm-.1-1.1zm0 .7zm-.1 0zm0 0zm-.3-1zm-.1 .4zm-.1-.3zm-.2 .1zm0 .4zm-.8 .5zm-.3-.5zm-.1-.1zm-.2 .3zm-.4-.1zm-.1-.4zm-.4 .5zm-.1-.8zm-.3 .5zm0 0zm-.1-.2zm-.1 .8zm-.3-1zm0 1.3zm-.2-1.3zm-1.2 1.1zm-.3-.8zm-.1 1zm-.1-.4zm-.3-.9zm-.1 1.1zm0-.5zm-.5-.4zm-.1 .4zm-1 .3zm-.5 .4zm-.1-.9zm-.2 .2zm-.1-.5zm-.2 .6zm-.1 0zm-.2 .6zm-.3-1.1zm-1.1-.1zm-.4 .1zm-.3 .3zm-.5 0zm-.1-.6zm-.3 .1zm-.1 1.2zm-1.1-.5zm-.1-.8zm0 1.4zm-.6-.8zm-2-.4zm-1.9-.1zm-.2 .4zm-1.4 .8zm-.7-.9zm-.6-.4zm-4.3 .8zm-.3-.3zm-.4 .1zm-1-.5zm-2.2 .2zm-2 2.3zm8 0zm.3 .1zm3.8-1zm.1 1.1zm1.5-1zm.2 .1zm0 .5zm.5-.6zm3.3 .2zm.7 .1zm1.8 .4zm1.2-.5zm0-.5zm1 .4zm.1 .4zm.1-.7zm.4 0zm0 .2zm.3 .2zm.2-.1zm.8-.4zm.5 .1zm.3 1.2zm.5-.5zm.3 0zm.6-.6zm.2 .3zm.6 .5zm1-.9zm.7 1.2zm1.5-1.3zm.1 .4zm.3-.1zm.4 .6zm.1-.6zm.3-.2zm.6 .1zm.6 .1zm3.6 .3zm1-.5zm1.5 .3zm.4-.2zm3.3 1.6zm-2.2-.2zm-9 1zm-.9-.5zm-3.3 0zm-1.7-.4zm0 0zm-2.5 .3zm-2.4-.1zm-.7-.2zm-3.1 .3zm-7.7-.1zm-9 .1zm12 1.5zm.1-.5zm2.4 1.1zm2.6-.1zm8.9-.6zm11.1 1.2zm-6 .4zm-2.6-.4zm-9.5 .2z" stroke="#000" stroke-opacity="0.6" stroke-width="0.8" stroke-linecap="square" fill="none" filter="url(#bl)"/>
<line x1="136.50" y1="327.60" x2="136.50" y2="391.40" stroke="#777" stroke-width="0.8"/>
<line x1="99.60" y1="363.50" x2="164.60" y2="363.50" stroke="#777" stroke-width="0.8"/>
<rect x="99.50" y="327.50" width="65.00" height="64.00" fill="none" stroke="#333" stroke-width="0.9"/>
<text x="101.20" y="332.00" font-size="4.0" font-weight="bold" fill="#333">1.92%</text>
<text x="163.40" y="332.00" font-size="4.0" font-weight="bold" fill="#333" text-anchor="end">0.156%</text>
<text x="101.20" y="389.80" font-size="4.0" font-weight="bold" fill="#333">96.2%</text>
<text x="158.20" y="386.60" font-size="7.37" font-weight="bold" fill="#000" text-anchor="end" textLength="9.00" lengthAdjust="spacingAndGlyphs" stroke="#000" stroke-width="0.3">1.8</text>
<text x="107.40" y="397.00" font-size="3.0" font-weight="bold" fill="#666" text-anchor="middle">0</text>
<text x="117.15" y="397.00" font-size="3.0" font-weight="bold" fill="#666" text-anchor="middle">10²</text>
<text x="132.10" y="397.00" font-size="3.0" font-weight="bold" fill="#666" text-anchor="middle">10³</text>
<text x="147.70" y="397.00" font-size="3.0" font-weight="bold" fill="#666" text-anchor="middle">10⁴</text>
<text x="161.35" y="397.00" font-size="3.0" font-weight="bold" fill="#666" text-anchor="middle">10⁵</text>
<line x1="107.40" y1="391.90" x2="107.40" y2="393.20" stroke="#666" stroke-width="0.35"/>
<line x1="112.60" y1="391.90" x2="112.60" y2="393.20" stroke="#666" stroke-width="0.35"/>
<line x1="117.15" y1="391.90" x2="117.15" y2="393.20" stroke="#666" stroke-width="0.35"/>
<line x1="126.90" y1="391.90" x2="126.90" y2="393.20" stroke="#666" stroke-width="0.35"/>
<line x1="130.15" y1="391.90" x2="130.15" y2="393.20" stroke="#666" stroke-width="0.35"/>
<line x1="132.10" y1="391.90" x2="132.10" y2="393.20" stroke="#666" stroke-width="0.35"/>
<line x1="142.50" y1="391.90" x2="142.50" y2="393.20" stroke="#666" stroke-width="0.35"/>
<line x1="145.75" y1="391.90" x2="145.75" y2="393.20" stroke="#666" stroke-width="0.35"/>
<line x1="147.70" y1="391.90" x2="147.70" y2="393.20" stroke="#666" stroke-width="0.35"/>
<line x1="157.45" y1="391.90" x2="157.45" y2="393.20" stroke="#666" stroke-width="0.35"/>
<line x1="160.05" y1="391.90" x2="160.05" y2="393.20" stroke="#666" stroke-width="0.35"/>
<line x1="161.35" y1="391.90" x2="161.35" y2="393.20" stroke="#666" stroke-width="0.35"/>
<ellipse cx="192.6" cy="345.1" rx="13.5" ry="14.6" fill="url(#bg)" opacity="0.5" clip-path="url(#c10)"/>
<ellipse cx="182.6" cy="346.6" rx="23.4" ry="16.9" fill="url(#bg)" opacity="0.2" clip-path="url(#c10)"/>
<ellipse cx="192.6" cy="378.6" rx="11.7" ry="9.4" fill="url(#bg)" opacity="0.15" clip-path="url(#c10)"/>
<ellipse cx="182.6" cy="378.1" rx="20.8" ry="10.4" fill="url(#bg)" opacity="0.06" clip-path="url(#c10)"/>
<path d="M173 330.5zm7.2-.4zm24.3 1.9zm-.8-.2zm-2.7-.3zm-1.8 1zm-6.9 .4zm-.1-.3zm-3-.6zm-.1-.1zm-4.7 .8zm-1.3-.1zm-3.4-.8zm-3.1-.2zm2.1 2.7zm4.7-.4zm1.2-.1zm3.6 .5zm.2-1.3zm.8 .8zm.7 0zm.8-.2zm1 .4zm1.2-.3zm.6 .5zm10.2-1.1zm-3 1.6zm-1.2 .8zm-1.6-.2zm-.2 .2zm-.5-.3zm-2.7-.5zm-.5 .6zm-1.2 .3zm-.5-.5zm-2.2 .6zm-2.7-.3zm-.3-.8zm-1.9 1.3zm-1.8-.7zm-3.5-.4zm-1.3 .1zm-1.7 .8zm-.8-.6zm-3.7 0zm-1.8-.4zm-4.2-.2zm3.8 2.7zm2.8-1zm1.1 1zm1 0zm.4-1.1zm.8 .4zm1.4 .4zm2.6-.7zm1.6 .4zm.4 .8zm.9-.5zm1.4 .3zm.9-.6zm.7-.6zm.4 .8zm1.1 .5zm1.8-.6zm.5 .3zm.2-.5zm.6-.3zm1.4 1zm.5-.3zm.1-.5zm.3 .5zm.3-.8zm.4 .7zm.1-.3zm.3-.4zm.2-.1zm.1 1.4zm.2-1zm.4-.1zm1.2 .6zm2.1-.6zm.8 .7zm4.3 .2zm.3 1.3zm-5.8 .2zm-.3 0zm-.3-.2zm-.6 0zm-.1-.9zm-.3 1.1zm-.2-.9zm-.3 .1zm-.9 .3zm-.1 .5zm-.7 0zm-.3-1zm-.2 .3zm0 .7zm-.3-1.1zm0 .5zm-.2-.6zm-.2 1.4zm-.1-1zm-.1-.4zm-.1 .9zm-.1-.5zm-.2 .5zm-.9-.9zm-.1 .2zm-.1 1.1zm0-.5zm-.2 .4zm-.9-1.2zm-.6 .4zm0 .5zm-.2 0zm-.3-.4zm-.4 .6zm-.2-.8zm-.2 1.1zm-.4-.6zm0-.4zm-1.1 .3zm-.6 .4zm-.1 .2zm-.7 0zm-1.3-.9zm-.8 .9zm-.1-.5zm-.5-.3zm-1.4 .4zm-.8 .4zm-.5-.6zm-2.8 .2zm-.1-.4zm-.1 .6zm-6-.3zm-.2 .5zm-4.3 1zm.2 .4zm4.3 .1zm5.6 .1zm2.1-1.2zm0 .5zm.4-.3zm.5 .9zm2.5-1.3zm1.6 .7zm0-.6zm.9 .6zm.3 .2zm.2 .1zm0 0zm.2-.6zm.2 0zm.1-.4zm.2 .7zm.6 .6zm.4-.8zm.2-.2zm.7 .9zm.3-1zm.5 1.2zm.1-.7zm.3 .7zm.3-.8zm.1-.3zm.1 1.1zm0-1.2zm.1 .3zm.1 .2zm.3-.3zm0 .7zm.2-.8zm0 .1zm.1 .5zm.1-.7zm.4 .1zm.2 1.1zm.2-.3zm.3-.3zm0-.7zm.1 1zm.9 .3zm.3-1zm.1 .5zm.1 .2zm.1 .2zm1-.4zm.1-.8zm.1 1.1zm0-1.2zm.1 1.2zm.1-1.2zm0 1.4zm.2-.1zm.3-.8zm.1-.4zm.4 .9zm0-.6zm.5 0zm.7 .6zm.2 .2zm.1-.8zm.4 .3zm.6-.3zm.1 .5zm.2 .3zm.1-1zm.2 0zm1.6 .5zm.1 .4zm.1-1.1zm1.5 .8zm1.6-.2zm.2-.6zm1.2 .6zm1.5-.6zm2.6 .4zm1.3 2zm-8.4 .2zm-.2 .1zm-1.8 .2zm-.1-.1zm-.5-1.2zm0 .4zm-.4 .4zm-.5 .5zm-.2-.8zm-.1 .5zm-.5-.5zm0-.3zm-.2 0zm-.5 1zm-.4-1zm-.1 .5zm-.6 .1zm-.2-.2zm0 .1zm-.2 .2zm0-.8zm-.1 .3zm0 .4zm-.1 .5zm-.1-.6zm-.2 .3zm-.4-.5zm-.1 .7zm-.1-.4zm-.3 .4zm-.1-1zm-.6 .6zm-.3-.1zm-.1-.8zm-.3 1.4zm0-.3zm-.2 0zm-.1-1zm-.1 .4zm-.1-.2zm-.1 .4zm-.1 .4zm-.2 .1zm-.1-.4zm-.1-.2zm-.2-.2zm-.3 .7zm0-.8zm-.1 .1zm-.1-.4zm-.1 1.2zm-.2-.2zm-.2 .3zm-.1-.6zm0-.5zm-.2 .7zm-.3-.2zm-.7-.7zm-.7 .9zm-.3-.2zm-.2-.6zm-.2 .4zm-.1-.1zm-.3-.2zm-.2 .6zm-.3 .2zm-.2-.1zm-.3-.6zm-.3-.1zm-.1-.1zm0 .5zm-.1 .1zm-.5 .3zm0 0zm-1-.8zm-.8 1.2zm-.2-.5zm-.9-.2zm0 .1zm-.3 .6zm-4.1-1.1zm-1.4 .6zm-.4-.3zm-.9 .1zm-.2-.3zm-.8-.1zm-.5 .2zm-.7 .9zm-.2-.9zm-5 .1zm-1.4 2zm.1-1.1zm1.1 .4zm.2 .9zm.8-.6zm3.9 0zm1.3 .3zm2.1-1zm.3 .7zm0 0zm1.8 .7zm.1-.4zm.2-1zm.6 .7zm1.4 .3zm0 .2zm.3-.3zm.5-.8zm.6 .9zm.4-.8zm.4 .5zm.1 .1zm1.6 .4zm.1-.1zm0-.8zm.3-.3zm0 1zm.4-.7zm.2 .4zm.1 .2zm.8-.5zm0 .7zm.4-.9zm.4 .6zm.1 .2zm.1-.2zm.1-.2zm.3 .4zm0 .2zm.2-.2zm0-.3zm.2 .7zm.1-1zm.2 .9zm.2-.6zm0 .1zm.1 .6zm.2-.4zm.1-.7zm.1 .9zm0-.8zm0 .9zm.3-1.2zm0 .9zm.2 0zm0 0zm0 .2zm.1-1zm.3 1.2zm.4-.8zm.3 .2zm.5 .1zm.1-.6zm.3 .9zm.1-.7zm.3-.2zm0 .5zm0 0zm.1-.1zm0 .6zm.2-.3zm0-.7zm.1-.2zm0 0zm.4 .5zm.2 .2zm.2-.7zm0-.1zm0 1.4zm0-1.1zm.3 .1zm0 .4zm.1 .4zm0-1.2zm.1 .6zm.4 .1zm0 .2zm.2-.4zm0 .5zm.1-.6zm.4 .2zm0-.6zm0 0zm.1 .5zm0-.2zm0-.1zm.1 .3zm.1 .3zm0 .3zm.1-.4zm.3-.6zm0 .1zm.1 1.1zm.1-.6zm.1-.4zm.3-.1zm0 .3zm.2 .8zm.2-.2zm0-.2zm.2 .4zm.2-.7zm.5-.5zm.2 .9zm.1-.6zm.1 .2zm.1 .7zm.4-.1zm0-.8zm0 .1zm.2 .9zm.2-.2zm.3 0zm.5-.7zm.5 .2zm0-.7zm.9 1.3zm0-1.3zm.8 1zm1.6-.4zm2 .6zm-2.8 1.1zm-.1-.7zm-.5 .1zm-.5 .6zm-.4-.8zm-1.3 .8zm0 .4zm-.1-1.2zm0 .5zm-.5 .5zm-.4-.8zm-.2 .7zm-.2-.1zm-.4-.4zm0 .6zm-.1-1zm0 1.2zm-.4-.8zm-.2 0zm-.2-.2zm-.4 .7zm0-.6zm-.7 .5zm-.4-.6zm-.2 .2zm-.1 .9zm-.1-.4zm-.3-.5zm-.2 0zm-.2 .6zm-.2 .4zm-.1-1.3zm-.1-.1zm-.1 .7zm-.3 .5zm-.1-1.2zm-.1 .4zm-.3-.1zm-.2 .5zm-.3 .3zm-.2-1zm-.2 .5zm-.1-.1zm0 .1zm0-.2zm-.2 .5zm-.1-.1zm-.1-.7zm-.3 .4zm-.6 .7zm-.2 .2zm-.3-.1zm-.3-.9zm-.3 .3zm-.3-.7zm-.1 .8zm-.1 .6zm0-.9zm-.1 .6zm-.2-.1zm-.1-.9zm-.1 1.3zm-.2-.9zm-.7-.3zm-.1 .5zm-.3-.5zm-.2 1.2zm-.1-.1zm-.2-.6zm0 .6zm-.1-.3zm-.1-.9zm0 .9zm-.4-.3zm-.6 0zm-1 0zm-.1-.1zm-.2 .2zm-.6-.6zm-.8 .7zm-.3 0zm-.2-.6zm-.1 .8zm-.1-.2zm-.1-.2zm-.8 .4zm-.8-.8zm-.5 .5zm-.4-.6zm-.3 1.1zm-.3 0zm-.5-.8zm0-.5zm-.1 .7zm-.1 .6zm-.7-1zm-.8 .7zm-.4-.1zm-.5 0zm-.4 0zm-1.2-.5zm-.4 .9zm-3.7-.8zm-.6-.4zm-.9 .6zm-1.2 .3zm-1 .3zm0-.2zm-.1-.9zm3.4 1.5zm.6 .9zm.6 .2zm.4-.3zm.9 .4zm.6-.5zm2.3-.4zm1.8 .7zm.3 0zm.1-1.1zm.9 1.3zm1.7-.3zm.9-.5zm.1 .1zm1.1 .6zm.4-.5zm.1 .2zm.8 0zm.2-.9zm.2-.1zm.1 .4zm.9 .8zm.3-1.2zm.3 .6zm.1 .3zm.8-.2zm.2 .4zm.6-.4zm.1 .1zm0-.3zm0 .6zm.2-1.1zm0 .4zm.8 .4zm.4 .2zm.1-.6zm.1 .8zm.3 0zm.1-.5zm.4-.7zm.2 1.2zm.1-.6zm0 .2zm.3 0zm0 .1zm.1-.5zm.2 0zm.2 .5zm.4-.6zm.2 1.1zm0 0zm.4-.2zm0-1.2zm.1 .3zm.2 .7zm.1 .3zm.1-.2zm.1-.5zm.3-.2zm0 .6zm0 .4zm.3-1zm0-.4zm0 .1zm0 .1zm.1 1zm.4-1.2zm.3 .5zm.2 .9zm.2-1zm0 .3zm.2 0zm0 .6zm.1-1.3zm.1 1.4zm.1-.2zm.4-.8zm0 .2zm.4 .8zm0-.8zm.3 .1zm.3-.6zm0 1.2zm.2-.3zm.1 .4zm0-1.1zm.2-.2zm.3 .4zm.3-.5zm.2 .4zm.4 .6zm.1 .3zm0-1.1zm.2 .9zm0-.7zm0-.3zm.5 .3zm.1-.3zm.2 .4zm1.2 .7zm0-.4zm.2-.8zm1.4 .3zm.3 .2zm1.3-.2zm4.8 0zm1.6 1.7zm-3.9 .3zm-1.1-.1zm-.8 .5zm-1.2-1.1zm-2.4 .1zm-.7 0zm-.1 .2zm-.2 .8zm-.2-.5zm-.7 .4zm-.1-.2zm-.2-.1zm-.1-.3zm-.6 .5zm-.1-.2zm0-.3zm-.1 .8zm-.3-1zm-.2 .2zm-.2-.2zm-.1 .6zm-.3 .5zm-.2-.4zm-.2-.4zm0 .3zm-.2-.9zm-.1 .9zm-.1 0zm0 .4zm0-1.1zm-.2 .1zm0 .3zm-.2 .7zm-.1 0zm-.1-.2zm-.1 0zm-.2-.8zm-.3-.1zm-.1 .5zm-.1-.4zm-.1 .8zm0-.4zm-.1 0zm0-.7zm-.1 1.4zm-.3-.4zm0-.9zm-.3-.1zm-.1 1.4zm-.6-1.1zm0 .3zm-.1-.3zm-.2 .8zm-.1-.1zm-.1 .2zm-.4-.6zm-.3 .3zm-.1-.9zm-.1 1zm0-.2zm-.1-.1zm-.2 .5zm0 0zm-.1-.6zm-.1 .6zm-.1-.3zm0-.3zm-.2 .7zm-.1-.9zm-.1 0zm0-.1zm0 .5zm-.3-.4zm-.1 1zm0-.1zm-.5-.2zm-.1-1.1zm-.2 1.3zm0-1.2zm-.1 1.2zm-.2-1.1zm-.1-.2zm-.2 .6zm0-.5zm-.2 .5zm-.4-.1zm-.1 .3zm-.1 .1zm-.2 .3zm-.3-.7zm-.1 .5zm-.1 .4zm-.3-.9zm-.1-.5zm-.7 1.3zm-.3 .1zm0-1.2zm-.2 0zm0 1.1zm-.3-1.2zm0 .6zm-.1-.6zm-.7 .2zm-.2 1.1zm-.3-.5zm-.1-.8zm-.2 1.1zm-.5-1.1zm-.4 .9zm-2.1-.1zm-.3-.7zm-.1-.1zm-.4 .2zm-.4 .4zm-3.8-.6zm-.4 .1zm-.5 .4zm-.6-.3zm0 .2zm0-.1zm-6.7-.4zm-.1 2.6zm.2 .2zm2.8-.7zm2.3-.4zm.9 0zm.1 .7zm1.3 .4zm.2-.1zm.2-.4zm1-.8zm.6 .6zm.5-.3zm0 0zm1.5 .4zm.2-.2zm.1 .2zm.2 .2zm0-.7zm.4 .5zm.2 .3zm1.1 .4zm.2-.6zm.1 0zm0-.7zm1.2 .1zm.4-.1zm0 .4zm.2-.5zm.4 1.4zm0-1.1zm.4 .8zm0 .1zm.3 .1zm.7-.7zm.6-.4zm.4 .6zm0-.2zm.2-.5zm.1 1.3zm.6-1zm.1-.2zm.3 1zm.4-1.1zm.3 1.3zm.2-.4zm0-.2zm.3-.8zm.2 .2zm.1 .2zm.6 .5zm.1-.6zm.6 1.1zm.2-.4zm.1-.4zm0-.4zm.3 0zm0 .9zm0-.3zm.1-.7zm0 1.3zm.7-.8zm.1 .6zm.4-.7zm.2 .9zm.1-.3zm0-1.1zm.1 .4zm.2-.1zm.1 .2zm.3-.3zm.1 .6zm.1-.4zm.1 .5zm.1 .3zm.2-.5zm.1 .6zm.6-1.1zm.1 1.1zm.3-.9zm0 .4zm.1-.6zm.2 .1zm.1 .9zm0-.3zm.1 0zm0-.8zm0 .8zm0-.5zm.3 0zm.3 .3zm.2-.6zm.1 .1zm.2 1zm.3 .2zm1-.1zm0-.6zm.4-.7zm.1 1.4zm.3-.7zm.1-.6zm1.7 .6zm0 .1zm.2-.1zm1.1 .6zm.1-.3zm.2-.6zm.3 .4zm.1-.4zm1 .8zm.2-1.2zm.9 .8zm1-.6zm3.4 .4zm18.3-.3zm-24.4 1.7zm-.7 .9zm-.1-.7zm-.2-.2zm-1.1-.4zm-.1 .7zm-1.3 .4zm-.1 .1zm-.5-.9zm-.6 .1zm-.2 .7zm0-.8zm-.2 .6zm0-.1zm-.1-.6zm0 .2zm-.3 .7zm-.1-.9zm-1.1 1zm-.2-.7zm-.1 .4zm-.8-.9zm-.2 .2zm-.1 .5zm-.1 .4zm-.4-.6zm-.1-.3zm-.2 .8zm-.2-1.1zm-.5 .8zm-.3 .4zm0-.2zm-.2-.8zm-.1 .9zm-.1-.9zm-.3-.2zm-.1 1zm0-.1zm-.1 .5zm-.1-.2zm-.1-.2zm-.1-.1zm-.3-.3zm-.1-.2zm-.1 .1zm-.2 .7zm-.3-1.1zm-.5-.1zm-.7 .1zm-.3 .1zm-.1 .4zm0-.6zm-.5 1.4zm0 0zm0-.7zm-.4 .3zm-.3-.2zm-.5 0zm-.1-.6zm-.2-.1zm-.5 .6zm-.1 .2zm-1.1-.1zm-.4-.3zm-.1-.2zm-.4-.1zm-.1 .2zm-.4-.3zm-.7 1zm-.3 .2zm-.2-.9zm-.8 .9zm-.3 .1zm-.1-.4zm-1.2-.7zm-2.8 .4zm-.8-.3zm-.1 0zm-.7 .4zm-.8 .2zm-.4-1zm-.7 0zm-.4 0zm-.5 .1zm-4.1 .8zm-1.7-.8zm-.1 1.2zm.3 .8zm.1-.4zm4 1zm2.3-.8zm.1 .1zm.4 .8zm.7-1.3zm1 .8zm2-.7zm.6 1zm.7-.7zm.1 .2zm.7 .1zm.2 .6zm.6-.8zm.3 .1zm.3-.3zm.3 .2zm.5 .7zm.9-.3zm0-.5zm.3 .2zm.2-.6zm.2 1.4zm.4-.7zm1.5-.4zm.1 .5zm0-.3zm.5-.5zm.1 0zm.8 .5zm0 .2zm.2-.1zm.9-.5zm.5 .7zm.9 .4zm.1-.8zm0-.3zm.1 .3zm.6-.3zm.2 .9zm.3-.8zm.1 .3zm0 .9zm.2-1.3zm0 .7zm.1 .4zm0-1.1zm0 .7zm0-.6zm.2 .1zm.5 .5zm.3-.1zm.6 .7zm.1-.3zm.3-1zm.1 1.2zm.8-.7zm.4 .1zm.1 .5zm0-.4zm.3-.3zm.2-.1zm.4 1zm.3-.9zm.1 .1zm.1 .1zm.2 .1zm.1 .2zm.3-1zm.4 .2zm.3 .4zm.8 .7zm0-.2zm.6-.3zm.1 .5zm.2 0zm.1-.7zm0 .2zm.5-.5zm1.9 .4zm.8 .4zm.2 .1zm10.6-.5zm-11.5 2.1zm-2.4-1.3zm-.6 .7zm-.5 .2zm-.3-.3zm0-.3zm-.1 .8zm-.6-.5zm-.1 .1zm-.6 0zm-.6-.5zm-.1 1.1zm-.9-.8zm-.5 .9zm-.2-1.1zm0 .8zm-.4-1.1zm-.3 .9zm-.1-.7zm-.1 0zm-.2-.2zm0 1.4zm-.1-.7zm-.3-.3zm-.1-.4zm-.4 1.1zm0-.9zm-1.2 .4zm0-.2zm-.3 .5zm-.8 .2zm-.9-1zm-.6 .7zm-.1 0zm-1.4-.2zm-.1 .1zm-.9-.1zm-.4 .4zm-.6-.8zm-.4-.2zm-1.2 .7zm-.1 .4zm-.3-1.1zm0 .7zm-.8-.4zm-1.8 .2zm-.7 .5zm-.8-.2zm-1.8-.5zm-.1 .3zm-.3-.3zm-.1 0zm-1 .6zm-2-.5zm-.7 .5zm-.1-.9zm-1.8 1zm-1.6-.8zm0 2zm2 .1zm.8-.7zm2.9-.1zm2.6 .5zm1.4-.1zm.1 0zm.1 .7zm.4-.1zm2.4 .4zm0-1zm1.8 .6zm.4-1zm1.1 .1zm0 .4zm.2 .2zm.6 .4zm1.2-1.1zm2 .8zm1.6-.6zm.4 1.2zm.8-1.3zm.3 1.1zm.8-1zm.1-.1zm.6 0zm.8 .3zm.6 .6zm2-.1zm.2-.5zm1.3 0zm1.1-.3zm.1 .1zm2.8 .5zm2.4-.4zm5.5 .4zm13.6 .3zm-19.8 1.9zm-3.4-.5zm-.2-.7zm-3.7 1.1zm-1.4-.6zm0 .2zm-1-.6zm-.3-.2zm-1.4 .8zm-1.1-.3zm-2.5 .3zm-.2-.9zm-4.2 .2zm-3 1zm-.5-1.1zm-1 .2zm-4.5 .2zm-5.9-.1zm-2.9 .5zm3.9 2zm1.3-1.2zm2.2 .5zm5.3-.6zm.2 0zm3.1 .8zm2.6 0zm1.3-.2zm.4 .5zm.6-1.1zm0 .9zm.4-.6zm.6 .1zm3.5 .2zm3-.6zm2.5 1zm1.1-.9zm.7 .5zm.5-.3zm.7 .8zm9.7 .1zm8.4-.3zm-24.2 .5zm-5.3 1zm-4.7-.2zm-1.8 .1zm-.2-.7zm-2.8 .4zm-8.4-.4zm1.8 2.7zm2.9-1.3zm13 .5zm1-.5zm9.3 .9zm20 .3zm-17.8 1.1zm-20-.6zm-2.1-.3zm-9 .9zm3.4 1.7zm4.9 0zm14-1.1zm1.4 .2zm15.8 .7zm4.2-.1zm-23.6 1.3zm-1.4-.6zm-4 .6zm19.8 3zm-13.4 .1zm-9.9 .4zm-.9 .3zm-5.2-.3zm13.9 1.5zm1.8-.4zm1-.4zm10.8-.1zm6.9 1.1zm13.8-.9zm-8.8 2.3zm-16.1 .1zm-.5-1.2zm-4.2 .7zm-.1 .2zm-.4-.5zm-.4 .9zm-1.9 0zm-3.4-.3zm-3.7-.8zm-3.9-.3zm-.8 1.4zm-6.8-1.3zm3.2 2.7zm4.3-.3zm4.8-.7zm.1-.2zm.7 .9zm1.4 .4zm.3-.4zm1.7 .4zm.7-.5zm.5 .2zm.7-.6zm1.9 .9zm.2-1zm1.4 .1zm1.8-.3zm.1 .6zm3.7 0zm5.5 .5zm.2 .9zm-3.5 .3zm-.3 .1zm-.5-.8zm-1.4 .2zm-.9 .9zm-.7-.2zm-1.5-.5zm-.1-.2zm-.1-.4zm-.5 .2zm-1.2 1zm-.5-1zm-.2 1.1zm-1 0zm-.2-1.1zm0 1zm-.7-.1zm-.6-.4zm-.5-.8zm-.5 1.1zm-.3 0zm-.1-.1zm-.2-.7zm-.2 0zm-.1 1.1zm-.3-.7zm-.5 0zm-.2 .4zm0-.6zm-.8 .5zm-1.3 .1zm-.6-.8zm-.8-.2zm-.5 .8zm-.7-.1zm-.1 .6zm-1.3-1.4zm-.8 .2zm-1.8 1zm-2.7-.3zm-1.7-.5zm-3.3 .9zm-4.5 .5zm2.6 .9zm5.7-.7zm.7-.1zm.9 .4zm2.2-.1zm0 .4zm5.8-.7zm0 .2zm.1 .1zm2.5-.6zm.7 1.1zm.3-.7zm.4 .9zm1.2-1.4zm.3 .6zm1.2 .4zm.4 .4zm.2-1.3zm0 .1zm0 1zm.3-.3zm.1-.5zm1 .6zm.4-1zm.4 1.1zm.6-.4zm.4-.6zm.7 .6zm.4 .1zm2.9-.1zm-2.7 2.1zm-.3-1.2zm-1.1 .6zm-1.1 .7zm-.3-.9zm-.1 .5zm-.1 .3zm-.1-1.1zm-1 0zm0 1zm-.1-.9zm-.7 0zm-.1 .2zm-1 .6zm-.2-.5zm-.3 .2zm-.1 .5zm-1.6-.1zm-.2-1.2zm0 .7zm-.1 .1zm-.1 .2zm-.1-.4zm-.1 .7zm0-.9zm-.2 .8zm-.6-.9zm-.3 0zm-.7 .6zm-.2 .4zm-.2-.5zm-.1 .4zm-.1-.3zm0 .5zm-1.6-1zm-.3 .1zm-.4 .7zm-.5-.6zm-1.4 .6zm-.6-.1zm-.4 .2zm-.2 .1zm0-1.1zm-1.5 1zm-3.1-1.2zm-1.5 0zm-3.1 .2zm-.9 .7zm-4.5 .7zm6.7 1.1zm.7-.9zm1.3 .7zm.3-.2zm4.9 .5zm.3-.7zm.5-.1zm.9 0zm1.1 .6zm.2-.3zm.1-.4zm.7 .5zm.3-.5zm.2 .2zm.1 .2zm1.2-.2zm0-.1zm.2-.3zm.8 .4zm0-.7zm.5 .4zm.2 .2zm.4 .3zm.4 0zm.2-.1zm.6-.4zm0-.2zm.2 0zm.3 .7zm.4-.1zm.1 0zm.5 .6zm.1-1zm.3-.2zm.4 .3zm0-.4zm.4 1.2zm1-1zm.2 1.1zm.1-1.1zm.1-.1zm1.2 .5zm.6-.3zm1.4 .6zm.6 .1zm1.4-.6zm.7-.4zm1.2 0zm1 .9zm1 .2zm.3-.1zm5.8 .8zm-5 0zm-3.5-.4zm-.8 .4zm-.9 .1zm-.6-.1zm-.1 .6zm-.3-.2zm-.3-.4zm-.5 .4zm0 0zm-1-.4zm0 .9zm-.6-.4zm-.4-.4zm-1 .8zm0-.6zm0 .2zm-.4-.3zm0-.1zm-.4-.3zm0-.1zm-.1 1.1zm-.1-.3zm-.1-.3zm0-.3zm-.1 1zm-.2-1.1zm-.2 .5zm-.4 .1zm-.7-.1zm-.2 .2zm-.5-.9zm-.8 0zm-.1 .6zm0 .3zm-.1 .3zm0-.8zm-.4 .5zm0 .4zm-.1-1.3zm-.7 .9zm-.4-.9zm-.1 .1zm-1 .8zm-.3 .1zm-.5 0zm-.2 .2zm-2.1-.8zm-.3 .6zm-2-.6zm-1.2-.2zm-1.4-.2zm-.2 .9zm-1.8-.2zm-.7-.1zm-1.5 .4zm-2.6 1.8zm4.4-1.3zm2.1 1zm2.7 .2zm.7-.3zm4.9-.1zm1-.4zm.2 .2zm.4-.3zm.9 .3zm.2-.6zm0 1.2zm.9-1.2zm.6 .5zm1.3 .9zm0-.1zm.2 .1zm1.4-1.3zm.7 .6zm.2 0zm0 .5zm.2 .2zm1.2-.9zm0-.2zm.2 1zm0 .1zm.1-.8zm.2 .8zm2-1.3zm5.9 2.2zm-9.2-.3zm0-.3zm-.4 .3zm-1.1 .7zm0-.2zm-.6-.4zm-.2 .7zm0-1.2zm-.8 .2zm0 0zm-1.5 .9zm-.2-.2zm-.5-.3zm0-.6zm-.4 .2zm-.8-.2zm-.1 .5zm0-.4zm-1.5 .6zm-.2-.2zm-.1 0zm-1.7 .8zm-.3-1.4zm-.9 .7zm-.3-.2zm-3.7 .2zm-.1 .2zm-2.8-.8zm-6.4 .1zm11.8 2.3zm2.3-.4zm2.3-.4zm1.4 0zm.9-.2zm.3 1.3zm.2 0zm1-1.1zm.3 .8zm2 .3zm-2.7 .5zm-1.9 .3zm-.2-.6zm-1.4 1.1zm-1.2-1.1zm-1 1.1zm-8 0zm-2.9-.6zm11.4 1zm12.2 2.3z" stroke="#000" stroke-opacity="0.6" stroke-width="0.8" stroke-linecap="square" fill="none" filter="url(#bl)"/>
<line x1="201.50" y1="327.60" x2="201.50" y2="391.40" stroke="#777" stroke-width="0.8"/>
<line x1="165.60" y1="363.50" x2="230.60" y2="363.50" stroke="#777" stroke-width="0.8"/>
<rect x="165.50" y="327.50" width="65.00" height="64.00" fill="none" stroke="#333" stroke-width="0.9"/>
<text x="167.20" y="332.00" font-size="4.0" font-weight="bold" fill="#333">77.8%</text>
<text x="167.20" y="389.80" font-size="4.0" font-weight="bold" fill="#333">19.3%</text>
<text x="229.40" y="389.80" font-size="4.0" font-weight="bold" fill="#333" text-anchor="end">0.336%</text>
<text x="225.00" y="335.60" font-size="7.37" font-weight="bold" fill="#000" text-anchor="end" textLength="9.00" lengthAdjust="spacingAndGlyphs" stroke="#000" stroke-width="0.3">2.5</text>
<text x="173.40" y="397.00" font-size="3.0" font-weight="bold" fill="#666" text-anchor="middle">0</text>
<text x="183.15" y="397.00" font-size="3.0" font-weight="bold" fill="#666" text-anchor="middle">10²</text>
<text x="198.10" y="397.00" font-size="3.0" font-weight="bold" fill="#666" text-anchor="middle">10³</text>
<text x="213.70" y="397.00" font-size="3.0" font-weight="bold" fill="#666" text-anchor="middle">10⁴</text>
<text x="227.35" y="397.00" font-size="3.0" font-weight="bold" fill="#666" text-anchor="middle">10⁵</text>
<line x1="173.40" y1="391.90" x2="173.40" y2="393.20" stroke="#666" stroke-width="0.35"/>
<line x1="178.60" y1="391.90" x2="178.60" y2="393.20" stroke="#666" stroke-width="0.35"/>
<line x1="183.15" y1="391.90" x2="183.15" y2="393.20" stroke="#666" stroke-width="0.35"/>
<line x1="192.90" y1="391.90" x2="192.90" y2="393.20" stroke="#666" stroke-width="0.35"/>
<line x1="196.15" y1="391.90" x2="196.15" y2="393.20" stroke="#666" stroke-width="0.35"/>
<line x1="198.10" y1="391.90" x2="198.10" y2="393.20" stroke="#666" stroke-width="0.35"/>
<line x1="208.50" y1="391.90" x2="208.50" y2="393.20" stroke="#666" stroke-width="0.35"/>
<line x1="211.75" y1="391.90" x2="211.75" y2="393.20" stroke="#666" stroke-width="0.35"/>
<line x1="213.70" y1="391.90" x2="213.70" y2="393.20" stroke="#666" stroke-width="0.35"/>
<line x1="223.45" y1="391.90" x2="223.45" y2="393.20" stroke="#666" stroke-width="0.35"/>
<line x1="226.05" y1="391.90" x2="226.05" y2="393.20" stroke="#666" stroke-width="0.35"/>
<line x1="227.35" y1="391.90" x2="227.35" y2="393.20" stroke="#666" stroke-width="0.35"/>
<ellipse cx="259.1" cy="348.6" rx="13.5" ry="14.0" fill="url(#bg)" opacity="0.5" clip-path="url(#c11)"/>
<ellipse cx="248.6" cy="348.6" rx="23.4" ry="16.9" fill="url(#bg)" opacity="0.18" clip-path="url(#c11)"/>
<ellipse cx="260.1" cy="377.6" rx="12.5" ry="9.9" fill="url(#bg)" opacity="0.35" clip-path="url(#c11)"/>
<ellipse cx="248.6" cy="377.1" rx="20.8" ry="10.4" fill="url(#bg)" opacity="0.08" clip-path="url(#c11)"/>
<path d="M244.6 330.8zm10.1 2.1zm-19.5 0zm8.9 1.5zm15.4-.2zm-.3 .8zm-.6-.3zm-.4 1zm-3.1 0zm-4.7 0zm-.5-.1zm-1.4-.1zm-1.6-.7zm-4.6 .8zm-8.1-.6zm-1.2 1.7zm.3 .2zm4.9-.3zm3.9-.3zm1.4 .9zm11 .2zm3.2-.3zm1.7 0zm.4-.1zm1.1 .1zm2.1-.6zm.3 .7zm2.4 1.7zm-3.4-.1zm-1.3-1.3zm-2.6 .7zm-.3 .4zm-.1-.9zm-.5 .4zm-1.2-.2zm0 .9zm-2.3-.6zm-1-.5zm-.4 .9zm-.7 .1zm-1.1-.3zm-.1-.2zm-2.5 .5zm-1.4-.2zm-7.5 .2zm-.4-.6zm-3.1 .4zm-3.2 .3zm.9 1.5zm4.9-.4zm6.7 .2zm.3-.7zm1.8-.4zm.9 .2zm1.6 .3zm.5 .3zm0 .3zm.8 .3zm.3-.9zm.1 .7zm.2-.2zm1.6 .1zm.6 .2zm.1-.5zm.9-.8zm.2 .3zm.1 .9zm0-1.2zm.3 .6zm.1 .1zm1.4-.4zm.2-.2zm0 .2zm.5-.3zm.8 .9zm.5-.2zm.4 .4zm1.3 0zm.5-.6zm.2 .1zm.7 .8zm1.8-1zm0 .1zm3.5 .6zm4.6 .6zm-2.6-.2zm0 .8zm-1.5 .1zm-1.8-.6zm-.3 .2zm-.2 .8zm-1.1-.6zm-.2 .6zm-.6-.7zm-.8 .2zm-1.5 .1zm-.1 0zm-.3 0zm-1.1 .3zm-.3-.6zm-.3-.5zm-.1 .3zm-.1-.2zm-.5 .4zm-.1-.1zm-.1 .9zm-.2-.2zm-.1-.1zm-.4-1.1zm-.2 .6zm-.4-.3zm-.7 1.1zm-.2-1.4zm-.3 .2zm0 .2zm-.8-.2zm-.1 1.2zm-.2-.2zm-.5 0zm-.9-.3zm-.6 .5zm-.1-.3zm-.5-.2zm-.4-.1zm-1.1 .2zm-.1-.7zm-.2 1zm-.2-.2zm-.3-.7zm-1.2 .6zm-3.5 .2zm-.4 .2zm-.3-.3zm-.4-.2zm-1.1-.8zm0 .8zm-4.6 .2zm-6-.2zm2.7 .8zm3.9 .4zm.9-.4zm.1 .7zm.4 .5zm5.2-.8zm.6 0zm4.3-.3zm.4-.2zm.5 .4zm1.1 .1zm.2 .6zm.2-1.1zm.2 .8zm.1-.8zm.1 .9zm.2 .2zm.2-.5zm.7 .5zm0-1.1zm.5 1.2zm.2 0zm.2-1.3zm.1 .3zm.7 .7zm.4 0zm.2 .3zm.6-.7zm.2 0zm0-.1zm.7 .6zm.1-.7zm0 .5zm.9-.3zm.1 .2zm.9 .5zm.3-.2zm.1-.2zm.2-.2zm.2-.4zm.4 .6zm.1-.2zm0 0zm.2 .2zm.7-.1zm0 .4zm.1-.4zm1.6-.3zm.1 .5zm.1 .3zm.4-.6zm.1-.2zm.5 0zm.2-.1zm.3-.4zm2 .4zm.6-.4zm4.8 2.3zm-1.3 .5zm-3.4 .1zm-1.6-.2zm-.2-1.1zm-.3 .8zm-1.1-.9zm-.2 .1zm-.1 1.3zm-.1-1.2zm0 .7zm-.2-.9zm-.6 1.2zm0-.9zm-.9 .4zm-.2-.4zm-.1 1zm-.2-1.2zm0 .6zm-.1-.1zm-.3 .4zm-.5 .2zm-.6-1zm0 1.2zm-.1-.5zm-.1 .1zm-.4 .3zm0-1.3zm-.3 .5zm-.1 .6zm-.7 .3zm0-1.3zm-.1 1.2zm-.1 0zm0 .1zm-.3-1.4zm-.1 1.3zm-.4-1.1zm-.1 1.1zm-.1-.5zm-.1 .3zm-.1-1.1zm0 .7zm-.1 .3zm-.1 .4zm-.1-1.2zm-.1 1.1zm-.1-.1zm-.1-.2zm-.4-.4zm-.2-.4zm0 .8zm-.1-.6zm-.6 .8zm0-.1zm-.1-.6zm0-.2zm-.1 .5zm-.2 .5zm0-.1zm0-.1zm-.1-.4zm-.3 .4zm-.6-1.1zm0 1.2zm0 .1zm-.2 .1zm-.5-1.4zm0 .7zm-.3 .6zm-.1-1.1zm-.5 .1zm-.3 .6zm-.1-.1zm-.2 .3zm-.5 .3zm-.5-1.4zm-.3 1.1zm-.8-.3zm-.3 .1zm-.2 .5zm-2.2-.8zm-.5 .7zm-.4-.5zm-.6-.7zm-.1 .3zm-2.1 .1zm-3.6 .3zm-.4 .1zm-1.7-.2zm-.2 .7zm-5.8 .1zm.1 1zm.3-1zm1.1 .2zm3.8 .8zm.1-1zm.7 .4zm3.4-.1zm.6 .6zm0-.2zm2.4 .5zm.9-.7zm0 .6zm.8 0zm.1-.9zm1.2 .5zm.1-.1zm.6-.3zm.4 1.1zm0-.7zm1-.3zm1 .3zm.1 .7zm.3 0zm.1-.4zm0-.7zm.3 .2zm.1-.1zm0 .2zm.1 .1zm.1-.3zm.4 1zm.1-.2zm.2-.8zm.1 0zm.1 1zm0-.4zm.1 0zm.1-.1zm0-.2zm.1 .6zm.1-1.2zm.2-.1zm.1 1.3zm.2-1.3zm.1 1.3zm.2-.5zm.1-.7zm.3 .4zm.3-.1zm.2-.4zm.1 .4zm0 0zm.1 0zm1.4 1zm.2 0zm0-.7zm.2-.2zm.2-.5zm0 1.3zm.2-1.3zm0 1.4zm.1-.5zm.1-.6zm.3 .5zm.1 .3zm0 0zm.1-.9zm0 .2zm.1-.2zm.1 .8zm.1-.6zm0-.2zm.1 .1zm.1-.2zm0 .5zm0-.1zm.2-.4zm.2 1.3zm0-1.3zm.1 .7zm.2-.7zm0 1.1zm.2-.4zm.2 .3zm0 .3zm.3-1.3zm.5 .6zm.2 .2zm0-.5zm0 .7zm0 .3zm.1-.4zm.1-.8zm0-.2zm.2 .6zm.3-.3zm.1-.2zm.2 .8zm.3 .5zm.4-.4zm.2-.8zm.1 .8zm.2-.3zm.5 .4zm.1-.7zm.4 0zm.4-.2zm.1 .9zm.6-.6zm.6 .4zm.5-.9zm.2 .8zm.2-.8zm.3 .5zm.1-.3zm.3 .3zm0 .5zm.5-.4zm.9 0zm6.6 .8zm4.2 .5zm-11.7 .6zm-.1-.1zm-.2-.7zm-.1 1.2zm-.3-.5zm-.3-.6zm-.6 .9zm-.7-.3zm-.2 .5zm-.5-.6zm-.1 .2zm0-.3zm-.1-.6zm-.2 0zm-.1 .7zm-.1-.3zm-.8 .7zm-.1-1.2zm-.2 1zm-.1 .1zm-.2-.9zm-.1 .5zm-.3-.1zm-.1 .6zm-.1 0zm-.1-1.1zm-.3 1.2zm-.4-.1zm-.2-.6zm-.5-.1zm-.1-.2zm-.1 0zm-.2 1.1zm0-.1zm-.2-.7zm0 .1zm-.2-.1zm-.3 .6zm-.2-.7zm0 .1zm-.1-.4zm-.3 .8zm-.1 .3zm-.1-.9zm-.1-.4zm-.1 .1zm-.4 1.1zm-.2-.9zm-.1 .8zm0-.5zm-.1-.1zm0 .2zm-.1-.7zm-.5 .2zm-.2-.1zm-.2 .5zm0-.5zm-.3 1.1zm-.1 0zm-.2 0zm-.3-.3zm-.1-.1zm-.3-.7zm0 1zm-.1-.2zm-.3-.7zm-.2 .4zm-.1-.1zm-.2-.5zm0 .5zm-.1-.3zm-.6 .6zm-.2 .2zm-.1-1zm-.3 .5zm-.2-.4zm-.1 1.1zm-.7-.4zm-.6-.3zm-1.8 .1zm-.1-.3zm-.6 1zm-.3-.2zm0-.4zm-.6-.3zm-.8 .3zm-.4 .5zm-1.1-.7zm-.6-.4zm-.2 .6zm0-.7zm-1.8 1zm-.2-.9zm-.4 .8zm-.9-.9zm-4.1 1.3zm-3.5-1.3zm-1.6 .8zm.1 1zm5.4 1zm.5-.2zm1.4 0zm.3-1zm.5 .6zm1.1-.1zm.8-.4zm1.4-.1zm.8 1.2zm1.7-.3zm.1-1zm1.1 1.3zm.3 0zm2.2 0zm.4-1.1zm.3 0zm.3 .6zm.9-.2zm0-.2zm.4 .1zm.2 .2zm0-.5zm.2 1.1zm.1-.7zm.3 .7zm.1-.7zm0 .5zm.5 .1zm.2-1zm0 .5zm.4-.5zm.4 1.1zm.2-1.3zm.2 .4zm0 1zm.2-1.3zm.1 1.3zm.1-1.4zm.5 .4zm.1-.4zm.2 .8zm.2-.2zm.1 .5zm0-.2zm.1 .2zm.1-1zm.1 .6zm.1 .5zm.1-.3zm0-.5zm.7 .3zm0 .5zm0-1zm.1 .5zm0-.7zm0 0zm.7 .4zm.1 .9zm.1 0zm.1-.8zm.1 .7zm.3-.8zm.1 .2zm.2-.3zm.2 .9zm0-.5zm.4-.5zm.1 .9zm0 .2zm.3-.7zm.7 .2zm.2 0zm0-.2zm.1-.3zm.1-.3zm.5 .7zm0-.5zm.1 0zm.1-.1zm.3 .5zm.6-.1zm.2 .2zm.2-.1zm.1-.3zm.1 .9zm.2 .2zm0-.5zm.2-.9zm.4 .8zm.1-.2zm.2-.6zm.5 1.2zm0-.7zm0 .1zm0-.6zm0 .8zm.2-.7zm.1 0zm.2 .3zm.2-.2zm1 .2zm.3 0zm1.1 .2zm.1 .3zm3.4 .5zm1.3-1.4zm-.4 2.8zm-2.3-.5zm-1.9 .5zm-.3-1.2zm-.5 1.2zm-1.8 0zm-.7-.4zm-.2-.8zm0 .2zm-.3 .3zm-1.2-.4zm-.5 0zm-.3 .7zm-.4 .2zm-.1 .1zm-.3 .2zm0-.7zm-.3-.5zm-.1-.2zm0 1.1zm-.1-1.1zm0 1.2zm-.1-.1zm-.1 .1zm-.1 .2zm-.2-.9zm-.5 .5zm-.3 .2zm0-.3zm-.1-.8zm-.2 .3zm-.1-.4zm-.3 .7zm-.1-.4zm-.1-.3zm-.1 1.2zm0-.3zm-.4 .3zm0 .2zm-.1-.5zm-.3 .3zm-.3-.1zm0 0zm-.1-.9zm-.1 .7zm-.1-.9zm0 .7zm-.2-.7zm-.3 .6zm0-.3zm-.1 .5zm-.1-.7zm-.2 .5zm-.1 .3zm-.1-.3zm0-.3zm-.1 .6zm-.1-.8zm0 .1zm-.1 0zm-.1 1.2zm-.1-.1zm0-.5zm0-.3zm-.1 .6zm-.1 .1zm-.1 0zm0 .2zm-.1-.5zm-.3-.3zm0 .2zm-.7 .3zm-.2 .1zm0-1.1zm-.1 .1zm0-.1zm-.2 .7zm-.1-.3zm-.2-.1zm-.2 .5zm-.3 .4zm0-.1zm-.1-.7zm-.1 .8zm0-.4zm0-.7zm-.1-.2zm-.2 .7zm-.1 .5zm-1.3-.9zm-.1 1.1zm-.5-.5zm-.3-.8zm-.1 1.2zm-.2 0zm-.2-.5zm-.5-.6zm-.6 .8zm-.3-.1zm-.8 0zm-1.9-.9zm-2.2 0zm-.7 0zm-.6 1.4zm-4.9-.7zm-.2-.1zm-.2-.4zm-.1 .1zm-.8-.2zm-4-.1zm-.3 0zm-.1 .3zm3 2.6zm3.7-.2zm1.5-.3zm1.2-.5zm.1 .6zm.4-.1zm.6-.7zm.4 1.2zm.2-.2zm3-1zm1.9 .2zm.6 0zm.4-.3zm.3 .1zm.3 1.1zm.9-.7zm.1-.6zm0 .9zm.2 .5zm.1-.5zm.5-.9zm.5 .8zm.4-.6zm.3-.1zm0 .3zm1 .9zm.1-.4zm.5-.1zm.4 .6zm.1-.4zm.1-.2zm.2-.7zm.2 .1zm.2 .7zm.2 .2zm.1 0zm.3-.3zm0 .5zm.4-.3zm.7-.2zm.2-.2zm.2-.6zm0 .4zm.4 .3zm.3-.7zm.1 1.2zm.2-.3zm.3-.5zm.4-.4zm.1 .1zm.4 .9zm0 .2zm.1-.7zm.1 .6zm.1 0zm.2 .2zm.4-.1zm0 .2zm.3-.4zm.1-.4zm.1 .6zm.5-.4zm.3 .5zm.2-.3zm.1-.9zm0 .4zm.1-.1zm.1 .4zm.2 .3zm0 0zm.4-.7zm.3-.1zm0 .2zm.9 .6zm0 .3zm.6-1.3zm0 1.3zm0-1zm.6-.4zm.8 .9zm.2 .2zm.4-1.1zm1.4 .3zm.9 1zm.2-.5zm1.3-.5zm.6 .6zm.1-.1zm9.6 .2zm-4.3 .7zm-6.4 .4zm-1.9 .3zm-1.5-.6zm-.6 0zm-.3-.3zm-.8 .9zm-.6-.8zm-.4 0zm-.2 .2zm-.2-.1zm-1.3-.1zm0 .1zm-.1-.1zm-.7 .2zm-.1-.1zm0 .3zm-.2 .5zm-.4-.6zm-.4-.3zm-.1 .3zm-.6 .3zm0 .7zm-.1-.3zm-1.1-.2zm0-.1zm-.6 .5zm0 .1zm-.2-.7zm-.1 .4zm0-.3zm-.4-.8zm-.2 .9zm0-.7zm-.1-.2zm-.4 .2zm-.2 1zm-.3-.5zm-.6-.7zm-.9 .6zm-.2-.6zm-.1 .1zm-.1 1.2zm-.1-.6zm-.6-.3zm-.3 .7zm-.1-.3zm-.1-.4zm-.2 .8zm-.2-.9zm0-.2zm-.2 .9zm-.1 .2zm-.2 .2zm-.9-.9zm-1.3 .7zm-.2-.9zm-.8 .2zm0 .4zm-.2-.2zm-2.1 .6zm-.3-1zm-.2-.3zm-1.1 1.1zm-.5-.6zm-1.5-.1zm-1.6-.1zm-.4 .6zm0-.2zm-.6 0zm-2.5 .4zm-2.6-.8zm-3.1 2.3zm5.2-.3zm4.9 .6zm.1-.9zm.1-.4zm1.2 0zm.8 .9zm.4-.6zm.4 0zm1 .1zm.4 .1zm.8 .1zm.9 .1zm.5-.3zm.3 .8zm.1 0zm.7-1.3zm.1 0zm0 .3zm.3 .6zm0-.2zm.3 .3zm.7-.3zm.3-.5zm.1 .2zm.7 .5zm.3-.8zm.1 .8zm.8 .5zm.3-.7zm.3-.5zm.1 0zm0 1.2zm.1-.9zm.1-.5zm.6 .8zm.8-.4zm0-.2zm.1 .4zm.1-.6zm.1 1.4zm.1-.1zm.1-.5zm.3-.7zm.2 1.1zm0-.1zm.4 .2zm.1-1.1zm.2 .8zm.3 0zm.2-.4zm1-.5zm.2 .3zm.3 .2zm.1 .4zm.2-.1zm.1-.8zm.1 .9zm0-.8zm.6 .2zm0 1zm1.3-1.3zm0 1.3zm.6-.5zm0 .3zm.2 .1zm.1-.8zm0 .6zm.1 0zm0 0zm.3-.5zm.5 .8zm.2 0zm.6-.2zm.1-.9zm.1 .6zm.2-.2zm.2 .7zm.5-1.3zm.9 .9zm.8 .2zm.4-.2zm2.8-.9zm-2.8 1.8zm-.8 1zm-1.3-.1zm-1-1.1zm-2.5 .8zm-.5-.4zm-1.4-.6zm-.1 .8zm0-.3zm-.5-.1zm-.3-.4zm-.1 .9zm0-.1zm-.1 .2zm-1-.3zm-.2-.4zm-.2 .2zm-.8-.2zm-.6-.1zm-1.1 .2zm-.2 .6zm-.2 .4zm-.2-.9zm-.6 .4zm-1-.4zm-.5 .4zm-.4-.3zm-.1 .7zm0 .1zm-.3-.5zm-1.1-.4zm-.3-.3zm-.2 .6zm-.6 0zm-2-.2zm-.7 0zm-.1-.2zm-2.4-.1zm-1.1 .4zm-2.6 .6zm-2 .1zm-5-1.1zm-2 1.2zm.9 .1zm5.6 .5zm0-.3zm11.2 1zm.3-.4zm.6 0zm.7-.1zm.2-.5zm.1 .8zm1.7-.7zm.1-.2zm.3 .9zm.5-.2zm.4-.1zm.6 .6zm.3-.2zm.2-.7zm1.2-.2zm1.6 .6zm.8-.1zm.1-.3zm.1 .7zm.5 0zm.1-.7zm0-.5zm.7 0zm1.5 .2zm.2 0zm1.9 0zm1 .9zm1.2 .1zm4.7 1.4zm-4.7-.2zm-2.3-.7zm-.3-.1zm-.1 .5zm-.1-.4zm-.2 .3zm-1 0zm-1.3 .3zm-2.3-.7zm-3.7 .9zm-.2 .1zm0 .1zm-.1-.3zm-1.9 .5zm-.5-1.1zm-2.5 .5zm-10.9 .5zm-3.6-.9zm-3.4-.1zm11.9 1.9zm.2-.1zm.1 0zm8.4 0zm4.6 .1zm5.6-.2zm.3 .8zm0-.8zm1.9 .8zm.6-.6zm1.3 .7zm10.9 .3zm-5.4 .4zm-2.5-.5zm-18.4 .4zm-.9 .7zm-2.6-.5zm1.4 .9zm0-.1zm1.2 1zm1.2 .1zm7.6-.3zm3.7 .2zm6.7 .4zm20.7 1.4zm-26.8 .1zm-13.5-.2zm-6.7 .1zm-8.1 .9zm29.8 .4zm9-.8zm6.4 1.3zm-9.2 1zm-5.1 .2zm-12.5-.6zm-.7-.4zm-6.1 0zm-10.7 .4zm-1.6 2zm13.5 .2zm1.6-.7zm2.9 .7zm.3-.8zm3.2 .5zm.4-.9zm2.9 .4zm.9-.5zm.8 1.3zm1.2-1.3zm.3 1.3zm.8-.7zm5-.6zm6.3 .2zm-4.4 2zm-2.1 .5zm-2.6-1zm-.8 .6zm-.1-.1zm-.3 .2zm0-.8zm-.5-.2zm-.8 .9zm-.6 .3zm0-.9zm-.9-.3zm-.5 .4zm-1.9-.2zm-.1 .2zm-1-.2zm-1 .8zm-.5-.8zm-.2 .7zm0-.3zm-1.7-.2zm-1.7 .7zm-1-.1zm-1.8 0zm-.6 .2zm-4.6-.8zm-1.9 .9zm-2.1-.8zm-.8 .2zm2.1 1.4zm1 .7zm.4 0zm.1-.3zm.6-.8zm.5 1.1zm.7-.6zm.6 .2zm.4-.4zm2 .4zm3.4 .2zm1 0zm.7-.4zm.4-.3zm.1 0zm1.1 .7zm0-.4zm.4 .6zm.3-.3zm.9 .2zm0-.6zm0 .5zm0-.1zm.2 .4zm.3-.3zm1.4-1.1zm.2 .9zm.8-.3zm.2 .4zm.2-.3zm.1-.4zm.4 1zm1.4-.8zm.1 .3zm1.1 .3zm0-.4zm.5 .1zm0 .4zm.2-.2zm1.2-.9zm.7 .1zm.2 0zm.1 0zm2.2 .1zm2.2 2.6zm-4.3-.8zm-1.2-.3zm-1.4 .1zm-.2 .4zm-.1-.5zm-.1 .1zm-.2 .9zm-.2-.2zm-.1-.9zm-.7 .3zm-.5-.4zm-.1 .6zm-.2 .2zm-.1 .2zm-.1-.4zm-.2 .7zm-.1-1.3zm-.7 .5zm0 .5zm-.6-.2zm-.1 .5zm-.3-.6zm-.1-.8zm-.2 .8zm0 0zm-.2 0zm-.2 .3zm0-.3zm-.2-.1zm0 .5zm-.2 .1zm-.6-.1zm-.2-1.2zm-.3 .3zm0 1.1zm-.5-.4zm-.1-.7zm-.5-.1zm-.8 .8zm-.3-.4zm-.9 0zm-.1 .4zm-5.5-.6zm-1 .8zm-2.3-1zm-.3 1.2zm-.6-.6zm-.6-.1zm-2.5 .1zm-.7 .4zm-1-1.2zm-1.8 .6zm-.5 .5zm-3.6-.6zm-1.2 .5zm6.9 1.4zm.5 .3zm.2-.4zm.3-.5zm1.6-.1zm2.7 .9zm.7-1.1zm.6 0zm.7 .3zm.6 1zm0-1.3zm.3 .2zm.8 .3zm.4-.2zm.9 .6zm.2-.8zm.6 1.2zm.3-.9zm.1-.2zm0 .8zm.6-1zm.2 .7zm0-.1zm.1 .6zm.5 0zm.2-1.1zm.1 1.2zm0-1.3zm.2 .5zm.3-.3zm.3 .9zm0 .2zm.4 .1zm.8-1.2zm.5 .1zm.2 0zm0 .3zm.9 .8zm.1-1.1zm1-.2zm.3 .5zm.1 .5zm.4-.6zm.1 .7zm.1 .1zm.2-.8zm.6-.2zm.2-.3zm.6 1.1zm.1-.6zm0 .7zm.2-.3zm.1-.5zm.3 .7zm0 0zm.1-.3zm.1 .2zm1.1-.5zm0 .6zm.1-1zm.3 1.2zm.7-.7zm.2-.2zm.3 .9zm.4-.9zm.1 .5zm.1 .2zm.1-.5zm.2 .6zm1.8 0zm1 .1zm.5-.4zm2.4-.5zm.8 1.8zm-3.8 .2zm-.2-.8zm-.6 .2zm-.1 .9zm-.3-.3zm-.5 .5zm-.4-.6zm-.4-.4zm-.1 0zm0-.4zm-.4 1.2zm-.5-.5zm0-.5zm-.1 .5zm-.1 0zm-.4 0zm-.2-.7zm-.1 1.4zm-.2 0zm-.1-1.1zm-.3 1.1zm-.2 0zm-.1-.8zm-.2-.4zm-.1 .3zm-.1 .1zm0-.1zm-.5 .7zm-.2-.8zm-.2 .9zm-.1-.2zm-.1 .3zm-.1-.9zm-.1 .6zm-.1-.7zm-.1 .9zm-.3-.4zm0 .4zm-.1-.7zm-.3 .1zm-.2 .6zm-.2-1zm-.2 0zm-.2 .8zm-.1-.1zm-.7-.4zm-.1 .1zm-.1 .2zm0-.9zm-.4 1.3zm-.1-1.1zm-.5 1.2zm-.8-.3zm-.3-.7zm-.2 1zm-.6-.5zm-.7 0zm-.1 .1zm-.1-.1zm-.3 0zm0-.1zm-.9-.1zm-.4 .4zm-.3 .3zm-.1-.5zm0 .2zm-1-1zm-.2-.1zm-.2 .1zm-.3 1.3zm-.7-.7zm0 .3zm-3.7 .2zm-1.1-1zm-2.3 .4zm-3.9-.2zm-5-.2zm-.9 .6zm.2 1.2zm.3 .7zm8.7-.6zm2.3 .2zm1.3 .5zm.5-1.3zm.1 .1zm.7-.1zm.2 .8zm1-.4zm.5 .3zm1.2-.1zm.6-.4zm3.1 .1zm.6 .1zm0 .8zm.1-.2zm.5-.8zm.9 .1zm0 .7zm.3-.4zm.2-.4zm0 .9zm.1-.2zm.2 0zm0-.8zm.2 .6zm.6-.1zm.7 0zm.1-.2zm.1 .5zm.2 .4zm.1 0zm.4-.1zm.2-.6zm.1-.5zm.4 1.1zm.3-1.2zm.1 1zm.7 0zm0-.6zm.7 .4zm.1-.5zm0 .9zm.2-1.1zm.2 1.3zm0-.5zm0 .2zm0-.8zm.9 1zm.2-.4zm.2-.5zm.3 .1zm.1 .2zm.1 .2zm1-.6zm.1 .4zm.1-.3zm.1-.2zm.1-.1zm.1 .3zm.2 0zm.4-.4zm.2 .8zm.2-.8zm.3 1zm.3-.9zm4.2 .7zm.5 0zm1.3 .4zm-.8 1zm-2.5-.7zm-.6 .1zm-1.6 1.3zm0-.6zm-.6 .1zm-.5 .3zm-.7-.1zm-.4-.1zm-.3-.7zm-.4 .7zm-.1-.9zm-.7 1.1zm-.3-.4zm-.2-.2zm-.1-.1zm0 .8zm-.1 0zm-.7-1.2zm-.3 1zm-.2 .1zm-.1-1.1zm-.2 .6zm-.1 .7zm-.1 0zm-.1 0zm-.6-.3zm-.1 0zm-.3-.2zm-.4 .5zm-.4-1.2zm-.1 .8zm0 0zm-.3 0zm-.1 .2zm-.1-.2zm-.2 .1zm-.5-.8zm-.3 0zm-.3 0zm-.1 1.1zm-.5-.7zm-.3 .1zm-.5-.5zm-1.2 .4zm-.4 .4zm-2.6-.6zm0 .6zm-.7-.2zm-6.2-.1zm-1.7 0zm-1.2 .4zm-3.9-.9zm-5.3 1zm1.3 .6zm9.9-.3zm1.6 1.3zm2.5-1zm0 .1zm.5 0zm2.6-.3zm.3-.2zm1.1 .8zm.3 .3zm0 0zm.5-1.1zm.9 .8zm0-.4zm.6-.4zm.7 1.1zm.1-.4zm.1-.1zm.1 .7zm.4 .1zm.4-1.1zm.2 .9zm.1-.8zm.3 .9zm.2-.4zm.1-.6zm.3 .9zm.7 0zm.1-.9zm0 .4zm.6 .5zm.3-.7zm0-.1zm.2 .9zm.3-.7zm.4-.6zm.8 .4zm.7 0zm.3 .6zm.9-.1zm.1-.3zm.3 .4zm.3-.9zm.3 1.2zm.4-.4zm0-.8zm1.2 1.3zm0-.9zm.2-.2zm.4-.2zm.1 1.3zm1-1.1zm.2-.3zm1.7 2.5zm-2-.1zm-1.2-.3zm-.6 .1zm-2.1 .7zm-2.9-.9zm0-.5zm-2.2 .3zm-.4-.3zm-.2 1.2zm-.2-.2zm-.6-1zm-.3 .4zm-.3 .7zm-.3-.1zm-.9-.9zm-.5 .6zm-.5-.1zm-2.5 .2zm-1 0zm-2-.4zm-1.7-.4zm-4.1 .8zm-2.8-.7zm2.4 1.4zm.8 .9zm7.2 .1zm2.3-1zm2.9 1.3zm.1 0zm.4-1.1zm.8 0zm1 .5zm.1 .4zm.1-.5zm.3 .3zm.1-.6zm1-.1zm.9 1.2zm1.9-1zm2.4 0zm2.3 .1zm8.6-.2zm-13.4 1.6zm-.7-.3zm-1.4 .1zm4.4 1.5zm3.6-.2z" stroke="#000" stroke-opacity="0.6" stroke-width="0.8" stroke-linecap="square" fill="none" filter="url(#bl)"/>
<line x1="267.50" y1="327.60" x2="267.50" y2="391.40" stroke="#777" stroke-width="0.8"/>
<line x1="231.60" y1="363.50" x2="296.80" y2="363.50" stroke="#777" stroke-width="0.8"/>
<rect x="231.50" y="327.50" width="65.00" height="64.00" fill="none" stroke="#333" stroke-width="0.9"/>
<text x="233.20" y="332.00" font-size="4.0" font-weight="bold" fill="#333">62.9%</text>
<text x="233.20" y="389.80" font-size="4.0" font-weight="bold" fill="#333">34.5%</text>
<text x="295.60" y="389.80" font-size="4.0" font-weight="bold" fill="#333" text-anchor="end">0.947%</text>
<text x="291.20" y="335.60" font-size="7.37" font-weight="bold" fill="#000" text-anchor="end" textLength="9.00" lengthAdjust="spacingAndGlyphs" stroke="#000" stroke-width="0.3">1.7</text>
<text x="239.42" y="397.00" font-size="3.0" font-weight="bold" fill="#666" text-anchor="middle">0</text>
<text x="249.20" y="397.00" font-size="3.0" font-weight="bold" fill="#666" text-anchor="middle">10²</text>
<text x="264.20" y="397.00" font-size="3.0" font-weight="bold" fill="#666" text-anchor="middle">10³</text>
<text x="279.85" y="397.00" font-size="3.0" font-weight="bold" fill="#666" text-anchor="middle">10⁴</text>
<text x="293.54" y="397.00" font-size="3.0" font-weight="bold" fill="#666" text-anchor="middle">10⁵</text>
<line x1="239.42" y1="391.90" x2="239.42" y2="393.20" stroke="#666" stroke-width="0.35"/>
<line x1="244.64" y1="391.90" x2="244.64" y2="393.20" stroke="#666" stroke-width="0.35"/>
<line x1="249.20" y1="391.90" x2="249.20" y2="393.20" stroke="#666" stroke-width="0.35"/>
<line x1="258.98" y1="391.90" x2="258.98" y2="393.20" stroke="#666" stroke-width="0.35"/>
<line x1="262.24" y1="391.90" x2="262.24" y2="393.20" stroke="#666" stroke-width="0.35"/>
<line x1="264.20" y1="391.90" x2="264.20" y2="393.20" stroke="#666" stroke-width="0.35"/>
<line x1="274.63" y1="391.90" x2="274.63" y2="393.20" stroke="#666" stroke-width="0.35"/>
<line x1="277.89" y1="391.90" x2="277.89" y2="393.20" stroke="#666" stroke-width="0.35"/>
<line x1="279.85" y1="391.90" x2="279.85" y2="393.20" stroke="#666" stroke-width="0.35"/>
<line x1="289.63" y1="391.90" x2="289.63" y2="393.20" stroke="#666" stroke-width="0.35"/>
<line x1="292.24" y1="391.90" x2="292.24" y2="393.20" stroke="#666" stroke-width="0.35"/>
<line x1="293.54" y1="391.90" x2="293.54" y2="393.20" stroke="#666" stroke-width="0.35"/>
<text x="32.00" y="408.54" font-size="3.0" font-weight="bold" fill="#666" text-anchor="end">10⁵</text>
<text x="32.00" y="422.49" font-size="3.0" font-weight="bold" fill="#666" text-anchor="end">10⁴</text>
<text x="32.00" y="437.70" font-size="3.0" font-weight="bold" fill="#666" text-anchor="end">10³</text>
<text x="32.00" y="452.92" font-size="3.0" font-weight="bold" fill="#666" text-anchor="end">10²</text>
<text x="32.00" y="460.53" font-size="3.0" font-weight="bold" fill="#666" text-anchor="end">0</text>
<ellipse cx="64.0" cy="413.8" rx="12.5" ry="14.6" fill="url(#bg)" opacity="0.55" clip-path="url(#c12)"/>
<ellipse cx="55.4" cy="416.0" rx="26.0" ry="18.2" fill="url(#bg)" opacity="0.22" clip-path="url(#c12)"/>
<ellipse cx="62.4" cy="451.7" rx="11.4" ry="9.9" fill="url(#bg)" opacity="0.12" clip-path="url(#c12)"/>
<ellipse cx="52.4" cy="450.7" rx="23.4" ry="11.7" fill="url(#bg)" opacity="0.06" clip-path="url(#c12)"/>
<path d="M36.7 402.2zm5.7 1.1zm1.9 0zm1.8 .1zm6.6-.4zm.3 .1zm1.7-.2zm.7-.2zm1 0zm2.7 .4zm0-.6zm.3 .8zm0-.6zm.9-.1zm.1 .1zm.4 .6zm.3-1.3zm.4 1.2zm.9-.3zm.1-.9zm.1 .5zm.4 .4zm.6 .5zm.8-1.1zm.1 .5zm6.8-.3zm4.4 1.8zm-.7 .1zm-.1 .2zm-2.8 0zm-1.8-.1zm-1.5-1zm-1.1 .9zm-1-.2zm-.5 .5zm-.3-.8zm-.1 .3zm-.5-.1zm-.1-.3zm-.3 .8zm0-.2zm-.2 .2zm-.6-.3zm-.6 .3zm-.5-.9zm-.5 .2zm0 .8zm-.2-1.2zm0 .1zm-.1 1.2zm-.2-.6zm-.1-.5zm-1.7 .1zm-.4 .1zm-1 1zm-1.2-.7zm-.4-.1zm0 .2zm-.2 0zm-.7 .3zm-1.3-.3zm-6.5-.1zm-3.5 0zm-.4-.4zm-5.3 2.1zm1.8-.1zm6.6 .2zm.8 .1zm.2-1.1zm.7 .5zm.6 .5zm.7 .1zm1.2-.2zm2 .5zm.4-1.2zm1.3 .5zm2-.7zm0 .6zm2-.5zm.3 0zm.2-.1zm.5 .7zm.4 .6zm.3-.4zm.8-.3zm.4-.3zm.6 1zm.9-1.1zm.6-.1zm.6 .4zm.5 .2zm.5-.5zm0 .3zm.1 .4zm1 .2zm.8-.2zm1 .4zm.4 0zm.9-.2zm1.2 .3zm.1-1.3zm.8 .7zm1.8-.4zm0 1zm3.2-.2zm0 1.4zm-2.5-.9zm-.7 .6zm-.3 .1zm-.8 .4zm-.3-.1zm-.8-.5zm-2.7 .5zm-.2 .1zm-1-1.2zm-.4 .8zm-.1-.4zm-.2-.1zm-.4 .6zm-.1-.8zm-.6 1zm-.4-.6zm-.2 .8zm-.9-1.3zm-.1 .5zm-.2 .1zm-.1-.5zm-.1-.2zm-.1 .2zm-.4 .5zm-.5 .6zm-.6-.3zm0 .2zm-.5-.9zm-.3 .4zm-.9-.6zm-.3 1.1zm-.5-.7zm-.2 .1zm0-.6zm-.5 1zm-.1-1zm-.4 .8zm-.2 .3zm0 .2zm-.4-.2zm0-1zm-.2 1zm0-.8zm-.1-.1zm-.3 1.2zm-.6-.2zm-.5 .2zm0-1.2zm-.3 .3zm0 0zm-.1-.3zm-.1-.1zm-.1 .5zm-1.3-.3zm-3.1 .7zm-1.4-.5zm-.3 .5zm-1 .2zm-2.3-.2zm-6.1-.5zm-.6 .4zm-5-.5zm.4 2.4zm4.6-.8zm.9-.5zm.5 1.1zm2-.3zm.2 .6zm.2-1.2zm1.1 .3zm1.2 .8zm.2-.6zm.9 0zm.5-.2zm.3-.4zm.5 .6zm.2 .5zm1.1-.6zm0-.1zm.6 0zm1.9-.1zm.9-.4zm.1 1.3zm.7-.4zm.5 .3zm.7-.8zm.5-.3zm.4 .3zm.6 .3zm.3 .7zm.6-.1zm.1 0zm.6-.5zm.1-.8zm.4 .8zm.2-.4zm.6-.2zm.2 .8zm.1-.6zm0 .7zm.3 .2zm0-.4zm0-.3zm.5 .8zm.1-.2zm.3-1.1zm0 1.1zm.3 .1zm0-.9zm.4 .5zm.4 .2zm0 .1zm.2-1.1zm.2 1.3zm.1-1.1zm.1 .4zm.2-.6zm.2 .8zm.4-.4zm.2-.2zm.3 .9zm.2 .2zm.1-.5zm0-.8zm.4 1.3zm.1-.9zm.1 0zm0-.5zm.1 1.3zm.2-.1zm.2 0zm.3-.3zm.4-.4zm0 .1zm.3-.6zm.3 .4zm.1 .2zm0-.1zm.4-.1zm.4 1zm.6-.5zm.1-.9zm.4 .5zm0 .8zm.2-1.1zm0 .3zm.3 .5zm.5 .2zm.4-.8zm.2 .3zm0 .2zm.1 .2zm.8-1zm.9 .8zm.2 .3zm.3-1zm.7 1.1zm0 0zm1-.2zm0-.3zm9.4 .4zm2.5-.2zm-10.1 .8zm-2 1zm-1.3-.8zm-.9-.3zm-.2-.1zm-.3 0zm-.3 .9zm0 .4zm-.4-.2zm-.1 0zm0-.9zm-.7 .5zm0 0zm-.3 .2zm-.4-.9zm-.3 .3zm0 .8zm0-.3zm-.5-.5zm-.1 .7zm-.1 .3zm0-.8zm-.3 .7zm-.1-.8zm-.3 .3zm-.1 .5zm0-1.3zm-.2 .9zm-.5-.2zm0 0zm-.4-.5zm-1.1 1.2zm0-1.1zm-.3 .7zm-.1-.4zm-.3 .5zm-.4-1zm-.1 .9zm-.2 .3zm-.1-1.3zm-.3 1.1zm-.1-.6zm-.1-.1zm0 .5zm0 .4zm-.4-1.2zm-.2-.1zm-.1 .4zm0 .2zm0 .3zm-.3-.8zm-.1 .5zm-.2-.6zm-.3 .9zm0-.2zm-.1-.3zm-.2-.1zm-.4 1zm-.1-.5zm0 .3zm-.1-.1zm-.2-.6zm-.4 .5zm-.5 .3zm-.3-.1zm0 0zm-.5 0zm0-.2zm-1.6 .1zm-.5-.7zm-1-.3zm-.3 .9zm-1.1-.9zm-.5 .4zm-1.1 .1zm-.8-.5zm-.8 .3zm-.4 1.1zm-.5-.4zm-.9-.4zm-.5 0zm-.2-.4zm-.1 .8zm-.3 .1zm-.4-.3zm-2.1 .5zm-.6-.1zm-.2-.4zm-.1 .4zm-.5 .1zm-.2-1.2zm-.1 .1zm-6.9 .1zm-2.1-.3zm0 .5zm8.9 1.6zm.6-.5zm1.8 1.3zm.4-.3zm.1-.6zm.7 .7zm.3-1.2zm0 .8zm.4-.7zm.1 0zm.6 .2zm1.8 0zm.4 .8zm.3-.3zm.3-.4zm1.6 .2zm.2 .6zm.5-.8zm.5 .5zm.7 .3zm.3-.2zm0-.5zm.3-.5zm.3 .2zm.6 .8zm.1 0zm.1 .3zm.2-.4zm.8 .4zm.5-1zm.2 .8zm0-1zm.1 .4zm.5 .1zm0-.6zm.3 .7zm0-.7zm.1 .5zm.2 .4zm.1 .5zm.1-1.2zm0 .1zm.2 .1zm0 .1zm0 .2zm.2 .7zm.2-.1zm.1-.9zm.2 .9zm0-1.2zm0 1.2zm.1-.4zm0-.9zm.1 .1zm.3 .5zm0 .7zm.1-1.3zm.1 0zm.1 .3zm0 0zm0 .9zm.1 0zm.2 .1zm.1 .1zm0-.1zm.2-1.2zm0 .4zm0 .1zm.3 0zm0 .2zm0 .3zm.1-1.1zm.1 1.4zm0-1.4zm0 .1zm.2 .4zm.2-.2zm0 .1zm0 .5zm.1-.6zm.4 .2zm.3 .5zm.1-.7zm.1-.2zm0 .8zm.1 .1zm.1-.6zm0 .2zm0-.1zm.2-.5zm.2 .3zm.2 .5zm.1-.8zm0 1.3zm.3 0zm0-.3zm.2 .4zm.1-.1zm0 .1zm0-.7zm.1 .4zm.5-.6zm.2 .8zm.2-1.2zm.3 .7zm.1 .5zm.1-.6zm.2-.1zm0 .1zm.1 .4zm.1 .1zm.1-.3zm.2 0zm0 .5zm.3-1.1zm0 .1zm.8 .4zm.1-.6zm0-.1zm.1 1.1zm.9-.3zm0-.1zm0-.8zm.2 1.1zm.3-.6zm.1-.1zm.4-.3zm0 0zm.7 .6zm.3 0zm.7 .2zm.8-.7zm1.1 .3zm.5-.2zm2.6 0zm-1 2.5zm-1.3-.4zm-.1-.8zm-.3 .1zm-.6 .6zm-.6-.7zm-.3 .3zm-.6 1zm-.8-.4zm-.1-.4zm-.2-.3zm0 .8zm-.1-.1zm-.4-.6zm-.3 .6zm0 .2zm-.1-.5zm-.1-.1zm-.8-.1zm-.3 0zm-.2 .4zm0 .2zm-.3-.3zm-.1 .4zm-.7-.8zm-.8 .6zm-.1-.7zm-.1-.3zm0 1.4zm-.2-.5zm-.1-.4zm-.1 .6zm-.1 0zm-.2-.8zm-.1 .2zm-.3-.4zm-.2 1.3zm-.2-1zm0 .6zm0-.8zm-.1 1.1zm0-.5zm-.1-.3zm0 .7zm-.2-.3zm-.1-.6zm-.1 .5zm-.2 .6zm-.2-.1zm0 0zm-.1-1.2zm-.3 .8zm0-.5zm-.1 .3zm0 0zm-.2-.1zm0-.6zm-.3 1.1zm-.1-.2zm0 .5zm-.1-1.4zm-.1 .7zm-.1-.7zm-.5 .3zm-.1-.3zm0 .6zm-.1-.3zm-.2 .3zm-.2 .4zm0-.8zm0 .1zm-.1 1.1zm-.3-.4zm-.1 0zm-.5-.9zm0 .3zm-.5 .3zm0 .3zm-.3-.6zm0 .7zm-.1 .1zm-.1-.3zm0 0zm-.8-.7zm-.2 1.2zm-.1-.4zm-.1-.8zm0 .9zm-.6 0zm-.1-.1zm-.6-1zm-.1 1zm-.1-1zm-.1 1.2zm-.4-.5zm-.1-.3zm0 .1zm-.1-.4zm0 .6zm-1.1-.4zm-.4 .2zm0-.1zm-.4 .8zm-.3-.4zm-.2-.6zm-.4 .9zm-.2-.4zm-.7-.4zm0-.2zm-.2 1.1zm-1.2-.3zm-.1-.2zm-.8-.6zm-1.3 .9zm-1.5-.4zm-.2-.1zm-1-.3zm-.2 1zm-.3-1.2zm-2.8 .5zm-1.9 .8zm-1.4-1.2zm-.4 1.1zm-1.2-.7zm-3.6 .8zm0 .3zm2.1 .3zm6.9-.4zm1.1 1.4zm0-.5zm1.3-.4zm.3-.5zm.6 .7zm.2-.3zm.3-.2zm.8 .5zm.8 .4zm0-1.1zm.3 .9zm.9-.1zm.6 .1zm.3 .2zm.4-.6zm.2-.4zm.6-.1zm0 .4zm.4 .1zm0-.4zm0 1zm.3-.3zm.1 .5zm.2-1.2zm.6 .7zm.1-.6zm.2 .6zm.4 .4zm.1-.8zm.1 1zm.3-.5zm.2-.2zm0-.7zm.6 .4zm.2 .1zm.2-.3zm.3 .9zm.3-.6zm.3-.5zm.1 .3zm.2 1zm.2-.6zm.1 .5zm.3 .2zm0-.8zm0 .1zm.2-.4zm.1 .3zm0 .8zm0-.7zm.4-.3zm0 .5zm.4-.2zm.4 0zm.1 .1zm.1 .4zm.2-.8zm.2 .9zm.1-1.3zm0 .9zm.3-.2zm.1 .6zm0-.3zm0-.7zm.1 .5zm.4 .2zm.1-.7zm0 .8zm.1-.8zm0 .1zm.3 .7zm0-.3zm.1-.3zm0 .6zm0 .2zm.3 .1zm.3-.1zm0-1.2zm.1 .9zm.1 .1zm.1 .2zm.2-.9zm.2 .7zm.3-.2zm0 .1zm.4-.5zm0-.1zm.3 0zm0 .9zm.1-1zm.1 .7zm0-.6zm.3-.2zm.2-.1zm.1 .2zm.2 .7zm0 .2zm.1 .1zm.1-1.3zm.1 .1zm.3 1zm.2-.3zm.2-.6zm0 .4zm.2 .1zm.3 .5zm.1-.6zm0 .2zm.2-.6zm.1 1zm.2 0zm.1-.8zm.5 1zm0 0zm0-1zm.3-.1zm.1 1.1zm.1-.5zm.2 .3zm.1-1.2zm.2 .3zm1-.3zm.9 1zm.7-.7zm.3 0zm.2 1.1zm.2-.5zm0-.2zm.2-.4zm.1 .8zm2.6-.8zm-.9 1.3zm-1.5-.1zm-.3 .7zm0 0zm-1 .6zm-.2-.9zm-.2 0zm-.9 .5zm-.2 .4zm0-1.3zm-.2 .6zm-.2 .8zm-.3-1.2zm-.2 .5zm-.2-.3zm-.4 .1zm-.7 .2zm-.3-.5zm-.2 .4zm0 .5zm-.2-1zm-.2 .3zm-.2 .4zm-.1-.3zm0 .5zm-.2-1zm-.1 .9zm-.2-.4zm-.8-.3zm-.2 .3zm0 .8zm-.2-1.1zm-.1 .2zm-.1 .4zm-.1-.5zm-.1-.2zm-.2 .3zm-.1 0zm-.1-.3zm-.2 0zm0 .8zm0 .1zm-.1 .2zm0-.5zm-.3-.7zm-.1 .1zm-.3 .2zm-.3 .3zm-.2-.2zm0 .5zm-.3 .1zm-.1-.1zm-.1 .5zm-.1-.3zm-.1 .3zm-.1-.6zm-.1 .4zm-.4-.2zm-.1-.3zm-.5-.6zm-.2 1.2zm-.6-.8zm-.3 0zm-.1-.1zm-.1-.2zm-.1 .5zm0 .1zm-.1-.4zm-.4 .9zm-.4-.7zm-.4-.2zm-.2 1zm-.2-.6zm-.5-.1zm-.4 .5zm-.2-1zm-.2 1.2zm0-.2zm-.1-.6zm0-.3zm-.8 .2zm0 .6zm-.2-1zm-.2 .5zm-.5 .3zm-.4 0zm0-.2zm-.9 .1zm-.2 0zm-.1 .4zm-.8 .1zm-.9-.7zm-1.1 .8zm-.5-1.2zm-.1-.2zm-3.4 .8zm-2.9-.1zm-2.8 .2zm-.6-.7zm-.8 2.2zm1-.8zm2.6 .5zm.1-.3zm.9 .6zm.3-.3zm1.8 .7zm.3-.7zm.2 .7zm.9-.3zm.5-.9zm.1 .7zm3.2-.1zm0-.4zm.1 .6zm1.2-.8zm.2 .6zm.3 .2zm.1-.3zm0 .6zm.5 0zm.4 0zm.2-.6zm.1 .6zm.4 .2zm1.1-.1zm.5-1zm.1 .9zm.1-1zm.5 .5zm.1 .4zm.1-.5zm0 .2zm.3 .4zm.2-1zm0 1zm.3-.1zm.1 0zm.3 .1zm.1-.9zm.2 1.1zm.1-.9zm.7 .7zm.6 .1zm.2-.5zm.1 .2zm.1-.1zm.2-.8zm0 .7zm.3-.6zm.2 0zm.2 .8zm.1-1zm.1 .9zm0-.4zm.1-.4zm.1 .5zm.1-.5zm.3 .1zm.2 .2zm0 .2zm.1 .6zm.1-1zm.1 1.1zm0-1.3zm.2 1zm.1 .2zm.1-1zm.1 .2zm0 .9zm.2-.8zm.5-.2zm.3 0zm.2 .9zm0 0zm.1-.3zm.2-.7zm.1 1zm0 .2zm.1-.6zm.1 .5zm0-.2zm.2-.5zm.1 .8zm.2-.6zm0-.6zm.2-.1zm.1 1.3zm.2-1.1zm.1 .7zm.1-.7zm.4 .8zm.1-.6zm0-.5zm0 1zm.1 .1zm.1-1.1zm.6 .3zm.2 0zm.4 .4zm.4 .4zm.3-.2zm.2-.7zm.6 .7zm.4 .4zm.8 .1zm.1-.8zm.2 .2zm.5 .1zm.1 0zm.7-.7zm.1 .4zm1.2-.6zm.1 .9zm2.1-.3zm2.6 .8zm2.5-1.1zm3.3 .6zm1.9-.1zm-2.6 1.5zm-6.9 .6zm-.1-1.4zm-1.7 .4zm-.4 .3zm-.8 .6zm-.3-.5zm-.7 0zm-.3-.5zm-2.1 .6zm0 .1zm-.6-.1zm0-.5zm-.2 0zm-.2 .4zm-.1-.6zm-.4 .1zm0 .3zm-.1 .5zm-.7 .1zm-.2 .2zm-.4-.5zm-.9 .2zm0-.3zm-.4 0zm-.1-.7zm-.1 .2zm-.1 1.1zm-.1-1zm0 0zm-.2 .2zm-.7 .7zm-.2-1.1zm-.1 .2zm-.1 .7zm-.2-.6zm0 .8zm-.3-1.3zm-.1 1.4zm-.1-.2zm-.4-1.1zm-.8 .5zm-.2 .1zm-.1-.1zm-.1 .5zm0-.2zm-.2 .5zm0-1zm-.7-.4zm-.2 .8zm-.5-.8zm0 1zm-.2-.3zm-.5-.7zm0 0zm-.2 .3zm-.3-.1zm-.8 .3zm-.3 .3zm-.2-.6zm-.4 .3zm-.2 .2zm-.2-.1zm-.3 .8zm-.3-1.2zm-.4-.2zm-.6 1.2zm0-.3zm-.1-.2zm-.6-.3zm-.5 .2zm-.1-.2zm-.2 .2zm-1.1-.5zm-.4 .9zm-.1-.9zm0 1.2zm-.2-.6zm-1.2 .1zm-1.2 .2zm-.3 .2zm-1.9-.6zm-3 .3zm-.5 .3zm-.3-.8zm-1.5 .7zm-1-.7zm0 .7zm-.4 0zm-5-.7zm-1.1-.1zm3.2 2zm4.3-.5zm.7 .4zm1-.2zm.6 .6zm.1-1zm.5 .8zm.2-.2zm.6 .6zm.5-1.2zm.8 .8zm1.9 .1zm.3-.1zm1.4-.2zm.5 .2zm.4 .3zm.1-1.1zm1.8 .7zm0 .3zm.5-1zm.2 .9zm.2-.3zm1.1 .2zm.2-.9zm0 0zm.2 .6zm.3 0zm.3 .3zm0-.5zm.1 .3zm.2-.5zm0 .8zm.2 0zm.2 0zm.5-.8zm.6 1zm0 0zm.4-.2zm.1 .3zm.1-1.3zm0 .4zm0-.4zm.1 .5zm.1 0zm.3 .9zm0 0zm.2-1.4zm.4 .8zm0-.5zm.1-.1zm.1 1.2zm.2-.2zm.3-1.2zm.3 1.4zm.1-1zm.3 1zm.1-1.1zm.4 .4zm.2 .2zm.4-.9zm.4 .6zm.4 .2zm.1-.4zm1.3 .7zm.5-.9zm.2-.2zm0 1zm.2 .4zm0-.6zm.1-.1zm0-.7zm.1 .5zm.7 .2zm.3 .7zm.5-.2zm.1-1.1zm.3 .7zm.1-.5zm.1 .1zm.5 1zm1.5-1.4zm1 .5zm1.1-.5zm.2 .5zm.2-.5zm.1 .5zm1.6 0zm5.2 0zm-6.7 1.9zm-.1-.8zm-3.4 1.1zm-.5-.7zm-.5 .2zm-.3 .2zm-.2-.5zm-.2 .9zm-.4-1.1zm0-.2zm-.2 .5zm-.6 0zm-.2 .8zm-.1-1.2zm-.2 1.3zm-.2-.4zm-.2-.7zm-.4 .3zm-.7-.1zm-.5 .4zm-.6-.1zm-.1-.5zm-.2 .4zm-.1-.6zm-.2 .3zm-.1 .4zm-.1 0zm-.5-.6zm-.7 .8zm-.8 0zm-1.2 .3zm-1.2-1.1zm-.5 0zm-1.1 1.2zm-1-.6zm-.2-.4zm-.5 .6zm-.2-.8zm-.7 .8zm-.2-.9zm-.3 1.1zm0-.8zm-.6 .4zm-.1-.4zm-1.5-.1zm-.6 1.1zm-.4-.3zm-1.2-.3zm-3.6-.5zm-.3 1.1zm-.8-.5zm-1.5 .1zm-3.5 0zm-.8-1zm-1.5 .1zm-2 .8zm-.2 .1zm-.2-.8zm1.2 1.6zm4.5 .9zm4.2-.9zm1.5 .4zm1.1 .2zm1.8 .2zm1.7 .2zm.9-1.3zm.8 .7zm0 .3zm.4 .4zm1.9 0zm.4-.1zm0-.8zm.5-.2zm.5 .7zm.1-.6zm.2-.2zm.4 1.2zm2.4-.9zm.4 .3zm.9-.1zm1.3-.7zm1.4 .8zm.3 .1zm.5-.7zm.4 1.2zm.2 0zm.2-.3zm0-.4zm.1 0zm0 .6zm.2-.9zm.3 .6zm2.7-1zm2.2 .4zm1.7 .8zm1-1zm.3-.1zm3.4 1.2zm1.9-.6zm3.4 2.1zm-1.2-1zm-10.7 .7zm-1.9-.9zm-.1 .6zm-.2 .7zm-.5-1.3zm0 .5zm-1.5-.5zm-.6 .2zm-.2 .8zm-.5-.5zm-.2 .3zm-1-.7zm-1.1 .6zm-1.3 .4zm-1.9-.1zm-.6 .1zm-.7-.7zm-.7 .3zm-.3 0zm-.2 0zm0-.2zm-.1-.2zm-.2 .5zm-2.5-.2zm-1.6 .4zm-2.8-1zm-.6 .2zm-.4-.1zm-.4 .9zm-.2-.9zm-2.4 .9zm-.8 .3zm-.3-.1zm-3.8-1.3zm-.3 .3zm-.7-.1zm-.2 .3zm-3 .6zm-1.4-.2zm9.7 1.1zm3 .7zm2.3 .2zm.2-.4zm.3-.8zm2 1zm.7-1.1zm2.7 .3zm1.2 .7zm1.7-.2zm1.9-.8zm2.1 .3zm1.9 1zm1.5-.7zm.4-.2zm2 .4zm1.1-.5zm9.2 .4zm3.5 0zm-13.4 1.9zm-.9 .2zm-.1-1.1zm-1.6 1zm-2.5-1.2zm-1.5 .1zm-.1 .7zm-.2 .4zm-.4-.7zm0 .4zm-1.2-.2zm-11-.7zm-10.1 2.7zm3.7-1.3zm.3 .9zm6.5-.5zm1.2 .2zm1.9 .1zm.5 .5zm5.2 .1zm.4 0zm4 0zm8-1.2zm1.6 .3zm1.4-.4zm1.5 .9zm-5.3 1.2zm-.6-.3zm-10.5 .9zm-1.6-1.2zm-5.7 .2zm-3.8-.2zm-5.3 .1zm-4.4-.1zm10.9 1.7zm3.6 0zm.9 .4zm5.4-.6zm.4 1zm7.3 .2zm-22.2 .5zm16.6 1.4zm2.8 0zm1.2 .5zm-10.4 1.3zm-17.1 1.7zm9.4 .3zm6.9-.4zm8.5 .2zm1.6 1.3zm-4.2 .8zm-5.5-1.2zm-13.3 .9zm20.4 1.6zm2.6-.4zm5-.4zm-5.4 1.8zm-.4 .4zm-19.6 .1zm-.4 .4zm9 .5zm2.4 .4zm1.9-.2zm2.8-.1zm.3 .2zm1.4-.8zm2.2 .6zm2.7 .1zm1.7 0zm9 .4zm19.8 0zm-26 1.6zm-6.3-.5zm-1.3 .4zm-.9 .1zm-.5-.6zm-.2 .8zm-.4-.3zm-.9-.9zm-3.5 .1zm-.6 .3zm-.1-.3zm-.2 .8zm-.3-.5zm-3.2-.1zm-1.6 .6zm-5.2 .2zm-7.7-.3zm-1.6 .1zm-.2 .6zm6.1 .9zm1-.8zm5.9 .6zm4.3-.8zm1.8 .9zm.4-.5zm.9 .8zm.4-.6zm.8-.6zm.2 0zm.3-.1zm.3 .1zm.6 0zm.4 .4zm.4 .4zm.7-.4zm.9 .2zm.1 .6zm1.7-.6zm.5 .2zm2.1-.8zm.8 .9zm1.7-.4zm.9 .3zm3.3 1.8zm-2.4 .2zm-1.1 0zm-1.5-1.2zm-.9 .5zm-1.2-.2zm-.3 .8zm-.4-.4zm-.7 .1zm0-1zm-.9 1.1zm0 .1zm-.8-.9zm-.2 1.1zm-.1-.2zm0-1.2zm-.2 .3zm-.1 1zm-.1-.4zm-.1 .1zm0-.1zm-.5 .2zm-.4 .1zm-.3-.5zm-1.1 .7zm-.7-.4zm-.6-.4zm-.1-.4zm-.3 1.1zm-.3-.5zm-.2-.6zm-.5 .4zm-.6-.1zm-.8 .8zm-.2-.8zm-.1 .7zm-.1-.1zm-7.8-1.1zm-.4 1.2zm-4.2 .5zm9.3 1.2zm1.8 0zm2.2-.3zm.6 .3zm.6-.2zm.1 0zm.3-.9zm.5 .8zm.1-.3zm0 .3zm.4-1zm2.1 .3zm.2-.2zm.2 .8zm1.2-1zm0 .2zm.1-.1zm.1 .4zm.1 .9zm.1-1.1zm.2 .1zm.4 0zm.3 .6zm.6-.4zm.3-.2zm.4-.2zm.1 .6zm0 .6zm.1 0zm.2-1zm.1-.4zm.1 1.1zm.1-.7zm.2-.1zm.1 .9zm.2-1.2zm.5 .4zm.5 .7zm.5 0zm.2-.8zm.5 .7zm1 0zm8 0zm-1 .9zm-6 .1zm-.7 .2zm-.4 .2zm-1.5-.8zm-.3 .4zm-.5 .5zm-.3 .4zm-.5-.5zm-.1 .2zm-.8-1zm-.3 0zm0 0zm-.1 .7zm-.8 .4zm-.3-.6zm-.1-.6zm-2.1 .1zm-1.1 1.2zm-.5-.9zm-.2 1zm-.6-1.2zm-.1 .7zm-.4-.5zm-.2 0zm-.2 1zm-2-.2zm-.1-.8zm-.1 0zm-.7-.4zm-.1 .8zm-.3-.4zm-2.5 .2zm-1.9-.5zm-.2 .7zm-1.4-.4zm-7.8-.2zm-2 .1zm2.1 1.5zm.6 .6zm.1-.3zm3.2 .4zm1.1-.1zm2.4 .3zm2.6-1zm.3 1.2zm2.1-.8zm3.1-.5zm.6 1zm.6 0zm.6-.8zm1.5 .1zm.6 .6zm.4-.8zm.6 .6zm.3-.4zm.8 .2zm.4 .2zm.4-.7zm.1 .3zm.2 .2zm.3 0zm0 .2zm.9 .4zm.1 0zm.2-.6zm0 .8zm.4-.1zm.4-.9zm.3 .4zm.1 .2zm.9-.7zm.4 .7zm.5 .1zm.5 .1zm.8-.1zm5.8-1.1zm.6 2.1zm-8.9 .6zm0 0zm-.7-.9zm-.1 0zm-.8 1.1zm-.1-1.3zm-.2 1.1zm-.1-1.1zm-.3 1.3zm-.9-1.2zm-1.3 .7zm-1.8-.3zm-.3 .6zm-3.1-.7zm-2.2 .1zm-.2 .1zm-2.9 .2zm0 .4zm-3.7-1.3zm-.1 .3zm-1.5 .2zm-4.4 1zm1.8 0zm2.2 .7zm2.2-.5zm5.3 .3zm.4-.1zm2.8 .2zm2.2-.5zm.3 1.2zm0-.4zm1.2-.5zm.5-.2zm.4 .6zm.4-.6zm.2 .8zm.6-.7zm.5 .7zm.9 .4zm2.2-.9zm0 .4zm1.5-.6zm.3 .1zm.7-.2zm4.4 2.1zm-5.4 .5zm-1.4-.4zm-.8-.3zm-1.9-.4zm-.4 .9zm-1.6-.8zm-.9 .7zm-.2-.7zm-1.6-.3zm-.8 1.1zm-.7-1zm-.4 .7zm-2.9 .3zm-4.5-.9zm-2.6 .2zm-6-.1zm12.6 1.4zm1.2 .2zm2.2 1zm2.3-1.2zm3.7 .1zm-1.9 1.8zm-2.6 .5zm-6.3-.6z" stroke="#000" stroke-opacity="0.6" stroke-width="0.8" stroke-linecap="square" fill="none" filter="url(#bl)"/>
<line x1="71.50" y1="401.00" x2="71.50" y2="464.40" stroke="#777" stroke-width="0.8"/>
<line x1="34.40" y1="436.50" x2="99.60" y2="436.50" stroke="#777" stroke-width="0.8"/>
<rect x="34.50" y="401.50" width="65.00" height="63.00" fill="none" stroke="#333" stroke-width="0.9"/>
<text x="36.00" y="405.40" font-size="4.0" font-weight="bold" fill="#333">83.6%</text>
<text x="36.00" y="462.80" font-size="4.0" font-weight="bold" fill="#333">14.1%</text>
<text x="98.40" y="462.80" font-size="4.0" font-weight="bold" fill="#333" text-anchor="end">0.441%</text>
<text x="94.00" y="409.00" font-size="7.37" font-weight="bold" fill="#000" text-anchor="end" textLength="9.00" lengthAdjust="spacingAndGlyphs" stroke="#000" stroke-width="0.3">1.9</text>
<text x="42.22" y="470.00" font-size="3.0" font-weight="bold" fill="#666" text-anchor="middle">0</text>
<text x="52.00" y="470.00" font-size="3.0" font-weight="bold" fill="#666" text-anchor="middle">10²</text>
<text x="67.00" y="470.00" font-size="3.0" font-weight="bold" fill="#666" text-anchor="middle">10³</text>
<text x="82.65" y="470.00" font-size="3.0" font-weight="bold" fill="#666" text-anchor="middle">10⁴</text>
<text x="96.34" y="470.00" font-size="3.0" font-weight="bold" fill="#666" text-anchor="middle">10⁵</text>
<line x1="42.22" y1="464.90" x2="42.22" y2="466.20" stroke="#666" stroke-width="0.35"/>
<line x1="47.44" y1="464.90" x2="47.44" y2="466.20" stroke="#666" stroke-width="0.35"/>
<line x1="52.00" y1="464.90" x2="52.00" y2="466.20" stroke="#666" stroke-width="0.35"/>
<line x1="61.78" y1="464.90" x2="61.78" y2="466.20" stroke="#666" stroke-width="0.35"/>
<line x1="65.04" y1="464.90" x2="65.04" y2="466.20" stroke="#666" stroke-width="0.35"/>
<line x1="67.00" y1="464.90" x2="67.00" y2="466.20" stroke="#666" stroke-width="0.35"/>
<line x1="77.43" y1="464.90" x2="77.43" y2="466.20" stroke="#666" stroke-width="0.35"/>
<line x1="80.69" y1="464.90" x2="80.69" y2="466.20" stroke="#666" stroke-width="0.35"/>
<line x1="82.65" y1="464.90" x2="82.65" y2="466.20" stroke="#666" stroke-width="0.35"/>
<line x1="92.43" y1="464.90" x2="92.43" y2="466.20" stroke="#666" stroke-width="0.35"/>
<line x1="95.04" y1="464.90" x2="95.04" y2="466.20" stroke="#666" stroke-width="0.35"/>
<line x1="96.34" y1="464.90" x2="96.34" y2="466.20" stroke="#666" stroke-width="0.35"/>
<ellipse cx="128.1" cy="451.2" rx="12.5" ry="9.9" fill="url(#bg)" opacity="0.75" clip-path="url(#c13)"/>
<ellipse cx="115.6" cy="451.7" rx="23.4" ry="9.4" fill="url(#bg)" opacity="0.25" clip-path="url(#c13)"/>
<path d="M129.7 407.9zm-17.7-.6zm8 2.2zm-1.8 1zm-1.4-.5zm-5.7 1.6zm28.5-.5zm-20.1 2.2zm-7.9-.6zm25.1 4.1zm-26.6-.4zm-6.1-.1zm8.5 1.2zm14.6-.3zm13.4 .6zm3.9 .6zm4.5-.8zm-39 2.1zm9.5 1.8zm-.6 .7zm-2.2 .6zm-4.4-.4zm10.1 1.7zm4.7-.4zm8.9 .6zm.5 0zm9.8 .1zm-8.5 .7zm-9.5 .6zm-11.6-1.2zm12.2 1.8zm-11.3 2.6zm-12.5-.5zm6.4 1.9zm14 1.1zm10.6 .8zm4 1.5zm-10.5 .1zm7.6 1.2zm-10.9 2.9zm6.8 2.1zm-2.9 .8zm-3.4 0zm-1.7-.3zm-16.3 1zm.6 .3zm18.8 .6zm.7-.4zm5 .1zm.7 .3zm7.1-.6zm7.9 1.5zm-1.2 .3zm-9.7-.3zm-6.3-.5zm-.9 .9zm-.4-.5zm-.3 .6zm-1.1-.2zm-.4 .2zm-.4-.9zm-.1 .9zm-1.2-.6zm-.6-.4zm-1 1zm-.6 0zm-.2-.6zm-.2 .4zm-.4 .3zm0-1.1zm-.4 .5zm-.4-.2zm-1.7 .2zm-.1 .1zm-.5-.6zm-.4 .9zm-1.6 .2zm-.9-1zm-2.7 .6zm-6.9 1.2zm2 0zm2.2-.6zm1.6 .4zm.5 .4zm1.7-.4zm.5 .1zm1 .1zm.2 0zm.1 .3zm1.6-.1zm.3 .4zm.4-1.1zm1.5 1zm0-.6zm.1 .8zm.1-.7zm.5-.5zm.4 1.2zm.2-.8zm1.4-.5zm.1 1.2zm.4-.3zm.6 0zm0-.5zm1 .2zm.1-.4zm.7 1zm.1-.6zm.7 .5zm.1 0zm0-.6zm.1 .6zm.4-1.2zm.2 0zm.2 1.3zm.3-1zm.6-.3zm.8 .6zm.1 .3zm.3-.9zm.2 .8zm.2-.4zm.1 1zm.6-1.1zm.3 .7zm.2-.4zm.3 .6zm.2-1.1zm.2 .8zm2.7-.1zm.9-.5zm6.1 .5zm2 .9zm-.9 .3zm-5.4 .4zm-2.2 .3zm-1.4 0zm-1.2-.7zm-.1 .8zm-.3-.8zm-.3-.2zm0 .8zm-.6 .3zm-.1-.4zm-.6 .2zm0 0zm-.5-1zm-1.1 .4zm-.3 .3zm-.6-.2zm-.1 .5zm-.1-.7zm-.1 .2zm-.3-.6zm-.5 .4zm0-.5zm-.1 1zm0 .1zm-.1-.4zm-.3-.4zm0 .2zm-.6-.4zm-.3 .4zm-.2 .9zm-.3-.3zm-.5-.9zm-.5-.1zm-.1 1zm-.2-1.1zm-.2 .3zm-.2 .3zm-.2 .8zm-.1-1.3zm-.6 .7zm-.1 .1zm-1.1-.1zm-.3 .6zm-.3-1.2zm-.1 .4zm-.2 .8zm-.3-.9zm0-.1zm-.6 .6zm-.6-.7zm-.6 1zm-.1-.6zm-.4 0zm-.1 .4zm-.1 .2zm-.7 0zm0-1.3zm-.1 .9zm-.6-.6zm-.3 0zm-.4 .4zm-2.3-.1zm-.6 .2zm-.1 0zm-1.8-.4zm-.6-.4zm-.6 1.1zm-.4-.2zm-4.4-.7zm-.2 .9zm-.3-.7zm-.5 .4zm-5.8 1.3zm.1-.6zm0 .7zm0 .3zm.3-1zm.5 .1zm1.3 1.3zm1.2-.7zm1.1 .7zm.4-.2zm.3-.9zm.5 .8zm0-.1zm1.9-1zm.9 1.1zm.2-.3zm2.1-.3zm.2 .5zm.4-.4zm.3 .1zm.4-.2zm2.4 .5zm.1-.9zm.1 .4zm.3 .9zm.2-.5zm.3 .4zm.7-1.2zm.6 1.3zm0-.1zm1.4-.9zm.2 .6zm.1 .1zm.4 .3zm.4-1.4zm0 .7zm.4-.6zm.1 .2zm.5 .2zm.1 .5zm.2 .3zm.1-.9zm.3 .2zm.5 .4zm.1-.3zm.2-.3zm0 .4zm.5 .4zm0-.6zm.1-.3zm.4 .7zm.4-.1zm.3-.2zm.3 .5zm.3-1.2zm0 .6zm.4-.6zm.1 .2zm.1 .5zm.1-.6zm0 .4zm.2 .7zm.1-1.1zm.4 .4zm.1 .5zm.1 .2zm0 .1zm0-.6zm.1 .5zm.4-1zm0 1.1zm.1-.4zm0-.2zm0 .4zm.1-.9zm0 1zm.1 0zm0 .2zm.3-.4zm0-.9zm.2 .9zm.2 .4zm.1-.8zm0 .1zm0 0zm.1-.4zm.2 .4zm.1 .7zm.1-.9zm.1 .8zm.1-.9zm0 .1zm.1 .1zm.1 .3zm.2 .4zm.4-.6zm.2-.2zm0 .5zm0 .1zm.1 .2zm.1 .1zm.2-.7zm.1-.4zm0 1.1zm.1-.1zm0 .1zm.4-.5zm0-.6zm.1 .1zm.4 .2zm.4-.1zm.1 .8zm.5-.2zm.2-.6zm.1 .7zm.6-.2zm.3-.6zm.1 .5zm0 .5zm.5-.2zm.2-.8zm.2 .9zm.1-.9zm.5 .2zm.5-.5zm.9 1zm0-.8zm.7 .7zm0-.6zm.1 0zm.1 .7zm.5-.2zm.8-.8zm3.2 .7zm3.6 .5zm8.2-1.1zm1.3 1.2zm-13.9 .7zm-.2-.4zm-1.5 .4zm-1.2 .3zm-1.1 .2zm-.2 .3zm-.2-.7zm-.1-.2zm-.9 .4zm-.1 .2zm-.3 .2zm-.2 .1zm-.1-.1zm-.1 .1zm-.2 0zm-.1-.3zm-.1 0zm-.1 0zm-.2-.6zm-.2 .4zm0 0zm0-.1zm-.2 .2zm-.5-.7zm-.1 1.1zm-.1-.5zm-.3-.2zm0 .3zm-.1-.7zm0 1.1zm-.2-.7zm0 .3zm0 .1zm-.2-.6zm0 .2zm-.1 .2zm-.2-.2zm0-.6zm0 .1zm-.1 .3zm0-.3zm-.3 .6zm-.2-.5zm0 .9zm0-.2zm0 0zm-.1-.3zm-.2 .6zm-.2-.1zm-.1-1.2zm-.1 .8zm-.2 .4zm-.1-.9zm0 .9zm-.1-.2zm-.1-.3zm0 .7zm-.1-1.3zm-.2 1.3zm0-1zm-.1 1zm-.1-1.4zm-.2 1.1zm-.1-.6zm-.1 .5zm-.1 .4zm-.1-1zm0 .6zm-.2-.6zm-.1-.2zm0 1.2zm-.2-.5zm-.2-.4zm-.1 .5zm-.1-.7zm0 1.1zm-.1-.1zm0-.3zm0-.8zm0 1.2zm-.2-.4zm0 .2zm-.2 .2zm0-1.1zm-.1-.1zm-.4 .7zm0-.2zm-.4 .6zm-.2-.6zm-.2-.2zm-.2-.3zm-.2 .3zm-.1 .3zm0 .2zm-.2-.3zm0-.4zm-.1 .1zm0 .5zm0-.1zm-.1-.4zm0 1zm-.1-.5zm-.1 .3zm0-1.2zm0 1.2zm0-1.1zm0 1.2zm0-.7zm-.1 .5zm0-.5zm0-.6zm-.1 .7zm0-.7zm0 .5zm-.4 .7zm-.2-.2zm-.6-.1zm0-.6zm-.1 .4zm-.2 .1zm-.1 .4zm0-.7zm-.2 .7zm-.3-.8zm0-.2zm0 .6zm-.4-.4zm-.2-.3zm0 .1zm-.7-.1zm-.2 .7zm0-.1zm0-.4zm-.3 .5zm-.5-.3zm-.4 .5zm-.1 .1zm-.9-.7zm-.6 .3zm-.1 .6zm-.1-.8zm-.1 .6zm-.3-.1zm-.3-.1zm-.2-.5zm-.2 .5zm-.1-.3zm-.1 0zm-.4-.4zm-.1 1.1zm-.1-.4zm-.1 .2zm-.4-.9zm-.2 .9zm0-.7zm0 .5zm-.7 .1zm-.4-.9zm0 .3zm-.1 .1zm0 .3zm-.3 .3zm0-.6zm-1.6-.2zm-1 .4zm-.1 0zm-.2-.3zm-.5 1zm-.4-1.2zm-.2 .1zm-.1 .5zm-.3 .1zm-.1 .5zm-.1-1.4zm0 1.3zm-.1-1zm-.6 1zm-.9-.2zm-.1-.4zm-.2-.7zm-.2 .2zm-.3 .1zm-3.2 .1zm-.4 .4zm-.2-.4zm-.9 .1zm-1 0zm-.3 .8zm0-.9zm-.3 .5zm.3 1.7zm1-.5zm.4 .8zm.9-1.4zm1.7 1.3zm.2-.1zm.2-1.2zm.2 .2zm.6-.1zm0 .9zm.5 .3zm.1-.4zm0 .2zm.6-.7zm.9 .7zm0-.2zm.1 0zm0 .2zm.1-.9zm.2 .1zm1-.3zm.1 .8zm.7 .5zm.3-.4zm1-.8zm.1 .7zm0 .1zm.3-.5zm.1 .4zm1.1-.2zm0 .7zm.2-.3zm.8-.2zm.4-.8zm.4 .1zm.1 .3zm.2 .5zm.5 .4zm.3-.6zm.1-.2zm.3 .4zm.2 0zm.1 .5zm0-1.2zm.1 .3zm0 .9zm0 0zm.3-.6zm0 .1zm0 .4zm.3 0zm.1-1.2zm.7 .1zm.1 .1zm0 .2zm.1 0zm.2-.1zm.1 0zm.6-.2zm.9 1.1zm.7-1.2zm.1 .5zm.2 .1zm0 .5zm.3-.5zm.1 0zm.1 .6zm.1-.9zm0 0zm0-.3zm0 0zm.2 1zm.2-.1zm.1 .4zm.1-1zm0-.4zm.3 .6zm.1 .4zm.2-.6zm.1 0zm.1 .7zm0-.4zm.1-.1zm.4 .8zm.3-1.1zm0 .9zm.1-.8zm.2-.3zm0 1.3zm.1-.8zm.2 .1zm.1-.4zm.1 .9zm0-.7zm.1 .7zm0-.5zm0-.7zm0 .5zm0 .3zm.1 .6zm.1-.9zm.1 .3zm.4 .1zm0-.9zm0 1.4zm.1-.7zm.1 .5zm0-.2zm.2-.1zm.1-.2zm.3-.7zm.1 0zm.4 1zm0 .3zm.1-.1zm0 .2zm0 0zm0-.6zm0 .5zm.1 .1zm.1-1.2zm.3 .1zm.1 0zm0-.3zm.1 .9zm.2-.2zm0 .1zm.1 .3zm0-.5zm.1 .7zm0-.4zm.2-.2zm0 .5zm.1 .2zm.2-.9zm.1 0zm0-.1zm0 .6zm.1 .1zm0-.5zm.1 0zm.1-.1zm.1 .1zm.1 .3zm.1-.9zm.1 .2zm.1 1zm0 .1zm.1-.6zm.1 .3zm.1-.1zm.1-.3zm.1 .6zm0-.7zm0-.4zm.1 0zm.4 1zm0 .1zm.1-.6zm.1 .4zm.1-.2zm.1-.3zm.1-.5zm0 .7zm0 .2zm.1-.4zm0-.1zm0 .7zm.2-.4zm.3-.6zm0 .4zm.1 .6zm0-.2zm.1 .2zm.3 .3zm.1-.2zm0-.9zm0 .1zm.2-.4zm.1 1zm0 .4zm.1-1.3zm.1 .9zm.1 0zm.2 .4zm.1-1.3zm.1 .6zm.2 .6zm.4-1zm.1 .2zm.4 .9zm0-1.3zm.1 .3zm.2 .5zm0-.6zm.4 .4zm.2 .7zm0-.3zm.1-.9zm.4 1.1zm.1-.4zm.1-.8zm.4 1.3zm.3-1zm.3 .3zm.1 .2zm.4 .5zm.1-1.2zm0 .9zm0-.4zm.7 0zm.5 .5zm.3-.1zm.2-.7zm.2 .6zm1-.3zm.4-.2zm1.2 .4zm5.8 1.1zm-6.9-.1zm-1.3 .4zm-1.5 0zm-.1-.2zm-.1 .2zm-.3-.8zm-.4 0zm-.2 .5zm0 .6zm-.4-.7zm-.1-.3zm-.1 0zm-.3 1.2zm-.6-1.2zm-.2 .7zm-.1-.8zm-.2 .7zm0 .1zm0-.1zm-.2-.7zm-.1 .2zm-.1 .8zm-.3 .1zm-.1-.6zm-.2-.1zm-.2-.3zm-.4 1.1zm-.2-1.2zm-.3 .5zm-.4-.2zm-.3 .9zm-.1-.1zm-.1-.9zm-.1 .3zm-.1 .2zm0 .1zm-.1 .2zm-.2 0zm-.2-.8zm0 .4zm-.1 .1zm-.1-.3zm-.2 0zm0 .6zm-.1 .4zm-.1-.3zm0-1.1zm-.2 .6zm-.1 .7zm-.1-1.1zm-.2-.1zm-.1 .5zm0 .8zm-.1-.4zm0 .2zm-.1 .1zm-.1-.2zm-.1-.8zm0 .7zm-.1-.7zm-.1 .6zm0 .1zm-.1-.3zm0 .2zm-.4-.2zm-.3 .4zm0 0zm-.2-1.1zm-.3 .6zm0 .1zm-.1 .6zm-.5-.7zm0 0zm-.1 .3zm-.1-.7zm0-.2zm-.1 1zm-.1-.8zm0 .5zm0-.7zm-.1 1zm-.1-.4zm0-.5zm0 .7zm0 .3zm-.1-.2zm-.1-.9zm-.3 1zm-.2-1zm0 1.1zm-.2-.3zm0-.5zm-.1 .3zm0 .4zm0-.3zm-.1-.3zm0 .5zm-.1 0zm-.1 .1zm-.3 0zm0-.5zm-.2 .6zm0-.1zm0 .2zm-.3 .2zm0-.1zm0-.9zm-.1 0zm0 0zm-.1 .4zm-.2 .1zm-.1-.2zm-.2 .1zm0-.7zm-.1 .7zm0-.6zm0 .1zm0 .9zm-.1-1.2zm-.1 1zm0 .2zm-.1 .1zm-.1-.4zm-.2 .4zm-.2-.2zm0 .2zm-.2-.4zm0 0zm0-.4zm-.5 .1zm-.8-.4zm0 .3zm-.4 .9zm-.3-.4zm-.2-.1zm-.2 0zm-.2 .2zm0-.6zm0 .2zm-.4 0zm0-.5zm-.3 .2zm0 .4zm-.2-.6zm-.3 .6zm-.4-.4zm0 .7zm-.1 .3zm-.1-1.2zm-.4 .5zm-1.1 .1zm-.2-.5zm-.1-.2zm-.4 .4zm0 .6zm-.3-.3zm0-.8zm-.1 .6zm-.1 .8zm0-1.1zm0 .2zm-.1 .9zm-.7-1.1zm-.1 .3zm0 0zm-.1 0zm-.2-.3zm-.5 .6zm-.6-.8zm-.3-.1zm-.3 .6zm-.1-.4zm-.2 .6zm-.3-.6zm0 0zm-.1 .7zm-.4-.3zm-.1 .5zm-.7-1.1zm-.5 .5zm0 .4zm-.4-.8zm-.4 .8zm-.7 0zm-.1-.3zm-.7-.2zm-.4-.4zm-.8 .9zm-.4 0zm-.2-.1zm0-.4zm-.6 1zm-.3-.1zm-.7-.4zm-1.2-.6zm-1.1 1zm-2 .1zm-.2-.2zm0-.6zm-.2 .1zm2 1.3zm.8-.1zm.2 .1zm.9-.1zm.3 .6zm1.3 0zm.1-.5zm0 .8zm.3-.3zm1.6-.5zm.2 .8zm.3-.5zm0 .2zm.6-.2zm0 .4zm.6 0zm.8-.9zm.8 .6zm.3-.9zm.4 .2zm.5 1.2zm.1-.8zm0 .7zm.2-.2zm.1 .3zm.9-1zm.5-.3zm.8 .3zm.4-.2zm.5 0zm.2 .2zm.2-.4zm0 0zm.6 .4zm.7 .5zm.1 .3zm.1-1.2zm.4 1.2zm.1-.6zm0-.5zm.1 1.2zm0-1zm0 0zm.5 .2zm.1-.1zm.1 .5zm.1-.3zm.3-.6zm.4 .6zm0 .7zm.2-1zm.4-.1zm.3 .1zm.9 1.1zm.1-1.4zm.2 .8zm.2 .1zm.1-.9zm0 1.4zm.1-1.1zm.1-.3zm0 .7zm.1-.3zm0 0zm.2 .5zm.1-.8zm.1 .1zm.1-.2zm.1 .4zm0-.4zm.2 0zm0 0zm.1 .5zm0-.2zm.2-.2zm0 .1zm.1 1.1zm.5 0zm.1-.3zm.2-.7zm0 0zm.3 0zm.1-.1zm0 0zm.1 .5zm.1 .1zm.1 .6zm.2-.5zm.1-.4zm.1-.2zm0 .5zm.2 0zm0 .5zm0-1.2zm.2 .1zm.1 .8zm.1 0zm0 .4zm0-.4zm.1-.3zm.1-.4zm.4 .1zm.1-.2zm0 .9zm.1 .3zm0-.9zm.1-.2zm0-.1zm0 .3zm.1 .5zm.2-1zm0 .7zm0-.7zm.2 1.2zm.2 .1zm0-1zm.2 .9zm.1-1zm.2 .5zm0 .7zm0-.8zm.1-.2zm0 .7zm0-.1zm.1-1zm.1 .2zm.2 .1zm0 .6zm0-.7zm.1 .9zm.1 .1zm.2-.7zm0 .4zm0-.4zm0 .8zm.1 0zm0-.3zm.1-.5zm0 .5zm.1-.9zm.1 0zm.1 1.2zm0-.2zm.1-.8zm.1 0zm.1 1zm.1-.6zm.1-.2zm0 .3zm.1 .1zm0 .3zm.1-1.2zm0 .4zm.1-.2zm.1 .3zm.3 .8zm.1-.6zm.1-.2zm0 .5zm.1 .3zm.3-.9zm.1 .6zm.2 .1zm.1-.6zm.1 .5zm.3-.3zm.1-.3zm.1 1zm.3-1.3zm.1-.1zm.2 .7zm.1-.4zm.2-.1zm.1 .8zm.1-.7zm.1 .6zm.2-.6zm.3 .8zm.3-.8zm.1 .9zm.2-.3zm.1-.5zm.2 .1zm.1-.4zm.2 .1zm.1 .2zm.6-.1zm.3-.2zm.1 .2zm.1-.2zm.4-.1zm.2 .6zm.1-.4zm3 1zm2.2-.8zm.5 .2zm13.1 1.7zm-7.6-.3zm-8.4 .8zm-2.2-.9zm-.3 .9zm-.5-1.3zm-.1 .5zm-.3-.4zm-.1 .9zm-2-.4zm-.7-.3zm-.3 0zm-.1 1zm-.7-.1zm0-1zm-.2 .4zm-.9-.2zm-.1 .7zm-.1-.2zm-.2-.5zm-.1-.2zm-.3 .6zm-.5 0zm0-.7zm-.1 .3zm-.1 .4zm-.2 .1zm-.1 0zm0-.1zm-.3-.7zm0 1zm-.1-.3zm0-.5zm-.1-.3zm-.1 .3zm-.3 1zm0 .1zm-.2-.2zm-.2 .1zm0-.9zm-.1 1zm0-1.4zm-.1 .5zm-.1-.5zm-.2 0zm0 .9zm-.1-.9zm0 .5zm0 .4zm-.1 .2zm0-.1zm-.1 .4zm-.1-.4zm-.9-.6zm0 .1zm-.1 .1zm-.5 .5zm0-.8zm-.2 .9zm-.4-.5zm-.5-.2zm-.2 .7zm-.6-.9zm-.2-.1zm-.1 .7zm0-.1zm-.1 .2zm0-.4zm-.3 .5zm0 .3zm-.2-.9zm-.9 0zm-.4 .6zm-.6-.9zm-.1 .3zm-.2-.2zm-.1 1zm-.3-1zm-.5 .5zm-.1-.5zm-.2 .8zm-.7 .1zm-.5-.9zm0-.3zm-.4 1.1zm-.2-.9zm0-.2zm-.2 .6zm-.1-.5zm-1-.1zm-.7 0zm-.3 .4zm-.7-.2zm-.5 .3zm-.1 .4zm-.1-.3zm-1.2 0zm-.4 .7zm-.5-.1zm-.1-1zm-.1 .2zm-.5 .8zm-.1 0zm-.9 .1zm-.4-1zm-.6 1zm-.7-.4zm-.5-.6zm0 .1zm-.3 .7zm-.5-.7zm-.2 .1zm-3.5 .2zm-1.1 1.3zm2.4-.1zm.7-.1zm.6-.3zm0 .2zm1.9-.1zm.4 .2zm0 .9zm.4-.3zm.3-.5zm.6-.2zm.9 0zm.7-.1zm1.2 .2zm.5 1.1zm.2-.8zm.1-.3zm.8-.2zm1-.1zm2.5 .7zm.5-.4zm1.2 .3zm.2-.1zm.4 .7zm.7-.6zm.3 .2zm.1-.1zm.7-.1zm.1 .8zm.3-1zm.1 .2zm1 .2zm.1 .6zm.2-1.3zm.3 1.2zm.2-.1zm.3-.3zm.2-.1zm.8-.6zm0 .2zm0 .1zm.1 .8zm0-1.2zm.3 1.1zm.1 .2zm.5 0zm.7-.8zm0 0zm0-.5zm.3 .8zm.2-.9zm.1 1.3zm.3-.6zm.3-.2zm0 .9zm.2-.1zm.4-.2zm.2 0zm0-.3zm.7-.8zm.1 .6zm0-.5zm.2 .2zm.1 .7zm.3-.4zm0 0zm.5 .3zm.8-.9zm.1 1.4zm0-1.4zm0 .3zm.2 0zm0 1.1zm.2-.1zm.6-.8zm.1 .7zm.6-.5zm.1-.4zm.6-.1zm.7 .5zm6.9-.1zm-7.9 1.3zm-2.8-.2zm-.1-.1zm-.4 .9zm-.2-.8zm-.5 .8zm-.2-1zm-.6 .1zm-2 0zm-1 1.3zm-.2-1zm-.2-.1zm-.4 .1zm0-.2zm0 .5zm-.4-.3zm-.1-.4zm-.4 0zm-.1 .3zm-2.1 .3zm-.4-.6zm-.3 0zm-.2 1.2zm-2.4-.4zm-.4-.1zm-.5-.7zm-1.6 .3zm-4.8 1zm-.1-.9zm-1.1-.3zm-6 .1zm-1.4-.2zm-2.4 1.8zm4.2 .2zm2.3-.3zm2.7-.1zm4.3 .6zm1.8-.5zm1.7 0zm.7 .3zm.1 .3zm0-.7zm.9 0zm3.3 .7zm1-.5zm1.5 .1zm2 .4zm.1-.2zm.2 .2zm.3 .5zm.4-1zm1.1-.1zm.8-.1zm3.7 1.3zm6.7 0zm5.5 .2zm-14.5 .6zm-2.5 .2zm-2.3-.9zm-4.5 .2zm-.3 .7zm-.1-.8zm-11.5 .8zm-9.4-.4zm22.2 1.8zm8.6-.6z" stroke="#000" stroke-opacity="0.6" stroke-width="0.8" stroke-linecap="square" fill="none" filter="url(#bl)"/>
<line x1="136.50" y1="401.00" x2="136.50" y2="464.40" stroke="#777" stroke-width="0.8"/>
<line x1="99.60" y1="436.50" x2="164.60" y2="436.50" stroke="#777" stroke-width="0.8"/>
<rect x="99.50" y="401.50" width="65.00" height="63.00" fill="none" stroke="#333" stroke-width="0.9"/>
<text x="101.20" y="405.40" font-size="4.0" font-weight="bold" fill="#333">1.32%</text>
<text x="163.40" y="405.40" font-size="4.0" font-weight="bold" fill="#333" text-anchor="end">0.069%</text>
<text x="101.20" y="462.80" font-size="4.0" font-weight="bold" fill="#333">97.0%</text>
<text x="158.20" y="459.60" font-size="7.37" font-weight="bold" fill="#000" text-anchor="end" textLength="9.00" lengthAdjust="spacingAndGlyphs" stroke="#000" stroke-width="0.3">1.6</text>
<text x="107.40" y="470.00" font-size="3.0" font-weight="bold" fill="#666" text-anchor="middle">0</text>
<text x="117.15" y="470.00" font-size="3.0" font-weight="bold" fill="#666" text-anchor="middle">10²</text>
<text x="132.10" y="470.00" font-size="3.0" font-weight="bold" fill="#666" text-anchor="middle">10³</text>
<text x="147.70" y="470.00" font-size="3.0" font-weight="bold" fill="#666" text-anchor="middle">10⁴</text>
<text x="161.35" y="470.00" font-size="3.0" font-weight="bold" fill="#666" text-anchor="middle">10⁵</text>
<line x1="107.40" y1="464.90" x2="107.40" y2="466.20" stroke="#666" stroke-width="0.35"/>
<line x1="112.60" y1="464.90" x2="112.60" y2="466.20" stroke="#666" stroke-width="0.35"/>
<line x1="117.15" y1="464.90" x2="117.15" y2="466.20" stroke="#666" stroke-width="0.35"/>
<line x1="126.90" y1="464.90" x2="126.90" y2="466.20" stroke="#666" stroke-width="0.35"/>
<line x1="130.15" y1="464.90" x2="130.15" y2="466.20" stroke="#666" stroke-width="0.35"/>
<line x1="132.10" y1="464.90" x2="132.10" y2="466.20" stroke="#666" stroke-width="0.35"/>
<line x1="142.50" y1="464.90" x2="142.50" y2="466.20" stroke="#666" stroke-width="0.35"/>
<line x1="145.75" y1="464.90" x2="145.75" y2="466.20" stroke="#666" stroke-width="0.35"/>
<line x1="147.70" y1="464.90" x2="147.70" y2="466.20" stroke="#666" stroke-width="0.35"/>
<line x1="157.45" y1="464.90" x2="157.45" y2="466.20" stroke="#666" stroke-width="0.35"/>
<line x1="160.05" y1="464.90" x2="160.05" y2="466.20" stroke="#666" stroke-width="0.35"/>
<line x1="161.35" y1="464.90" x2="161.35" y2="466.20" stroke="#666" stroke-width="0.35"/>
<ellipse cx="199.0" cy="418.0" rx="19.8" ry="14.0" fill="url(#bg)" opacity="0.6" clip-path="url(#c14)"/>
<ellipse cx="187.6" cy="419.0" rx="23.4" ry="16.9" fill="url(#bg)" opacity="0.2" clip-path="url(#c14)"/>
<ellipse cx="194.1" cy="451.0" rx="11.7" ry="9.4" fill="url(#bg)" opacity="0.25" clip-path="url(#c14)"/>
<ellipse cx="183.6" cy="450.7" rx="20.8" ry="10.4" fill="url(#bg)" opacity="0.06" clip-path="url(#c14)"/>
<path d="M181.7 403.4zm14 0zm4-.1zm5.2 1.4zm-2.3-.5zm-4.7-.1zm-1.7-.6zm-1 1.1zm-5.3-.1zm-9.2 .6zm4.7 1.2zm2.3-.3zm2.6-.9zm3.6 .9zm1.4-.3zm2.8 .4zm3.4-.6zm.5 .2zm8.9 .2zm.9 1.5zm-4.4-.2zm-3-.5zm-2.6 1.2zm-.4-.1zm-.8-.6zm-.9-.2zm-1.1-.1zm-4.9 .8zm-.6-.4zm0 .1zm-3.1-.8zm-4.1 1.3zm-7.9-.7zm-9.2 1.9zm4.5-.8zm4.3-.3zm6.9 .8zm1.7-.2zm2.4-.1zm3.3 0zm.5 .6zm0-.4zm.6-.1zm.7-.5zm.5 .9zm.1-.7zm.3 .3zm1.1 .7zm.2-.5zm1.6-.7zm.1-.1zm.1 1.4zm.1-.2zm.6-.3zm1 0zm0 .1zm2.2-.3zm0-.7zm1.9 1.3zm0-1.1zm.1 .9zm1.8 .2zm.8-.4zm1.5-.5zm.6 .3zm2.1-.4zm4.3-.2zm0 1.6zm-3.7 .7zm-4 0zm-.8-.1zm-.1 .1zm-.7-.4zm-.7 .5zm-.6-.1zm-.1 .5zm-.2-.3zm0 .1zm-1.4-.9zm-.7 1.1zm-.1-.8zm-.3 .5zm-1.4-1.1zm-.7 .8zm-.6 .6zm-.2-.4zm0-.6zm-.4 .9zm-.2-.7zm-.6 .2zm-.6-.1zm0-.7zm-.7 1zm-.3-.1zm-1.1 .2zm-.4-.1zm-.6 .2zm-.1-.4zm0-.2zm-.9 .3zm-.4-.1zm-1.2 .4zm-1.1 .1zm-1.2-.1zm-.9-.6zm-.1-.1zm-.4-.2zm-.4 .9zm-.5-.1zm-1.6-.4zm-1.6-.4zm-3.5 1zm-1.9-1.2zm-.4 0zm-1.5-.1zm-.8 1.7zm1.4 .4zm2.6 .5zm1 0zm1.1-.9zm1.7 .9zm0-.7zm.9 .7zm.9-.4zm.5-.6zm.5 .4zm.2 .7zm.5-.1zm.6 0zm1.2 0zm1.1-.5zm.3-.3zm.2-.3zm.3 0zm.9 1.2zm.3 0zm1-.7zm.1 .9zm1.3-1.3zm.2 .3zm.2 0zm.3 .6zm.2-.1zm0-.7zm.1 .4zm.5-.3zm.2 .6zm.3-.3zm.3-.5zm.2 .4zm.1-.4zm.6 1.1zm.2-1zm.3 .5zm.1 .1zm.4 .2zm.1-.6zm.4 .4zm0 .3zm1.5-.2zm0 .2zm.1 0zm.5-.1zm0-.8zm0 1.1zm.4-.8zm.3 .7zm.1-1.1zm.1 1.2zm.5-.7zm.2 .4zm.1-.3zm.1-.3zm.3-.1zm.8 1.1zm.5-1.3zm.4 .7zm.6-.1zm1 .3zm.5-.5zm.4-.3zm.1 .2zm.5 .4zm.3-.6zm0 .9zm.1-.1zm.1 0zm.3-.8zm13.6 .1zm-4.7 1.9zm-3.9-.7zm-.7 1zm-.5-.7zm-.1-.3zm-.3 .3zm-.1 .1zm-3 .1zm-.3-.1zm-1.1 .4zm-.3-.3zm0 .2zm-.6 .7zm-.1-1.1zm-.6 .9zm-.3-.9zm-.1 .3zm0-.3zm-.1-.1zm-1.1 .2zm-.4-.2zm-.6 .2zm-.1 .2zm0-.5zm0 .2zm-.4-.2zm-.7 1.1zm-.7-.3zm-.4 .1zm-.1-1zm-.4 .5zm-.3 .4zm-.3 .2zm-.2-.4zm-.4 .6zm-.1-1.3zm-.2 .6zm0-.4zm-.2 1zm-.3 .2zm-.1 0zm0-.3zm-.1-1.1zm-.2 1.1zm-.2-.9zm0 1.2zm-.8-.9zm-.1-.3zm-.5 1.2zm-.5-.1zm-.1-.4zm-.1 .2zm-.4 .3zm-.2-.3zm-.7 .3zm-.6-1.4zm-.3 .9zm-.2-.3zm-.1 0zm-.1 .3zm-.1 0zm-.1-.7zm-.1-.1zm-.1 1.1zm-.7-.3zm-.6-.3zm0 .4zm-.2-.7zm-.2 .2zm-.1 .7zm-.2-.3zm-.5 .1zm0-1zm-.3 1.3zm-.1-1.2zm-.9 .6zm-.2-.5zm-.1 .7zm-.5-.6zm-1.2 .8zm-2-.1zm-.1-.7zm-.2 .3zm0 .6zm-.1-.2zm-1 .2zm-1.4-.9zm-.1-.1zm-.2-.2zm-1.4 1.3zm-.1-1zm-.3 1zm0-.8zm-.6 0zm-2.2 .3zm-.8-.3zm-4.4 .9zm-.3 .9zm3.7 .5zm4.1-.6zm.1 .4zm.6-.9zm.6 1.2zm.3-.9zm1.6-.4zm.5 .5zm.6-.3zm.7 .3zm.2-.1zm.2 .7zm.2 .1zm.3-.9zm1 .4zm.1 .2zm0 .3zm.2-.8zm.8-.4zm.2 1.2zm.1-1.2zm1.2 .5zm.5 0zm.7 .8zm0-.5zm.1-.3zm.1 .7zm.1-.7zm.5 .2zm0-.3zm.1-.1zm0 .8zm.1-.3zm.1-.8zm.3 .5zm.1 .5zm.9 .1zm0-.7zm.3 .7zm.1-1.2zm.3 .1zm.3 .5zm.2 .5zm.1-.2zm.2 .5zm.1-.9zm.6 .7zm.3-.9zm.2 0zm.1 0zm.1-.2zm.2 .1zm.2 .2zm.1-.3zm0 .3zm.1 .4zm.1 .2zm.1-.1zm0-.2zm.2-.5zm.1-.2zm.4 .2zm.3 1.1zm.2-.1zm.1-.7zm0 0zm.4-.1zm0 .9zm0 .1zm0-.7zm0 .2zm.1-.6zm.1 0zm.5 .7zm.1 0zm0-.4zm.1 .1zm.1-.6zm.1 .7zm0-.5zm.5 1zm.3-.8zm.1 .9zm.3-1zm.1-.3zm.2 .9zm.2-.9zm.2 .7zm0-.7zm.1-.1zm.4 .6zm0 0zm0 .8zm.7-1.4zm.4 1.1zm0-.4zm.7-.5zm.1 .2zm0-.4zm.1 1.1zm.3 .3zm.4-1.4zm.1 .9zm.1-.6zm.4-.3zm0 .9zm.2 0zm.1 .5zm.1-1.4zm.2 .3zm.4 .3zm.2 .7zm.2-.2zm.2 .1zm.3-.9zm.5 .7zm.1-1zm.3 .3zm.3 .2zm.2 .2zm0 .6zm.5-.3zm0 0zm0-.5zm1-.4zm.6 .8zm.2 0zm1.6-.1zm1.8 .3zm3.1-.3zm.4 .5zm3.4 1.2zm-3-.8zm-2.4 1zm-.4-.1zm-.6-.7zm-1.1 .9zm0-1zm-.6 .8zm-1.1-.7zm0-.2zm-.4 .8zm-.5 .2zm-.1-.8zm-1.3 .3zm-.2-.5zm-.1 .8zm-.4-.3zm-.1 .5zm-.1-.3zm-.2 0zm0 .4zm-.3-1.1zm-.1 .4zm0-.1zm-.3 .7zm-.2 .2zm0-.9zm-.1 .9zm0-.7zm-.5-.5zm-.3 .4zm-.1 .4zm-.1-.8zm0-.1zm-.5 .9zm-.6-.8zm-.2 .1zm-.2 .7zm-.4-1zm-.2 .5zm0 .7zm-.2-1.1zm-.3 .6zm-.1-.3zm-.5 .4zm-.1 .4zm-.1-.3zm-.1-.7zm-.7 .7zm-.1-.1zm-.1-.6zm-.1 .8zm-.4 .2zm-.1-.9zm-.4-.3zm-.6 .5zm0-.3zm-.7 .3zm0 .9zm-.2-.8zm-.1-.4zm-.4 .6zm0-.2zm-.1 .8zm-.1-.9zm0-.5zm-.1 1.1zm0-1.1zm-.2 .3zm0 0zm-.1 .5zm-.4-.6zm-.8 0zm0 .9zm0-1.1zm-.2 .3zm-.1 0zm-.1-.1zm-.5-.2zm-.1 .2zm-.1 .5zm-.2 .5zm-.1-.6zm-.1 .6zm-.1 .1zm-.1-.3zm-.1 .3zm-.4-.5zm0 .3zm-.1-1zm-.1 .1zm0 .4zm-.1-.3zm-.2 1.1zm0-.6zm0-.4zm-.1 0zm0 .1zm-.1 .2zm-.2-.1zm-.3 .1zm-.5-.2zm-.4-.5zm-.3 .4zm-.3 .8zm0 0zm-.2-.3zm-.2 .5zm-.2-.4zm-.3 .2zm-.2-.8zm-.2 .5zm-.1-.2zm-.1 .5zm-.1-.8zm-.1 .1zm-.6 .5zm-.1-.1zm-.3-.4zm-.9-.4zm-.1 .6zm-.1-.7zm-.1 .8zm-.1-.4zm0 .5zm-.6 .2zm-.2-.9zm-.3 .4zm-.3-.4zm-.7 1zm-.8-.8zm-.2 .8zm-.6 .2zm-.1 0zm-.1-.8zm-.7-.4zm0 .9zm-.2-.3zm-1.3-.4zm-.3 .9zm-1.1-1.1zm-1.9 1.1zm-.3 0zm-.3-.8zm-3.8 .7zm-4.9 .4zm3.5 .8zm1.8 .1zm2.7-1zm.3 .7zm.9 0zm.2-.3zm.2 .1zm.6-.5zm1.4 0zm.2 1.3zm.3-.6zm.1 .7zm1.1-1.4zm.9 .2zm.1 1.1zm.8-.2zm.2-1.1zm.5 .8zm0 .5zm1.2-.1zm.4-.7zm0 .1zm0-.4zm.1 .9zm.2-.4zm.3 .2zm.7-.6zm1.1-.2zm.3 1zm.4-.3zm.2 0zm.2 .5zm.1-.9zm.3 .3zm.1 .3zm.1-.3zm.6-.6zm.2 .6zm.6-.4zm.4 0zm.1 1.1zm.1-1.3zm.1-.1zm.2 .6zm.1-.3zm0 1zm.3-1zm0 0zm.2-.1zm.1-.2zm.2 .3zm.5 .2zm.2-.4zm0 .4zm.3 0zm0 0zm.2 .1zm.4-.3zm.3 .1zm.1 1zm.2-.7zm.2 0zm.1-.3zm.1 .1zm.9 .6zm.1-.7zm0 0zm.5 .7zm.1-.1zm.1 .4zm0 0zm.1-.3zm.1-.5zm0-.2zm.2-.1zm.3 .3zm.1 0zm.2-.1zm0-.5zm.2 1.1zm0-.5zm.4-.6zm.1 0zm.4 .7zm0-.7zm.2 .6zm0 .2zm.3-.2zm.1-.1zm.1 .8zm.1-.5zm.4 0zm.6-.4zm0 .4zm.1-.8zm.7 .9zm.2-.9zm.1 .7zm.1 0zm.2-.7zm.1 .8zm0-.5zm.2-.1zm.1 .9zm0-.5zm.1 .8zm.1-1.1zm0 .3zm0 .7zm.3-.9zm.3 .8zm0-.1zm.3-.8zm.5 1zm.2-1.2zm.1 .4zm0 .1zm.2 .7zm.2 .1zm.1-1.4zm.3 1.1zm.5-.3zm.1-.4zm.3 .6zm.6-.6zm.3-.2zm.2 .8zm.2-.8zm.1 .4zm.9 .5zm.3-.3zm.2-.5zm.1 .1zm.2 .7zm.2-1zm0 1.3zm1.2-1.2zm.1 .6zm.2-.2zm.5-.5zm1.4 1.2zm1.6-1zm4.8 2.2zm-5.4-.3zm-1.4-.1zm-.3-.5zm-.1 1.3zm-.4-1.1zm-.2 .6zm0-.4zm-.1 .2zm-1.1-.4zm-1.5 .4zm-1.7-.3zm-.8 .2zm-.1 .6zm-.3-1.1zm-.6 1.1zm-.2-.5zm0 .3zm-.3 .2zm0-1zm-.2 1zm-.1-.4zm-.1 .1zm-.2 0zm-.1 .4zm-.2-.8zm-.1 .9zm-1-1.4zm-.1 .1zm-.1 1.1zm-.2-.3zm-.2-.3zm-.1 0zm-.4-.3zm-.5-.3zm-.1 .4zm-.2 .6zm-.5 .4zm-.1-1.3zm-.2 .2zm-.1 .3zm-.4 .1zm-.3 .1zm0-.2zm-.2-.3zm-.2 1zm-.7-.2zm0-1.1zm-.1 .4zm-.1-.3zm-.8 .5zm-.4-.6zm0 .1zm-.2-.1zm-1 .4zm0 .2zm-.4-.4zm-.1 .1zm0 0zm0 .6zm-.1-.9zm-.3 .2zm-.2 0zm-.1-.1zm-.3 .6zm-.1-.7zm-.1 .7zm0 .7zm-.4-.3zm0-.1zm-.5-1zm0 .7zm-.6-.1zm0 .6zm-.3-.5zm-.1 0zm0-.3zm-.1-.4zm-.1 .8zm-.1 .6zm-.4-.6zm0-.8zm-.3 .6zm-.1-.1zm-.1-.1zm0 .2zm-.1 .6zm-.1-1zm-.5 1zm0 .1zm-.4-1.1zm-.1-.2zm-.5 1.4zm0-1.2zm-.1 .8zm-.2-.4zm-.1 .7zm-.5-.9zm-1.4-.3zm-.2 .9zm0 0zm0-.8zm-.1 .2zm-.4 0zm-.2 .8zm-.1 .2zm-.3-.5zm0 0zm-.2-.9zm0 .4zm-.4 .3zm-.2-.5zm-.4 .6zm-.2 .2zm-1.4-.8zm-.4 .9zm-.4-.5zm-.5 .4zm-2.1 .4zm-1.3-.8zm-.4 .2zm-.4 .5zm-.9-.3zm-1 .1zm-3.3-.9zm-5.7 .8zm5.9 1.3zm1.7 .6zm.3-1.3zm.3 .6zm2.9-.2zm1.1-.5zm0 1.4zm.2-.2zm.8-.3zm1.8-.5zm.6 .9zm.9-1.2zm3.1 .1zm.3 1.1zm.4-.2zm.1-.7zm.2-.3zm.4 .4zm.1 .6zm.2 .2zm.2-1.2zm.3 .3zm.1 .5zm0 .3zm.1-.9zm.1 1.1zm.2-1.3zm.1 .3zm.1 .1zm0-.5zm.2 .4zm.2 .2zm.2 .1zm0 .4zm.2-.3zm.3-.3zm.1-.5zm.1 .9zm.1-.6zm0 0zm.2 1.1zm.1 0zm.2-1.3zm.7 .5zm.3 .8zm0-.2zm.1-.7zm.1 .8zm.2-.9zm.4-.3zm0 .1zm.1 .7zm0-.4zm.3 .7zm0-.3zm.3-.8zm.2 .2zm.1 .1zm0-.2zm0 1zm.1-1.2zm0 .8zm0-.2zm.4-.6zm0 1zm.1-.8zm.6 .5zm.1-.3zm.3-.2zm.1 .8zm.1 0zm.1-.9zm0 1.1zm.2-.6zm.2 .1zm0-.5zm0 .6zm.3-.7zm.1 1.3zm.1-.9zm.8 .9zm0-.4zm.4-1zm.1 .3zm.1 .9zm.1-1.1zm.1 .1zm.2-.1zm.2 .1zm.4-.1zm.1 .9zm.1-.1zm0 .5zm.1-.3zm0-.8zm0-.1zm0 .7zm.1-.2zm.1-.6zm.1 .8zm.1 0zm.1-.6zm.1 .3zm.3-.6zm.2 .5zm0-.5zm.1 1.4zm.2-1.4zm0 .7zm.2-.1zm.2-.6zm.1 1.1zm.3 .3zm.6-1.1zm.4 .1zm.1-.3zm.5 .4zm.2 .4zm0 .4zm0-.7zm.3-.6zm.3 .8zm.4-.2zm.5 .3zm0 .2zm.4-.9zm.5 .4zm.5 .7zm.3-.9zm.2-.3zm.1 1zm.3-.1zm.8-.1zm.8-.6zm.9 1zm.1-.2zm.5-.3zm.1-.6zm.1 .3zm.2 .9zm.2-1.4zm.3 .9zm.8 .2zm2-.9zm.1 .8zm.2-1zm2.9 .9zm4.6 .2zm3.8 .1zm-10 1.3zm-.8-.3zm-.7-.4zm-.4 .6zm-.2 0zm-1.6 0zm-.9-.7zm-.2-.2zm-1.1 1.4zm0-.2zm-1.2-.9zm-.1 .1zm-1.2 0zm0 .6zm0-.1zm-.5 0zm-.1-.3zm-.6 .8zm0-.5zm-.1 .5zm-.3-1.1zm-.2 .6zm-.2-.2zm-.8-.4zm0-.2zm-.5 0zm-.1 .8zm-.6 .4zm-.2-.1zm-1.2-1.2zm0 .3zm-.1 0zm0 1.1zm-.5-1zm0-.3zm-.2 .2zm-.1 .1zm0 .3zm-.2 .7zm-.6-1.3zm-.2 1.3zm0-1.2zm-.1 1.1zm-.1-1.1zm-.2 0zm-.2 1zm0-.9zm-.2 .3zm-.7-.4zm-.2 .2zm-.2 .5zm-.1 0zm-.1 .3zm0-1zm-.2 .2zm-.1 .9zm-.2-.3zm-.2-.7zm0-.2zm-.1 .5zm-.1-.6zm0 1zm-.1 .2zm-.1-.8zm-.2-.4zm-.2 .6zm-.2-.4zm-.2 1.2zm0-.6zm-.5-.3zm0-.1zm-.2-.2zm0 .3zm0-.1zm0 .8zm-.1 .1zm-.3-1.2zm-.1 .6zm-.5 .3zm-.6-.9zm-.3 1.2zm-.1-.2zm-.4-1.1zm-.3 .7zm-.1 .4zm-.1-.4zm-.2 .2zm-.4-.2zm-.3 0zm-.7 .1zm-.2-.3zm-.2 .7zm-.3-1.2zm-.2 .2zm-.2 1zm-.2-.8zm-.5 .8zm0-1.1zm-.1 .7zm-.1 0zm-.2-.4zm-.5 .4zm-.1 0zm-.3-.8zm0 .2zm-1.1 .6zm-.1-.1zm0 .1zm-.7-.8zm0 0zm-.3 .2zm-.2 .1zm-.6 .4zm0 .1zm0-.5zm-.1 .6zm-.2-.4zm-.7 0zm-.7 .1zm0 .8zm-.1-.4zm-.4-.4zm0 .5zm-.6-1.1zm-.4 1.4zm-.3-.7zm-1.2-.5zm-.3 1.1zm-.1-.2zm-.2-.8zm-.2 1zm-.3-.5zm-.4 .4zm-.4-.4zm-.2 .1zm-.3-.9zm-1.1 .8zm-1.1-.3zm-.3 0zm-.6-.2zm-2.9-.1zm-2.8 0zm-1.8 .3zm5 1.8zm2.1-.7zm.9-.1zm1.9 .6zm2.2 .4zm.9-.6zm.6 .9zm.5-1.3zm.6 1.1zm.4-1.1zm3.1 .3zm1 .3zm.3 .4zm.6-.6zm0-.4zm.2 .7zm.4-.6zm0-.1zm0 .9zm1.3 .3zm.1-1.2zm.3 .1zm.3 .9zm0-1zm.5 .7zm.5 0zm.1 .5zm0-.8zm.8-.3zm.2 .5zm.1-.5zm.2 1.1zm.1-1.2zm.2 1.1zm.5-.4zm.2 .2zm0-.8zm.1 .7zm.5 .6zm.1-1.3zm.3 .6zm.2 .3zm0-1zm1.1 .5zm0 .1zm.2 .1zm.9 .2zm.2-.3zm.3-.2zm0 .5zm.5-.7zm.2 1.2zm.2-.1zm.1-.9zm.1 .4zm.1 .1zm0-.3zm.5-.1zm0 .8zm.1-1.2zm.8-.1zm.7 1zm.3-.7zm.1 .5zm.2-.5zm.1 .7zm.8-.5zm.2 .1zm.2-.6zm0 1.1zm.3-.4zm.7 .2zm.8 0zm1.4 .2zm.7 0zm.2-.1zm.8-.1zm.3-.6zm.7 .5zm0-.6zm0 .6zm.4 0zm.3-.7zm1.2 1.2zm1.5-.9zm.2 .4zm2.4 .1zm.3 .4zm.1-.3zm2.5 1.3zm-4.3 .6zm-.5-1.2zm-2.7 .6zm-.5-.4zm-1.8-.2zm-.1 .4zm-.3-.5zm-1.3 .6zm-.4 .7zm-.6-.7zm-.2 .1zm-.2 0zm-.4-.2zm-.4 .2zm-.1-.4zm-.4-.1zm-.8 1zm-1.2-.6zm-.2 .5zm-.3-1.2zm-.3 1zm-.5 .1zm-.1-1.1zm-.5 .2zm-.1 .5zm-.7-.1zm-.2 .2zm-.4-.7zm-.2 .8zm0-.1zm0-.8zm-.1 .3zm-.4 .3zm-.1 .8zm-.3-1.2zm0 .5zm-.6 .1zm-.1-.7zm-.3 1.2zm-.1-1.2zm-.3 .5zm-.1-.4zm-.3 0zm-1.1 .4zm0 .6zm0-.5zm0 .3zm-.4-.8zm-.1 .6zm-.3-.8zm-1.5 1.1zm-.2-.7zm-.6-.3zm-.2 .6zm-.8 .5zm-.3-.1zm-.4-.1zm-.2-.6zm-1.1-.1zm-.2 1zm0-.3zm-.2-.9zm0 0zm0 .4zm-.4-.1zm-.1 .5zm-.2 .5zm-.3-1zm-1.3 .3zm-1.1-.3zm0 .7zm-.2-.8zm-.4 .3zm-.7 .7zm-.2-.9zm-.1 .8zm-4-1.1zm-.7 1zm0-.6zm-1.2-.4zm-.4 .8zm-8.7 .3zm-.9 0zm11.4 1.2zm.8-.2zm.7 .7zm.6-.7zm.4 .1zm.2-.1zm1.5-.5zm1.6 1.2zm.5-.6zm.7-.3zm.4 .6zm.2 .2zm1.7-1.2zm.4 .9zm.7-.4zm0-.6zm.5 .9zm1.2-.9zm.1 .3zm.4 .5zm.1 .5zm.1-.1zm.4-.6zm.6-.5zm.2 .7zm2.1-.2zm.2 .1zm.5 .1zm.7-.2zm.3-.1zm.7 .4zm.8-.2zm.1-.4zm.5 .5zm.1-.1zm.1-.4zm.6-.1zm1.3-.1zm.2 .6zm.4-.3zm.3 0zm.3 .5zm0 0zm1 .5zm.1-1.3zm.2 .1zm.7 .4zm0-.2zm.5 .3zm.8 .6zm.7 0zm1.1-1.1zm.1 .9zm1.6-1.1zm.3 .6zm.2 .8zm1-1.3zm1.9 .4zm3.5 .1zm.5 .7zm-4.3 1.3zm-1.9-.1zm-2.9-.3zm-.4-.7zm-1.6 1.3zm-1.5-1zm-1 .8zm-.4-.5zm-.6-.6zm0 1.2zm-.6-1.2zm-.3 1.1zm-.5-.9zm-2 1.2zm-.6-.7zm-.4 .3zm-.5-.5zm-1.1-.5zm-1.4 .2zm-.3 1zm-1.7-.1zm-.4-.6zm-1.5-.4zm-.7 1.1zm-.1-.9zm-1.3 .9zm-2.8-.2zm-2-.2zm-.2-.8zm-.6 1.1zm0-1.1zm-.5 .1zm-3.6 .9zm-.7 .3zm-.4-.9zm-6.3 1zm1.3 .3zm3.9 .1zm.5 .7zm.1-.8zm.9-.2zm2.8 1.4zm10.2-1.3zm1.1 .2zm.1 .6zm.9 .5zm.6 0zm.9-.6zm1 .6zm2.6 0zm.8-.8zm0-.6zm1.9 .6zm.6 .5zm1.3 .2zm1.6-.2zm1.2-.4zm2.2-.5zm.6 0zm.5 .8zm.3-.5zm.3-.5zm1.7 .2zm.5 .3zm.3 0zm.6-.5zm1.8 .9zm1.3-.9zm.3 1zm3.5-.3zm-7 1.4zm-1.7 .2zm-5.1-.8zm-4.3 .6zm-1.4-.3zm-1.1 .8zm-.9-.7zm-1.5 0zm-.3 .2zm-.5 .4zm-1.3-.6zm0-.1zm-1.1-.3zm-8.3 1.4zm-1.4 0zm-1.7-.5zm-5.8 1.1zm10.2-.1zm1.1-.1zm7 .1zm.4 .5zm5.9-.8zm4.5 1zm3.8-.6zm1.3 .7zm7.6-.1zm-13.5 1.3zm-11.1-.9zm-3 0zm-1.8 0zm-1.9 .3zm-2.8 .4zm-7.2 1.9zm25.1-.5zm.7 .5zm11.2-.4zm0 1.1zm-1.7 .9zm-.5-.6zm-10.6-.6zm-7.6 1.3zm-1.2-.5zm-4.2-.5zm-15.3 .7zm27.7 .8zm.3-.1zm11.3 .4zm.3 0zm2.4 .2zm7.4 1.6zm-3.7 .3zm-9.8-1zm-1.6 .9zm-3.5-1zm-1.3 .8zm-2.5-.6zm-1.2 .8zm-12 .8zm1.6 .9zm.7 0zm1.5-.6zm3.5 .4zm4.3-.3zm2.4 .1zm7-.3zm8.4 .4zm3.5 1.4zm-.8-.6zm-18.2 .7zm-1.2-1zm-2.1 .1zm-.9 .7zm-1.9-.5zm-2.2 .9zm-2.1-1zm-6.1 1.1zm-10.9 .7zm5.4 .6zm.6 .2zm0-.5zm5.2-.8zm1.4 .8zm.5 .5zm2-.4zm2.4 .1zm1.5-.4zm.3-.2zm1 .3zm.1 .1zm0 .3zm.1-.2zm.8-.3zm.8 .6zm2.3-.1zm0-1zm0 .2zm1.4-.2zm1.1 1.3zm.3-.2zm2.8-1.2zm14.3 1.3zm-3.7 .9zm-7.3 .1zm-3.1 .6zm-.7-.5zm-.8 .5zm-1-1zm-.2 1zm-.5-.1zm-2.3-.3zm-.5-.1zm-.5-.9zm-.6 .4zm-.3 1zm-.2-.1zm-.3-.1zm-.8-.9zm-.1 .6zm-.2 .4zm0-1zm-1.1-.2zm0 .9zm-1-.9zm-.1 .5zm-.6-.2zm-.1 .3zm-.3-.4zm-.4 .5zm-.1-.5zm-.5-.2zm-2 1.3zm-.9-1zm-.1 .4zm-1.4 .6zm-.6-1zm-1.9-.3zm-1.3 .9zm-4.1-.7zm-2.9 1zm-3.6 .2zm4.4 1.2zm.6-1.2zm2.2 .9zm.2 .4zm4.9-.7zm.3-.6zm.6 1.2zm.8-1.1zm2.4 1zm1.7 .1zm.9-1.1zm.2 1.1zm.1-.7zm.6-.4zm.1 .8zm.3 .1zm.2-.4zm.6 .1zm0 .4zm.6-.9zm.3 1.1zm.8 .1zm.2-1.3zm.3 1zm.3-.5zm.5-.3zm.6-.1zm.1 .9zm.1-.1zm.3-.3zm.4-.4zm.3 .1zm.1 .3zm0 .2zm1.4-.1zm0 .2zm1.3 .2zm1.4-.8zm.2 .1zm.2 .6zm.8-.6zm1 .7zm2.5-.8zm.2 1.9zm-2.4 .2zm-.1-.9zm-1.2 .4zm-1-.5zm-1.5 1.2zm-.2-.2zm-.3-.3zm0-.7zm-.2 .1zm0 1.2zm-1.3-.1zm0-.8zm-1.1-.4zm-.2 .7zm-.3-.3zm-.3-.3zm0 .8zm-.3-.9zm-.3 .6zm-.6-.2zm-.5-.3zm-.2 .8zm-.2 .1zm0-.9zm0 .7zm-.1 .4zm-.1 .1zm-1.7-.6zm-.3-.5zm-.7 1zm-.1-.9zm-2.1 .6zm-.1-.4zm0 .7zm-.6-.3zm0-.3zm-.5 .7zm-.3 0zm-1-.2zm-2.6-1zm-.3 1zm0 .3zm-.8-.5zm-.4 .4zm-1.3-.8zm-5.2-.1zm-1.6 1zm-1.3-.9zm-1.6 .8zm-2.4-1.1zm.6 2.4zm5.5-.9zm1.4-.1zm1.6 .9zm1-.6zm.6 .5zm1.7-.5zm.1 .6zm1.2-.7zm.2 1.1zm.2-.3zm.9-.5zm1.9 .2zm1.7-.6zm.2-.1zm.4 1.1zm1.2-.2zm.1-.8zm1 0zm1.7 .8zm0 .4zm.1-.9zm.2 .1zm.6 .8zm0 0zm.2-.6zm.4 .4zm.1-1zm.1 .9zm.1-.4zm.1 .7zm0 0zm.5-1.4zm.2 1.3zm.1-.9zm.1 .7zm.1-1zm.1 .4zm.2 .7zm.1-.2zm0-.4zm.4 .3zm0-.8zm.4 1.1zm0-.7zm.2-.4zm.1 .9zm.1-.9zm.2 1.2zm0-.5zm.2-.7zm.4 .3zm0-.2zm.6 .8zm.1-.7zm.4 .5zm.1 .2zm.2-.9zm0 .6zm.3-.5zm.1 .9zm.2-.7zm1.4-.4zm.5 0zm.4 .5zm.4 .3zm.1 .2zm.4-1zm3.6 2.3zm-1.1-.3zm-.4 .2zm-.1-.3zm-3.2-.4zm-.3 1.4zm-.6-.4zm-.4 .4zm-.8-1.1zm-1.3 0zm-.3 .3zm-.5 .2zm-.8-.6zm-.1 .8zm-.3-1zm-.2 .5zm-.3-.1zm0-.1zm-.1 .3zm-.1 .4zm-.4-.8zm-.1 .7zm-.5 .1zm-1.4-1zm-1.6 .5zm0 .5zm0-.5zm-.2-.3zm-.8 .8zm-.2-.4zm-.7-.2zm-.2-.4zm-1.1 .7zm-1.8-.5zm-.3 .1zm0-.2zm-1.4 1zm-2.4-.2zm-5.9-.9zm-1.2 .6zm-.5-.2zm-1.3-.4zm-.5 .3zm1 1.8zm8.2-.3zm2.5 1.1zm.3-.1zm.4-.1zm.5-.7zm0 .2zm.5-.4zm1.6 .1zm.6-.3zm.2 1zm1.2-.5zm.1-.6zm.3 .2zm.2-.1zm0-.1zm.4 1.2zm.3-.2zm0-.7zm.4 .2zm0 0zm0 .1zm1-.4zm.4 .1zm.2 0zm.4-.2zm.1 .8zm.3-.5zm.2 .2zm.4-.2zm0 .3zm1.1-.7zm.1 1.3zm.3-.5zm.1-.2zm.1-.6zm.1 .7zm.1 .7zm.3-.4zm.1-.2zm.2 .6zm0-.6zm.1-.6zm.2 .8zm.1-.8zm.2-.1zm1.2 .6zm.5 .1zm.1-.8zm.3 1.2zm.2-1.1zm.2-.1zm.3 .4zm.4 .2zm.9-.4zm.3 .9zm.4 0zm.2-.9zm1 .5zm1.3 .7zm.5-.2zm6.2-1zm-7 1.7zm-1.9 .3zm-.9 .6zm-2.3-.7zm-1.3 .1zm0-.3zm-2.4 .8zm-.4 .1zm-.4-.6zm-.4 .2zm-1.2-.1zm-.6-.4zm-.6 .1zm-.5-.1zm-.3 .8zm-.2-1zm-.1 .1zm-.7-.2zm-.1 .7zm-.1 .4zm-.5-.9zm-.8-.2zm-.2 1zm-.1 .3zm-.1-.3zm-.7-1zm-.5 .6zm-.9-.7zm-8.1 .9zm-1.7-.5zm-1-.1zm-2.8 2.1zm3.4-.9zm1.8 .5zm5.5 0zm1.7 .2zm.7 .1zm1.5-.3zm2-.4zm1.2 .2zm.5 .4zm1.1 .2zm0-.1zm3-.6zm.8 .4zm1.6 .1zm.3-.6zm.2 .2zm.2 .7zm.3-.9zm3.4-.1zm.1 .6zm2.8-.5zm2.4 .6zm-9.6 1.1zm-1.3 .2zm-1.7 .3zm-1.2-.5zm-2.2 .3zm-2-.1zm-3.2 0zm-7.2-.4zm-.8 2.6zm7.3-1zm13.9 .9zm2.6 .1zm-5.7 .5zm-2.2 .1z" stroke="#000" stroke-opacity="0.6" stroke-width="0.8" stroke-linecap="square" fill="none" filter="url(#bl)"/>
<line x1="201.50" y1="401.00" x2="201.50" y2="464.40" stroke="#777" stroke-width="0.8"/>
<line x1="165.60" y1="436.50" x2="230.60" y2="436.50" stroke="#777" stroke-width="0.8"/>
<rect x="165.50" y="401.50" width="65.00" height="63.00" fill="none" stroke="#333" stroke-width="0.9"/>
<text x="167.20" y="405.40" font-size="4.0" font-weight="bold" fill="#333">51.2%</text>
<text x="167.20" y="462.80" font-size="4.0" font-weight="bold" fill="#333">20.3%</text>
<text x="229.40" y="462.80" font-size="4.0" font-weight="bold" fill="#333" text-anchor="end">0.656%</text>
<text x="226.30" y="409.00" font-size="7.37" font-weight="bold" fill="#000" text-anchor="end" textLength="11.00" lengthAdjust="spacingAndGlyphs" stroke="#000" stroke-width="0.3">27.8</text>
<text x="173.40" y="470.00" font-size="3.0" font-weight="bold" fill="#666" text-anchor="middle">0</text>
<text x="183.15" y="470.00" font-size="3.0" font-weight="bold" fill="#666" text-anchor="middle">10²</text>
<text x="198.10" y="470.00" font-size="3.0" font-weight="bold" fill="#666" text-anchor="middle">10³</text>
<text x="213.70" y="470.00" font-size="3.0" font-weight="bold" fill="#666" text-anchor="middle">10⁴</text>
<text x="227.35" y="470.00" font-size="3.0" font-weight="bold" fill="#666" text-anchor="middle">10⁵</text>
<line x1="173.40" y1="464.90" x2="173.40" y2="466.20" stroke="#666" stroke-width="0.35"/>
<line x1="178.60" y1="464.90" x2="178.60" y2="466.20" stroke="#666" stroke-width="0.35"/>
<line x1="183.15" y1="464.90" x2="183.15" y2="466.20" stroke="#666" stroke-width="0.35"/>
<line x1="192.90" y1="464.90" x2="192.90" y2="466.20" stroke="#666" stroke-width="0.35"/>
<line x1="196.15" y1="464.90" x2="196.15" y2="466.20" stroke="#666" stroke-width="0.35"/>
<line x1="198.10" y1="464.90" x2="198.10" y2="466.20" stroke="#666" stroke-width="0.35"/>
<line x1="208.50" y1="464.90" x2="208.50" y2="466.20" stroke="#666" stroke-width="0.35"/>
<line x1="211.75" y1="464.90" x2="211.75" y2="466.20" stroke="#666" stroke-width="0.35"/>
<line x1="213.70" y1="464.90" x2="213.70" y2="466.20" stroke="#666" stroke-width="0.35"/>
<line x1="223.45" y1="464.90" x2="223.45" y2="466.20" stroke="#666" stroke-width="0.35"/>
<line x1="226.05" y1="464.90" x2="226.05" y2="466.20" stroke="#666" stroke-width="0.35"/>
<line x1="227.35" y1="464.90" x2="227.35" y2="466.20" stroke="#666" stroke-width="0.35"/>
<ellipse cx="263.6" cy="420.6" rx="16.1" ry="14.6" fill="url(#bg)" opacity="0.6" clip-path="url(#c15)"/>
<ellipse cx="253.6" cy="421.0" rx="23.4" ry="16.9" fill="url(#bg)" opacity="0.18" clip-path="url(#c15)"/>
<ellipse cx="261.2" cy="450.3" rx="12.5" ry="9.9" fill="url(#bg)" opacity="0.45" clip-path="url(#c15)"/>
<ellipse cx="249.6" cy="450.7" rx="20.8" ry="10.4" fill="url(#bg)" opacity="0.08" clip-path="url(#c15)"/>
<path d="M254.8 404.9zm-3.5 .7zm3 .8zm13.1-.6zm16.1-.3zm-10.2 1.8zm-4.4 .1zm-2.1-.4zm-.7 .7zm-3.4-.8zm-1.1 1zm-5.6-1.3zm-1.6 .5zm-6.4 .4zm-1.5-.5zm-13.2 2.4zm6.2-1.3zm8.6 .4zm1.1 0zm1.6-.4zm.3 .6zm.1 .2zm.3 0zm.7 .3zm1.4-.2zm.3-.8zm2.6 .8zm1.5-1zm.5 .7zm1.7 .1zm.1-.2zm.2 .6zm.6-.8zm.2 .5zm1 .4zm2.3-.2zm.6-.5zm2.4 .5zm2.5-.9zm6.1 1.3zm-1.5 .4zm-3.2 .9zm-1.6 .1zm-1.5-1.3zm-.9 .8zm-2.5 .1zm-3.6 .3zm-.9-.2zm-3.4-.4zm0 .3zm-.7 .4zm-8.8-1.3zm.9 2.6zm1.6-1.1zm0 .8zm3.3-.8zm.5 .2zm.9 .1zm1.6 .9zm.4-.6zm.2 .7zm.3-.1zm0-.7zm1.2-.3zm.5 0zm.6 1zm1.9-1.2zm2.8-.1zm.4 1.3zm1.7 .1zm1.3-1zm1.4 .2zm.7-.3zm.7 0zm7.5 1.2zm-5.2 1.3zm-.3-.1zm-3.2-.1zm-1.8-.5zm-.3 .5zm-.8 .2zm-.3-1.3zm-2.4 .9zm-.7-.8zm-.4 1.2zm-.2-.6zm-.8 .6zm-.1-1.2zm-.1 .6zm-.3-.2zm-.1 .4zm-1.2 .2zm-.6-.9zm-.7 .8zm-.5 .3zm-1.1-.2zm-.3-.2zm-1.3-.1zm-.8-.2zm-.3 .7zm-.4-.3zm-1.9-.6zm-1-.1zm0-.2zm-.1 1.2zm-.5-.3zm-.1-.3zm-8.2-.2zm-3 1.8zm3.4 .3zm.5 .1zm4.6-.5zm.1 .4zm1.4 .3zm.6 0zm.8-1.1zm1.8 .8zm.3-.8zm.1 .7zm.1 .3zm.3-.7zm.6 .6zm.2-.2zm0-.4zm1.3-.2zm.3 .8zm.2-1zm0 .4zm.3-.5zm.2 0zm.5 1.2zm.9-1.2zm.6 .8zm.1 .1zm.9 .4zm.1-1zm.1 .3zm.1 .3zm0 .1zm.2 .1zm.1-.4zm.4 .3zm.5-.1zm.1 .3zm.4-1.2zm.9 .3zm.1-.3zm.1 1.2zm.1-.3zm.2-.6zm.4 .6zm0-.6zm.4-.3zm.3 .2zm0 .5zm.4-.7zm.1 .8zm.9-.9zm.4 .3zm.2-.2zm0 .8zm.3-.3zm.1-.4zm.1-.1zm.8 .3zm.1 1zm.2-.6zm.3-.4zm.8 .2zm.1-.1zm.2 .5zm.8 .1zm.2 .3zm.1-1zm0 .9zm0-1.3zm.1 1zm0 .1zm.2-.3zm.6-.8zm1.1 1.4zm.3 0zm.9-.2zm.7-.3zm3.2 .3zm15.8 .5zm-14.6 .9zm-1.4-.1zm-2.1 .1zm-.1 0zm-.5-.3zm-.3 0zm-.2-.3zm-.7-.5zm-.8 .3zm-.5 .3zm-.2 .4zm-.2-.1zm-.3-.7zm-.1 .7zm0-.8zm-.1 .1zm-.3 1zm-.7 .1zm-1-1.2zm0 1.1zm-.5-.7zm-.5-.1zm-.1 .5zm-.2-.8zm-.4 1.1zm-.2-.4zm0 .2zm-.6 .4zm-.1-.6zm-.2 .6zm0-.9zm-.2 .6zm-.4 0zm0-1.1zm0 .3zm0-.3zm-.1 .6zm-.3-.5zm-.4 .9zm-.4-.2zm-.2 .2zm0 .2zm-.2-.3zm-.2 .3zm0-1zm-.3-.2zm-.4 1.4zm-.1-.3zm-1 .1zm0 .2zm0-.9zm-.4 .2zm-1-.3zm-.3 .6zm0-.7zm-.1 .9zm-.3 .2zm-.1-.1zm-.3-.9zm-.1-.3zm-.6 .6zm-.6 .6zm-.1-.2zm-.3-.6zm0 .6zm-.5 .1zm-.2-.3zm-.3 .3zm-.2 .2zm-.1 0zm-1.1-1.1zm0 .4zm-2.3-.7zm0 1.2zm-.2-.5zm-.7 .6zm-.4-.2zm-.6 .2zm0-.9zm-.2-.3zm-.6 .5zm-.4-.3zm-1.2 0zm-.2 1zm-3.9-1zm-4.5 .6zm-6.2 1.9zm9.2-1.2zm1 1.2zm3.3-.5zm1.9 .1zm.2-.3zm0-.2zm.1 .6zm.2 .2zm1.2-.7zm.2 .1zm.1-.2zm.8 .8zm.9-1zm.3-.2zm.9 .2zm.5-.2zm.4 .8zm.1 .6zm0-.5zm.5-.5zm.2 .2zm.5 0zm.2-.6zm.5 .2zm.2 1.2zm.7-.2zm.2-.2zm.2-.8zm.2 .8zm0-.9zm.1 1.3zm.1-.8zm.2-.2zm0 1zm.3 0zm.1-.2zm.2-.6zm.2 .7zm.1-.7zm.1 .8zm.1-.4zm0-.6zm0 0zm.1 .7zm.1 .1zm0-.2zm.3-.5zm.2-.5zm.2 .9zm0 .4zm.3-.8zm.1 .3zm.2 .6zm.1-.2zm.4-.1zm.3-.4zm0-.7zm.1 .9zm.2-.3zm.3-.5zm0 .4zm.2 .2zm.2 .3zm.1 .2zm.8-1zm0 .8zm0-.2zm.3-.6zm.2 .4zm.4 .4zm0 .3zm.2-1zm0 0zm0 .9zm.1 .2zm.2-.8zm.1 .2zm.2 .1zm.1-.2zm.1-.7zm0 1.4zm.2-.3zm.1-.7zm0 .1zm.3-.4zm.1 .5zm.1 .2zm.2-.3zm0 .6zm.1-.4zm.1 .4zm.9-.5zm.2 .4zm.1-.6zm.3 .3zm.2 .5zm.7 .2zm.6-.5zm1.2 .5zm.2-1.4zm.1 .6zm1.4 .5zm.7-.8zm.5 1zm1.2-.3zm.1-.8zm1.9 .3zm.8 .3zm3.4 1.4zm-1.5-.2zm-1.2-.2zm-1.2 .3zm-1.9-.2zm-.7-.1zm-.7 0zm-.3 .2zm0 .6zm-.1 .3zm-.2-1.4zm-.1 .5zm-1 .3zm0-.8zm-.1 .6zm-.5-.6zm0 .2zm-.2 1.1zm-.7-1zm-.3 1.1zm0-1.3zm-.1 .6zm-.4-.1zm-.1 0zm-.9-.1zm-.3-.1zm-.1-.2zm0 .2zm0-.1zm-.1 .9zm-.2-.8zm-.1-.2zm-1 .3zm-.3 .7zm-.3-.7zm0 .4zm0-.3zm-.1-.3zm0 .4zm-.2 .6zm-.1-1.2zm0 .7zm-.2-.7zm0 1.3zm-.1-.7zm-.1-.3zm0 .2zm-.2 .4zm-.3 .1zm-.2-1.1zm-.1 .6zm-.2 .8zm-.3-.4zm0 0zm-.3 .2zm-.1-1zm-.1 0zm0 .9zm-.2 .2zm-.1-1.2zm-.1 .4zm-.5-.4zm-.3 0zm-.3 1.2zm0-1.2zm0 1.1zm-.1-1.1zm0 .1zm0 .4zm-.4-.2zm0 .8zm-.1-.4zm0 .4zm-.1-.2zm0-.5zm-.1-.5zm-.1 .8zm-.1 .1zm0 .3zm-.2-.3zm-.2-.6zm-.1 1.1zm-.1-.2zm0-.6zm-.1-.4zm-.2 1.2zm0-.9zm-.1 .5zm-.1 0zm-.3-.6zm-.1-.3zm0 .9zm-.1-.5zm-.2 .8zm-.1-1.1zm-.1 1.1zm-.1-.9zm-.3-.3zm-.4 .1zm-.2 .1zm-.1 1zm-.1-.7zm-.5-.6zm-.3 .3zm-.1 1zm0-1zm-.1 1.1zm-.1-.9zm0-.1zm0 .7zm-.5-.1zm-.2-.2zm-.1 .5zm0-1.3zm-.2 .1zm-.4 .6zm-.5-.5zm-.6 .8zm-1.1-1zm-.6 .8zm-.3-.5zm-.2 .1zm-.2 1zm-.4-.7zm-.3 .4zm-.8-.6zm-.7-.4zm-.3-.1zm-.5 0zm-.1 1.2zm-.8-.7zm-2.6 .8zm-1.6-.2zm-1.6 0zm-.5-.9zm0 .3zm-1.7 .4zm-2.1-.2zm-.1-.3zm-.6 .4zm-.3 .2zm-2.1-.2zm-1 .6zm-1.4-1.3zm-.6 1.6zm2 1zm2.9-1.2zm1.4 .6zm.1 .8zm1.5-.9zm1.4 .2zm2.9 .4zm.3-.6zm1.5-.4zm.2 .7zm.5 .1zm1-.4zm.1 .7zm.2 0zm1.3 .2zm.4-.9zm.1 .9zm2-1.3zm.1 1.2zm.1-.6zm.4-.4zm.4 0zm.1 .8zm.3 .1zm.8-.9zm.1 .2zm0 .4zm.1-.9zm.4 1.2zm.1-.2zm.2-.4zm.4 .7zm.3-.5zm.2-.8zm.6 1.1zm.1-1.1zm.1 0zm.1 1.2zm0-.4zm.2-.1zm0 .1zm.5 .1zm.3 .2zm.3-.4zm.3-.2zm.4 .4zm.1-.4zm.2 .6zm0 .3zm.3-.5zm.1 .2zm0-.2zm0 .1zm0-1zm.1 .6zm0 .1zm.2 0zm0 .4zm0-.2zm0 .1zm.1-.6zm0-.1zm0 1.1zm.2-.1zm.1-.2zm.1-.9zm.1 1zm.2-.2zm.4-.4zm.1 0zm.1-.3zm.2-.2zm0 0zm.1 .8zm.1-.8zm.1 .8zm.1-.1zm.3 .3zm0-1zm.1 .8zm.2 .3zm.1-1.2zm.2 1.4zm0-.3zm.1-.8zm.1 .4zm.2-.6zm.3 .7zm0 .2zm.1-.8zm0 .5zm.1-.2zm.1 0zm.1-.5zm0 .4zm.3 .1zm.1-.2zm.3-.3zm0 .4zm.1-.2zm.1 .4zm.2 .4zm.1 .2zm.2-.1zm.1-.5zm.2 .7zm0-.6zm0 .3zm.2-.8zm0 .4zm.1-.3zm.1 .9zm.1-.2zm.1-.7zm.3 1.1zm0-.7zm.1-.4zm0 1zm.2-1zm0 0zm.2 .8zm.2 .1zm0-.8zm.2-.2zm.1 .5zm0 .3zm.1-.8zm0 .3zm0 0zm.2-.1zm.1 .8zm.2-.4zm.1 .3zm.7-.3zm0 .2zm0 .4zm.2-1.1zm.1-.2zm.2 1.1zm0-1.2zm.1 .5zm.3-.4zm.2 1.3zm.2-.3zm.1-1.1zm.6 .8zm0 .6zm.4-1.4zm.1 .5zm.2 .1zm.2 .1zm.2-.7zm.5 1.4zm1.2-1.3zm2.6 1zm.1-1zm1.7 .1zm1.6 .2zm0 2.1zm-5.9-.4zm-.8 .3zm0 .1zm-1.1 .4zm-.1-.5zm-.9 .1zm-.1-.2zm0-.4zm-.1 .7zm-.2 .3zm-.1-.6zm-.2-.1zm-.2 .6zm0-.5zm-.3-.4zm-.7 0zm-.1-.2zm-.1-.2zm-1.3 .3zm-.1 .2zm-.1 .3zm-.4 .1zm0 .5zm-.1-.8zm-.1 .6zm0 .1zm-.3-.9zm-.5 .6zm-.1-.1zm-.5 .3zm0-.7zm-.1-.5zm0 .8zm-.1-.8zm0 0zm0 1.4zm-.2-1.3zm-.7-.1zm0 1zm-.1 .1zm0-.3zm-.1-.6zm-.1 .2zm0-.2zm-.2-.1zm-.2 .3zm-.1-.2zm0 .7zm-.2 .3zm0-.7zm-.2-.1zm-.4 .3zm-.1 .2zm-.2-.1zm-.1 .4zm-.4 .1zm0-1zm0 .4zm-.5 .5zm0 .1zm-.3-.7zm-.3-.1zm-.1 .2zm-.1 .7zm-.7-1.4zm0 .7zm0-.6zm-.4-.1zm-.1 1.3zm-.1-.1zm0-.8zm-.1-.2zm0 .1zm-.5 .3zm-.5 .2zm0-.3zm-.3 .1zm0-.3zm-.4 .2zm-.1 .9zm0-.3zm-.1 .1zm0-.4zm0-.1zm-.2 .4zm-.2-1.1zm-.1 1.2zm0 .2zm-.1-1.3zm-.2 .4zm-.3 .7zm0-.5zm-.9 .1zm-.2 0zm0-.4zm-.1-.3zm-.1 0zm-.1 1zm-.2-1.1zm-.2 1.3zm-.4 .1zm-.1 0zm-1.3-1.4zm0 1.2zm-.5-.3zm-.7 .2zm-.3-.7zm-.1 .1zm-1.2 .1zm-3.2 .1zm-.5 0zm-2.9-.1zm-2.2 .2zm-1.6-.3zm-1.6 .6zm6 1.2zm2 0zm1.4-.5zm1.6 .8zm1.2-.7zm.6 .8zm1-.7zm.3 .5zm.7 .1zm.1-1.1zm.4 1.3zm.1-.9zm.1 .9zm.1-.7zm.1 0zm.4 .6zm.5-.3zm.2 .3zm0-.1zm.5-.1zm.1 0zm0-.5zm.1-.2zm.2 .7zm.1-1zm.1 0zm.1 .2zm.5-.2zm.2 .4zm.2 .8zm0 .1zm0-.8zm.1 .9zm.4-1.4zm.3 1.2zm.2 0zm.1-.6zm.4-.4zm.1 .7zm.2 .5zm.2 0zm.3-.8zm0-.5zm.2-.1zm.1 .5zm.4 .7zm.2-.1zm.2-.2zm.1-.5zm.5 .4zm.1 .6zm.1-.7zm0 0zm.1 0zm.1-.1zm.1 .3zm.1-.6zm.1 .3zm.3 .8zm0-1.2zm.4 .5zm.9-.6zm.3 0zm.6 .4zm.6-.4zm0 .1zm.4 1zm0-1zm.1 0zm0 .1zm.1 .4zm.1-.2zm.4 .3zm0 .1zm.1 .2zm.1-.7zm0 .3zm.2 .6zm0-.5zm.5 0zm.4-.8zm0 .9zm.1 .5zm.1-1.4zm0 1.4zm.1-.8zm.2 .4zm1 .1zm.3-.9zm.1 0zm.1 .3zm.2 0zm.1 .2zm.4 .5zm.1-.6zm.3 .4zm.2-1zm.2 1.4zm.1-.4zm.2-.8zm.9 .5zm.1-.6zm.3 .3zm1-.2zm.5 .2zm.9 .8zm.9-.4zm9.7 .3zm.5 .1zm-3.5 1zm-2.2-.1zm-.6 .8zm-5.6-1.2zm-.3-.2zm-.2 .6zm-.4 .4zm-.1 .4zm-.1-1.1zm-.6 1.1zm-.3-.7zm-.1 .2zm-.8-.4zm-.2-.3zm-.9 .9zm-.5-.9zm-.5 .7zm0-.7zm-.4 0zm-.4 .3zm0-.2zm-1.1 .3zm-.3-.5zm0 .7zm-.1 .5zm-.5-.6zm-.1-.3zm-.5-.4zm0 .3zm-.3 .7zm-.2-.8zm-.3 .9zm0-1.1zm0 .1zm-.3-.1zm0 1zm-.6-.6zm-.2 1zm-.2-.1zm-.1 0zm-.2-.1zm0-.7zm-.1 0zm-.4-.4zm-.1 .2zm-.2-.1zm0 .8zm0-.1zm-.3-.7zm-.1 .4zm-.1-.3zm-.2 .1zm-.3-.1zm-.2-.3zm-.5 .4zm-.5 .7zm0-.9zm-.3 .1zm-.1 .1zm-.1 .6zm-.2 .1zm-.2-1zm-.1 1.2zm-.5-1zm-.3-.3zm-.3 .6zm0 .7zm-.1-.3zm-.3 0zm-.2-.1zm-.6-.7zm-.7 .9zm-.2 .3zm-.4-1.4zm0 .6zm-.1 .5zm-.3 0zm-.4-.1zm-.1 .3zm-.4-.2zm-.8 .3zm-.3 0zm-.2-.6zm-.2-.6zm-.3 .2zm-.3-.2zm-.3 .2zm0 .9zm-.1-.7zm-.1-.3zm-2.4 .5zm-.3-.3zm-.5 0zm-.7-.3zm-6.2 .2zm-.8 .6zm-3.7-.2zm-1.4 .1zm1.3 .8zm1.3 .6zm3.5 0zm.7-.4zm1 .6zm2.7 .1zm.2-.7zm1.9 .4zm.9-.5zm.4 .1zm.3 .6zm.7-1zm.6 0zm1.2 1.3zm.8 0zm.3-.3zm.5-.6zm.8 .6zm.4 .1zm1.3-.7zm.6 .3zm.3-.1zm.1 0zm.3-.6zm.3 1.1zm.4-.1zm.2-.8zm.7-.2zm.1 1.1zm.1-.8zm.4 .1zm.3 .3zm.5-.2zm.7-.4zm0 .3zm.5 .3zm.3 .2zm.1 .4zm.2-.6zm.1-.3zm0-.2zm0 .1zm.5 .2zm.1 .9zm0-.5zm0 .4zm0-.1zm.2-.4zm0 .3zm.1-1.1zm.1 .8zm.3-.8zm0 .8zm0-.8zm.2 .1zm0 1.2zm0-1.3zm.5 .5zm.1 .5zm.7-.9zm.6 .3zm.2 0zm.2-.2zm0 .7zm.3-.7zm.1 .7zm.4-.9zm.1 1.3zm.4-.8zm0 .6zm2.2-1.1zm.5 .1zm.2 1zm.1-1zm.9 .3zm3.1-.1zm.4 .7zm3.9-1zm-2.6 1.7zm-.7 .5zm-1.6-.3zm-1.6 .3zm-.8 .6zm-.4-.7zm-1.6 .6zm-.2-.2zm-2.9 0zm-.1 .3zm-.3-.2zm-.2-.8zm-.2-.2zm-.6 .4zm-.2 .1zm0-.3zm-.2 .1zm-.2 .9zm-.2-1zm-.2 0zm-.1-.3zm-.9 1.4zm-.2-.9zm-.3-.1zm-.4 .6zm-.4-.8zm-.3 .9zm-.5-.7zm-.6 0zm-.6 .4zm-.2 .5zm-.3 .1zm-.2-.1zm-1.1-1.3zm-.7 .2zm-.3-.1zm-2 .2zm0 .5zm-.7 .2zm-.2 0zm-1.1-1zm-1.3 .3zm-1.9 .3zm-3.1-.5zm-1.5 1.2zm-2 1zm3.6 .1zm2.5-.9zm.9 1.4zm1.6-1.4zm.8 1.3zm.6-1.3zm.5 .2zm1.9 .6zm.5-.7zm.7 .7zm.2 .5zm3.1-1zm0 0zm.4-.1zm.4 .3zm.2-.5zm.1 .1zm1.3 1.2zm3.2-.6zm.3 .7zm.1-1.1zm0 .5zm.1 .3zm2.3-.2zm.5 .2zm.8 .1zm.5-.2zm0-.6zm.8-.2zm.1 .1zm.8 .5zm1.5 .3zm2.3-.4zm3.9 .4zm-1.5 .5zm-5.8 .8zm-2-.9zm-.1 1.4zm-.4-.9zm-.9-.1zm-.1 .9zm-.2-.3zm-1.7-.6zm-.5 .3zm-2.1 .4zm-.7-.1zm-1.2 .2zm-.5-.1zm-.5-.8zm-1.8 .3zm-2.1-.2zm-1.3 0zm0-.2zm-5.9-.1zm-.7 .8zm-.3-.1zm-.4 0zm-4.5 .6zm-5-.3zm2.1 .7zm7.1-.2zm1.4 1.2zm.6 .1zm1.6-.1zm1.7-.5zm1.8 0zm5.6-.4zm1.3 .1zm1.9-.5zm.9 1.2zm.1-.2zm.6-.5zm7.7 .6zm5.3-1.1zm-.6 1.7zm-1.5 0zm-11 .4zm-5.7 .6zm-5.5-.4zm-18.4 .1zm5.4 .8zm1.3-.2zm2.6 .1zm10.3 .8zm6.6-.5zm2.1 .1zm.9 .3zm.8 .5zm9.3-.6zm-15.1 1zm-.9 .4zm-1.5 .6zm-4.9 1.5zm5.4-.3zm3.1 0zm7.9 .5zm2.1-.6zm16 1.7zm-6.2 .2zm-2.2-1zm-3.5 1.1zm-10.4-.7zm-4.3-.1zm-4.8 .7zm-2.5-.9zm-3.1 .2zm-2 .1zm-1-.3zm0 .9zm-12.5-.8zm4.7 2zm11.5-.8zm5 1zm.6-.4zm1.7-.4zm0 1zm2.3-.5zm.3 .2zm.8-.3zm1.3-.5zm3 1.2zm6.3-.6zm-2.4 1.8zm-5.4-1zm-.3 .4zm-1 .6zm-2.9-1zm-1.1 1.2zm-3.8-.3zm-.1 .2zm-.3 0zm-.6 .2zm-.3-.9zm-6.4-.2zm-3.6 .9zm-7.1-1zm-5.3 .2zm-.1-.1zm8.1 2zm10.6-.4zm.2 0zm1.7 .8zm3-.8zm1.1 .9zm.4-.1zm.8-.1zm.3-.4zm.1-.2zm.3 .1zm.4 .8zm.1-.2zm.1-1zm1.1 .3zm.7 .8zm.6-.1zm.3-.3zm.7 .5zm1.3-.2zm.3-.3zm.7 .3zm.7-1zm1.7 .6zm4.1-.6zm1.5 1.9zm-5.7 .3zm-.1 .5zm-.7-.4zm-.1-.7zm-1.8-.2zm-.3-.1zm-.1 1.2zm-.6-.8zm-.2-.2zm-.1 1.2zm-.2-.7zm0 0zm-.6-.1zm-.1-.2zm-.7 .9zm0-.1zm-.3-.5zm-.2-.6zm-.2 .5zm-.4 .8zm-.1-.4zm-.1 .4zm-.9-.7zm-.5 .3zm-.6-.8zm-.3 .5zm-.2-.1zm-.9-.2zm-.5 .5zm-.1-.7zm-1.7 .4zm-1 .1zm-.4-.7zm-.4 .2zm-.3 1.1zm-.2-.5zm-.6 .5zm-2-.2zm-.9-.3zm-.2-.6zm-.4-.1zm-.8 .2zm-.3 .2zm-8.4 .2zm-.6-.4zm-.4 2.5zm3.3-1.1zm.3 .8zm1.5 0zm0 .3zm1.2-1.1zm.7 .3zm.4 .3zm.3-.4zm2.1 .8zm.8 0zm1.3 .2zm.2-.8zm.7-.3zm3-.2zm.8 1.2zm.2 0zm1.1-1.2zm.2 1.2zm.3-1.3zm.2 .8zm0-.6zm.4 1zm.3-.9zm0 .3zm0 .5zm.2-.6zm.9-.1zm.2 .3zm.3 .7zm.2-1.1zm.1 1.1zm.7-.4zm.4 .3zm0-.6zm0 .2zm.1-.3zm0 .5zm0-1.1zm.3 1.1zm0-.9zm.8 .6zm0 .3zm0 .2zm.3-.2zm.2 .1zm.2-1zm.1 0zm.3 .9zm.1-1zm.1 1.3zm0-.4zm.2-.4zm.2 .3zm.3-.7zm.7 .3zm0-.3zm.1 .7zm.4-.7zm.7 .7zm.6 .3zm.3-.8zm.1-.2zm.6 1.2zm.1-1.1zm.6 .2zm.1-.2zm1.6 .8zm.8-.7zm3.3 .6zm.3-.1zm.2 .5zm2.7-1.1zm1.3 1.6zm-3.2 .2zm-3.1 .7zm-1-.9zm-.2 1zm-.4-1.2zm-.2 .3zm-.8-.4zm-.1 1.1zm-.3-1zm-.1 1zm-1.7-.5zm0 .3zm-.6-.9zm-.2 1.1zm-.4-.9zm0 .4zm-.7 .4zm0 0zm-.2 .3zm-.4-.1zm0-.2zm0-1zm-.1-.1zm-.2 .3zm-.1 .3zm-.1 .8zm0-.6zm-.3 .4zm-.1-1.2zm-.2 .1zm-.1 .8zm0 .1zm-.1-1zm-.2 .9zm-.1-.3zm0 0zm-.3-.1zm-.2-.2zm-.3 .6zm-.3-.6zm-.1 .3zm-.2 0zm-.4-.4zm-.3 .3zm-.2 .1zm-.1-.5zm-.1 1.3zm0 0zm-.1-.2zm-1.2-1.2zm-.5 .2zm-.5-.2zm-.1 .2zm-.3 1zm-.2 0zm-.3-.8zm-.1 .5zm-.4 .3zm-.2-.3zm-.3-.9zm-.4 1.3zm-.3-.2zm-.2-.7zm0 .3zm-.3 .6zm-1.6-1.1zm-.2 1.2zm-1.2-.7zm-.7 0zm-.2 0zm0-.7zm-1.1 1.2zm-1 .1zm-.8-.6zm-.7-.1zm-.3-.3zm-.3 .7zm-.2-.4zm-2.4 .6zm-.3-1.2zm-.2 1.4zm-3-1.3zm-1 .3zm-.2-.1zm-.5 .5zm-1.1-.6zm-4.9 2zm2.7-.1zm.7 .5zm2.3-1.1zm1.7 .8zm1.7 .3zm2.7-.6zm1.5-.1zm1.4 .3zm.1 .2zm.1-.9zm.6 .8zm1-.8zm.4 1.2zm1.1-.7zm.5 .8zm0-.6zm.6-.2zm.2-.4zm1.7 .3zm.1 .7zm.1-1zm.2 .2zm.1 1.1zm.2-1.2zm0 .4zm.4 .7zm0-.7zm.1-.3zm.1 .1zm.6 .8zm0-.8zm.2-.3zm0 .8zm.3-.3zm.4-.2zm.1-.4zm0 .3zm0 .9zm.1-.7zm.2-.5zm.7 1.2zm.3-1.2zm.2 1.3zm.1-.5zm.3 .2zm0-1zm.1 0zm.3 1.3zm0-1.2zm0 .9zm.4 .4zm0-1.2zm.1-.2zm0 .1zm.3 .7zm.1-.7zm.6 .9zm.2-.2zm.1-.2zm.2-.6zm.1 .2zm.1-.2zm0 .1zm.2 .6zm.2 .3zm.1-.2zm0 .1zm.1 .5zm.7-.8zm.1 .3zm.3-.6zm.3 .6zm0-.8zm0 .3zm.1-.2zm0 .3zm.1 .9zm.3-.9zm.2 .9zm.8-.2zm0-1.1zm.4 .5zm.3 .3zm1.3 .5zm0-.2zm2.1-1.2zm.2 .7zm3.3 0zm-.5 1.3zm-1.5 .1zm-1.8 .3zm0-.6zm-.2 .4zm-.1-.2zm-.1 .5zm-.5-.1zm-.2-.6zm-.4 1zm-.4-.4zm-.2-.6zm-.3 1zm-1.1 0zm-.7-.6zm-.2-.1zm-.1-.5zm-.3 .3zm-.1 .2zm0 .5zm-.2-1zm-.2 1.2zm0-1.2zm-.1 .6zm-.5-.6zm-.3 .3zm0 .3zm-.3 .6zm0-1.2zm-.3-.1zm0 1zm-.1-.2zm0-.3zm-.3 .8zm-.3-.3zm0-.8zm0 1.1zm-.4-.9zm0 1zm-.1-.9zm-1.6 .3zm-.3-.6zm0 .2zm-.4 .8zm-.1 .1zm-.1-.3zm0 .4zm-.2-.5zm-.2-.8zm-.1 .7zm-.3 .2zm-.9 .2zm-.9-.3zm0 .2zm-.2 0zm-1.2 .1zm-.6 .2zm-.3-1.3zm-.3 .3zm-.5-.1zm-.7 1zm-.6-.8zm-.1 .1zm-.1 .3zm-.4-.1zm-1.3 .6zm-1.6-1.4zm0 .3zm-1 .4zm-.5 .3zm-.7-1zm-3.4 1.1zm-2.1-.5zm-1.5 .6zm-2.9 1.3zm2-1zm2.8 1zm3.9 .4zm2.8-.5zm.6-.3zm6.2-.5zm.1 .6zm.7 .5zm.1 .1zm.2 .1zm.1-.7zm.1 .5zm.1-.3zm0 .3zm.3-1zm.3-.2zm.3 .9zm.4-.9zm.5 1.2zm.8-.9zm0 .7zm.1 0zm.3-1zm.3 .2zm.2 .6zm.1-.2zm0 .5zm.3-.6zm.5 0zm.7 .8zm.2-1zm0 .9zm.1-.4zm.2-.6zm.3 .2zm.7 .7zm.2-1zm.3 1zm.1-.4zm.2 .4zm.5-.6zm.6 .6zm.1-.5zm.2-.1zm.1-.4zm0 0zm.8 .8zm.1-.9zm.5 .5zm.1-.5zm.6 1.2zm.1-.6zm.5 .4zm.1-1zm.1 1.4zm3.8-1.3zm.4 .3zm6.7 .9zm-11.4 .2zm-.1 .3zm0 .5zm-.2 .1zm-.5-.2zm-.2-.6zm0 .8zm-1.3-.8zm-.2 .9zm-1 .4zm-.3-.8zm-.2-.5zm-.4 .7zm-.5-.2zm-.5 .7zm-.2-.1zm-.1-1zm-.1-.2zm-.1 .9zm-.2-.3zm-1.1 .3zm-.5 .4zm-1 .1zm-.8-.2zm0-.7zm-.9 .9zm-.5-1.4zm-1.3 .4zm-1 .7zm-.5 .2zm-2.7-.9zm-3.6 .4zm-3.7 0zm-2.8-.7zm-4.2 1zm-.1 0zm-3.3-.2zm8.2 1.7zm6.6-.4zm2.7 .5zm1.8-.9zm1.6 .4zm.5-.6zm1.1 1.3zm3.2-.9zm.4 .1zm2.2 .2zm2.5-.1zm.2 .6zm.5-.6zm1.1 .1zm1.4-.8zm2.6 .7zm-3.8 1.1zm-2.3 .5zm-1.5-.4zm-3.4 .4zm-.1-.1zm0-.5zm-1.3 .9zm-4-.7zm-6.7 .1zm-1.7 .5zm-7.2 1.8zm15-.8zm4 .8zm14.1 .1zm-23.9 .9zm8.5 1.1z" stroke="#000" stroke-opacity="0.6" stroke-width="0.8" stroke-linecap="square" fill="none" filter="url(#bl)"/>
<line x1="267.50" y1="401.00" x2="267.50" y2="464.40" stroke="#777" stroke-width="0.8"/>
<line x1="231.60" y1="436.50" x2="296.80" y2="436.50" stroke="#777" stroke-width="0.8"/>
<rect x="231.50" y="401.50" width="65.00" height="63.00" fill="none" stroke="#333" stroke-width="0.9"/>
<text x="233.20" y="405.40" font-size="4.0" font-weight="bold" fill="#333">48.6%</text>
<text x="233.20" y="462.80" font-size="4.0" font-weight="bold" fill="#333">34.5%</text>
<text x="295.60" y="462.80" font-size="4.0" font-weight="bold" fill="#333" text-anchor="end">1.41%</text>
<text x="292.50" y="409.00" font-size="7.37" font-weight="bold" fill="#000" text-anchor="end" textLength="11.00" lengthAdjust="spacingAndGlyphs" stroke="#000" stroke-width="0.3">15.5</text>
<text x="239.42" y="470.00" font-size="3.0" font-weight="bold" fill="#666" text-anchor="middle">0</text>
<text x="249.20" y="470.00" font-size="3.0" font-weight="bold" fill="#666" text-anchor="middle">10²</text>
<text x="264.20" y="470.00" font-size="3.0" font-weight="bold" fill="#666" text-anchor="middle">10³</text>
<text x="279.85" y="470.00" font-size="3.0" font-weight="bold" fill="#666" text-anchor="middle">10⁴</text>
<text x="293.54" y="470.00" font-size="3.0" font-weight="bold" fill="#666" text-anchor="middle">10⁵</text>
<line x1="239.42" y1="464.90" x2="239.42" y2="466.20" stroke="#666" stroke-width="0.35"/>
<line x1="244.64" y1="464.90" x2="244.64" y2="466.20" stroke="#666" stroke-width="0.35"/>
<line x1="249.20" y1="464.90" x2="249.20" y2="466.20" stroke="#666" stroke-width="0.35"/>
<line x1="258.98" y1="464.90" x2="258.98" y2="466.20" stroke="#666" stroke-width="0.35"/>
<line x1="262.24" y1="464.90" x2="262.24" y2="466.20" stroke="#666" stroke-width="0.35"/>
<line x1="264.20" y1="464.90" x2="264.20" y2="466.20" stroke="#666" stroke-width="0.35"/>
<line x1="274.63" y1="464.90" x2="274.63" y2="466.20" stroke="#666" stroke-width="0.35"/>
<line x1="277.89" y1="464.90" x2="277.89" y2="466.20" stroke="#666" stroke-width="0.35"/>
<line x1="279.85" y1="464.90" x2="279.85" y2="466.20" stroke="#666" stroke-width="0.35"/>
<line x1="289.63" y1="464.90" x2="289.63" y2="466.20" stroke="#666" stroke-width="0.35"/>
<line x1="292.24" y1="464.90" x2="292.24" y2="466.20" stroke="#666" stroke-width="0.35"/>
<line x1="293.54" y1="464.90" x2="293.54" y2="466.20" stroke="#666" stroke-width="0.35"/>
<line x1="21.20" y1="482.40" x2="21.20" y2="461.00" stroke="#000" stroke-width="0.8"/>
<line x1="20.80" y1="482.00" x2="44.80" y2="482.00" stroke="#000" stroke-width="0.8"/>
<path d="M18.6 463.2L21.2 460.0L23.8 463.2" fill="none" stroke="#000" stroke-width="0.8"/>
<path d="M42.6 479.4L45.8 482.0L42.6 484.6" fill="none" stroke="#000" stroke-width="0.8"/>
<text x="19.40" y="478.60" font-size="5.94" font-weight="bold" fill="#000" textLength="10.60" lengthAdjust="spacingAndGlyphs" stroke="#000" stroke-width="0.3" transform="rotate(-90 19.40 478.60)">GFP</text>
<text x="23.80" y="489.60" font-size="5.94" font-weight="bold" fill="#000" textLength="16.40" lengthAdjust="spacingAndGlyphs" stroke="#000" stroke-width="0.3">CD107</text>
</svg>
</body></html>
